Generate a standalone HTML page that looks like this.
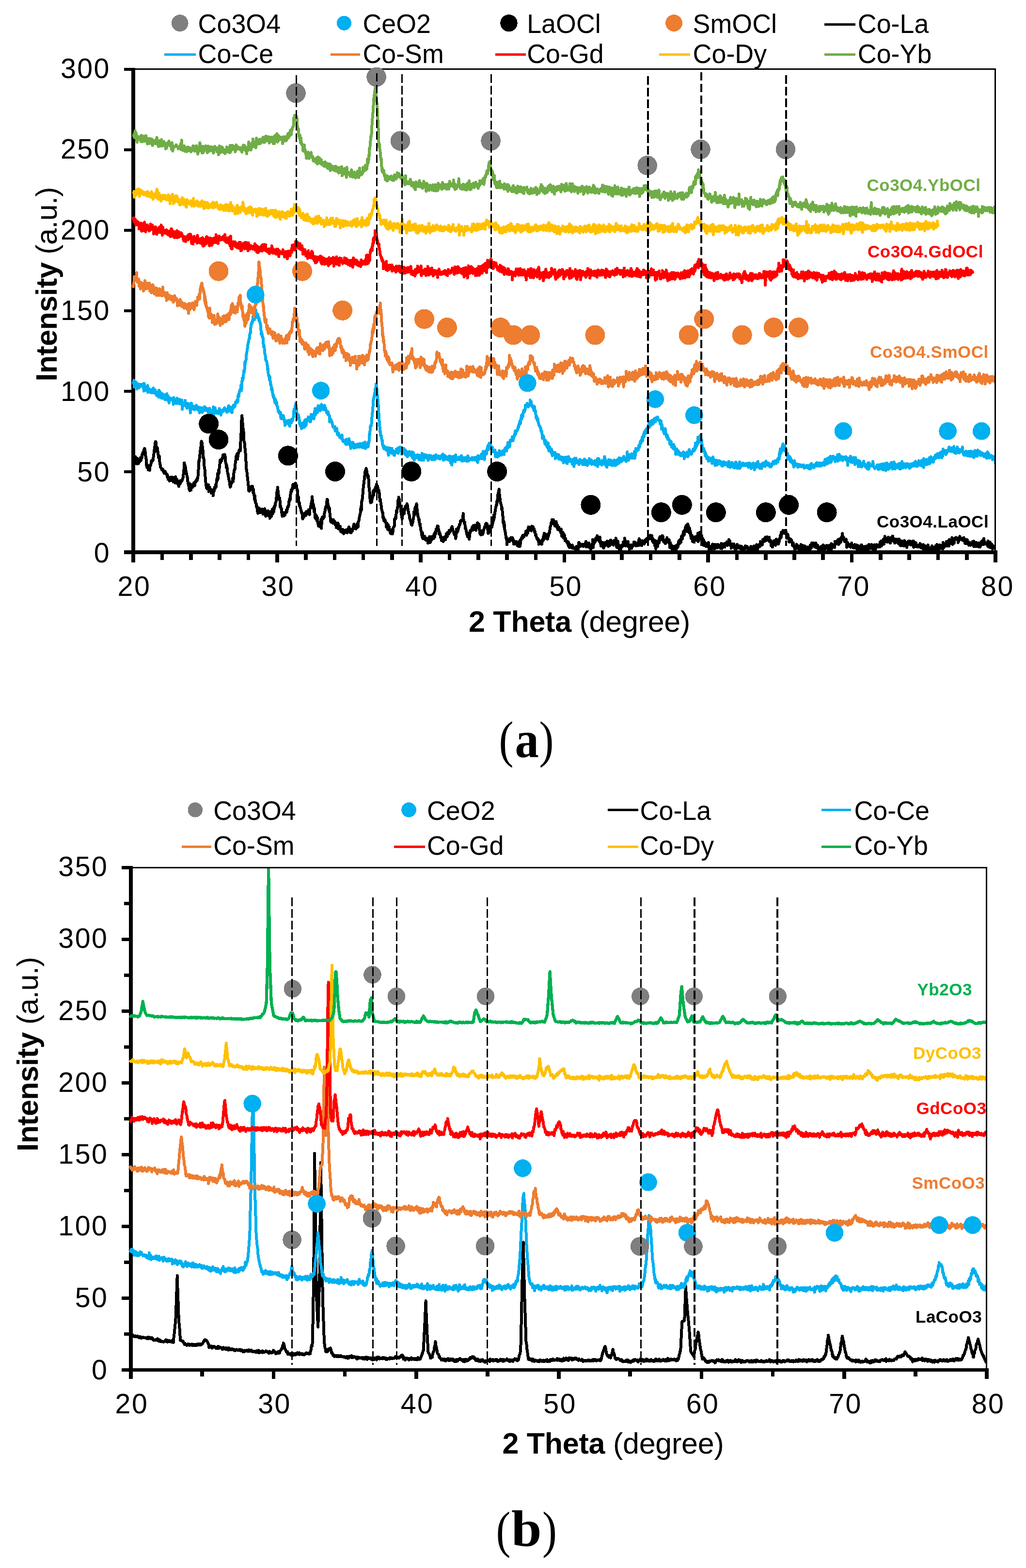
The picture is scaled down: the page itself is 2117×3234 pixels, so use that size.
<!DOCTYPE html>
<html><head><meta charset="utf-8"><title>XRD patterns</title>
<style>html,body{margin:0;padding:0;background:#fff}svg{display:block}</style></head>
<body>
<svg width="2117" height="3234" viewBox="0 0 2117 3234" shape-rendering="crispEdges">
<rect x="0" y="0" width="2117" height="3234" fill="#fff"/>
<g id="chart-a">
<line x1="275.2" y1="139.6" x2="275.2" y2="1159.8" stroke="#000" stroke-width="7.5"/>
<line x1="256" y1="1139" x2="2057.6" y2="1139" stroke="#000" stroke-width="7.8"/>
<line x1="256" y1="1139" x2="275.2" y2="1139" stroke="#000" stroke-width="6.8"/>
<line x1="256" y1="973" x2="275.2" y2="973" stroke="#000" stroke-width="6.8"/>
<line x1="256" y1="807" x2="275.2" y2="807" stroke="#000" stroke-width="6.8"/>
<line x1="256" y1="641" x2="275.2" y2="641" stroke="#000" stroke-width="6.8"/>
<line x1="256" y1="475" x2="275.2" y2="475" stroke="#000" stroke-width="6.8"/>
<line x1="256" y1="309" x2="275.2" y2="309" stroke="#000" stroke-width="6.8"/>
<line x1="256" y1="143" x2="275.2" y2="143" stroke="#000" stroke-width="6.8"/>
<line x1="275.2" y1="1139" x2="275.2" y2="1159.8" stroke="#000" stroke-width="7.6"/>
<line x1="334.5" y1="1139" x2="334.5" y2="1154.8" stroke="#000" stroke-width="7.6"/>
<line x1="393.8" y1="1139" x2="393.8" y2="1154.8" stroke="#000" stroke-width="7.6"/>
<line x1="453.1" y1="1139" x2="453.1" y2="1154.8" stroke="#000" stroke-width="7.6"/>
<line x1="512.4" y1="1139" x2="512.4" y2="1154.8" stroke="#000" stroke-width="7.6"/>
<line x1="571.7" y1="1139" x2="571.7" y2="1159.8" stroke="#000" stroke-width="7.6"/>
<line x1="631" y1="1139" x2="631" y2="1154.8" stroke="#000" stroke-width="7.6"/>
<line x1="690.3" y1="1139" x2="690.3" y2="1154.8" stroke="#000" stroke-width="7.6"/>
<line x1="749.5" y1="1139" x2="749.5" y2="1154.8" stroke="#000" stroke-width="7.6"/>
<line x1="808.8" y1="1139" x2="808.8" y2="1154.8" stroke="#000" stroke-width="7.6"/>
<line x1="868.1" y1="1139" x2="868.1" y2="1159.8" stroke="#000" stroke-width="7.6"/>
<line x1="927.4" y1="1139" x2="927.4" y2="1154.8" stroke="#000" stroke-width="7.6"/>
<line x1="986.7" y1="1139" x2="986.7" y2="1154.8" stroke="#000" stroke-width="7.6"/>
<line x1="1046" y1="1139" x2="1046" y2="1154.8" stroke="#000" stroke-width="7.6"/>
<line x1="1105.3" y1="1139" x2="1105.3" y2="1154.8" stroke="#000" stroke-width="7.6"/>
<line x1="1164.6" y1="1139" x2="1164.6" y2="1159.8" stroke="#000" stroke-width="7.6"/>
<line x1="1223.9" y1="1139" x2="1223.9" y2="1154.8" stroke="#000" stroke-width="7.6"/>
<line x1="1283.2" y1="1139" x2="1283.2" y2="1154.8" stroke="#000" stroke-width="7.6"/>
<line x1="1342.5" y1="1139" x2="1342.5" y2="1154.8" stroke="#000" stroke-width="7.6"/>
<line x1="1401.8" y1="1139" x2="1401.8" y2="1154.8" stroke="#000" stroke-width="7.6"/>
<line x1="1461.1" y1="1139" x2="1461.1" y2="1159.8" stroke="#000" stroke-width="7.6"/>
<line x1="1520.4" y1="1139" x2="1520.4" y2="1154.8" stroke="#000" stroke-width="7.6"/>
<line x1="1579.7" y1="1139" x2="1579.7" y2="1154.8" stroke="#000" stroke-width="7.6"/>
<line x1="1638.9" y1="1139" x2="1638.9" y2="1154.8" stroke="#000" stroke-width="7.6"/>
<line x1="1698.2" y1="1139" x2="1698.2" y2="1154.8" stroke="#000" stroke-width="7.6"/>
<line x1="1757.5" y1="1139" x2="1757.5" y2="1159.8" stroke="#000" stroke-width="7.6"/>
<line x1="1816.8" y1="1139" x2="1816.8" y2="1154.8" stroke="#000" stroke-width="7.6"/>
<line x1="1876.1" y1="1139" x2="1876.1" y2="1154.8" stroke="#000" stroke-width="7.6"/>
<line x1="1935.4" y1="1139" x2="1935.4" y2="1154.8" stroke="#000" stroke-width="7.6"/>
<line x1="1994.7" y1="1139" x2="1994.7" y2="1154.8" stroke="#000" stroke-width="7.6"/>
<line x1="2054" y1="1139" x2="2054" y2="1159.8" stroke="#000" stroke-width="7.6"/>
<clipPath id="clipa"><rect x="265" y="120" width="1789.6" height="1021"/></clipPath>
<g id="curves-a" clip-path="url(#clipa)">
<path d="M276,953.4l.7-6.9 .7,.7 .7-2 .7,7 .7-10.3 .7,14 .7-7.9 .7,4.2 .7-1.5 .7,6.1 .7-11.5 .7,6 .7-.1 .7,5.2 .7-6.9 .8,3.7 .6-3.8 .7,1.8 .7,.3 .7-7.6 .7,6 .7-2.3 .7-3.2 .7-.8 .7-7.2 .7,.4 .7-4.2 .7,.6 .7,.6 .7-5.6 .7-.4 .8-2.9 .6,2.9 .7,5.4 .7,7.7 .7,1.4 .7,9.4 .7,9.8 .7,2.6 .7-3.2 .7-1.8 .7,1.4 .7,8.8 .7-5.1 .7-2.6 .6,4.1 .8,4.5 .7-8.9 .7-.2 .7-2.2 .7-3.5 .7-5.2 .7,1.2 .7-1.5 .7,1 .7-1.1 1-2.1 .4-5.5 .7-3.3 .7-10.4 .7,1.2 .7-8.1 .7-8 .9-3 .5,.6 .7,8.6 .7,5.3 .7,5.8 .7-8.4 .7,2.7 .8,7 .6,5.2 .7,5.9 .7,1.6 .7-4.7 .7,9.5 .7,7.6 .7,1.6 .7,4.8 .9,.9 .5,.6 .7,2.3 .7,1.8 .7-.7 .7,.9 .7-1.7 .7,4.2 .7-.3 .7,3.4 .7,1 .7-3 .5-1.2 .9,.5 .7,4.4 .7,.2 .7-.2 .7,2.2 .7-1.1 .7,6.2 .7-2.4 .7,6.9 .7-1.8 .7,2.8 .7-5.1 .7,5.4 .4,2.2 .3-5.9 .7,2 .7,.6 .7-4.6 .7,4.9 .7,2 .7-5.5 .7,4.7 .7-6.1 .7,5.1 .7-4.8 .7,9.3 .7-2.6 .7-1.7 .7-2.8 .7,6.7 .7,2.6 .7-12.7 .6,10.8 .8,2 .7-3.2 .7-4.7 .7,8.5 .7-2.1 .7-.4 .7-.5 .7,7.8 .7,1.6 .7-6.5 .7,2.1 .7-6.7 .7,5.4 .7-4.4 .7-1.5 .7-.5 .7,1.7 .7-1.6 .7-1.2 .7-1.9 .3-.5 .4-1.6 .7-6.1 .7-3.5 .7-9.1 .7-12.7 .7,6.3 .3,2.4 .4-3 .7,2.6 .7,4.5 .7,4.9 .7,4.8 .7,.1 .7,5.8 .9,2.7 .5,7 .7,1.1 .7,6.9 .7,1.1 .6,6.9 .8-2.3 .7,5.8 .7-14.2 .7,3.2 .7,4.8 .7,5 .7-10.2 .7,.8 .7-1.3 .7,5.2 .7-5.5 .7,2.5 .7-3.2 .7-3.5 .7,5.2 .6,0 .8,.8 .7-6.1 .7-3.3 .7,2.1 .7-2.6 .7-.8 .7-3.1 .7,3.3 .7-4.2 .7-1.8 .7-10.1 .7-9.2 .7-14.8 .7,.1 .7-8.8 .6-4.9 .8-5 .7-10 .7-1 .7-9.6 .3,6.5 .4-8.3 .7,3.4 .7,5.2 .7,7.3 .7,3.3 .7,15.2 .7-.3 .7,4 .7,15.9 .7,2.2 .7,5.4 .7,15.3 .7,7.6 .9,5.3 .5,6.2 .7-3.9 .7,6.2 .7-4.1 .7,3.4 .7-4.9 .7-3.1 .7,14 .7-9.9 .7,2.1 .7-1 .5,2.1 .2,1.7 .7,.5 .7,2.7 .7,4.9 .7-5.1 .7-1.6 .7,1.6 .7,3 .7-2 .6,9.8 .8-7.5 .7-1.5 .7-1.1 .7-7.1 .7-.8 .7,2.9 .7-2.7 .7-6 .7,5.1 .7-13.2 .9,1.1 .5-2.2 .7-12.6 .7,11.8 .7-9.9 .7-9 .7,6.4 .7-9.5 .7-4.9 .7-8 .4,1 .3-6.2 .7,5.8 .7-5.7 .7,.1 .7,1.9 .7-4.8 .7-1.8 .7-1.5 .7-4.2 .7,3.8 .7,1.6 .7-4.6 .6-.4 .8-1.3 .7,3.8 .7,1.8 .7,13 .7-1 .7,9.3 .7-4 .8,4.8 .6,5.8 .7,6.1 .7,.8 .7,5 .7,4.1 .7,4.5 .7-.1 .7,8.4 .9,4.9 .5-1.4 .7-.3 .7-6 .7-.1 .7-2.4 .7,.1 .7-1.1 .7-8.1 .7,3.5 .3,4.1 .4-14.8 .7-2.5 .7-5.1 .7-2.9 .7,.9 .7-10.8 .7-7.5 .7-.9 .7-9.1 .5,3.2 .2-2.6 .7,2.9 .7-8.2 .7,11.5 .7-8.7 .7-2.1 .7-3.4 .7-3.2 .7-1.6 .7,1.6 .7-3 .8,2.9 .6-19 .7-11 .7-14.9 .7-21.5 .5-3.5 .2-2.5 .7,11.8 .7,4.8 .7,9.7 .7,.9 .8,11.7 .6,13.1 .7,2.3 .7,4.6 .7,9.7 .7,6.3 .8,11.6 .6,11.6 .7,12.7 .7,.7 .7,9 .7,5.5 .7,5.9 .7,6.6 .7,6.5 .9,10.4 .5-5.8 .7,5.9 .7-.7 .7-5.1 .7,2.7 .7-5.7 .7-.4 .7,2.4 .7-1.9 1-1.3 .4,.8 .7,3.9 .7,8.7 .7-6.1 .7,11 .7,1.4 .7,7.3 .7,2.4 .5-9.1 .2,12 .7,1.6 .7,1.5 .7,1.1 .7,6.3 .7-1.9 .7,9.8 .7-1.8 .7,7.2 .6-8.6 .8-2.7 .7,8.3 .7,1.3 .7-2.9 .7-4.8 .7,3.7 .7,4.1 .7-2.3 .7,.2 .7,.1 .7-3.2 .7,1.3 .7-3.3 .7,10.6 .7-8 .7,2.9 .7-4.4 .7,6.6 .7-8.4 .7,10.1 .7-2.4 .7,7.7 .5-11.3 .9,5 .7,1.2 .7,3.5 .7-4.8 .7,2.2 .7-7 .7,5.1 .7,4.5 .7,1.6 .7-4.6 .7,8.6 .7-.5 .7-5.3 .4-7.7 .3,2.1 .7,2.2 .7,5.4 .7-4.4 .7-10 .7,4.9 .7,4.4 .7-9.2 .7-3.1 .7,7.9 .7-8.5 .7-3.1 .7,1.4 .9-3.3 .5-5.7 .7,0 .7-5.9 .7-6.4 .7-8.8 .7-.7 .8-9.5 .6,6.2 .7,7 .7,3.8 .7,7.9 .7,.5 .7-3.3 .7,7.3 .7,11.6 .7-2.3 .7,5.7 .7-1.2 .7,9.4 .7-2.5 .6,9.7 .8-6.8 .7,5.7 .7-1.7 .7-4.2 .7,6.5 .7-6.8 .7-.5 .7,4.9 .7-4.5 .7-.6 1,.1 .4-4.6 .7,4.2 .7-4.1 .7-4.9 .7-2.9 .7-1.1 .7,1.7 .7-5.4 .7-7.9 .4,2.9 .3-4.9 .7-2.7 .7,4 .7-11.1 .7-2 .7-7.7 .7-.1 .7,2.8 .7-6 .7,1.9 .7-9 .7-1.1 .7,3.7 .7,3.4 .7-3.2 .7,1.2 .7,1.6 .7-2.7 .7-6.4 .7,2.2 .8,1.3 .6,1.9 .7,8.9 .7-1.6 .7,8.1 .7,9.8 .7-3 .7,9.9 .7,5.7 .7-3.5 .7,7.9 .7-.1 .7,3.6 .7,2.1 .7,4.1 .7,.4 .7,4.8 .7-.6 .7,6.1 .7,5.8 .7-3.7 .6,.8 .8-7 .7,5.4 .7-6.2 .7-.9 .7,4 .7-1.8 .7,2.2 .7-.2 .7-8.1 .7,.3 .9,3.7 .5-3.1 .7,.3 .7,1.6 .7-5.6 .7,5.1 .7,3.2 .8,1.4 .6-11.8 .7-.7 .7-.8 .7-5.6 .7-3.9 .7,.1 .7-7.2 .6-7.4 .8,11.4 .7,1.8 .7,2.8 .7,1.3 .7,12.9 .7-7.5 .7,5.9 .8,9.3 .6,6.6 .7,.9 .7-7.3 .7,4.4 .7-3.1 .7,10.2 .7-6.8 .7,7.5 .7,5.8 .7-2.1 .7,7.1 .7-7 .7,5.2 .7,2.1 .7-4.5 .7,3.7 .7-4.8 .7-8.7 .7,18.3 .7-12.7 .7-3.6 .7-7 .7,4.2 .7-3.6 1,1.4 .4-2.9 .7,1.7 .7-8.5 .7-2.2 .7-3.5 .7-4.6 .7-3.4 .7,1.3 .7-4.3 .7-7.2 .7-5.1 .6,1 .8,9.5 .7-.3 .7,10.1 .7-4.6 .7,7.8 .7-4.9 .7,10.9 .7,5.7 .7,7 .7,4.9 .7-5.3 .7,5.9 .7-2.6 .7,2.3 .7-4.7 .7,6.7 .7-7.4 .7,6.3 .7-3 .7,1.9 .7-1.9 .7,3.7 .7,4 .7-.6 .7-3.8 .7,10 .7-3.4 .7,3.6 .7,.1 .7-5.2 .7-4.3 .7,3.8 .7,8.2 .7-7.3 .7,6.8 .7-3.3 .7,4.6 .7-6.2 .7,10.5 .7-3.4 .7,4 .7-2.3 .7,2.2 .7-1.9 .7,4.6 .7-7.2 .7,1.5 .7,7.1 .7-2.9 .7-1.5 .7-.3 .7,1.5 .7-4.2 .7,4.3 .7-5.1 .7,1.9 .7,3.6 .7,.9 .7-7.4 .7,5.3 .7-6.8 .7,5.5 .7-8.9 .7,1.7 .7,2.5 .7,1.7 .7,5.7 .7-2.1 .7,2.6 .7-.7 .6-5.6 .8-1.1 .7,4.6 .7-3.5 .7-1.6 .7-4.7 .7,4.1 .7-9.2 .7,6.6 .7-3.1 .7,5.6 .7-4.6 .7,.5 .7,5 .7-7.8 .7,4.8 .7-7.4 .7,7.1 .9-.1 .5-1.1 .7-10.8 .7-.1 .7-3.6 .7-5.1 .7-3.2 .7-2.9 .7-3.4 .7-8.4 .7-4.3 .7,7.6 .5-5.1 .2-13.7 .7-.8 .7-5.9 .7-6.8 .7-8.6 .7-9.6 .7-3.7 .7-7 .7-4.5 .7-8 .7-5.6 .8-2.8 .6,2.2 .7-6.5 .7,4.6 .7,.9 .7,9.3 .7-3 .7,7.6 .7-4.4 .3,2.1 .4,1.6 .7,18.5 .7,4.1 .7,6.9 .7,13 .7,3.3 .7,6.3 .7-.6 .7-1.6 .7,1.2 .7-8.4 .7,1.4 .7-4.2 .7-4.6 .7-7.3 .7,9.1 .3-5.5 .4,.6 .7-6.8 .7,3.3 .7-4.1 .7-2.6 .7-2.4 .7,.9 .7-3.4 .5-3.3 .9,14.2 .7-10.7 .7,3.8 .7,1.3 .7,8.2 .7-.2 .7-3.7 .7,8.6 .7,7.6 .6,6.2 .8-3.9 .7,7.2 .7,5.3 .7,1.9 .7,8.4 .7,1.2 .7,3.8 .7-.2 .7,11.1 .7-2.2 .9,7.6 .5-4.8 .7,5.5 .7-2.4 .7,.5 .7,2.4 .7,3.8 .7,1.1 .7,7.4 .7-8.8 .7,1.7 .7,11.2 .7-1.9 .7-6.8 .7,9.9 .7,.7 .7-7 .7,6.2 .7,1.9 .7,3.7 .7,1.8 .7-2.7 .7,3.5 .7-3.7 .7-2 .7,.5 .3,5.5 .4-10 .7,5.7 .7-9 .7-.9 .7-.7 .7-1.1 .7-14.6 .7,.7 .7-.2 .7-5.3 .7,2.1 .7-13.3 .7,3.3 .7-4.6 .7-6.3 .7-1.3 .7-13 .7,3.1 .7-10.3 .5,1.8 .9,3 .7,9.2 .7,5.2 .7-2.2 .7,9.6 .7,4.9 .7,5.1 .7,2.7 .7,5.7 .7-8.9 .7,.9 .7-9.2 .4-2.9 .3,3.6 .7-3.5 .7,9.1 .7-7.8 .7,.5 .7-6.1 .7-2.4 .7-.1 .7,.6 .7-.7 .8-4.4 .6,.9 .7,3 .7,5.6 .7,5 .7,3.7 .7,2.4 .7,1.7 .6,5.1 .8,4.7 .7,.2 .7,3.4 .7,.9 .7,5.8 .7-2.2 .6,3.9 .8-3.5 .7-3.4 .7-.5 .7-6.5 .7-3.4 .7-10.6 .7,3.4 .7,2.5 .7-13.2 .7-2.2 .7,0 .7,2 .7-4.3 .4-4.6 .3,3.3 .7,7.4 .7,4 .7,10.7 .7,.3 .7,1.9 .7,5.8 .3-1.7 .4-.1 .7,7.7 .7,4.2 .7-2 .7,6.4 .7,4.4 .7,5.3 .7,1.1 .7,6.4 .4,.2 .3,3.3 .7-9 .7,12.2 .7,.1 .7-3.9 .7,2.4 .7,.3 .7-4 .7,3.8 .7,2.6 .7-1.1 .7,2.8 .7-1.9 .7,.4 .7-2.1 .7,1.6 .7,.1 .7,8.4 .7-5.3 .7-3.7 .7,4.8 .7-.3 .7-9 .4,12.5 .3-6.9 .7,6.2 .7-5.6 .7-4.1 .7,5.4 .7-7.6 .7,2.6 .7,.9 .7,0 .7,.8 .7-3.7 .7-3.7 .7,6.8 .7-9.6 .7,6.9 .7-9.6 .7,4 .7-2.2 .7-8.5 .7,2.1 .7-.7 .7-2.7 .7-5.3 .3,.5 .4-.6 .7,.5 .7,9.7 .7-3.3 .7,9.7 .7,.5 .7-2.8 .7,4.6 .7,1.7 .4,0 .3,4.6 .7-3 .7,7.8 .7-1.8 .7-4.5 .7,4.2 .7,.1 .3-3.9 .4,8.2 .7-.8 .7-1.7 .7-6.2 .7,5.5 .7-5.2 .7,2.5 .7,2 .7-6.1 .7-5.9 .7,2.1 .7,2.4 .7,1.5 .9-9.3 .5,2.7 .7,.1 .7-.4 .7,.8 .7-7.4 .7,.4 .7,3.7 .7-2.9 .7-1.4 .7,.8 .7-4.7 .5,1 .2-2.4 .7-2.1 .7,1.6 .7,6.2 .7,.3 .7,.6 .7,4.5 .7-2.3 .7,5.8 .7,.6 .7-.4 .8-2.9 .6,10.8 .7-6.4 .7-12.7 .7,5.9 .7,1 .7-4.6 .7,1.6 .7-7.2 .7,2.6 .7-3 .7-3.1 .7-2.8 .7-.9 .6,.7 .8-7.1 .7-1.1 .7,.8 .7-1.7 .7-.3 .7,.3 .7,.7 .7-5.9 .8-8.4 .6,10.8 .7,5.2 .7,1.1 .7,4.4 .7-3.5 .7,13.3 .7,.6 .7-.6 .9,6.6 .5,.1 .7,4.9 .7,.9 .7,4.2 .7-1.4 .7-6 .7,.9 .7,9.7 .7,1.9 .3-5.8 .4,.9 .7-9.3 .7-4 .7,.3 .7,1 .7-2.8 .7-1.3 .7-3.3 .7,1.3 .4,1.3 .3-4.8 .7,7.4 .7-9 .7,0 .7,3.8 .7-2.9 .7,4.7 .7-6.4 .7,6.4 .7-3.2 .7,7.1 .7-9.9 .7,1.2 .7,.9 .7-7.7 .7,8.9 .7,0 .7-.7 .7-6 .7,2.7 .7,9.9 .7,4 .7,4.7 .7-5.8 .7,2.5 .6,4.9 .8-8.4 .7,3.3 .7,3.2 .7,.9 .7-6.1 .7,3.2 .7-5.1 .7-2.3 .7-2.9 .7-.3 .7-3 .7-1.2 .7-3.8 .4,3 .3-.8 .7-3.7 .7,5.3 .7-1.2 .7-2.3 .7,10.2 .7,4.9 .7,4.2 .7-1.6 .5-6.8 .9,5.2 .7-1.8 .7-10.9 .7,7.9 .7-2.1 .7-3.2 .7-.5 .7-2.3 .7,3.2 .7-8.3 .8-.5 .6-2.5 .7-3 .7-10.7 .7,7.8 .7-7.4 .7-2.5 .7-4.9 .7-4.9 .7-4 .7-2.6 .7-3.3 .5,1 .2-4.1 .7-5.5 .7,3.8 .7-14.7 .7-4 .7,2.4 .7-4.6 .4-6 .3,7.3 .7,3.4 .7,11.1 .7-2.2 .7,8.9 .7,1.8 1,3 .4,3.5 .7,5.7 .7-3.5 .7,14.6 .7,2.5 .7,12.6 .7-2.9 .7,10.4 .7-7.5 .4,12.9 .3,.2 .7,2.2 .7,4.4 .7,4.2 .7,6.3 .7,2.9 .7-1.5 .3,6.4 .4,7.6 .7-7.5 .7,.3 .7-2.8 .7,1.7 .7,.2 .7-1.3 .7,3.4 .7-6.5 .7,2.3 .7,1.5 .7-2.5 .7-3.3 .7,5.4 .7-5.2 .7,.9 .4-1.2 .3,2.9 .7-.6 .7,1.2 .7,5.1 .7,4.9 .7-6.1 .7,3.2 .7-2.1 .7,1.5 .7,3.6 .7-3 .7-2.3 .7,.7 .7,1.2 .7,2.8 .7,3.9 .7-6.9 .7,2.2 .6,1.1 .8-4.5 .7,10 .7-6 .7,5.6 .7-13.1 .7,7.9 .7-8.3 .7-.4 .7-3.2 .7-1.1 .7-2.5 .7,4 .7-6.3 .7,2.8 .7-.3 .6,.7 .8-2.9 .7,0 .7-.8 .7-3.3 .7,0 .7-4.8 .7,0 .7,8.5 .7-6.9 .7-3.7 .7,6.5 .7-6.8 .7-2.6 .5-3.9 .2,7.8 .7-6.7 .7,1 .7,3.4 .7-2.3 .7-.9 .7-1.3 .7,4.1 .7,3.2 .7-9.6 .7,2.6 .8,3.9 .6-1.8 .7-3.9 .7,2.9 .7,1 .7,.8 .7,3.1 .7,4.7 .7-1.7 .7,6.7 .7-1 .7,.5 .4,5 .3-.7 .7,.8 .7,4.4 .7-.2 .7-1.7 .7,4.1 .7-1.6 .7,9.4 .7-6.2 .7,1 .7,1.7 .7-2.8 .7,5 .7-3.2 .7-1.9 .7,1.8 .4,4.6 .3-8.4 .7,3.4 .7-5.4 .7,3 .7-7.7 .7,6.4 .7-6.1 .3-7.9 .4,10.2 .7-6.6 .7-1.1 .7-1.1 .7,6 .7,3 .7-6.4 .7-1.2 .7-.4 .7,8.8 .7,.8 .7-5.3 .7,0 .7-4.5 .7-3.2 .7,.9 .7-5.1 .7-3.8 .7-5.7 .7-.6 .8-6.6 .6-1 .7,.1 .7-5.6 .7,1.5 .5-.3 .2,1.5 .7-2.4 .7,.1 .7,9.1 .7-.8 .7,.3 .7,4.3 .7-4.2 .7-1.4 .7,3.5 .7-6.9 .7,3.7 .7,7.4 .7-1.1 .3-3.5 .4,7.1 .7,2.6 .7-.7 .7-2.2 .7-1.8 .7,4.2 .7,2.1 .7-2 .7,3.8 .7,1.4 .7,1.8 .7-7.3 .7,11.8 .7,3.2 .7-5.4 .7-3.5 .4,7.1 .3-3.1 .7-.5 .7,8.8 .7-8.5 .7,8.7 .7-5.6 .7,10.5 .7-2.2 .7-1.5 .7,3.4 .7,2.4 .7,1.2 .7,1.4 .7,.6 .7-2.1 .7,5.2 .7-5.9 .7,9.8 .6,.1 .8,1.8 .7-6.7 .7,3.1 .7,3.4 .7-1.3 .7-2 .7,2.5 .7-.7 .7,3 .7-5.9 .7,4 .7,.9 .7,2 .7-2.2 .7,2.2 .7-.6 .7,.2 .8,.5 .6-1.2 .7,10.2 .7-13.2 .7-.1 .7,.8 .7-.3 .7,1.8 .7,4.7 .7,.4 .7-6.2 .7-9.7 .7,9.3 .7-5.5 .7,2 .7-2.9 .7,5.3 .7-4.2 .7,3.8 .7-1.5 .7-2.1 .7,1 .7,2.4 .7-3.7 .7,4.5 .7-3.8 .7-.3 .7,1.6 .7,1.4 .7-3.8 .7-1.9 .7,2.7 .7-6.2 .7,11.2 .7-8.5 .7,8.1 .7-4.3 .7,4.4 .7-1.5 .7,1.8 .7-4 .7-3.8 .7,9.4 .7-3.2 .7,.3 .7,.7 .7,10.2 .7-10.5 .7,1.5 .7-6.1 .7,7.2 .7-8.3 .7-8.5 .7,16.8 .7-14.2 .7,7.2 .7-2.9 .7-1.7 .7-4 .7,.1 .7,2.6 .7-6.8 .7,.4 .7,.8 1-5 .4-1 .7,7.5 .7-3.3 .7-.4 .7-1 .7,.2 .7,8.1 .7,1.1 .7-9.4 .7,6.5 .7,6 .7,5.8 .7-.3 .7-3.7 .7,2.5 .7-5.7 .7,5.6 .7-6 .5,2.5 .2,3.2 .7,6.3 .7-5.2 .7-1.3 .7-1.4 .7-3.5 .7,6 .7-2.9 .7,1.8 .7-4.7 .7,2.9 .7-6.2 .7,6.3 .7,2 .7-1.4 .7,4.2 .7-6.3 .7,0 .7-.2 .7-4.9 .7,9.2 .7-4.8 .5-4.3 .2-2 .7,5.6 .7,.4 .7-1.7 .7,.7 .7-1.3 .7,.6 .7,5 .7,1.2 .7-9.4 .7,5.2 .7-4.5 .7-.1 .7,6.9 .7-4.4 .7-8.2 .7,13.7 .7,2.9 .7,2.8 .7-7.6 .7,6.5 .7-12.2 .7,6.1 .7,6.4 .7,1.4 .7,3.5 .7,0 .9-2.7 .5,4.6 .7-4.4 .7,2.8 .7-9.1 .7,3.3 .7-3.7 .7,3.6 .7-4.2 .7-1.6 .7-4.2 .7,4.8 .7,2.1 .7-1 .7-13.8 .7,3.9 .9,12.2 .5-6.5 .7,.9 .7,4.4 .7-3.7 .7-2.2 .7,1 .7,6.9 .7-9.9 .7,10.6 .7-3.9 .7,.6 .7,8.3 .7-7.7 .7,5 .7-3.8 .9-2.4 .5,3.9 .7,3.9 .7-5.5 .7,2.4 .7-1.6 .7-.9 .7-1.2 .7,1.1 .7-7.4 .7,5.5 .7-5.8 .7,6.4 .7-.5 .7-3.7 .7,5.5 .7-2.6 .7-.1 .7-2.9 .7,3.4 .7,2 .7-6.4 .7-.4 .9,6.5 .5-12 .7-2.1 .7,2.2 .7,7.5 .7-.7 .7,1.5 .7-1.7 .7,5.3 .7,.1 .7-2.2 .7-7.7 .7,5.2 .7-3.9 .7,.9 .7-1.4 .7,3.7 .7,2 .7-1.8 .4-5.2 .3-1.1 .7,.8 .7-1.5 .7,4.2 .7-5.8 .7-.1 .7-1.1 .7,3.8 .7,1.1 .7-5.5 .7-3.1 .7,4.7 .7-3.4 .7-2.6 .7,4.9 .7-1.9 .7-4.8 .7,7.4 .7,.6 .7-6.7 .7-.2 .7,8.6 .7,2.9 .3,.6 .4-6.6 .7,4.8 .7,4.7 .7-6.1 .7,6.7 .7,1.2 .7,4.2 .7-11 .7,10 .7,7.4 .7-8.1 .7,2 .7,2.4 .7-6.5 .7,5.7 .7-3.9 .7-8.2 .7,4.4 .7-7.1 .7,6.6 .7-10.3 .7-2.3 .7,.9 .7-.3 .7,6.3 .7-5.6 .7-.3 .7,2.3 .7-5.2 .7,2.2 .7,0 .7,6.9 .7,3.8 .7-3.4 .7-.4 .7,1.3 .8,.2 .6,6 .7-6.3 .7,2.9 .7-4 .7-2.3 .7-2.9 .7,6.2 .7,3.3 .7-2.7 .7,.2 .7-2.3 .4,.1 .3-.2 .7,7 .7,8.5 .7-5.3 .7-4 .7,10.4 .7-7 .7,6.1 .7-2.1 .6,1.9 .8,11.8 .7-14 .7,.8 .7,3.4 .7-1.8 .7-1.5 .7-.9 .7,4.6 .7,2 .7-7.4 .7-.4 .7,10.4 .7-11.4 .7,6.4 .7-2.3 .6-5 .8,4.4 .7-8 .7-1.7 .7-3.1 .7,7 .7-5.6 .7,4 .7-8 .7,3.6 .7,1.9 .9-7.4 .5-5.2 .7,1.3 .7,4.5 .7-3.5 .7-5.2 .7-6.2 .7,6.2 .7,1.1 .7-2.1 .7-6.2 .7-4.3 .5-2.9 .9,.4 .7-4.7 .7,12 .7-7.3 .7,7.9 .7-9.2 .7-6.3 .7,10.8 .7-7.1 .7,3.6 .7,9.2 .7,2 .7-9.7 .7,9.7 .7-1.6 .6,6.9 .8,5.6 .7-6.7 .7,8 .7-7 .7,12 .7-9.4 .7,2.1 .7,3.6 .7-4.1 .7,9.5 .7-10.3 .7,5.7 .7-6.8 .7,4.5 .7-1.8 .7-2.7 .7,4 .7-5.7 .7,9.4 .7-4.7 .7-10.5 .7,17.4 .7-7.1 .7,3.1 .7-7 .7-7.9 .9,5.6 .5-3.1 .7,6 .7,.1 .7,3.3 .7-5.2 .7,8.3 .7,.1 .7,4.8 .7-6.9 .7,5.4 .7,8.3 .6-9.3 .8,6.7 .7,2.5 .7-4.9 .7,3.9 .7,.6 .7,2.8 .7-5.8 .7,1.9 .7,3.6 .7-4.4 .7,3.3 .7-1.9 .7-5 .7,10 .7,5.7 .7-6.9 .7,2 .8-2.1 .6-.7 .7,2.1 .7,3 .7,4.2 .7-4.9 .7-6.3 .7-2.7 .7,9.2 .7-3.2 .7-3.1 .7-1.6 .7,1.2 .7,7.6 .7-4.5 .7-4.8 .7,7 .7-2 .7-2.5 .7,3.6 .7-4.8 .7,6.3 .7-7.8 .7,1.8 .7-1 .7,2.3 .7-1.2 .7,.9 .4,1.5 .3,1.5 .7-1.6 .7,.5 .7,4.1 .7-6.5 .7-4.4 .7,8.2 .7,2.7 .7-5.7 .7,1.8 .7-4.8 .7,2 .7,.8 .7-1.1 .7-3.3 .7,7.1 .7-6.5 .7,2.6 .7-2.1 .7,1.1 .7-1.2 .7-4.7 .7,3.6 .7,3.9 .7-1.7 .7-4.8 .5,2.6 .9-8.4 .7,10.4 .7-3.1 .7-4.5 .7,7 .7,3.2 .7-4.7 .7,9.7 .7-1.4 .9-7.3 .5,6.6 .7-2.4 .7-2.6 .7,1.6 .7-.3 .7-3.2 .7,3.8 .7,4 .7,3.2 .7,.7 .7-6.9 .7,1.6 .7-2.5 .7,6.4 .7-9.1 .7,.2 .7,2.8 .7,4.1 .7-1.4 .7,1 .7-.1 .7,.9 .7-4.4 .7,2.4 .7,2.9 .7-1 .7,2.5 .7-6.3 .7,6.1 .7,1 .7-5.6 1,1.8 .4,.2 .7,1.5 .7-.6 .7,4 .7-3.7 .7,1.1 .7-1.6 .7-4.9 .7,4.7 .7-2.1 .7-.9 .7-.6 .7,3.1 .7-1.9 .7,9.3 .7-1.3 .7-5.7 .7,3.4 .7,.7 .7-4 .7,7.3 .7-2.7 .7-3.4 .7-5 .7,3.4 .7,4.6 .7-3.2 .7,.9 .7-2.7 .7,3 .7-2.5 .7-3.7 .4,4.4 .3-.4 .7-4.3 .7,9.6 .7-5.4 .7-1.6 .7,3.4 .7-4.2 .7,3.3 .7-8.1 .7,1.6 .7,5.5 .7,3.1 .7-5.3 .7-.3 .7-3.6 .7,2.2 .7-3.3 .7,1 .6,3.1 .8-10.2 .7,6.4 .7-4.1 .7,0 .7,4.9 .7-2.9 .7,1.7 .7-10.1 .7,3.5 .7-.9 .7-1.1 .7,2.3 .7,0 .7-7 .7-.6 .7-1.4 .7,7.7 .8-7.4 .6,2.2 .7-.8 .7-2 .7,4 .7,.1 .7,2.8 .7-4.6 .7-.6 .9-.8 .5,8.6 .7-.5 .7-2.6 .7,4.2 .7-2.5 .7,10.4 .7-7.9 .7,1.7 .7,1.5 .4,7.2 .3-5.9 .7,2.2 .7-4.7 .7-4.1 .7,6.2 .7-4.8 .7-2.7 .7,2.9 .7,3.7 .7,3.6 .7-10.1 .7-2.9 .7,9.9 .7-2.9 .7-3 .7,3.3 .7-.1 .7,3.5 .6-6.6 .8,3.4 .7-7.3 .7-2.3 .7,1.7 .7-6.5 .7-2.3 .7,6.4 .7-11.5 .7,5.3 .7-2.4 .9-2.1 .5-2.6 .7-1.7 .7,3.8 .7-1.2 .7,2 .7,1.5 .7-4 .7-2.4 .7,4.3 .3-3.9 .4,.3 .7,3.5 .7,4.4 .7,8.1 .7-.2 .7-8.5 .7,1.2 .7,5.9 .7,2 .7-2 .7,9.2 .7-3.1 .7,2.9 .7-5.8 .7-.4 .7,.9 .7,4 .7-2 .7,3.1 .7,2.1 .7,5.5 .7-4 .7-1.4 .7,4.7 .7,3.1 .5,1.7 .2-4.2 .7,5.8 .7,2.7 .7-3 .7-.5 .7-2.3 .7-.7 .7-4.6 .7,8.4 .7-3.1 .7,1.7 .7,1.3 .7-4.7 .7,6.4 .7-2.9 .7,5.2 .7-4.6 .7,.6 .7-1.9 .7,5.6 .7-11.5 .7,5.2 .7,1.3 .7-3.9 .7,2.9 .7-3.5 .7,8 .7-5.3 .7,5.7 .7-2.2 .7-1.8 .7-3.5 .6,3.1 .8,3.1 .7-1.2 .7,2.7 .7-4.6 .7,8.6 .7-6.7 .7-2.5 .7,7 .7,.2 .7-5.4 .7-1.7 .7,5.2 .7-6.3 .7,5.8 .7-8.5 .7,3.8 .7-.3 .7,2.9 .7-11.1 .7,6.7 .7-1.9 .7,.7 .7-3.5 .7-2 .7,2.4 .7,.2 .9,5.2 .5-5 .7,.4 .7,3.5 .7-7.2 .7,8.7 .7,1.3 .7,.9 .7-3.8 .7-2.6 .7,1.6 .7,4.3 .7,1.5 .7,2.4 .7,1.1 .7-2.4 .7-3.1 .7,.7 .7-2 .7,5.2 .7-.8 .7-.6 .7-5 .7,7.5 .7-8.2 .7,8.8 .7-1.8 .7-9.1 .7,5.3 .7-2.9 .7,4 .7,2.5 .7-2.5 .7-4.4 .7,4.9 .7-.7 .7-2.1 .7-3.3 .7,2.9 .7,1.9 .7-.9 .7,7.9 .4-5.7 .3-2.1 .7,2 .7-5.9 .7,5.1 .7,3.9 .7-9.1 .7,3.8 .7,1 .7-8.4 .7,10.9 .7-9.8 .7,2 .7,2.2 .7-2.3 .7,3.7 .7-3.1 .7,1.6 .7-1.8 .7,4.4 .7-12.6 .7,6.9 .7-2.2 .7-3.2 .3-.2 .4,.1 .7,3.3 .7-5.8 .7,2 .7,1 .7-5.4 .7,6.8 .7,3.4 .7-11.1 .7,4.7 .7-5.3 .7,2.3 .7-3.3 .7,8.1 .7-9.1 .7,2.9 .7-2 .7-6.2 .6-4 .8,9.8 .7,2 .7-3.6 .7,.6 .7,6.2 .7,.5 .7,1.5 .7-1.5 .7-2.4 .7-.1 .7-.8 .7,7.7 .7,8.6 .4-4.4 .3-1.7 .7-4 .7,2.4 .7,3 .7-1.3 .7,4 .7-3.5 .7,3.1 .7-2.8 .7-.2 .7,5.6 .7-7 .7,1.3 .7-3.4 .7,5.2 .7,3.7 .7-1.3 .7,.9 .7,1.6 .7-1.2 .7,1.2 .7-1.9 .7-5 .7,5.6 .7,1.4 .7-6 .7,3.9 .7,3.7 .7-4.1 .7-3.3 .7,4.8 .7,5.2 .7-8.4 .5,3 .9-2 .7,1.2 .7,2.4 .7,4.3 .7-7.9 .7-.2 .7-.7 .7-.8 .7-1.5 .7,2.6 .7,2.6 .7,1.2 .7,3.9 .7-6.5 .7,.5 .7-.2 .7,3.2 .7-2.1 .7,3.4 .7-5.4 .7,4.6 .7,.5 .7-3.9 .7-1.4 .7,2.7 .7-3.7 .7,10.5 .7-7.2 .7,2.3 .7-6.8 .7-1.5 .7,8.8 .7-.9 .7-4.7 .7,.4 .7-.2 .7,3 .7,1.8 .7-8.3 .7,7.5 .7-3.8 .7,1.4 .7,1.1 .7-4.3 .7,14.1 .4-1.4 .3-6.4 .7-1.6 .7-5.9 .7,12.4 .7-8.5 .7-.8 .7,4 .7-3.2 .7-4.1 .7,1.5 .7-.9 .7,1.2 .7,1.8 .7-.8 .7,2.3 .7-5 .7,3 .7,2 .7-10.7 .7,6.8 .7-6.2 .7-2.3 .7,10.1 .7-2.1 .7-2.6 .7-4 .7,5.5 .8-10.2 .6,5.1 .7,1.7 .7,2.4 .7-10.1 .7-5.5 .7,10.8 .7-.1 .7-.4 .7-3.8 .7,2.9 .7-5.2 .7,6.4 .7,1.3 .7-6.2 .7-4.4 .7,6.7 .7-.6 .7-.3 .7,4.7 .7-3.8 .7,6.2 .7-6.3 .7-5.3 .7,7.8 .7-4.7 .7-2.2 .7,2.2 .4-1.1 .3-5.4 .7,2.9 .7,7.4 .7-2.5 .7,2.2 .7,1.5 .7,3.1 .7-8.3 .7,.5 .7-.3 .7,1.1 .7-.7 .7,3.9 .7,.3 .7,2.5 .7-6.6 .7,3 .7,4.9 .7,1.3 .7-10 .7,6.8 .7,2.3 .7-6.1 .4,8.7 .3,2.2 .7-10.1 .7,.4 .7,8.9 .7,.6 .7-9.2 .7,2 .7,5.5 .7-2.9 .7-1.7 .7,7.2 .7-3.5 .7-7.9 .7,6.8 .7-4.8 .7,7.5 .7,1.1 .7-2 .7,1.8 .7,4 .7-5.4 .7-4.3 .7-2.2 .7,4 .7-3.9 .7-1.7 .7,3.6 .7-3.5 .7,1.5 .7,6.5 .7-3 .7,.7 .7,1.5 .7-6.1 .7,7.3 .7-.9 .7-.5 .7,1.8 .7-9.1 .7,13.3 .7-7.1 .7-3.3 .7,5.4 .7-4.9 .7,5 1,1.9 .4-5.9 .7,7.6 .7-3 .7,.6 .7,.4 .7,.9 .7,1.9 .7-.5 .7-.1 .7-4.1 .7,4 .7-3.2 .7-3.6 .7,4.6 .7-3 .7,7.4 .7-3.4 .7,1.1 .7,3 .7-4.2 .7,.7 .7,5.4 .7-9.2 .7,1.5 .7,3 .7,4 .7-1.9 .7-4.4 .7,1.3 .7,8.8 .7-4.5 .7-2.9 .7,.1 .7,14.3 .7-8.5 .7-10 .7,4 .7,3.9 .7-2.9 .7,4.5 .7,2.9 .7-5.3 .7,1 .7-2.4 .7,3.7 .9,2.1 .5-2.8 .7-7.3 .7,6.7 .7-3.9 .7,7.8 .7-4.1 .7,2.4 .7-3.6 .7-.8 .7,.9 .7-1.9 .7,5.6 .7-9.2 .7,5.6 .7-4.3 .7,5.4 .7-9.2 .7,10.7 .7-6 .7-3 .7,7.2 .7-3.5 .7,1.3 .7,2.3 .7-7.9 .7,1.5 .7,2.3 .7,1.6 .7-3.9 .7-.1 .7,5.9 .7,.2 .7,1 .7-5.9 .7-8 .7,10.5 .7,.2 .7-8.1 .7,4.8 .7,0 .7-.3 .7-3.2 .7,1.7 .7,1.4 .7-8.8 .7,9.3 .7-3.8 .7,3.2 .7-6 .7-3.9 .7,10.2 .7,.5 .7-13.1 .7,1.6 .7,4.9 .7-4.2 .7,5.4 .7-6.2 .7,.1 .6,2.2 .8-8 .7,6.2 .7,7.8 .7-5 .7-5.5 .7,6 .7,2 .7-3.5 .7-6.9 .7-.3 .7,.5 .7-1.8 .7,3.5 .7-3.1 .7,.2 .7,4 .7-2.9 .7,.7 .7,8.3 .7-6.7 .7,3 .7-2.9 .7,.5 .7-6.8 .7,2.9 .7,1.3 .7,0 .7,.4 .7,1.6 .7-1.2 .7,2.6 .7-3.7 .7,4.5 .7-2.7 .7-1.6 .7-1.6 .7,2.4 .7,2.5 .7,6.3 .7-7.5 .7,8.6 .7-3.2 .7-2.3 .7-1 .7,6.4 .7-7.8 .7,5.1 .7,.7 .7,2.5 .9,3 .5-3.9 .7,1.9 .7-4.1 .7,4.7 .7,1.7 .7-3.2 .7,1.9 .7-.2 .7-1 .7,.8 .7-.6 .7-5.8 .7,2.4 .7,6.4 .7-9.2 .7,11.2 .7-8.4 .7,5.6 .7,.6 .7-3.5 .7,5.6 .7-8.8 .7,7.6 .7-2.7 .7,.1 .7,3.5 .7-1.5 .6-6 .8,8.1 .7-2.1 .7-3.6 .7,.5 .7,4.1 .7,1.7 .7-3.9 .7-6.4 .7,3.6 .7,1.9 .7-5.5 .7-2.6 .7,4 .7,0 .7,.9 .7,2.8 .7-12.2 .8,7.8 .6-.6 .7,1.2 .7,.5 .7,2.6 .7-1.3 .7-1.4 .7,.8 .7,.1 .7,.3 .7,5 .7-10.3 .7,2 .7,10.9 .7-2.9 .7,.1 .7,2.7 .7-10.3 .7,11.5 .7-8.7 .7,1.2 .7,7.3 .7-7.3 .7,6.4 .7,3.7 .7-7 .7,.1 .7,4.3 .4,1.5" fill="none" stroke="#000" stroke-width="6" stroke-linejoin="round" stroke-linecap="round"/>
<path d="M275.1,789.6l.7,1.8 .7-7.1 .7,14 .7-12.3 .7,3.9 .7,4.9 .7-7 .7,1.3 .7,.4 .7,6.4 .7,6.6 .7-7.4 .7-3.3 .7,5.8 .7-3.7 .7,1.3 .7,4.5 .7-7.2 .7,3.2 .7-2.9 .7,2.5 .7,1.9 .7-4.7 .9,2.1 .5,.2 .7-.9 .7-1.8 .7-.3 .7,5.3 .7,.7 .7,8.8 .7-15.8 .7,10.2 .7,1.1 .7,3.3 .7-3.2 .7-4.5 .7,2.4 .7,2.2 .7-3.2 .7,4.4 .7-8.5 .7,14.1 .7-.4 .7-6.7 .7,4.8 .7-1.4 .7-2.9 .7,3.6 .7,3.4 .7-4.8 .7-.6 .7,1.7 .7,2.2 .7,2.6 .7-6.7 .7,4.9 .7-.8 .7-7.7 .7,5.5 .7,1.9 .7,1.4 .7,2.2 .7-7.7 .7,8 .7-1.8 .7-2.4 .7,7.2 .7,.8 .8-4.5 .6,5.5 .7-4.3 .7,1.6 .7-4 .7,9.7 .7-14.7 .7,9 .7,3.2 .7-9.1 .7,6.7 .7,.9 .7,3 .7,2.7 .7-6.1 .7-3.5 .7,10.1 .7-.5 .7-5.7 .7,3 .7,.2 .7,1 .7,.2 .7,4.6 .7-10.6 .7,9.9 .7-1.6 .7-2.4 .7,4.9 .7-12.5 .7,12.3 .7-2.6 .7-5.7 .7,6.5 .7-2.7 .7,11.1 .7-1.9 .7-4.7 .7-3.8 .7,.9 .7,1.7 .7-.5 .7-.8 .7,1.3 .7,.8 .7-.5 .7-.9 .7-1.3 .7,12.4 .7-13.7 .7,2.5 .7,4.7 .7-2.5 .7,3.5 .7,1.9 .7,.9 .7-1.2 .7-5.8 .7,8.3 .7-11.1 .7,5.8 .7-.5 .7-2.2 .7,5.9 .7-3.1 .7,5 .7-8.6 .7,9.8 .7-.8 .7-.9 .7-4 .7,4.8 .7-4.7 .7-2.4 .7,19.2 .7-8 .7,1.6 .7-7.6 .7,4.2 .7-.3 .7,0 .7-1.6 .7-.2 .7-6.7 .7,10.4 .7,.3 .7,2.1 .7-4.8 .7,8 .7-7.2 .7-2.7 .7,7.4 .6-3.9 .8-2.8 .7,4.9 .7,2.1 .7-2 .7,.7 .7,13.2 .7-11.4 .7,3 .7-11.8 .7,9.2 .7,2.4 .7-3.8 .7-2 .7,4.8 .7-3 .7-.7 .7,6.2 .7,.8 .7-3.3 .7-3.1 .7,3.6 .7,.7 .7,.2 .7-7.5 .7,3.7 .7,2.6 .7,1.7 .7,1.4 .7-.1 .7-5.7 .7,2.2 .7-1.4 .7,11.3 .7-5.7 .7,1.3 .7,1.4 .7-4.9 .7-2.8 .7,2.5 .7,1.4 .7,5.9 .7-2.4 .7-6.3 .7,6.2 .7-.2 .5-6.1 .9,3.5 .7-6.6 .7,7.6 .7-1.7 .7-4.1 .7,2.8 .7,3.3 .7-2.5 .7,2.8 .7,.5 .7-4.3 .7,1.7 .7,8.8 .7-6.9 .7-3.9 .7,4 .7-4.8 .7,8.7 .7-2.4 .7,2.5 .7,0 .7-1.4 .7,2.7 .7-2.8 .7-2.8 .7-1.3 .7,2 .7-7.9 .7,15.7 .7-13.5 .7,5.6 .7-4 .7-2 .7,7.2 .7-1.3 .7,1.6 .7,3.2 .7-3.8 .7,3.6 .7,.5 .7-2.4 .7,.5 .7,2.7 .7-1.9 .7-.1 .4-8.5 .3,8.5 .7-.1 .7-1.8 .7,2 .7,5.1 .7-6.6 .7,1.9 .7-4.8 .7-.7 .7,.8 .7-1.3 .7,3 .7-3.9 .7,2 .7-4.9 .7-.4 .7,3.6 .7-1.8 .7,1.7 .7,0 .7,1.1 .7,4.3 .7,.2 .7-3.1 .7-4.5 .7,6.5 .7-10.5 .7-2 .7,8.5 .7-.2 .7,0 .7,.9 .7-6.5 .7,1.6 .7,7.9 .7-.8 .8-6.4 .6,9 .7-11.6 .7,.8 .7,2.9 .7-7 .7,1.7 .7,.1 .7-2.2 .7,3.3 .7-2.2 .7-7.5 .7-.1 .7,2.6 .7-2.1 .7-3.7 .7,3.2 .7,.8 .7-6.6 .4,3.7 .3-10.6 .7-2.7 .7,4.5 .7-7.6 .7-3.1 .7-.7 .7-3.4 .7,.5 .7-8.6 .7,.8 .7,9.6 .7-14.1 .7-11.4 .9,4.5 .5-3.5 .7-1.4 .7-9.2 .7-6.8 .7,3.8 .7-6.2 .7-14.4 .7,4.3 .7-7.7 .7-.9 .7-11 .7-.8 .7-6.7 .7-3.4 .7-6.8 .7-4.9 .7-2.3 .7-2.6 .7-5 .7-.1 .7-8.3 .7-4.2 .7,1.2 .7-11 .7-2.8 .7-7.6 .7-1.4 .5,2.5 .9-6.8 .7,2.3 .7-10.5 .7-3.3 .7,4.3 .7-7.8 .7,13.7 .7-6.9 .7-11 .7,1.8 .9-3.3 .5,6 .7-.3 .7,5.5 .7,3.9 .7-4.5 .7-2.3 .7,6.5 .7-1.3 .7,6.9 .7-3.3 .7,6.4 .5-.7 .9,3.7 .7,3.5 .7,7.7 .7,11.4 .7-2.5 .7,.3 .7,7.6 .7,2.1 .7-1 .7,10.1 .7,9 .7-2.1 .7,1.3 .3,7.5 .4,7.5 .7,.9 .7,3.2 .7,8.7 .7,2.1 .7,.6 .7,.6 .7,5.2 .7,3.7 .7,8.7 .7-2 .7,13.3 .7-.6 .9,3 .5,7.3 .7-7.5 .7,7.4 .7,3.4 .7,7.6 .7-1.2 .7,10 .7-3.6 .7,6.7 .7-1.2 .7,10.1 .7-2 .7,6.5 .7-.8 .7,.3 .7,4.6 .7,6.4 .7-6.1 .7-.4 .7,5.9 .7,4.6 .7-4.6 .7,4.2 .7,4.8 .7,.1 .7,4 .7,5.4 .7-2.2 .7,2 .7,4.3 .7-1.3 .9-.4 .5-.2 .7,1.2 .7,11.7 .7-6.2 .7,3.3 .7,1.3 .7-3.9 .7,6.7 .7-3.8 .7-3.8 .7,7.5 .7-1.8 .7,3.1 .7,3.7 .7,8.3 .7-8.9 .7,1.8 .7,2.9 .5,.3 .9-2.5 .7-3.5 .7,.2 .7,3.3 .7-3.7 .7,2.2 .7-2.2 .7,8.9 .7-9.2 .7,12 .7-9.2 .7-2.7 .7-.5 .7,5.6 .7-.1 .7-7.4 .7,4 .7-1.1 .7-4.1 .7-1.7 .7-.9 .7-12.9 .7-4.8 .7,5.1 .6-3 .8-.2 .7-12.1 .7-1 .7,15.3 .7-5.6 .7,11.4 .5-.5 .9,3.6 .7-1.5 .7,9.6 .7-8.5 .7,4.2 .7,2.9 .7,10.3 .7-.1 .7,3.9 .7-.8 .8,4.1 .6,.4 .7,3.4 .7-5.4 .7-6.3 .7,9.3 .7-5 .7-5.4 .7,2.8 .7-3.1 .7,10.2 .7-9.4 .7-5.8 .7,8.5 .7-4 .7,6.9 .9-5.3 .5-7.4 .7,3.8 .7-3 .7,.2 .7-1.1 .7-4.9 .7,6.9 .7-4.9 .7-.3 .7,5 .7,3.8 .7-9.7 .7,8.7 .7-14.7 .7,8.6 .7-4.5 .7,1 .7-4.2 .4,.9 .3,.8 .7-1 .7,1.1 .7,6.5 .7-11.3 .7,.3 .7-6.8 .7-3.7 .7,13.3 .7-11.4 .7,.6 .7,2.3 .7,2.4 .7-3.4 .7,4.5 .7-7.3 .7-6.7 .7,6.3 .6-.8 .8-3.1 .7,1.8 .7-1.1 .7,7.5 .7-8.4 .7-3.2 .7,6 .7-7.7 .7,8 .7,.6 .7-5 .7,.9 .7-.8 .5,7.5 .9-3.7 .7-5.3 .7,.6 .7,5.1 .7,1.3 .7-1.7 .7,5 .7-.6 .7,6 .7-.9 .7-1.1 .7,2.1 .7-2.9 .3,6.8 .4-.9 .7-1.3 .7,4.1 .7-.5 .7,13.2 .7-8.2 .7,4.9 .7,1.4 .7-2.7 .7,3.5 .7-.3 .7,3.3 .7,2.4 .7,3.6 .7,2.4 .7-1.2 .7,1.2 .7,1.4 .5-.2 .9-2.4 .7,9.4 .7-1.5 .7,1.7 .7-4.2 .7,1.5 .7-2.6 .7,9.2 .7,3.8 .7-.4 .7-.9 .7-2 .7,4.8 .7,.5 .7,2.7 .7,.8 .7-3.2 .7,1.4 .7,2.8 .7,.8 .7-1.1 .7-5.8 .7,5.8 .7,6.4 .7-1.6 .7,3.1 .9-3.3 .5,1.1 .7,2.8 .7-.4 .7,0 .7,3.3 .7,.6 .7,1.6 .7-10.8 .7,4.5 .7-.1 .7,.2 .7-3.9 .7,9.9 .7-7.9 .7,4.3 .7-7.9 .7,7.4 .7,1.2 .7-1.1 .7,6.3 .7,6.1 .7-11.9 .7-.3 .7,9.6 .7-4.6 .7-2.2 .7-3.1 .5,7.7 .9-1.4 .7,5.5 .7-8.3 .7,2.5 .7,.1 .7,.4 .7,4.4 .7-1.3 .7-4.8 .7,1.4 .7-.6 .7,4 .7-3.6 .7-2.7 .7,1.7 .7,.5 .7,2.9 .7,1.5 .7-.3 .7-4 .7-3.2 .7,5.6 .7-2.7 .7-1.7 .7,4.4 .7,.6 .7,1.9 .7-6.3 .7-2.7 .7,8.3 .7-6.2 .6,7 .8-7.4 .7,.9 .7-4.5 .7,13.3 .7-8.3 .7,.8 .7-1.7 .7,1.2 .7,4.6 .7-3.1 .7-1.3 .7,4.3 .5-10.1 .9,2.3 .7-3.5 .7-15 .7,1.2 .7-10.8 .7-7 .7,.4 .7-.3 .6-3.5 .8-11.7 .7-8.2 .7-5.8 .7-8.7 .7-6.8 .7-13.4 .7,.7 .7-6 .7,.9 .7-7.9 .7-5.7 .7-2.3 .7-2.1 .4-6.3 1,2.5 .7,10.5 .7,8.1 .9,8.2 .5,4.8 .7,8.9 .7,12.4 .7,10.8 .7,11.1 .7,7.3 .8,13.6 .6-1.3 .7,9.7 .7,.8 .7-1 .7,7.1 .7,4.6 .7-1.6 .7,10.4 .9,.5 .5,3.9 .7-4.4 .7,5.1 .7,2.3 .7-4 .7,1.6 .7-1.7 .7,4.2 .7-.2 .7,2.4 .7-1.7 .7-3.9 .7,1 .7,3.5 .7,3.9 .9,7.5 .5-4.5 .7-5.7 .7-5.3 .7,8.7 .7-1.5 .7-4.3 .7,6.9 .7-2.2 .7-1.5 .7-5 .7,10.7 .7-3 .7-.3 .7-2 .7,2.4 .7,5.8 .7-3.6 .7,4.4 .7-3.8 .7-3 .7,2 .7-2.9 .9-5.2 .5,3.1 .7,2.8 .7-5.1 .7,1 .7-3.2 .7,10 .7-11.4 .7,0 .7-.2 .7,6 .7-.2 .5-7 .9,5.3 .7-4.3 .7,3.6 .7,9.8 .7-4.7 .7-2.4 .7-3.2 .7,4.3 .7-3.1 .7-2.5 .8,10.6 .6,.3 .7-2.2 .7,3.8 .7-9.2 .7,10.7 .7-8.6 .7,5 .7,.7 .7,2.4 .7,3.9 .7-5 .7-2.7 .7-2.5 .7,5 .7-3.7 .7-1.9 .7,4.4 .7,2.9 .7-3.7 .7-2 .7,4.2 .7-4.7 .7-.3 .7,11 .7-3.7 .7,5.4 .7-12 .7,9.4 .7-3.8 .7,11 .7-10.5 .9,.3 .5,3.1 .7-.5 .7-2.9 .7,5.2 .7-1.1 .7,.6 .7-1.3 .7-4.2 .7,.2 .7,4.6 .7-4.2 .7,9.6 .7-6 .7-3.3 .7,7 .7-3.6 .7,3.9 .7-2.9 .7,5.8 .7-7.4 .7-6.6 .7,2.3 .7-.5 .7,7.6 .7,4.6 .7-7.5 .7-4.4 .7,7.5 .7-.9 .7-3.2 .7,2.4 .7-.8 .7-4.2 .7,6.1 .7-3.9 .7-1 .7,2.5 .7,5.9 .7,1.8 .7-1.7 .7-6.4 .7-2.2 .7,5.3 .7-1.1 .7,.8 .8-4.1 .6,.4 .7-.7 .7,7.5 .7,1 .7-6.1 .7,4.1 .7,.5 .7-4.7 .7,2.3 .7,2.6 .7-7.1 .7,8.3 .7-4.9 .7,.6 .7-1.3 .7-4.7 .7,7.7 .7-2.4 .7-2.2 .7,.5 .7,2 .7-1.8 .7-1.4 .7,3.4 .7,2.6 .7-2.7 .7-2.9 .7,5.9 .7-4.1 .7,2.5 .7-2.4 .7-2.8 .7-.8 .7,1.5 .7,2.5 .7-6.6 .7,10.3 .7,2.6 .7-5.6 .7-3 .7-2.1 .7,6.6 .7-.5 .7-1.1 .7,3.2 .7-5.3 .7,2 .7,2.1 .7-.5 .7,2.8 .7,0 .7-2.5 .7-3.5 .7,1.1 .7,5.8 .7-8.4 .7,4.5 .7-3.1 .7,12.5 .7-10.7 .7,4.8 .7-5.5 .7,15.9 .7-17.1 .7,6.8 .7-5.8 .7,7.4 .7-7.9 .7,1.9 .7-3.3 .7,3.9 .7,1.6 .7,6.1 .7-14.2 .7,10.3 .7-2 .7-2.4 .7,1.7 .7,2 .7-1.7 .7,.2 .7-2.9 .7,1.4 .7,2.8 .7-4.9 .7,2.1 .7,1.7 .7,1.5 .7-.6 .7-1.9 .7-6.1 .6,9.7 .8,1.7 .7,.4 .7-2.6 .7,1.7 .7-4.1 .7-2.5 .7,2.4 .7-.4 .7,4.1 .7-.7 .7-5.1 .7,.3 .7,2 .7,.1 .7,5 .7-7.1 .7,6.2 .7-10.4 .7,2 .7,8.9 .7-4 .7-1.1 .7,2.2 .7-1.8 .7,.9 .7,.3 .7-.6 .7,.8 .7-3 .7,2.4 .7-3.3 .7,5 .7-2.5 .7,1.1 .7-.3 .7-3.5 .7,.4 .7,1 .7,2.1 .7,2 .7-3.5 .7-2.2 .7,3.7 .7-.9 .7,3.1 .4,2.1 1,2.2 .7-13.8 .7,4.5 .7,.8 .7,2.1 .7-1.1 .7-3.3 .7,2.8 .7-5.6 .7,.5 .7,1.8 .7-5.7 .7,9.6 .7-9.3 .7-2 .7,4.4 .7-8.1 .7,5.7 .7,.2 .7,5.1 .7,5.7 .7-10.5 .4-4.9 .3,4.2 .7,.5 .7-7.5 .7,3.1 .7,3.3 .7-5.6 .7-5.6 .7-.7 .7-5.3 .5,3.8 .9-1.9 .7,5.9 .7-11.9 .7-1.3 .7,5.8 .7,0 .4-4.9 .3,3.3 .7,3.9 .7,2 .7,.7 .7,3.3 .7-5.6 .7,9.7 .3-1.8 .4-2.7 .7,1.6 .7,.8 .7,.1 .7,2.9 .7-.2 .7-4.2 .7,13.3 .7-6.5 .7,6.6 .7-8.4 .7,7.8 .7-4.9 .9,6.5 .5-1.7 .7-.7 .7-3.9 .7,.8 .7,3.3 .7-11.3 .7,4.2 .7-2.1 .7,.7 .7,5.8 .7,.9 .7-5 .7,4.5 .7-7.1 .7,.5 .7,1.9 .7,.6 .7-1.4 .4-3.9 .3,5.5 .7,3.2 .7-8.1 .7,.3 .7-5.4 .7,3.4 .7-3.9 .7,2.8 .7,3.9 .7-5 .7-5.9 .7,4.6 .7-11.4 .7,9.4 .2-3.6 .5-5.2 .7,1.9 .7-3.4 .7,9.9 .7-6.6 .7-7.4 .7,.4 .7,2.3 .7-3.7 .7,1.5 .7-.1 .7-7.3 .7,6 .7,2.5 .7-6.4 .7,.8 .7-5.1 .7-1.4 .5,2.3 .9-6.9 .7-4.2 .7,7.2 .7-7.1 .7,1.9 .7-1.9 .7-.6 .7-.5 .7-2.5 .7-4.4 .7,2.2 .7-6.2 .7,.4 .7-5.3 .7,1.1 .7-5.1 .7,6.2 .7-5.9 .7-5.4 .7-5.9 .7,1.7 .7,4.9 .7-9 .7,4.5 .7-6 .7-2.3 .7-4.9 .7,2.9 .7,.5 .7-3.2 .7-1.9 .5-7.8 .9,3.4 .7-5 .7-.3 .7,3.9 .7-6.3 .7,5.5 .7-3.2 .7,5.3 .7-5.5 .7,.8 .7,1.3 .7-2.3 .7-.5 .4-7.9 .3,9.8 .7-6.4 .7,4.8 .7-5.3 .7,9.2 .7-.7 .7,2.5 .7-2.1 .7,3.8 .7-.8 .7,2.6 .7,4.6 .7-9.2 .9,9.2 .5,1.3 .7-2.4 .7,6 .7,9.2 .7-2.1 .7-.7 .7,7 .7,1.4 .7-3.6 .7,5.6 .7,3.6 .7,1.9 .7,3.2 .7,.5 .7,1.6 .7-.2 .7,2.8 .7,1.3 .7,5.8 .7-.1 .7,.5 .7,6.4 .7,8 .7-7.2 .7,6.7 .7-4.5 .7,4.4 .7,4.4 .7,2 .7,5.2 .7-7.8 .7,3 .3,5.4 .4,1.1 .7-6.2 .7,4.1 .7,5 .7,2.8 .7-6.7 .7,5.1 .7-7.4 .7,12.5 .7,3.9 .7-9 .7,4.9 .7-3.4 .7,4.2 .7,4.9 .7,1.2 .7-.1 .7-6.1 .5,3.1 .9,10.2 .7-5.8 .7-1.5 .7,2.8 .7-1.5 .7,3.6 .7-2.7 .7,1.5 .7-3.3 .7,12.9 .7-3.9 .7-.9 .7,1.6 .7-2.9 .7-2.7 .7,6.4 .7,1 .7,.5 .7-3.3 .7-3.9 .7,9.1 .7-.9 .4-1 .3-.3 .7,1.7 .7-.6 .7-3.7 .7,4.9 .7-.8 .7,2.9 .7-3.4 .7,2.1 .7-5.1 .7,5.9 .7,5.8 .7-7.9 .7,3.1 .7,.8 .7-1.7 .7-.2 .7-6 .7,3.2 .7,8.2 .7-4.8 .7,.3 .7,6.8 .7-13.8 .7,10.2 .7-1.1 .7-9.6 .7,4.8 .7,4.2 .7-3.7 .7-1.2 .7,5.7 .5-2.4 .9,1.5 .7-1.9 .7,1.1 .7,1.2 .7,5.9 .7-6.3 .7-3.3 .7,4.6 .7-.8 .7,11.1 .7-17.2 .7,7.1 .7-2.2 .7,3.8 .7-8.1 .7-.7 .7,6.4 .7,1.9 .7-.8 .7,1.2 .7-2.5 .7,4.2 .7-2.7 .7-1.3 .7,6.5 .7-8 .7-2.6 .7,4.3 .7,.4 .7-.3 .7,.1 .7,2.4 .7-2.3 .7-2.1 .7,8.4 .7-5.6 .7,3.6 .7-3 .7,.7 .7,4.4 .7-11.7 .7,11.2 .7-3.2 .7,2.9 .7-5 .4,1 .3-.6 .7-3.1 .7,3.2 .7,6.8 .7-2.3 .7,.9 .7-5.9 .7-.1 .7-.9 .7-6 .7,7.2 .7-2.9 .7,5.7 .7-.5 .7-1.4 .7-4.8 .7,1.1 .7,7.7 .7-3.4 .7,2.6 .7-4.8 .7,5.2 .7-4.2 .7-.3 .7,2.9 .7-3.4 .7-2.3 .7,9.1 .7-2.5 .7-4.4 .7,1.3 .7,4.3 .7-5.1 .7-7 .7,16.4 .7-12.8 .7,4 .7-6.4 .7-.5 .7,9.6 .7-5.2 .7,6.6 .7-3.1 .7-.3 .7,3.3 .7,.4 .7,1.4 .7-9.6 .7,2.6 .7,5.3 .7-.5 .7-5.1 .7-1.8 .7,3.6 .7-12 .7,4.9 .7,10.6 .7-8.7 .7,12 .7-6.4 .7,.9 .7,8.6 .7-6.3 .7-4.7 .7-.1 .7,.2 .7-4.6 .7,8.9 .7-1.1 .7-1.9 .7,4.7 .7-5.9 .7-4.1 .7,2.2 .7,3.6 .7,.5 .7,5.5 .7-8.5 .7,3.5 .7,1.9 .7-2.7 .7-1.4 .7-4.6 .7,2.9 .7,8.9 .7-7.1 .7,.2 .7-3.4 .7,4.4 .7,4.7 .7-9 .7-1.7 .7,2.4 .7-3 .7-1.1 .7,9.6 .7-4.3 .7-7.9 .7,4.4 .7,4.2 .7-4 .7,4.4 .7-8 .7,5.2 .7-1.2 .7,1.7 .7-2.6 .7-3.1 .7,3 .5,.5 .9-.1 .7-7.3 .7,3.4 .7,1.2 .7,.1 .7,0 .7,.8 .7,4.6 .7,.1 .7-2.7 .7-2.2 .7-14.4 .7,9.6 .7,4.1 .7-4.7 .7,7.7 .7-6.4 .7,2.9 .7-2.4 .7,1.9 .7-7.1 .7,3.6 .7-2.9 .7-.5 .7-2.3 .7,9.3 .8-7.2 .6,5.5 .7-3.7 .7,.3 .7-1.6 .7-1.2 .7-5.9 .7,14.1 .7-5.8 .7-.7 .7-13.6 .7,4.3 .7-.8 .7,1.8 .7-5.3 .7,3.2 .7-2.7 .7,1.6 .7,.2 .4-7.8 .3,.4 .7-2.6 .7,4.7 .7-4.7 .7-2.9 .7-4.7 .7,4.6 .7-2.9 .7-1.8 .7-3.2 .7-5.6 .7,8.2 .7-7.1 .7-.7 .7-5.5 .7,5.6 .7-9.3 .7-.6 .6-2.1 .8-1.8 .7,6.1 .7-5.6 .7-3.4 .7,2.2 .7-2 .7,.5 .7-3.6 .7,1.6 .7-7.5 .7,1.6 .7,4.5 .7-1.7 .7-10.4 .7,7.1 .7-2.6 .7,2.8 .8-8.7 .6,5.1 .7,1.2 .7-8 .7,2.3 .7,5.4 .7-5 .7,3.6 .7-2.9 .7-6.8 .7,4.6 .7,.9 .7-3.8 .7,5.2 .7-8.7 .7,4.9 .9-1.8 .5-1.3 .7-2.1 .7-1.6 .7,2.8 .7,3.2 .7-.4 .7,1.5 .7,.9 .7-.6 .7,3.6 .7,3.8 .5-7.8 .9,8.3 .7-5.9 .7,15.7 .7-9.5 .7,3.4 .7,5.6 .7-.6 .7,3.6 .7,3.3 .7-4.9 .7,9.1 .7-7.8 .7,3.2 .3,4.6 .4-10.8 .7,7.3 .7,3.5 .7,5.2 .7-4.4 .7,6.9 .7-5.7 .7,8.9 .7,.3 .7-3.2 .7,1.9 .7,2.6 .7,.8 .7,.5 .7,7.8 .7-1.9 .7,1.8 .7-6 .6,6.7 .8,4.8 .7-2.4 .7-1.7 .7,3.2 .7,4 .7-2.6 .7-5.6 .7,5.6 .7,4.3 .7-5.6 .7,6.5 .7,2.3 .7,7.3 .7-.9 .7-3.2 .7-7.3 .7,8 .8-5.4 .6,1.2 .7,7.4 .7-6.6 .7,5.4 .7-1.4 .7,3.1 .7-3.6 .7,.3 .7,6.1 .7-2.5 .7-.8 .7-.9 .7,2.9 .7-2.5 .7,3.2 .7-2.4 .7-5 .7,.1 .7,3.3 .7,10 .7-2.4 .7-6.4 .7-2.1 .7,.7 .7,.5 .7,5.3 .7-6.4 .7-2.6 .7,4 .7-3.1 .7,8.7 .7-6.3 .7,.6 .7-1.5 .7-7.6 .7,7.8 .7,1.5 .7-3.1 .7,2 .7-2.6 .7,.6 .3,3.4 .4-4.6 .7,1.2 .7-1.9 .7-1.6 .7-2.9 .7-1.3 .7,.9 .7,3.8 .7-4.3 .7,1.4 .7-5.5 .7-7.9 .7,9.1 .8-5.7 .6,3.2 .7-2.5 .7-.3 .7-2.2 .7-13.5 .7,11.7 .7-3.7 .7,.6 .7-.7 .7-3.6 .7,.3 .4-8.7 .3,6.8 .7,4.5 .7,2.2 .7-2.5 .7-1.4 .7,7.2 .7,4.7 .7,3.4 .7,6.6 .5,.3 .9-5.4 .7,6.4 .7-2.1 .7,5.9 .7-3.3 .7,8.7 .7-4.7 .7,2.4 .7,.2 .7,7.6 .9-.8 .5,1.9 .7,1.1 .7-5.4 .7,8.9 .7-2.9 .7-1.7 .7-1.4 .7-.2 .7-.3 .7,5.2 .7-2.6 .7-.2 .7-1.5 .7,3.1 .7,7 .7-4.4 .7-8 .7-.8 .7,11.3 .7-7.4 .7,6.3 .7,1.1 .7,1.2 .7,5 .7-7.9 .7,2.2 .7-2.9 .5-2.3 .9,1.5 .7,8 .7-.5 .7-7.9 .7,6 .7-3.6 .7,4.3 .7-6.6 .7,4.9 .7,0 .7-3.9 .7,1.1 .7,.1 .7,2.2 .7,5.9 .7-.1 .7,.8 .7-3.5 .7,1 .7-6.4 .7,3.6 .7,3.4 .7-2.6 .7-3.7 .7,4.4 .7-.8 .7,.2 .7-2.5 .7,4.1 .7-1.9 .7-2.2 .7,2.5 .7,2.3 .7,3.2 .7,0 .7-10.7 .3,10.8 .4-2.3 .7-.4 .7,3.4 .7,.4 .7-4.2 .7-3.3 .7-1.7 .7,2.7 .7,.2 .7-3.7 .7,8.6 .7,0 .7-1.7 .7,3.9 .7-3.6 .7-4 .7,4.7 .7,3.5 .7-7.8 .7-3.7 .7,9.2 .7-9.6 .7,2.8 .7,5.2 .7-2.8 .7,7.8 .7-6.4 .7,1.4 .7,1.6 .7-3 .7,1.8 .7-8.9 .7,13.4 .7-6 .7-1.4 .7-1.9 .7,3.7 .7-2.4 .7,2.8 .7-3.5 .7-2.6 .7,2.2 .7-1.2 .7,4.6 .7-1 .7-2.3 .7,3.2 .7-3.6 .7,1.8 .7-1.2 .7,2.8 .7-4.4 .7,2.1 .7,1.2 .7-3 .7,4.3 .7-.4 .7,4 .7-6.5 .7-2.1 .7-.6 .7,6.5 .7-2.8 .7-2 .4,4 .3,2.3 .7,3.8 .7-2.6 .7-6.8 .7,7.3 .7-7.8 .7,4.8 .7,1.5 .7-7.9 .7,5.3 .7,.6 .7,7.9 .7-10.7 .7,4.2 .7-3.1 .7,1.2 .7-4.7 .7,6.5 .7,1.3 .7-.4 .7-10.8 .7-.4 .7,6.9 .7,4.2 .7-.5 .7-3.7 .7-.6 .7,7.9 .7-1 .7-7.3 .7,1.8 .7,.1 .7,6.6 .7-5.2 .7,1.5 .7-7.3 .7,3.9 .7-2.1 .7,1.2 .7,1.4 .7-2.3 .7-3.3 .7,7.9 .7-7.4 .7,.2 .7-3.7 .7,8.5 .7-1.1 .7-3 .7-.9 .7,4.5 .7-1.6 .7-2.9 .7,5 .7,1.8 .7-2 .7,1.7 .7-2.8 .7,5.1 .7-2 .7-4.7 .7,5.3 .7-2.7 .7-2 .7-1.2 .7,1.1 .7-5.3 .7,4.6 .7,.7 .3-4.3 .4,2.3 .7-1.3 .7-3.4 .7,4 .7,.5 .7-.5 .7,1.3 .7-5.8 .7-1.6 .7,.4 .7,3.8 .7,.5 .7-8 .7,2.5 .7-2.6 .7,2.2 .3-11.3 .4,5.8 .7-8.7 .7-7.3 .7,9.8 .7-7.2 .7,5.1 .7-4.9 .7,.1 .7-3.9 .4-6.2 .3,2.8 .7-5.8 .7,2 .7,6.2 .7,5.2 .7-5.2 .7-4 .7,3.7 .7,2.6 .5,1.5 .9-.2 .7,8.2 .7-.1 .7-.3 .7-.6 .7,12.3 .7-7.7 .7,2.9 .7,0 .7,5.1 .7-6.1 .7,9 .7-7 .7,9.2 .7-6.6 .7,1.6 .7,2.6 .7,4.1 .7-.7 .7-2.4 .7,4.2 .7,3.3 .7-7.5 .7,12.4 .7-4 .7-8.8 .7,10.4 .7-1.1 .7-1.2 .7-.5 .7-1.2 .7,3.8 .7-1.9 .7,1.7 .7-3 .7,6.4 .7-4.8 .7,2.6 .7-3.8 .7,.1 .7,3.7 .7,.4 .7-2.2 .7,.2 .7-1 .7,3.6 .7-1.4 .7,1.2 .7-2.7 .7-.3 .7,3.2 .7-3.9 .7,4.2 .7,1 .7,1.7 .7-4.8 .7,.5 .7,2.9 .7-3.1 .7,2 .7-.7 .7-.5 .7-2.1 .7,3.1 .7,1.9 .7-1.5 .7-2 .7,1.9 .7,3.8 .7-5.2 .6-2.7 .8,8.2 .7-8.1 .7,7.2 .7-3.2 .7-7.2 .7,4.3 .7-.5 .7,.1 .7-.3 .7,3.5 .7-1.3 .7,3.1 .7-5.5 .7,.1 .7,2.4 .7-3.7 .7-.8 .7,2.7 .7-4.8 .7-.9 .7,2.8 .7,4 .7,.1 .7-5.8 .7,1 .7,3 .7-.8 .7-3.8 .7,6.2 .7-4.2 .7,.5 .7-2 .7,5.9 .7-.9 .7-4.9 .7,4.3 .4-.6 .3-1.1 .7-2.9 .7,3.4 .7-5.1 .7,.4 .7,.2 .7,3 .7,2.4 .7-11.7 .7,5 .7-2.5 .7,4.4 .7-8 .7,10.4 .7-8.4 .7,7 .7-10.4 .7,5.6 .7,4.7 .7-2.5 .7-9.1 .7-.8 .7-1.1 .7,6.6 .7-7.7 .7,12.6 .7-3.8 .7,2 .7-7.2 .7,1.4 .7,.5 .7-5 .7-.8 .7,5.6 .7-1.2 .7,1.1 .7-3.7 .7,6 .7,3.6 .7-3.5 .7-3.8 .7,4.5 .7-.5 .7-2.7 .7-4.5 .7-3.9 .7,13.3 .7-4.9 .7-2.9 .7-.5 .7-5.7 .7,12.2 .7-4.2 .7,2 .7-1 .7-.7 .7,2.2 .7-6 .7,2.5 .7,3.9 .7,2.1 .7-2.3 .7,.5 .7-5.1 .5,.4 .9,4 .7-.5 .7-.9 .7,1.3 .7-5.6 .7,.4 .7,7.4 .7-1.7 .7-2.8 .7,3.1 .7,11.5 .7-14.7 .7,3.5 .7-1.9 .7-1.6 .7-.4 .7,6.4 .7-6.2 .7-4.1 .7,12.6 .7-7.7 .7,4.9 .7-1.5 .7-1.8 .7,6.6 .9-9.1 .5,3.3 .7,1.4 .7-6 .7,2.8 .7,6.7 .7,5.2 .7-4 .7-10.1 .7,12.5 .7-8.7 .7,2.9 .7,3.4 .7,.7 .7-1.7 .7,.1 .7,9.4 .7-12.7 .7,6.6 .7,4.1 .7-.9 .7-8.2 .7,10.5 .7,.3 .7-7.3 .9,.7 .5,7.6 .7-4.3 .7-3.4 .7,4.8 .7-5 .7-.5 .7-3.5 .7,8.9 .7-4 .7,.3 .7,1.6 .7,4.6 .7-3.5 .7,3.9 .7-4.1 .7,4.5 .7,3 .7-6.4 .7-.2 .7-5.6 .7,5.3 .7,8 .7-3.9 .7-8.4 .7,2.5 .7,1.1 .7,1.6 .7-.6 .7-.3 .7,1.7 .7-1.1 .7-2 .7,3.2 .7-9.8 .7,5.7 .7,3.4 .7,2.6 .7,.3 .7,2.5 .7,.4 .7-2.9 .7-.4 .7,1.8 .7-3.2 .7,0 .8,2.2 .6-5.3 .7,4.9 .7,.9 .7,3.6 .7-9.2 .7,2 .7,6.7 .7-7.1 .7,2.6 .7-3.1 .7,6.9 .7-9.5 .7,2.8 .7-.6 .7,7.4 .7-4.4 .7-6.2 .7,12.4 .7-11.6 .7,6.1 .7,2.2 .7-5.4 .7-.8 .7-2.7 .7-.8 .7,14.7 .7-5.3 .7,.3 .7-10.7 .7,4.3 .7-3 .7,7.9 .7,3.7 .7-8.4 .7-.3 .7,8.1 .7-9 .7,5.8 .7-4.4 .7,3.8 .7-4.8 .7-4.5 .7,5.9 .7-5.5 .7,7.3 .7,5.8 .7-2.2 .7-8.9 .7-.2 .7-3.7 .7,5.1 .7-2.2 .7,1.6 .7,10.3 .7-6.2 .7-.8 .7-2.1 .7,3.7 .7,.9 .7-1.7 .7,2.6 .7,.9 .7-6.4 .7-1.7 .7,9.5 .7-10 .7,6.7 .7-.7 .6,5.5 .8-9 .7-2.8 .7,10.1 .7-8.8 .7-5.2 .7,3.9 .7,4.9 .7,4.8 .7-1.1 .7-2.3 .7-3.2 .7,1.3 .7,1.4 .7-5.2 .7,3.1 .7,5.3 .7-7.1 .7,.5 .7,0 .7,1.4 .7-3.4 .7,5.8 .7-1 .7,1 .7-3.9 .7,4.7 .7,3.4 .7-7.4 .7-.7 .7,.9 .7-2.4 .7,1.7 .7,4.7 .7-2 .7-2.8 .7-1.2 .7-1.1 .7,5.4 .7-5.9 .7,2.5 .7,.9 .7-5.5 .7,5.1 .7,2.9 .7-9.9 .7,2.9 .7,4.4 .7-1.7 .7,2.3 .7,2.5 .7-3.6 .7,.8 .7-.2 .7-8.6 .7,5.7 .7,.3 .7,3.1 .7-4.7 .7,3.4 .7,.1 .7-6.6 .7-1.5 .7,10.7 .7-6.9 .7,6.9 .7-4.3 .7,1.9 .7-9.2 .4,14.9 .3-18.2 .7,4.2 .7,6 .7,2.6 .7-1.9 .7-.6 .7-6.8 .7,5.6 .7,3.4 .7-10.9 .7,1.3 .7,5.2 .7,3.5 .7-2.8 .7-7.1 .7,.8 .7,.4 .7-4.8 .7,12.3 .7-9.5 .7-.6 .7-4.2 .7,6.2 .7-1.5 .7,5.2 .7-2 .7-4 .7,3.1 .7,4.4 .7-9.3 .7-.2 .7,4.1 .7-5.5 .7,2.8 .7-6.1 .7,6.1 .9-.3 .5-4.8 .7-2.7 .7,5.4 .7-1.2 .7-6.2 .7,8.1 .7-7 .7,7.9 .7-.7 .7-4.2 .7,1.4 .7-7.3 .7,5 .7,1.9 .7-7.3 .7-.8 .7,11.6 .7-5 .7,3.2 .7-2.1 .7-13.8 .7,5.7 .7,2.1 .7,.1 .7,.5 .7-3.1 .7,1.1 .6-3.4 .8,8.3 .7-7.9 .7,.7 .7,4.3 .7-5.2 .7,2.3 .7-4.2 .7,1.5 .7,.7 .7-6.4 .7-1.3 .7,1.1 .7,7.2 .7-1.1 .7,.7 .7,1.3 .7-6 .8-1.6 .6,2.4 .7,2 .7,3.3 .7-3.8 .7,.5 .7-3.5 .7-4 .7,12.4 .7-5.8 .7-1.5 .7,2.2 .7,7.4 .7-9.5 .7,.5 .7-.2 .7,1.9 .7-6.2 .7,12 .7-4.5 .7-3.5 .7,6 .7-5.1 .7,7.1 .7-5.7 .7,.5 .7,1 .7,2.2 .7-4.5 .7,1 .7,3.3 .7-7.3 .7-2.5 .7,10.1 .7,1.4 .7,3.8 .7-4 .7,4.5 .7,1.6 .7-4.7 .7-2.1 .7-.9 .7,3 .7-4 .7,6.2 .7,2.2 .7-4.9 .7,6.3 .7-6.8 .7,4.2 .7,.4 .4-7.1 .3,6.1 .7,3.5 .7,.6 .7,0 .7-7.1 .7,2.8 .7-6.4 .7,8.2 .7-2 .7,3.3 .7-7.3 .7,9.5 .7-5.3 .7-4.9 .7,7 .7,4.5 .7-7.6 .7-.4 .7-6.3 .7,5.3 .7,4 .7-2.7 .7-1.7 .7-1.4 .7,8.6 .7-9.6 .7-3.4 .8,6.7 .6-1.9 .7-.3 .7-1.1 .7,.3 .7-1.3 .7,8.3 .7-6.6 .7,.5 .7,4.4 .7,1.7 .7-1 .7-2.1 .7-1.5 .7,2.7 .7-1.5 .7,1.5 .7,4.5 .7-3.6 .7,4 .7-5.3 .7,1 .7,.7 .7,1.3 .7-5 .7,0 .7,10.6 .7-6.2 .4-3.1 .3-4 .7,3.9 .7,6.9 .7,.7 .7-7.6 .7,5.4 .7,3.3 .7-.3 .7-2.7 .7-.4 .7,1.5 .7-3.3 .7,2.5 .7,2.5 .7-3 .7,6.8 .7-1.2 .7-5.5 .7,.3 .7,2.5 .7,1.5 .7,.7 .7-.6 .7-.5 .3,9.4" fill="none" stroke="#00B0F0" stroke-width="6" stroke-linejoin="round" stroke-linecap="round"/>
<path d="M275.1,591.4l.7-7.5 .7-3 .7-10.4 .7,6.2 .7-2.8 .7-.2 .7-4.5 .7,2 .7-3.4 .7-5.5 .4,9.9 .3,1.7 .7,8.3 .7-5.1 .7,.7 .8,2.8 .6-4.6 .7,14 .7-9.9 .7,.5 .7,6.3 .7,8.9 .7-6 .7-6.9 .9,2 .5,5.9 .7-4.3 .7-2.5 .7,4.2 .7,5.5 .7,6.4 .7-14.8 .7,3 .7-1.4 .7-8.4 .7,6.2 .7-.3 .7,11.4 .7-5.7 .7-6 .7,10.9 .7-4.5 .7-6.2 .7,5 .7,.6 .7-1.2 .7,5.1 .7-10.1 .7,9.9 .7,6.9 .7-1 .7,1.3 .7,.5 .7,2.4 .7-12.5 .7,8.6 .7-12.6 .7,7 .7-6.6 .7,14.2 .7,1.3 .7-6.5 .7,9.8 .7-12 .7,4.1 .7-.1 .7-4.4 .7,7.6 .7,7.1 .7-14.2 .8,10 .6-3.9 .7,8.9 .7-6 .7,1.8 .7-.3 .7-2.1 .7-7.5 .7,13.7 .7-12.8 .7,7.6 .7,2.3 .7-6.2 .7,4.6 .7,5.9 .7-5.7 .7-3.5 .7-9.1 .7,9.2 .7,2.9 .7,.6 .7-1.4 .7,6.2 .7-4 .7,3.2 .7,3.1 .7-8.2 .7,3.7 .7,12.2 .7-5.5 .7-10.6 .7,6.3 .7,4.5 .7,2.4 .7-4.5 .7-3.3 .7,.1 .7,7.5 .7-1.6 .7-3.7 .7,2.6 .7-.9 .7,5.5 .7-7.6 .7,5.9 .7,2.8 .7-2.1 .7-5.4 .7,11.3 .7-7.9 .7,5.6 .7-6.1 .7-5.1 .7,9.5 .7-.5 .7-1.7 .7,1.5 .7-3 .7,1 .7,2.7 .7,11.2 .7-4.8 .7-4.9 .7,5.2 .7-4.4 .7,1.4 .7,6.5 .7-6.4 .7-5.8 .7,4.4 .7,4.5 .7,.3 .7,5.4 .7-8.6 .7,8 .7-1.8 .7-1.7 .7,5.2 .7-.5 .7-6.4 .7,9.6 .7-10.3 .7,5.8 .5,.3 .9,2 .7-6 .7,3.5 .7,0 .7,6.5 .7-8.4 .7,4.2 .7-1.4 .7-4.3 .7,18.6 .7-13.8 .7-6.8 .7,13.3 .7-11.4 .7,5.7 .7,2.7 .7-6.5 .7,.2 .7,0 .7,1.9 .7-6.9 .7,1.5 .7,4.7 .7,5.5 .7-2.6 .7,5 .7-4.7 .7-5.7 .7,2 .7-8.6 .7,5.3 .5,.3 .9,2.8 .7-.4 .7-8.3 .7-2.8 .7-5.9 .7,4 .7-.5 .7-1.5 .6-8.1 .8,10.4 .7-8.4 .7-9.9 .7-5.3 .7-2.9 .7-.8 .7-4.6 .8-.9 .6,4.3 .7,6.6 .7,3.1 .7-2.8 .7,6.3 .7-1.1 .7,3 .7,15.3 .7-8 .7,15.1 .7-8.5 .7,7.5 .7,7.4 .7-1.3 .7,5.6 .7,1 .8,3.6 .6,2.1 .7-1.6 .7,11.9 .7-7.7 .7,10.2 .7-20.9 .7,13.3 .7,2.7 .7-4 .7,7.4 .7-1.9 .7-3.6 .7,3.4 .7,12.5 .7-10.4 .7,.7 .7-2.9 .7,3.3 .7-5.4 .7,5.4 .7,13.6 .7-6.3 .7-1.7 .7,3.2 .7,3.4 .2-6.1 .5,5.6 .7-5 .7-3.7 .7,6.6 .7-18.1 .7,9.2 .7,5 .7-5.5 .7,2.3 .7-2.4 .7-.5 .7,15.6 .7-10.5 .7-3.2 .7,7.8 .7-6.5 .7,5 .7-2.4 .7,6.4 .7-15.1 .7,9.6 .7-4.1 .7-6.7 .7,10.1 .7-9.4 .7,12.3 .7-4.3 .7,1.3 .7-2.5 .7,4.4 .7-13.4 .7,9.7 .3-4.3 .4,3.8 .7-3.6 .7,1.5 .7-9.3 .7,11.3 .7,.4 .7-14.3 .7-.1 .7,0 .7,2.9 .7,.6 .7-16.4 .7,1.2 .8-4.6 .6-.5 .7-2.2 .7,10.5 .7-6.1 .7,13.9 .7-2.7 .7-8.4 .7,.6 .7,2.7 .7,9.3 .7-10.9 .7-1.9 .7,7.4 .7,2.4 .7-8.1 .7,8.8 .7-9.4 .7-1 .7-8.8 .7,2.2 .7-2 .7-12.3 .7,11 .7-12.5 .7,6.6 .3-8.1 .4,19.6 .7-3.6 .7,7.1 .7,4.6 .7-6.4 .7,.2 .9,14.4 .5,7.2 .7-1.8 .7,6.2 .7,3.3 .7-9.9 .7,12.1 .7,10.8 .7-10.3 .7-5.6 .3,10 .4-1.7 .7,1 .7-9.1 .7,2.9 .7-13.8 .7,11.6 .7,1.1 .7-3.8 .7-15.8 .7,6.4 .7-17.9 .7,14.1 .7-4.3 .8-6.7 .6,8.1 .7,.1 .7,5.7 .7-2.5 .7,1.9 .7-9.6 .7,4.8 .7,5.5 .7,4.8 .3-1.6 .4,4.6 .7-14.6 .7-.9 .7-1.4 .7-6.1 .7-.3 .7-7.8 .7,6.2 .7-11.1 .4,4.2 .3-9.5 .7-2.6 .7-24.7 .7-1.1 .7-14.8 .7-7 .7-5.5 .3-15.7 .4,2.3 .7,7.3 .7,11.5 .7-3.8 .7,14.8 .7-1 .9,8.3 .5,9.9 .7,11.8 .7,2.9 .7,9.3 .7,11.2 .7,8 .8-1.4 .6,13.1 .7,4.9 .7,7.7 .7,7 .7-4 .7,.5 .7-2 .7,9.3 .7,6 .7,5.2 .7-7.5 .4,6 1,5.2 .7,5.3 .7-6.2 .7-3.2 .7-.5 .7,2.8 .7-1.9 .7,7.3 .7,.6 .7-.2 .7,3.4 .7-6.5 .7,5.8 .7-2.3 .7,4 .7,6.6 .7-4.7 .7-7.9 .7,7.2 .7-2.1 .7-3.3 .7,3.3 .7,8.9 .7,4 .7-9.6 .7,8.1 .7,1 .7-10.4 .7,4.5 .7-.3 .7,1.3 .7-7.8 .7,5.6 .7,6.4 .7,2.2 .7,3.9 .7-10.4 .7,9.4 .7-4.7 .7-8.9 .7,10.5 .7-5.4 .7,4.9 .7-2.1 .7,6.7 .7-4.3 .7-2.5 .7,5.8 .7-3.6 .7-2.3 .7,6.8 .7-8.7 .7-1.9 .7-.2 .7-4.8 .7,3.3 .7,11.8 .7-14.1 .7,3.1 .7-6.2 .7,.3 .7,9.7 .7-4.5 .7-8.6 .7,1.8 .7-4.1 .7,.6 .7-2 .3-.7 .4,3.5 .7-1.5 .7-4.6 .7-7.4 .7-9.3 .7,2.3 .7-7.8 .7,4 .7-4.9 .7-2.8 .7-8.8 .6-9.9 .8,16.3 .7,3.9 .7-10.9 .7,10.4 .7,7.7 .7-7.6 .5,16.5 .9-5 .7,.4 .7,16.2 .7-2.1 .7-1.1 .7,11.1 .7-9.3 .7,22.2 .6-9.2 .8,7.1 .7-2.5 .7,4.9 .7,3.1 .7-6.8 .7,9 .7-3.3 .7-1.5 .7,3.3 .7-2.4 .7,2.2 .7,8.8 .7-4.9 .7,8.4 .7-2.8 .7-6.9 .7-3.2 .9,7.6 .5,4.5 .7-.5 .7-3.6 .7,10 .7-13.6 .7,2.5 .7,7.3 .7,9.7 .7-7.7 .7-6.3 .7,8.2 .7,1.5 .7,1.6 .7-6.5 .7-1.7 .7,5.3 .7,2 .7,5 .7,2.8 .7-12.4 .7,1.8 .7,2.1 .8,.2 .6,4.5 .7,0 .7-1.5 .7,4.6 .7-7.6 .7-4.7 .7-3.5 .7,1.7 .7-.3 .7-3.8 .7,11.7 .7-2.4 .7-3.1 .7-2.8 .7-4.3 .7,1.7 .7,12.6 .7-21.1 .7,10.6 .7,3.3 .7-4 .7-1.8 .8,4.9 .6-8.7 .7,7.2 .7,2.5 .7-11.6 .7,.3 .7,4.3 .7,3.2 .7,.8 .7-3.1 .7-7.3 .7-3.3 .7,5.9 .7,.4 .7-7 .7,5.6 .7,1 .7,3.6 .7-10.3 .3,6.6 .4-7.3 .7,5.2 .7,3.4 .7,9.7 .7,10.6 .7-12.3 .7,3.4 .7,4.7 .7-9.3 .4,10.9 .3-10.9 .7,11.8 .7-2.7 .7-4.8 .7-7.4 .7,10.9 .7-6.4 .7,0 .7,2.1 .7-12.4 .7,9.8 .7,2 .7-4.3 .7-2.9 .2-5.8 .5,5.8 .7-4.9 .7-3.2 .7-5.8 .7,4.5 .7-.5 .7-7.5 .7-.3 .4-.1 .3,3.2 .7-3.1 .7,1.1 .7,2.5 .7,5.6 .7,5.8 .7,4.8 .7-2.8 .3,4.4 .4-4.7 .7,11.9 .7-7.1 .7,5.6 .7-3.6 .7,2.6 .7-.2 .7,12.5 .7-4.5 .7-1.1 .7-2.9 .6,3.2 .8,5.6 .7,6.8 .7-14.9 .7,2.6 .7,4 .7-1.3 .7-3.9 .7,7.6 .7,3.9 .7-10.3 .7,8.5 .7,4.3 .7,1.1 .7-5.4 .7,13.7 .7-8.7 .7-5.4 .8,9 .6-10.9 .7,9.5 .7-10.4 .7,10.5 .7-6.6 .7,7.9 .7-1.4 .7-1.6 .7-2 .7,5.1 .7-14 .7,10.6 .7-.4 .7,.8 .7,2.2 .7,13.3 .7-17.3 .7,4.1 .7-2.8 .7,6.8 .7-17.4 .7,18.4 .7-10.4 .7-7.8 .7,6.4 .7,4.9 .7,1.1 .7-1.8 .7,3.2 .7-4.2 .7-.6 .9-11 .5,13.8 .7,2.5 .7-6.1 .7-7.8 .7,2.4 .7,15.1 .7-12.1 .7-.6 .7-1.7 .7,6.9 .7-6.7 .7-3 .7-3 .7,6.3 .7,4.5 .7-5.5 .7,3.7 .5-3.4 .9-5.3 .7-3.8 .7-4.7 .7,.8 .7-6.1 .7-8.9 .7-1.3 .7-5.1 .6-.7 .8-6.7 .7-2.8 .7-12.7 .7,5.5 .7,.4 .7-16.6 .7,11 .7-10.4 .7-6.7 .7-11.2 .7,9.8 .2-11.4 .5,.2 .7,4.8 .7-9.6 .7-2.3 .7-2.3 .7,2.2 .9,1.5 .5-2.6 .7-1.1 .7-4.6 .7,.8 .7-4.1 .7,12.8 .7-10.7 .7-11.1 .3,3 .4,16.9 .7-5.9 .7,12.3 .7,13.4 .7,1.6 .7,18.5 .7,9.7 .7-6.4 .7,16 .7-3 .7,5.9 .7,13.2 .6,6 .8-.9 .7,8.7 .7-10 .7,4.4 .7,1.3 .7,10.3 .7,1.7 .7,.8 .7-7.3 .7,8.9 .9,3.2 .5-9.5 .7,4.6 .7,8 .7,1.2 .7-2 .7,3 .7-.4 .7,.3 .7-.8 .7-3.2 .7,4.5 .7-.3 .7,14.5 .7-8.5 .7-1 .7-.2 .7-.1 .7-.9 .7,4 .7-3.3 .7,4.2 .7-8.2 .7,5.8 .7,2.2 .7-9.5 .7,6.6 .7,.6 .7-2.4 .7-1.2 .7-6.2 .7,14.5 .7-10.3 .7-2 .7,8.8 .7-11.2 .7,12.5 .7-2.8 .7,.5 .7-3.3 .7-5.7 .7-3.8 .7,15.9 .7-9.5 .7,.2 .7,9.4 .7-9.7 .7,1.4 .7,.3 .7,.9 .7-5 .7,2.3 .7,6.8 .7-3.2 .7-18.4 .7,3.3 .2,10.1 .5-3.4 .7-2.7 .7,4.8 .7-15.3 .7,13.5 .7-6.9 .7,0 .7-2.5 .7,1.1 .7-7.7 .7-3.9 .7,4.3 .7-5.1 .8-8.4 .6,14.5 .7,3.3 .7,4.3 .7-3.6 .7,4.9 .7-1.4 .7,.4 .7,6.8 .9,3.2 .5-3.4 .7,10.8 .7-17.4 .7,3.7 .7,.4 .7,10.3 .7-8.6 .7-.4 .7-2.8 .7,.2 .7-3.5 .7,10 .7-2.3 .7,1.7 .7-7.4 .7,15.6 .7-15.9 .7-5.8 .7,8.4 .7,1.7 .7,2.1 .7-9.3 .8,6.8 .6,7.1 .7-11.4 .7,2.5 .7-3.1 .7,10.5 .7,4.5 .7,.2 .7,1.6 .7,3.9 .7-5.3 .7,6.9 .7-8.7 .7,1.6 .7,6.7 .7-5.5 .7,6.8 .7,1.9 .7-4 .7-5 .7-.1 .7,10.3 .7-9.9 .7,5.2 .7-1.3 .7,1.8 .7,4.5 .7-7.9 .5-4.7 .9,11.6 .7-7.9 .7,.8 .7-4.8 .7,2.9 .7,1.7 .7-1.3 .7-9.4 .7-2.4 .7,2 .8-3 .6-.6 .7-8.9 .7-9.8 .7,11.9 .7-1 .7-2.6 .7,2.7 .7-5.8 .7-2.6 .7,9.1 .7-2 .7,8.4 .7-1.6 .7,3.9 .7,1.3 .8,2.7 .6-6.6 .7,8.9 .7-10.9 .7,14.6 .7,3.5 .7,6.1 .7-6.8 .7-3.5 .7-3 .7,18.1 .7-15 .7,11.8 .7-15.1 .7,10.5 .7,5.4 .7-1 .7-1 .7-1.9 .4,1.4 .3,10.3 .7-2.5 .7-2.1 .7,3.6 .7-6 .7,8.7 .7,.8 .7-10.1 .7,3.5 .7,3.5 .7-8.4 .7,13.5 .7-1.9 .7-8.1 .7,6.8 .7,3.1 .7-12.9 .7,7.8 .7-3.8 .7-.8 .7,5 .7-5.6 .7-5.1 .7,1.7 .7,6.5 .7,3.2 .7-4.1 .7-2 .7,1.5 .7,5.1 .7-3.1 .7-6.5 .7,2.7 .7,9.1 .7-8.7 .7,.9 .7,1.1 .7-4.8 .7,8.5 .7-15.5 .7,17.3 .7-9.7 .7-4.3 .7,8 .7-9.2 .7,11.4 .7,1 .7-5.7 .7,1.3 .7,6.3 .7-7.3 .7,2.4 .7,.5 .7,4.8 .7-10.1 .4,1.4 .3,4.6 .7-18.5 .7,11 .7-8 .7-.5 .7,17.8 .7-9.4 .7,4.5 .7-9.4 .7,2.6 .7-5.3 .7-1.9 .7,.9 .9,1 .5,7.4 .7-7.3 .7,3.6 .7-2.5 .7,3.3 .7-7.2 .7,11.3 .7-7.6 .7,2.7 .7-.4 .7,5.8 .7-1.9 .7-1.9 .7,1.5 .7,.4 .7,2.3 .7-.8 .7,4.2 .4,2.5 1-4.8 .7-8.9 .7,14.2 .7,1.7 .7-11.8 .7-.2 .7-7.5 .7,14.7 .7-7.3 .7,14.5 .7-20.5 .7,12.5 .7,3.1 .7-4.1 .7-1.2 .7,5.2 .7-2.9 .7,2 .7-.3 .7-4.8 .7-.8 .7,3.2 .7-7.4 .7-.2 .7-6.9 .7,5.4 .7-12.3 .7,8.6 .7-21.9 .7,8.7 .7-4.9 .5,11.5 .9-3.6 .7-7.5 .7,3.5 .7,9.1 .7-7.5 .7,2.8 .7-9.1 .7,.3 .7,11.1 .7,8.2 .7-12.6 .7,5.3 .7-8 .3,10.6 .4-7.8 .7,1 .7-6.9 .7,8.5 .7,3.8 .7,6.5 .7-10.8 .7,11.2 .7-3.9 .7,1.1 .7-.7 .7-1.7 .7,3.6 .9,15.5 .5-13.4 .7,4.8 .7,6.6 .7-15.6 .7,12.9 .7-3.6 .7,4.6 .7,4.2 .7-4.2 .7,.8 .7,4.6 .7-.4 .7-6.6 .7,2.3 .7-4.4 .7,13.3 .7-12.5 .7,7.8 .4,7.1 .3-4 .7-7.3 .7-3.8 .7,.3 .7,5.6 .7-3.7 .7-3.2 .7,11 .7-17.8 .7-.1 .7,.5 .7,2.1 .7-2 .7-4.7 .7,2.8 .7-3 .7-7.1 .7-13.4 .7,14.2 .6-9.1 .8,4.1 .7,4.1 .7-3.5 .7,4.9 .7,5.4 .7-.9 .7,5.3 .8-2.6 .6,4.9 .7-3.8 .7,5.1 .7,3.4 .7-1.6 .7-5.3 .7,6.2 .7,3.5 .7,5.3 .7-4.1 .7-1.1 .7-1.9 .7,16.2 .6-13.6 .8-1.3 .7,4.2 .7-7.7 .7,13.2 .7-4.1 .7,1.4 .7-6.8 .7,1.2 .7,6.7 .7-.2 .7,8.7 .7-8.8 .7-14.1 .7,10.1 .7-3.4 .7,7.5 .7-5.3 .7,1.9 .7-4.5 .7,4.1 .7,4.3 .7-10.6 .5-7.6 .9,3.5 .7,11.5 .7-8.8 .7-3.5 .7-4.6 .7,7.4 .7-6.1 .7-4 .7-3.6 .7,.3 .7-3 .7,3.2 .7,2 .4-17.6 .3,2.5 .7,5.6 .7,.5 .7-8.8 .7,4.3 .7,1.2 .7-1.2 .3-1.1 .4,3.2 .7,6.8 .7,.5 .7,1.7 .7,1.6 .7-2.7 .7,5 .7,7.8 .7,.4 .4,4.5 .3-2.7 .7,.6 .7,2.4 .7-8.1 .7,7.3 .7-1 .7,8.2 .7-6.1 .7,4.8 .7-1.4 .7,7.5 .7,2.9 .7-3.2 .7,1.7 .7,.3 .7,2.1 .7-6.2 .7,1.9 .7-2 .7-3.3 .7,5.4 .7,1.8 .7-6.1 .7,11.2 .7-12.6 .7,7.9 .7-2 .7-10.2 .7,8.2 .7-6.9 .7,7.1 .7,3.1 .7,5.8 .7-4.7 .7-11.3 .7,5.7 .7,8.7 .7-5.7 .7,7.6 .4-11.3 .3,.7 .7-5.1 .7,4 .7,7.7 .7-11.5 .7,7.5 .7-2.2 .7,1.3 .7-5.4 .7,.4 .7,10.3 .7-17.5 .7,8.9 .7,2.1 .7-5.3 .7,5 .7-22.7 .7,12.3 .6-5.4 .8,4 .7,.5 .7,3.1 .7-7.7 .7,7.5 .7-11.3 .7,12.2 .7-6.1 .7-7.6 .7-.1 .7,.4 .7,2.8 .7,5.3 .7,6 .7-2.9 .7-10.6 .7-5.3 .7,9.4 .7-6.1 .7,5.9 .7-3.5 .7,16.2 .6-20.4 .8,9.5 .7,6.7 .7-11.7 .7-1.4 .7,10.4 .7-18.6 .7,.4 .7,1.5 .7,6.5 .7,.5 .7-4.6 .7,10.3 .7-12.5 .7,.6 .7-1.8 .7,6.9 .7-6.8 .8-2.9 .6,10.7 .7-2.2 .7-1.7 .7-11.3 .7,1.6 .7,3.1 .7-1.1 .7-1.2 .9,1 .5,4.7 .7-7.3 .7,7.1 .7-.6 .7,.6 .7,2.6 .7,7.2 .7,.2 .7-2.4 .7,7.2 .7,1 .7,3.4 .7-3 .7,6.5 .7-2.9 .7-8.2 .7-1.3 .7-1.8 .7,9.8 .7-4.4 .7,1.1 .7,1.3 .7,6.5 .7,5.1 .7-11.7 .7,9.9 .7-7.9 .7,3.7 .7-7.1 .7-5 .7,8.1 .7,2.6 .7-12.8 .7,6.4 .7,1.2 .7,1.7 .7-7.6 .7,3.3 .7,7.3 .7,4.6 .7-8.5 .4,4 .3-2.9 .7,1.9 .7-4.1 .7,.9 .7-.5 .7,4.3 .7,5.1 .7-3.5 .7,2.7 .7-4.2 .7,6.3 .7-17.8 .7,8 .7,6.7 .7-6.1 .7,12 .7,.1 .7-4.5 .6,5.9 .8-7.4 .7,3.9 .7,2.8 .7-4.8 .7,13.6 .7-6 .7,8.1 .7-5 .7,2.6 .7-5.6 .7,3.7 .7-.3 .7,4.9 .7,5.4 .7-9.1 .7,1.8 .7,2.4 .9,1.6 .5-5.3 .7-1.5 .7-.7 .7,3.3 .7,1.8 .7-3.8 .7,1.9 .7,6.1 .7-3.9 .7-2 .7,5.8 .7,.3 .7-.4 .7,.2 .7-4.9 .7,2.2 .7,.7 .7-.7 .7-9.4 .7,8.4 .7,2.5 .7,.9 .7-3.3 .7,1.7 .7-8.6 .7,1.3 .7-6.9 .7,13.9 .7,8.7 .7,.5 .7-14.3 .7,8.9 .7,1.7 .7-8 .7-8.1 .7,16.3 .7-7.6 .7-.3 .7,10.1 .7-6.3 .7,2.1 .7,4.3 .7-9.3 .7-4 .7,9.3 .7-3.6 .7,2.9 .7-2.1 .7-4.6 .7,3.5 .7-2.8 .7-.5 .7,1.2 .7,1.7 .7-1.7 .7-7.4 .7,9.2 .7-8.7 .7,16.6 .7-14.7 .7,3 .7,6.8 .7-7.3 .7-5.7 .7-.6 .7,7.4 .7,.4 .7,1.1 .7-2.7 .7-4.3 .7,3.7 .7,4.8 .7-10.9 .7,20.5 .7-20 .7,7.8 .7,3.3 .7-5.3 .7-3.4 .7,2 .7,3.6 .6-19.8 .8,15.2 .7-3.9 .7-1.1 .7,3.4 .7-.2 .7,1.6 .7-4.8 .7,7.7 .7-16.1 .7,6.5 .7-2 .7,6.6 .7-3.6 .7,4.5 .7-6.5 .7,9.2 .7-2.2 .7-6.4 .7-6.4 .7,3.3 .7-1 .7,13.3 .7-2.1 .7-10 .7,15.3 .7-11.6 .7-9.8 .7,16.4 .7-.1 .7-6.8 .7-4.5 .7,10.3 .7-8.6 .7,1.2 .7,2.4 .7-.7 .4-3.5 .3-3 .7,7.8 .7-14.3 .7,11.8 .7,0 .7,.2 .7-4.8 .7,2 .7,2.1 .7-10.3 .7,3.9 .7,1.7 .7-8.6 .7,1.1 .7,11.3 .7-3 .4-8.5 .3,6.4 .7-1.6 .7,6 .7-.4 .7-16.4 .7,10 .7,9 .7,2.7 .7-11.3 .7-3 .7,7.6 .7-3.1 .7,4 .7-4.8 .7,10.6 .7,.1 .7,.8 .7-6.6 .7-1.8 .7,2.8 .8,10.3 .6-11.2 .7,11.6 .7,5.4 .7-11.2 .7,2.9 .7,4.7 .7,.3 .7-8.2 .7,1.7 .7,.8 .7-2.4 .7,4.2 .7-1.7 .7,4.3 .7-14.4 .7,13.3 .7-1.3 .7-4.6 .7,2.1 .7,3.1 .7-3.7 .7-2.5 .7,1.3 .7-4.9 .7-3.2 .7,2.5 .7-.2 .7,4.6 .7,2.6 .7-2.7 .7,5.8 .9-8 .5-2.8 .7,.1 .7-.4 .7,3.4 .7,9.2 .7-13.5 .7,9.8 .7-2 .7,4 .7-6.3 .7,4.8 .7-5.3 .7,5.7 .7-12.9 .7,12.1 .7,2 .7-10.6 .7,11.8 .7-8.6 .7,10.4 .7-4.6 .7,3.7 .7-1.6 .7-7.2 .7,13.3 .7-1.4 .7-10.5 .7,7.7 .7,.9 .7-5.2 .7-.6 .7,12 .3-7.5 .4,6.2 .7,3.3 .7-7.1 .7-7.7 .7,9 .7-12.4 .7,2.1 .7,19 .7-18 .7,5.5 .7-7.3 .7,5 .7,.9 .7-14.9 .7,8.8 .7,5.8 .7,1.6 .7-2.8 .7-5.8 .7,6.4 .7-5.5 .7-1.5 .9,2.4 .5,12.3 .7-16 .7,10.4 .7-2.3 .7-7.6 .7,3.5 .7,2.9 .7-.1 .7,4 .7-5.4 .7,.7 .7,9.7 .7-3.9 .7-4 .7,4.1 .7,10.2 .7-10.7 .7-3.1 .5,12 .9,4.1 .7-2.9 .7-13.5 .7-4.8 .7,14.6 .7-8.4 .7,2.9 .7-4.7 .7,7.8 .7-8.8 .7-2.3 .7,2 .7-7.8 .3,5.3 .4-2.1 .7-11.1 .7,3.3 .7-2.5 .7-2 .7,7.7 .7,2 .7-5.7 .7-10.5 .7-2.9 .7,9.6 .6-6.6 .8,.3 .7-5.8 .7-4.2 .7,20 .7-13.2 .7,2.1 .7-4.8 .7,12.1 .7-8.9 .7,1.3 .7,.4 .7-.9 .7,8.5 .7-15.3 .7,11.5 .6-7.4 .8,1.7 .7,.6 .7,5 .7-7.6 .7,4.9 .7,6.8 .7-4.3 .7,2.5 .7,4.5 .7,.6 .7-1.2 .7,2.3 .7-2.9 .5,9 .9-9.1 .7-3 .7,10.7 .7-7.8 .7,2.6 .7,2.5 .7,5.2 .7-5.5 .7-.3 .7,.4 .7,4.2 .7-4.2 .7,4.3 .7,5.6 .7-7.8 .7-.1 .7-2.8 .7,1.7 .7-2.9 .7,1.7 .7,3 .7,4 .4,1.3 .3-3.9 .7,4.1 .7-8.6 .7,16.8 .7,2.5 .7-13 .7,2.9 .7-2.2 .7,4.9 .7-6.7 .7-3.3 .7,11.4 .7-8 .7,6.6 .7-6.8 .7-.2 .7,8.4 .7,3.9 .7-8.5 .7-.3 .7,4.1 .7-2.7 .7-5.3 .7,8.7 .7-10.7 .7,14 .7-3.8 .8,4.2 .6-8.3 .7,2.9 .7,6.6 .7,3.2 .7-3 .7-2.7 .7-6.5 .7,8.3 .7-1.5 .7-1.7 .7,9 .7-9.4 .7,12.1 .7-11.6 .7,.1 .7,3.6 .7-6.5 .7,4.6 .7,3.5 .7-8.2 .7,4.3 .7-3 .7,4.8 .7,7 .7-8.2 .7,1.7 .7,2.2 .7-6.4 .7,6.5 .7-2.1 .7-.3 .7-4.7 .7,5.2 .7,7.9 .7,1.2 .7-7.8 .5,1.2 .9-1.8 .7-3.5 .7-3.2 .7,17 .7-12.7 .7,6.8 .7,5.7 .7-8.4 .7,1.6 .7,2.1 .7-3 .7,2.5 .7-2.9 .7,6.7 .7-3.5 .7-8.3 .7-.9 .7,3.5 .7,.2 .7-1 .7,8.9 .7-7.6 .7,1.6 .7,3.2 .7-10.5 .7,12 .7,.3 .7,4.5 .7-12.4 .7,1.8 .7,4.1 .7-3.2 .7-5.7 .7,11.1 .7-5 .7,4 .3-8.1 .4,10.5 .7-5.7 .7-2.3 .7,6.9 .7,1.3 .7-9.5 .7,9.6 .7,2.9 .7-7 .7-7.9 .7,9 .7,3.1 .7-11.3 .7,12.6 .7-8.7 .7,.1 .7,5.4 .7-4.5 .7,5 .7-6.1 .7,2 .7-1.7 .7,1.8 .7,1.6 .7-.3 .7-4.5 .7,6.1 .7-5 .7,5.4 .7-3.7 .7-3.9 .7-2.2 .4,3.5 .3,6.2 .7-5.9 .7,3.7 .7-4.9 .7-2.1 .7-2.6 .7-5.6 .7,10.4 .7-.9 .7-1.2 .7,3.8 .7-8.1 .7,12.1 .7-15.2 .7,7.6 .7-7.5 .7,4.5 .7,6.4 .7-13.6 .7,8 .7-.2 .7,1.7 .7,0 .7,2.7 .7-1.7 .7-.1 .7,1.8 .7-1.9 .7-4 .7-6.2 .7,9.6 .7-6.4 .4,8.8 1-10.8 .7-3.6 .7,11.5 .7-8.7 .7-4.3 .7,12.9 .7-13 .7,13.6 .7-10.8 .7,5.7 .7-1.1 .7-9.8 .7,8.7 .7-2.6 .7,1.1 .7,2 .7,4 .7-8.5 .7-.2 .7,10.8 .7-7.5 .7,0 .4-10.7 .3-.5 .7,3.2 .7-.2 .7,3.6 .7,9.6 .7-19.7 .7,2.7 .7,3.3 .7-2 .7,1.2 .7-7.7 .7-4.3 .7,14.6 .7-8.1 .7-8.9 .7,4.6 .7,.2 .7-7.3 .7,10.4 .7-4 .8-3.1 .6-.7 .7,12.4 .7-7.5 .7-2.1 .7-5.1 .7,6 .7,9.6 .7,5.1 .7-12.3 .7-3.6 .7,11.2 .5-.4 .9,5.8 .7-7.4 .7,4.9 .7-9.2 .7,4 .7,4.7 .7,1.2 .7,6 .7,4 .7-11.8 .7,14.7 .7-11.4 .7,1.7 .7,8 .7-15.6 .7,4.9 .7,4.4 .7,5.4 .7,5.2 .7,.3 .7-9.7 .7,9 .7-5.8 .7,9.5 .7-8.6 .7,6.3 .7-8.7 .7,8.4 .7-9.1 .7,7.2 .7-8.2 .7,7.9 .7-4.5 .7-.7 .7,5.5 .7,2.3 .7-2.1 .7,.5 .7,2.9 .7,2.4 .7-.8 .7-2.2 .7,7.7 .7-11.8 .7,5.9 .7-8.4 .7,17.1 .7-13 .7,1.7 .8,6.3 .6-6.7 .7-3.1 .7-4.3 .7,8.7 .7,10.9 .7-8.7 .7,7.1 .7-4.9 .7-6.4 .7-5.6 .7,6.2 .7,3.2 .7-3.7 .7,2.4 .7,1.3 .7-3.8 .7-5.1 .7,6.3 .7,4.7 .7-7 .7-.3 .7,0 .7,4.4 .7,.7 .7,.8 .7-5.6 .7,6.8 .7-2.7 .7-1.6 .7-4.8 .7,2.7 .7,3.2 .7,2.9 .7,1.6 .7-1.1 .7,.8 .7-6.2 .7,8.9 .7,0 .7-.6 .7-7 .7,1.8 .7-1.6 .7-4.6 .7,5.9 .6-5.6 .8-.3 .7,11.5 .7-.5 .7,1.8 .7-7.2 .7,2 .7,2.4 .7-3.5 .7-7.8 .7,20 .7-3.5 .7-.6 .7-5.7 .7-4.9 .7,3.5 .7,1.3 .7-8.3 .7,5 .7,4.9 .7,3.9 .7-3.3 .7-5.1 .7-4.6 .7,16 .7-9.9 .7,4.2 .7-3.5 .7-7.1 .7,16.7 .7-7.9 .7,2.8 .7-10 .7,3.8 .7,8 .7-8 .7-1.2 .7-1.9 .7-1.4 .7,10 .7-4.5 .7-8.9 .7,15.4 .7-1.5 .7-.4 .7-14.2 .5,9.2 .9,5.4 .7-11.4 .7,1.4 .7,2.7 .7-9.2 .7,10.7 .7,4.8 .7-1.2 .7,3 .7-7.4 .7,.2 .7-1.1 .7-3.3 .7-2.5 .7,2.5 .7,3.8 .7-3.4 .7,3 .7,.7 .7,3.7 .7-5.6 .7-8.2 .7,6.2 .7,13.3 .7-5.4 .7-5.9 .7,.4 .7,1 .7-2.3 .7,2.9 .7,2.5 .7,2.2 .7-7 .7,.6 .7-.1 .7,2.2 .7,4.5 .7-8.9 .7,14.7 .7-8.6 .7,2.4 .7-8.7 .7,2.3 .7-.7 .7,2.9 .7-9.6 .7,11.9 .7-11.4 .9,10 .5,3.5 .7-6.2 .7-.5 .7,.3 .7,.1 .7,2 .7,3.2 .7-.8 .7,4.6 .7-6.6 .7-2.5 .7,0 .7-4.4 .7,4.5 .7-1.7 .7,11.6 .7-6.6 .7,7.2 .7-17 .7,10.8 .7,3.5 .7-3.2 .7-3.6 .7,2.5 .7-.1 .7,0 .7,.8 .7,4.2 .7-2.6 .7,0 .7-1.7 .7,2.3 .7-5.2 .7,5.7 .7-4.8 .7,5.7 .7-6.7 .7,2.3 .7-.5 .7-4.2 .7,9 .7-3 .7-.7 .7,5.7 .7-6.6 .7,1.5 .7,6 .8,6.5 .6-11.7 .7,7.4 .7-7.3 .7-4.6 .7,7 .7,3.5 .7-5.9 .7,1.5 .7-7.4 .7-5.8 .7,10.8 .7-8 .7,7.3 .7-3.5 .7,3 .7,2.8 .7-11.3 .7,7.6 .7-.8 .7,7.6 .7-5.9 .7-3 .7,.7 .7,10.1 .7-13.1 .7,4.4 .7,.6 .7-8.6 .7,2.1 .7-5.2 .7,4.9 .7,7.2 .7-2.5 .7-8.9 .7,16.2 .7-12.9 .7,2 .7,11.4 .7-5.3 .7-2 .7,6.4 .7-7.5 .7,1.9 .7-4.6 .7,2.6 .7-1.1 .7,5.6 .7-8.8 .7,2 .7-9.3 .7,1.1 .7,11.5 .7-5 .7,0 .7,4.5 .7-4.7 .7,3.2 .7-1.7 .7-9.7 .7,13.1 .7,4.9 .7-.7 .7-5.3 .7,1.2 .7,1.8 .7,5 .7-2.3 .7-7.7 .7,.9 .7,0 .7-2.3 .7-.5 .7,3 .7-10.9 .7,12.1 .7-4.4 .7-3.6 .7,4.7 .7-3.7 .7,8.5 .7-10.3 .7,5.4 .7,1.5 .7-5.2 .7-1.7 .7,8.1 .7-4.3 .7-3.4 .7-2.8 .7,9.5 .7,4 .6-9.8 .8,5.1 .7,3.5 .7-.2 .7-7 .7,6.3 .7,1.4 .7,9 .7-11.4 .7,4.3 .7-1.5 .7-1.4 .7-8 .7,6.4 .7,6.3 .7-8 .7,3.3 .7-4.4 .7,5.2 .7,.7 .7,1.7 .7-5.5 .7-.3 .7-1 .7,3.6 .7-.2 .7,9.7 .7-14.3 .7,6.2 .7-4.9 .7,1 .7,7.1 .7-2.5 .7,1.6 .7-7.6 .7,18.5 .7-2.9 .7-12.4 .7-2.5 .7,2.3 .7,3.5 .7-5.9 .7,6.9 .7-4.5 .7,14.7 .7-13.3 .5-.2 .9,11.3 .7-8.3 .7-2.8 .7,.6 .7,2.7 .7-4.8 .7,2.3 .7-3.2 .7-3.6 .7,4.7 .7,1.9 .7,6.4 .7-5.6 .7-3.5 .7,2.2 .7,1.8 .7-13.7 .7,8 .7-8.6 .7,1.8 .7,5 .7,2.9 .7-.1 .7-.3 .7,5 .7-3.5 .7-.7 .7-3.8 .7,11.2 .7-2.4 .7-9.1 .7-.1 .7,6.7 .7,1.1 .7-6.9 .7,6.5 .7-10.4 .7,4.1 .7,5.4 .7-8.1 .7,3.5 .7-.5 .7-1.9 .7-8 .7,6.3 .4,2.1 .3,.6 .7,1.8 .7,.8 .7-5.2 .7,.2 .7,9.4 .7-3.4 .7-4 .7-1.6 .7,5.7 .7,.8 .7-5.9 .7,2 .7-2 .7,.1 .7,8.6 .7-15.3 .7,10 .7-8.2 .7,1.6 .7,7.6 .7-9.9 .7,2.4 .7-1.5 .7,2.8 .7,4.2 .7,3.2 .7-8.9 .7,5.7 .7-9.5 .7,15.1 .7-12.5 .7-.3 .7,3.9 .7-.2 .7-1.8 .7-7.3 .7,12 .7-1.1 .7-6.1 .7-4.3 .7,6.4 .7,3.6 .7-13.6 .7,3.1 .7,4.9 .3-3.6 .4,2.7 .7,.9 .7,3.8 .7,.4 .7,1.2 .7-.1 .7-8.1 .7-8.7 .7,12.6 .7,.5 .7,.8 .7-6.3 .7,12.7 .7-16.2 .7,11.1 .7-1.6 .7,.4 .7,3.3 .7-5 .7-2.1 .7-2.8 .7,5.2 .9-2.1 .5,1.9 .7-8.5 .7-.5 .7,7.8 .7,2.2 .7-9.3 .7,2 .7,3 .7,3 .7,.5 .7,3.8 .7-5.6 .7,3.1 .7,4.5 .7-7.5 .7,13 .7-12.9 .7,3.5 .7-9 .7,8.5 .7-2.3 .7-1.6 .7,4 .7-6.9 .7,6 .7-9.9 .7,7 .7,8.8 .7-4.8 .7,2.9 .7-6.8 .7-2.2 .7,14.2 .7-1.2 .7-1.1 .7-4 .7,6 .7-7.6 .7,5.2 .7-.1 .7-6.7 .7,10.7 .7-7 .7,3.9 .7-11.4 .8,1.5 .6,3.1 .7,4.2 .7,3.3 .7-4.1 .7-2.4 .7,3.9 .7-3.5 .7,1.5 .7,2.1 .7-4.6 .7,5.2 .7-9.5 .7,2.9 .7,7.9 .7-7 .7,4.8 .7-1.3 .7-1.1 .7,8.6 .7-5.2 .7-4.4 .7,.2 .7,3.5 .7-8.6 .7,12.1 .7-6.7 .7-8.8 .7,3.7 .7,11 .7-4.6 .7,8.5 .7-8.5 .7,2.2 .7,7.3 .7,1.1 .7-14.6 .7,8.5 .7-9.5 .7,3.6 .7-6.5 .7,11.2 .7-6.1 .7,1.2 .7,13.2 .7-4.3 .7-4.4 .7-7.4 .7,9.2 .7-11.6 .7,6.4 .7,6.5 .7,.2 .7-3.9 .7,2.6 .7-2.2 .7-5.9 .7,4.5 .7,8.1 .7-7.6 .7,2.3 .7,.2 .7-7.9 .7,2 .7-2.2 .7,8.2 .7-3.9 .7-3.6 .7-.3 .7,8.5 .7,1.2 .7-1.6 .7-2.2 .7,1.4 .7-2.4 .3,2.3" fill="none" stroke="#ED7D31" stroke-width="6" stroke-linejoin="round" stroke-linecap="round"/>
<path d="M275.1,449.7l.7,4 .7-4.3 .7,9 .7-3.6 .7-3.3 .7,6.7 .7,6.2 .7-2.8 .7-6.2 .7,7.9 .7-3.7 .7,2.8 .7,.4 .7-5.3 .7,7 .7-3.5 .7,11.3 .7-3.5 .7-2.7 .7-5.3 .7,5.3 .7,1.2 .7-7 .9,16.4 .5-8.5 .7,6.5 .7-12.6 .7,13.6 .7-12.7 .7,3.9 .7,5.2 .7-2.1 .7-11.7 .7,5.3 .7,8.8 .7,5.5 .7-4.7 .7-5.4 .7,5.7 .7-8.7 .7,7.4 .7-8.4 .7,6.8 .7-1.1 .7,4.8 .7-5.6 .7,7.9 .7-7.1 .7,4.7 .7,.1 .7-12.2 .7,9.3 .7-.1 .7-3.1 .7,3.9 .7-7.7 .7,9.2 .7-.1 .7-1 .7,10.1 .7-10 .7-.5 .7-3.5 .7,4.7 .7-5.6 .7,11 .7-8.4 .7,4 .7,9.1 .7-3.1 .7-4.3 .7,4.2 .7-6.3 .7,3.2 .7-4 .7-4.6 .7,6.9 .7,3.7 .7-6.3 .7-2.8 .7,3.3 .7-9.1 .7,8.9 .7-2.5 .7,14.5 .7-12.4 .7-3.8 .7,11.7 .7-5.5 .7,1 .7,1.6 .7,.5 .7-3.6 .7,6.6 .7-1.7 .7-3.8 .7,1.7 .7-3.2 .7,5.7 .7,2.7 .7-1 .7-.7 .7-3.6 .7,8.1 .7-8 .7,1 .6-1.6 .8,2.3 .7-1.3 .7,10.6 .7-7.3 .7-9.5 .7,6.5 .7-4.2 .7,10.6 .7,2.4 .7-8.9 .7,6.1 .7-3.3 .7,3.2 .7,6 .7-9.5 .7-2.7 .7,8.6 .7-1.2 .7,1.1 .7,3.7 .7-7.7 .7-6.4 .7,14.1 .7-6.4 .7-4.4 .7-1.3 .7,11.3 .7-4.7 .7,.6 .7,2.6 .7-6.6 .7-1.4 .7,.9 .7-.3 .7,4.2 .7-2.3 .7,5.6 .7-2.3 .7,3.1 .7,3.1 .7,4.2 .7,.7 .7-6.8 .7,2.1 .7-3.6 .5,7.6 .9,2.5 .7-8.9 .7,5.2 .7-6.3 .7,.8 .7,1.7 .7-1.9 .7,5.8 .7-10.4 .7,4.6 .7,2.6 .7-5.3 .7,6.1 .7-9.5 .7,7.9 .7-7.5 .7,6.3 .7,4.3 .7,8.3 .7-4.6 .7,2.8 .7-6.9 .7,9.9 .7-10.8 .7-.4 .7-4.8 .7,7.4 .7,3.6 .7-7.3 .7,1.4 .7,.4 .7,.8 .7-1 .7-2.8 .7,11.7 .7-16.1 .7,4.9 .7,5.7 .7,2.6 .7-5.3 .7,.9 .7,2.1 .7-.5 .7,5.5 .7-6 .3-3.1 .4,2.1 .7,2.7 .7,4.7 .7,1.5 .7-8.7 .7-4.4 .7,1 .7,16.4 .7-12 .7,4.7 .7,6.2 .7-12.1 .7,2.8 .7-2.3 .7-2.4 .7,9 .7,1.5 .7-14.7 .7,12.5 .7-5.4 .7,1.6 .7,.1 .7-6.7 .7,5.2 .7-3.1 .7,13.3 .7,1.4 .7-10.4 .7-6.1 .7,10.7 .7-6.6 .7,9.7 .7,1.2 .7-.3 .7-10.2 .7-2.9 .8,2 .6,1.6 .7-4.5 .7,8.7 .7-3.1 .7-3.8 .7-2 .7,5.1 .7,3.7 .7-15.8 .7,10.6 .7-2.3 .7-2 .7,2.2 .7,.8 .7,8.9 .7-8.7 .7-2.1 .7-4.6 .7,8.5 .7-5.8 .7,2.6 .7,2.8 .7-3.4 .7-2.1 .7,1.2 .7,3.6 .7-5 .7,1.9 .7,.2 .7-3.9 .7,2.7 .7-2 .7,7.3 .7-2.6 .7-9.5 .7,7.6 .7,7.3 .7-4.9 .7-.5 .7,6.8 .7-8.7 .7,5.2 .7,3 .7,.9 .7-9 .7-.8 .7,11.5 .7-9.4 .7,2.7 .7,11.8 .7-13.1 .7-6.9 .7,25.2 .7-7.8 .8-2.3 .6,11.5 .7-12.4 .7,6.3 .7-7.1 .7-1.9 .7,5.5 .7,1.4 .7,1.4 .7,0 .7-8 .7,1.7 .7,8.9 .7-5.9 .7-1.6 .7,6.4 .7,1.8 .7,1 .7-8.3 .7,1.3 .7,5.3 .7,2.8 .7-12.3 .7,3.4 .7,.8 .7,6.2 .7-10.1 .7,17.3 .7-11.9 .7,1.9 .7,8.3 .7-8.2 .7,.4 .7-4.4 .7,3.2 .7-5.5 .7,5.2 .6,1.5 .8-4.8 .7,10.2 .7-2.4 .7-11.5 .7,12.4 .7-7.9 .7,8.1 .7-6.7 .7,2 .7,3.2 .7,6.9 .7-16.9 .7,5.1 .7-.1 .7,6.4 .7-6.5 .7,3 .7,5.2 .7-2.1 .7-4.7 .7,1.1 .7,1.5 .7,2.9 .7-4.7 .7,3.7 .7,2.5 .7-5.7 .7,.1 .7,3 .7,2 .7-10.4 .7,1.9 .7,11.7 .7-5.8 .7-4.5 .7,6.5 .7,7.4 .7-9.8 .7-2 .7,3.8 .8,8.6 .6-10.6 .7,4.4 .7,2.6 .7-2.1 .7-4.9 .7,5.2 .7-1.9 .7,4.2 .7-2.4 .7-.1 .7-8.9 .7,11.5 .7-3.5 .7-9.5 .7,10 .7,1.4 .7-1.1 .7-10.7 .7,8.2 .7-.3 .7,2.4 .7-9.6 .7,11.6 .7,.9 .7,.7 .7-3.4 .7-.6 .7,5.5 .7-2.3 .7-3.9 .7,3 .7,3.2 .7,3.5 .7-3.9 .7-6 .7,1.4 .7,2.4 .7-.5 .7,3.3 .7-12.9 .7,5.8 .7-1.5 .7,10.6 .7-1.3 .7-1.1 .7,2.2 .7-6.8 .7,4.3 .7-.6 .7-.2 .7-1.1 .7,5.8 .7,1.2 .7-10.7 .7,4.1 .7,4.3 .7,2 .7-10.1 .7,3 .7,3 .7,9.4 .7-12.7 .7,2.2 .7,1.3 .7-.1 .7,.7 .7-.2 .7-.9 .7,2.8 .7,.5 .7,.1 .7-.1 .7-7.7 .7,6.6 .7,.2 .7,3 .7,.9 .7,4.2 .7-10.4 .7,1.7 .7,1.3 .7-4 .7,1.2 .7,.2 .7-1.1 .7,14.6 .9-10.8 .5,6.3 .7-11.5 .7,4.4 .7-4.2 .7,4 .7,4.7 .7,.9 .7-6.2 .7-1.8 .7-3.2 .7,.4 .7,4.3 .7-14.6 .7,5.6 .7-4.6 .7,8.5 .7-10.8 .7,9.5 .7-9.8 .7-.4 .7,11.3 .7-3 .7-10.2 .7-5 .7,1.4 .3,6.6 .4-3.2 .7-3.7 .7,7.5 .7,4.2 .7-9.9 .7,5.3 .7-2.6 .7,9.4 .7-2.9 .7-2.7 .7-4.6 .6,11.6 .8-3.3 .7,3.5 .7-1.9 .7,3.5 .7-8.8 .7,5.2 .7,5.4 .7,6.6 .7-6.5 .7-1.3 .7-1.5 .7,.4 .7,2.6 .5-2.8 .9,4.7 .7,.3 .7,8.6 .7-8.8 .7,5.8 .7-6 .7,6.5 .7,7 .7-13 .7-2.9 .7,12 .7-4.9 .7-.3 .7,3 .7-.3 .7,5 .7-4.8 .7-3.8 .7-2.5 .7-2.2 .7,4.2 .7,9.8 .4-11.5 .3,7 .7,5.4 .7-1.7 .7,3.9 .7-2.2 .7,5 .7-9.1 .7,.3 .7,12.8 .7-7.7 .7-.9 .7-3.2 .7,9.9 .7-5.1 .7-.1 .7-4.8 .7,3.9 .7-2 .7,1.2 .7,1.5 .7-3.9 .7-2.1 .7,7.5 .7-8.1 .7,12.3 .7,2 .7-12.9 .7,14.9 .7-11.1 .7,10.2 .7-8.9 .7,5.8 .7-8.5 .7,7.8 .7-2.7 .7,7.6 .9-2.8 .5-8.3 .7,5.2 .7-4.3 .7,3.6 .7,6.2 .7-.8 .7-6 .7-3.5 .7,4.1 .7,9.7 .7-11.2 .7-5.6 .7,1.5 .7,1 .7,10.7 .7-6.8 .7-1.6 .7,4.2 .7,2.1 .7-6.3 .7-3 .7,5 .7,3.1 .7-10.3 .7,1.3 .7,17 .7-7.4 .7,.1 .7-8.2 .7,1.2 .7,3.1 .7,6 .7-5.4 .7-8.7 .7,14.8 .7,.8 .7-3 .7-8.8 .7,2.5 .7,2.3 .7,2 .7,6.8 .7-15 .7,3.4 .7,3.3 .7-2.2 .7,.6 .7-4.6 .7,7.2 .7-1.7 .7,2.1 .7,3.6 .7-6 .7,1.1 .9,1.3 .5-2.5 .7,3.3 .7-9.2 .7,4.4 .7,6.4 .7-.9 .7,1.3 .7-9.7 .7,3.5 .7,1.3 .7,.2 .7-1.1 .7,8.5 .7-9 .7,.9 .7,4.2 .7-.6 .7-1 .7,7.4 .7-4.7 .7-3.4 .7-2.8 .7,10.9 .7-8.6 .7,4.6 .7-4.7 .7,12.2 .7-7.3 .7-12 .7,9.4 .7-6.9 .7,4.3 .7,6 .7-8.6 .7,7.3 .7-.9 .7,2.3 .7-8.2 .7,7.3 .7-4.9 .7,7.7 .7-5.9 .7,3.6 .7,3.8 .7-.8 .7-5.4 .7,2.5 .7-2.2 .7,3.2 .7,4.5 .7-12.7 .7-1.3 .7,8.4 .7-6.2 .7,7.5 .7-.6 .7-.2 .7-2.4 .7-2.3 .6-.9 .8,1.6 .7,1.2 .7-4.4 .7,7.7 .7-2.1 .7-9 .7-6.9 .7,17.2 .7-11.1 .7-7.5 .7,4.9 .7,7.9 .5,4.3 .9-4.6 .7,.2 .7-1 .7-1.7 .7-16.1 .7,.3 .7-4.2 .7,.7 .7-4 .7-.6 .8,4.7 .6-12.9 .7,3.5 .7-11.1 .7-5 .7,8.3 .7-8.5 .7-2.4 .7,2.7 .7-15.6 .9,1.9 .5,8.5 .7-8.7 .7,9.1 .7,6.7 .7,2.2 .7,2.2 .7,5.3 .7,.4 .4,3 .3-.3 .7-2.2 .7,8.6 .7,2 .7,10 .7,.1 .7,2.6 .7,1.7 .7,4.2 .7-2.3 .7,6.6 .7-.7 .7,2.9 .7-2.9 .7,17.8 .7-6.9 .7-6 .7,3.2 .7,4.8 .7-2.7 .7,5.8 .7-.4 .7,4.1 .7-17.2 .7,16.6 .5-1.5 .9,3.8 .7-7.1 .7-.4 .7-2 .7,7.5 .7-1.5 .7-7.9 .7,5.8 .7,2.1 .7-5.6 .7,3.9 .7,1.9 .7-3.1 .7-5.3 .7,12.8 .7-3.7 .7,.6 .7-5 .7,4.6 .7-4 .7,3.6 .7,.7 .7,2.5 .7-4.8 .7-1.8 .7,9.6 .7-12.5 .7,7.7 .7-2.1 .7,3.9 .7-5.7 .7-2.9 .7,5.6 .7-6.7 .7,1.4 .7,4.5 .3,1.4 .4-6.8 .7,12.1 .7-6.5 .7,7 .7-.7 .7-5 .7-1.5 .7-4.7 .7,12.2 .7,1.7 .7-6.4 .7-.6 .7-5 .7-.5 .7,4.3 .7,7.7 .7-6.5 .7,6 .7-2.1 .7-2.2 .7-3.3 .7,1.7 .7-4.6 .7,9.3 .7-1.8 .7-6.4 .7,1.6 .7-3.3 .7,7.8 .7,1.8 .7-7 .7,2.1 .7,2.8 .7-9.8 .7,8.9 .7,6.8 .7,.6 .7-7.2 .7,.7 .7,4.1 .7,0 .7,4 .7-5.2 .7-.2 .7,.6 .9,6.6 .5-13.2 .7,10.2 .7-5 .7,.7 .7-5.2 .7,3.5 .7-3.7 .7-7.7 .7,13 .7-8.1 .7,6.8 .7-6.1 .7,3.8 .7-.4 .7-6.1 .7,8.4 .7-3.6 .7-7.9 .7,20.1 .7-5.6 .7-1.1 .7-1.4 .7,3.4 .7-6.4 .7,5.9 .7,1.1 .7-6.7 .7,3 .7,.9 .7-7.2 .7,9.3 .7-2.2 .7,6.5 .7-5.2 .7-4.9 .7,4.3 .7-3.9 .7-9 .7,10.6 .7-4.6 .7,11.9 .7-4.5 .7,2.6 .7-2.1 .7-2.9 .7,3.5 .7-10.3 .7,11.5 .7-4.2 .7-7.9 .7,8.8 .7,3.7 .7-4.7 .7,8.1 .7-.9 .7-8.9 .7-1.4 .7,2 .7-1.7 .7,5.1 .7,1.9 .7-2.1 .7,1.1 .7-2.9 .7,.4 .7-2.6 .7,13.6 .7-6 .7-2.3 .7-5.1 .7-4 .7,3.4 .7,2.9 .7,.1 .7,4.6 .7-5.4 .7,4.9 .7-.1 .7,0 .7-3.7 .7,3.7 .7-3.1 .7-.9 .7-1.9 .7,.2 .7,1.7 .7,2.1 .7-5.8 .7,2.7 .7,1.8 .7,4 .7-4.6 .7,3.3 .7,.8 .7-3.9 .7,6.6 .7-10.5 .7-2.2 .7,.4 .7,2.1 .7,1.9 .7,1.1 .7,2.3 .7-4.8 .7,.1 .7,3.9 .7-4.8 .7,1.9 .7-3 .7-3.9 .7,5.6 .7-.2 .7,2.2 .7-1.3 .7-4.5 .7,10.9 .7-12.6 .7-2.6 .7,5.8 .7,1.4 .7,5.7 .7-5.1 .7,2.2 .7,1 .7,1.5 .7-12.7 .7,7.3 .7-7.3 .7,11.6 .7-9 .7,.4 .7,7 .7-2.1 .7-.1 .7,3.7 .7-5.2 .7-.6 .6,7.8 .8-7.5 .7,3.3 .7-5.7 .7,5.5 .7-.9 .7,3 .7,9.9 .7-18.6 .7,2.7 .7,2 .7,2.1 .7-7.7 .7,5.8 .7-4.2 .7,5.6 .7-3 .7,17.1 .7-12.3 .7,1.6 .7-14.2 .7,6 .7,2 .7,8.1 .7-11.1 .7,6.7 .7-6.3 .7,3.7 .7-7.7 .7,1.4 .7,5 .7,7 .7,.8 .7-5.2 .7-5.5 .7,10.2 .7-6.2 .7-1.7 .7,1.9 .7,.7 .7,9.7 .7-7 .7-2.6 .7-.3 .7-3.8 .7,13.9 .4-10.3 1,3.9 .7-5.6 .7,.8 .7-7.4 .7,9.2 .7,9.2 .7-2 .7-7 .7,3.6 .7-10.9 .7-2 .7,10.5 .7-9 .7,12.5 .7-3.7 .7-12.5 .7,3.5 .7-.9 .7,4.1 .7-5.4 .7,2.6 .7-7 .4,14.4 .3-3 .7-3.9 .7-9.1 .7,6.9 .7,12.7 .7-12.2 .7,3.1 .7-16.6 .7,9 .7,0 .7,6 .7-10.7 .7,8.1 .7,.5 .7-6 .7-2.2 .4,2.3 .3-6.6 .7-2.7 .7,1 .7,9.7 .7-1.6 .7,.8 .7-1.7 .7,3.3 .7,8.4 .7-9.7 .7-2.6 .7-.7 .7,1.7 .7,7.1 .3-2.6 .4-.8 .7,1.1 .7-5.2 .7,3.5 .7,3.6 .7,.2 .7,3.5 .7,3.6 .7-6.5 .7,4 .7,.5 .7-3.8 .7,5.7 .7,3 .7-12.4 .7,10.8 .7-.5 .7-.4 .7-8.1 .7,11.9 .7-4.4 .7-3.2 .7-2.5 .7,9.2 .7-2.6 .7-5.4 .7,13.8 .7-13.2 .7,9.3 .7-7.5 .7,4.1 .7,3.7 .7-4.5 .7,4.1 .7-2.9 .7,6.5 .7-4.3 .7-.2 .7-6.6 .7,1.4 .7,3.1 .7,7.7 .7-.4 .7-6.2 .7,5.6 .7-4.5 .7,.7 .7,0 .7-1.5 .7,4 .7,12.6 .7-15.3 .7,6.9 .7-1.4 .7-3.3 .7,3.1 .7-5.5 .7,1.6 .7,5.6 .7,.4 .7-7.9 .7-.5 .7-5.9 .7,10.3 .7-5.8 .7-1.7 .7,5 .7-1.2 .7-6 .7,12.4 .7-13 .7,.3 .7,12.1 .7-6.4 .7-6.5 .7,12.7 .7-.6 .7-4.8 .7,.4 .7,1.9 .7,3.4 .7-5 .7-5.4 .7,5.6 .8-1.2 .6-4.8 .7,4.5 .7-2.1 .7,6.4 .7,4.7 .7-4 .7,11.5 .7-11.1 .7-.8 .7-5.3 .7,8.1 .7-2.6 .7-9.5 .7,4.6 .7,6 .7-4.7 .7,3.4 .7-.9 .7,7.7 .7-17.9 .7,5.4 .7-5.7 .7,3.4 .7,14.5 .7-4.2 .7-1 .7-3.4 .7,.4 .7,8.8 .7-16.2 .7,10.8 .7,.4 .7-8.7 .7,5.4 .7-4.5 .7,4.9 .7,4.6 .7-2.7 .7,4.6 .7-1.5 .7-14.3 .7,14.1 .7-10.6 .7-7.9 .7,12 .7-1.8 .7,13.6 .7-4.5 .7-.1 .7-4.4 .7,4.1 .7-7.1 .7,7.9 .7-7.6 .7,.8 .7,2.5 .7-4.4 .7,17.1 .7-12.6 .7-3.3 .7-2.7 .7,.7 .7,2.2 .7,2.4 .7-10.4 .7,5 .7,11.3 .7-6.3 .7-1.5 .7-1.2 .7,1.9 .7,1.6 .7,6.3 .7,.1 .7-9.1 .7-1 .7,4.9 .7-4.5 .7,6.8 .7-.5 .7-8.7 .7-7 .7,3.5 .7,5.1 .7-5.5 .7,7.3 .7-.4 .7-1 .7,.5 .7-1.5 .7,6.3 .6-11.5 .8,11.5 .7,8.2 .7-5.5 .7-6.9 .7-.8 .7,3.2 .7-2.3 .7,8.6 .7-10.5 .7,2.2 .7-5.5 .7,8.8 .7-10.1 .7,11.7 .7-1.3 .7-9.2 .7,7.9 .7-3.8 .7-1.6 .7-3.3 .7-1.9 .7,1.9 .7-.4 .7,8.1 .7-5.1 .7,15.2 .7-8.9 .7,3.2 .7-9.2 .7,10.3 .7-9.3 .7,5.6 .7-2.4 .7,1.6 .7-8.6 .7,.9 .7,8.3 .7-1.6 .7-4.8 .7,6 .7-2.4 .7-2.5 .7,12.4 .7-20.2 .7,9.9 .7,4.4 .7-2.3 .7,7.2 .7-6.8 .7-.8 .7-6.3 .7,11.7 .7-9.9 .7,1.4 .7,.4 .7,4.5 .7-4.8 .7,1.7 .7-2.6 .7-5.6 .7,5.1 .7,13 .7-12.5 .7,3.7 .7,11 .7-16.2 .7,7 .7,2.3 .7-10.7 .7,11.1 .7-2.5 .7-9.3 .7,5.4 .7-5.7 .7,19.6 .7-2.9 .7-9.9 .7-3.7 .7,6.5 .7-7.7 .7,4.3 .7-4.4 .7,4.3 .7,3.3 .7-1.2 .7,1.5 .7-4.9 .7,5.8 .7-4.2 .7,2.1 .7,5.8 .4-6.2 .3-5.6 .7,8.5 .7-8.4 .7,4.8 .7-1.2 .7-10.1 .7,2.9 .7,2.5 .7,6 .7,2.5 .7-4.2 .7,10.2 .7-6.6 .7-10.4 .7,11.3 .7-8.4 .7,1.3 .7,2.5 .7,.2 .7,1.3 .7,1.3 .7,1.8 .7-8.1 .7,4 .7,4.5 .7-9.6 .7,9.6 .7-.6 .7-5 .7,6.9 .7-3.7 .7,1.2 .7,4.7 .7-8.9 .7-5.7 .7,3.4 .7-3.3 .7,9.6 .7-7.2 .7,.4 .7,.2 .7,7.5 .7-3.4 .7,1.5 .7-2.9 .7-5.1 .7-.7 .7,10.2 .7-6.7 .7,5.4 .7-7.9 .7,4.4 .7-1.9 .7-1.4 .7,6.8 .7,1.2 .7-6.2 .7,11.3 .7-9.8 .7-7.7 .7,10.1 .7-8.8 .7,4.8 .7,2.6 .7,4.5 .7-2.1 .7-5.9 .7,10.1 .7-4.6 .7,4.9 .7,.2 .7-6.3 .7-4 .7,6.7 .7-3.4 .7-1 .7,.8 .7-4.5 .7-.5 .7,2.4 .7,3.8 .7-1.7 .7,4.3 .7,.4 .7-1.4 .7-7 .7-3.3 .7,1.8 .7-.4 .7,8.9 .7-1 .7-12.1 .7,5.6 .7,1.8 .7-4.3 .7,2.8 .7-1.4 .7,2.5 .7,3.2 .7,.9 .7-5.4 .7,7.1 .7-8.5 .7,2.3 .7,.7 .7-2.8 .7,6.9 .7-4.7 .7-.5 .7,11.7 .7-7.9 .7-1.5 .7-9.1 .7,8.7 .7,8 .7-8.3 .7-1.4 .7,5.1 .7,.3 .7,2.4 .7-3 .7-4.6 .7-1.8 .7,6 .7,.3 .7,0 .7-5.1 .7,1.3 .7,8.7 .7-8.6 .7,4.4 .7-2.8 .7-8.3 .7,10.6 .7-6.9 .7,12.7 .7-8.9 .7-.7 .7,2.5 .7,.3 .7-1.6 .7,.4 .7,6.1 .7-5.6 .7,3 .7-3.5 .7,1.9 .7-5.9 .7,10.7 .7-11.5 .7-3.7 .7,2.2 .7,2.5 .7,3 .7,8.8 .7-13 .7,9.2 .7-7.7 .7,10.2 .7-2.8 .7,5.4 .7-9.8 .7,4.7 .7,1.7 .7-6 .7,.5 .7-2.3 .7-.2 .7,.9 .7-4.3 .7,9.8 .7-4.5 .7-3.8 .7,3.8 .7,.8 .7-3 .7,6.7 .7-6 .3,2.1 .4,10.3 .7-12.7 .7,3.6 .7,.8 .7-5.9 .7,3.7 .7,5.1 .7,4.4 .7-11.4 .7,5.2 .7-3.9 .7-.3 .7-2.8 .7,7 .7-11.4 .7,13.1 .7-1.4 .7-.3 .7-3.2 .7-4.8 .7-.6 .7,8.3 .7,1.5 .7-.9 .7-4.3 .7,8.9 .7,7 .7-12.9 .7-2.9 .7,3.1 .7,10.1 .7-12.8 .7,.6 .7,2.1 .7-.4 .7,3.7 .7-5.8 .7-3.5 .7,7.1 .7-.9 .7,9.5 .7-2.9 .7,3.5 .7-8 .7,1.5 .7,0 .7-2.9 .7-7.7 .7,9.6 .7-1.3 .7,6.2 .7-2.4 .7-7 .7,3.8 .7-5.8 .7,10.4 .7-6.1 .7-4.6 .7-3.8 .7,13.3 .7-.9 .7-6.6 .7,16 .7-14.5 .7,9.7 .7-9.5 .7,3.6 .7-3.8 .7,12.3 .7-4.3 .7-3 .7,.8 .7-.7 .7,0 .7-7.3 .7,8.2 .7,4.8 .7-10.4 .7-2.3 .7-.8 .7,2.2 .7,9.4 .7-2.3 .7-8.1 .7,12.9 .7-8.1 .7,4.3 .4-4.7 .3-3.2 .7,5.6 .7-3 .7,3 .7-1.2 .7-5.8 .7,7.3 .7-4.5 .7,4.6 .7,1.2 .7-1.9 .7,2.1 .7,3.2 .7-9 .7-2.1 .7-1.1 .7,10.3 .7-9.2 .7,7 .7,3 .7-11.1 .7,10.6 .7-12.1 .7,7.6 .7-2.8 .7-7.5 .7,6.8 .7,7.6 .7-8.2 .7-4.5 .7,10.7 .7,.6 .7-10.3 .7,4.8 .7-7.2 .7-.2 .9,8.6 .5-.4 .7,4.1 .7-4.4 .7-4.8 .7,5.1 .7-10.3 .7,1.8 .7,2.4 .7-2.9 .7,1.1 .7-4.7 .7,8 .7,1.8 .7-2 .7,3.6 .7-4.5 .7-.1 .7-10.9 .4,6.4 .3-9.1 .7,10.9 .7-5.8 .7-3.3 .7-1.8 .7-2.4 .7,2.3 .7-1.5 .7,2.7 .7-8.6 .7,3.2 .7,9.1 .7-17.1 .7,6.3 .7-4.3 .7,7.8 .4,1.1 .3-5.1 .7-.3 .7,2.3 .7,6.1 .7-7 .7,4.3 .7,8 .7-8.7 .7,.4 .7,10.8 .7,4.6 .7-1.8 .7,7.3 .7-15.5 .3,2.1 .4,5.7 .7-12.5 .7,9.2 .7,13.2 .7-3.5 .7-9.7 .7,15.1 .7-2 .7-5.5 .7-3.2 .7,7.7 .7,4.4 .7-5.4 .7-3.6 .7,7.3 .7,.8 .3-9 .4,1 .7,1.5 .7,8.1 .7-8.8 .7,4 .7,2.3 .7-6.1 .7,.5 .7,.3 .7,2.9 .7-3.1 .7,13.7 .7-6.2 .7,2.2 .7-9.3 .7-.7 .7-1.2 .7,1.5 .7,7.5 .7,2.2 .7,.6 .7-.3 .7-13.3 .7,6.5 .7,3.2 .7,2.3 .7-5.1 .7,1.6 .7-2.4 .7,.7 .7,4.3 .7-7 .7,1.1 .7,4.8 .7,.3 .7-1.6 .7,3.5 .7-6.1 .7,4 .7,5 .7-8.8 .7,1.8 .7,7.9 .7-7.1 .7,3.8 .7-7.7 .7,.6 .7-1.9 .7-.7 .7,11.3 .7-5.2 .7-2.5 .7,7.7 .7-4.5 .7,1.5 .7-1.5 .7,3 .7-10.8 .7-.7 .7,5.2 .7,2.3 .7-.4 .7-2.9 .7,5.7 .7-.4 .7-1.8 .7-.2 .7,6.9 .7-7.2 .7-5.6 .7,.4 .7,10.7 .7-6 .5,1.9 .9-.2 .7-1 .7-4.3 .7,1.9 .7,3.6 .7-6.9 .7,5.5 .7-.3 .7-5.1 .7,4.5 .7,2.7 .7-1.8 .7-5.1 .7,10.2 .7-8.1 .7,7.5 .7-.6 .7-2.7 .7,6.8 .7,4.8 .7-7.6 .7-2.9 .7-2.1 .7-.3 .7-6.4 .7,10.5 .7-6.9 .7-7.5 .7,12.9 .7-1.8 .7-5.3 .7,10.3 .7-3.7 .7,3.7 .7-7.3 .7,0 .7,2.3 .7,3.2 .7-2.9 .7,7.6 .7-9.5 .7,.2 .7-1.5 .7-.3 .7-2.5 .7-1.2 .7,5.6 .7,4.3 .7,5.4 .7-7.8 .7-7.2 .7,11.8 .7-9.2 .7,6.6 .7-2.8 .7-3.2 .7,.6 .7-1.1 .7,6.6 .7-7 .7,2.4 .7-2.3 .7,0 .7,6.3 .7,1.6 .7-6.4 .7,1.8 .7,4.5 .4-1.3 .3-5.8 .7,6.2 .7-3.3 .7-6.6 .7,3.4 .7-2.1 .7,7.1 .7,.5 .7,.7 .7-4.8 .7-.8 .7,.3 .7,1.5 .7-3.1 .7,4.3 .7,2.4 .7-13.4 .7,12.8 .7,.1 .7-10.6 .7,26 .7-16.2 .7-2.5 .7-8.6 .7,7.6 .7-.3 .7,2.1 .7-5 .7-2.2 .7-1.5 .7,6.4 .7-3.9 .7,4.6 .7,6.2 .7-15.1 .7,6.8 .7,11.5 .7-9.2 .7,6.6 .7-8.2 .7,6.9 .7-3.8 .7,.4 .7-10.1 .7,11.9 .7-5.5 .7-3 .7,7.2 .7-6.9 .7-3.5 .7,6.1 .7,3.2 .7-8 .7,3.1 .7,2.1 .7-7.4 .7-1.8 .7-3.9 .7-.6 .7,1.1 .7-12 .7,11.1 .7,6.3 .7-8.3 .5-.8 .9-3.3 .7,6.4 .7-4.6 .7,9.9 .7-7.5 .7,0 .7-1.4 .7-3.9 .7-10.8 .7,8.8 .7,5.2 .7-13.3 .7,10.1 .7-.9 .7,.5 .7-2 .7-.8 .7-3.2 .7,9.4 .7-11.6 .7,2.3 .7,3 .7,1.9 .7,9.2 .7-4.4 .7,5.7 .7-9.4 .7,3.6 .7-1 .7,4.6 .7,2.1 .6,2.6 .8-3.2 .7,9.8 .7-7.1 .7,6.8 .7,4.8 .7-1.5 .7-11.2 .7,14.8 .7-7.7 .7,4.4 .7-2.6 .7-.3 .7,1.4 .7,3.6 .7,2.2 .7-7.9 .7-2.3 .8,7.3 .6-4.2 .7,1.2 .7,9.1 .7-2.2 .7-6.4 .7,.4 .7-.4 .7,.3 .7,1.7 .7,1.3 .7,3.4 .7-5.7 .7-6.9 .7,8.7 .7-1.1 .7-1.5 .7,6.4 .7-12.4 .7,3.6 .7,2.6 .7,12.3 .7-11.6 .7,2.9 .7,3.4 .7-1.6 .7-10.9 .7,9.2 .7-3.2 .7,4.1 .7,2.9 .7-3.3 .7-4.3 .7-8.2 .7,12.4 .7,1.7 .7-1.2 .7-9.8 .7,3.9 .7-4.3 .7,9 .7-4.6 .7,4.6 .7-2.8 .7-3.6 .7-.6 .7,9.3 .7-.1 .7-5.7 .7-5.3 .7,2.9 .7,6.5 .7-3.7 .7-1.3 .7,9.2 .7-3.6 .7-5.8 .7-3.4 .7,15 .7-5.4 .7-7.5 .7,5.7 .7-2.1 .7-4.9 .7,5.9 .7-1.3 .7,3.4 .7-5 .7,5.1 .7-.2 .7,2.3 .7-6.2 .7,9.7 .7-6.7 .7,11.3 .7-9.7 .7-.8 .7-3.5 .7,8.1 .7,3.6 .7-5.5 .7-2.7 .7,1.5 .7,6.7 .7-8.9 .7,1.8 .7-2.5 .7,4.1 .7-1.7 .7,0 .7-.6 .7-2.5 .6,3 .8-2.8 .7-5.9 .7,11.3 .7-8.1 .7,8.6 .7-2.7 .7,2.5 .7-4.6 .7-9.1 .7,8.4 .7-5.3 .7,12.4 .7-3.2 .7-11 .7,11.6 .7-3 .7-12.2 .7,7.9 .7,1.6 .7,5 .7-1 .7-10.3 .7,14.1 .7-7.9 .7,5 .7-6.4 .7,7.4 .7-2.8 .7-5.2 .7-.8 .7,8.1 .7-.7 .7-5.2 .7,4.5 .7,3.8 .7-6.4 .7-4.4 .7,11.5 .7-7.5 .7,1.6 .7-6 .7,9.9 .7-2.4 .7-3.9 .7,4.1 .7-3.8 .7-1.5 .7-5.5 .7,12.7 .7-3.4 .7,7 .7-2.3 .7-7.1 .7,5.5 .7-7.6 .7,5.1 .7,7.4 .7-6.2 .7,.5 .7-6.9 .7,4.6 .7-.8 .7,3.1 .7-7.1 .7,.8 .7,11.7 .7-2.3 .7-2.8 .7-6.1 .7,.2 .7,2.7 .9,7.8 .5-1.9 .7,0 .7-1.3 .7,2.3 .7-6.9 .7,3.9 .7-10.4 .7,1.2 .7,3.9 .7,4 .7-4.6 .7,6.6 .7-.2 .7,.7 .7-5.4 .7,6.6 .7-5 .7,2 .7-13.2 .7,14 .7-3.7 .7,4 .7-3.7 .7,4.3 .9,.7 .5-6.8 .7,2.3 .7-9.6 .7,10.3 .7-3 .7,5.9 .7-3.8 .7-2.9 .7-5.2 .7,8.9 .7-4.7 .7,2.4 .7-1.8 .7-.6 .7,4.4 .7,4.3 .7-8.9 .7,3 .7,1.8 .7-5.8 .7,6.5 .7-1.9 .7-1.3 .7-.7 .7-3.2 .7-1.3 .7,8.9 .7-4.7 .7,4.9 .7-8.7 .7,4 .7,11.6 .7-3.6 .7-4.6 .7,3.2 .7-2.1 .7,2.4 .7-6.9 .7-8.3 .7,9.1 .7,2.4 .7-.5 .7,5.9 .7-8.2 .7,3.6 .7-6.8 .7,9.6 .7-11.2 .7,12.8 .7-4.1 .7-8.7 .7,8.8 .7,4.9 .7-8.7 .7,4.2 .7-2.8 .7,1 .7,2.6 .7,3.4 .7,3.6 .7-19.1 .7,.6 .7,3 .7,2.5 .7-4.1 .7,10.3 .7-11.4 .7-2 .7,9.9 .7-9.5 .7,11 .7-3 .7-6.9 .7,5.4 .7,4.5 .7,2.7 .7-1.4 .7-6.9 .7,1.5 .7-4.7 .7,13.4 .7-11.3 .7,6.2 .7,2.2 .7-9.9 .7,6.6 .7,2.1 .7,1.9 .7-2.8 .7,4.9 .7-2.4 .7-8.9 .7,5.4 .7-8.5 .7-4.4 .7,17.9 .7-7 .7-1 .7,1.4 .7,3.9 .7-10.4 .7,11.8 .7-4.7 .7,.2 .7,2.9 .7-3.8 .7-4.6 .7-.7 .7,12.2 .7-6.3 .7-3.4 .7-1.2 .7,5 .7,3.5 .7-5 .7-2.7 .7-1.1 .7,12.2 .7-22.4 .7,10.5 .7,2.6 .7-3.3 .7,4.5 .7,5.4 .7-5.4 .7-9.2 .7,1.3 .7,5.4 .7,5.2 .7,1.5 .7-7.2 .7,6.4 .7-6.4 .7-6.2 .7,11.4 .7-4.2 .7,5.8 .5-10.9 .9,7.1 .7-.6 .7-3.7 .7-3.4 .7,9.1 .7-3.5 .7,7.5 .7-11.8 .7,8.8 .7-14 .7,14.8 .7-8.3 .7,4.1 .7,1.2 .7,.1 .7-6.5 .7,7.2 .7-.7 .7-2 .7,.6 .7-6.5 .7,4.1 .7,.6 .7-7.1 .7,4.3 .7,5.7 .7-3.4 .7,.2 .7-6.5 .7,10.1 .7-7.3 .7,1.9 .7-4.2 .7,7.4 .7-2.3 .7-3.8 .7,9.6 .7-4.7 .7-1.6 .7,6.8 .7-6.7 .7-2.3 .7,13.5 .7-8.1 .7,5.4 .7-1.8 .7-12.2 .7,6.4 .7,1.5 .7-3.5 .7,3.2 .7,5 .7-7 .7,2.1 .7-.5 .7,.6 .7-2.6 .7,4.9 .7-10.3 .7,3 .7-1.6 .7,6.9 .7,2.8 .7,.9 .7,1.1 .7-11.8 .7,5.3 .7,3.9 .7-4.5 .7,3 .7-.6 .7-3.2 .7-3.1 .7,.4 .7,8.6 .7-5 .7-2.9 .7-.8 .7,8 .7-9.2 .7,7.4 .7,7.2 .7-9.1 .7-4.9 .7-3.4 .7,11.7 .7-8.4 .7,6.6 .7,6.3 .7-6.7 .7-2.3 .3-.2 .4,3.8 .7-7.4 .7,2 .7,4.9 .7,2 .7-7.9 .7,7.9 .7-3.7 .7-8.9 .7,8.4 .7-.8 .7-1.5 .7,2 .7,7.1 .7-8.1 .7,2.5 .7,4.4 .7-8.9 .7-6.3 .7,1 .7-.6 .7,11.2 .7,2.9 .7-7.7 .7,9.5 .7-9 .7,5.1 .7-.2 .7-6.4 .7,1.6 .7,3.9 .7-9.1 .7,6.7 .7-4 .7-.1 .7,7.5 .7-7.8 .7,9.9 .7-5 .7-4.7 .7-3 .7,9.5 .7-1.6 .7-7.3 .7,7 .7-4.3 .7,9.9 .7-5.4 .7-7 .7,3.6 .7,7.2 .7-.4 .7-8 .7-3.9 .7,12.7 .7-8.8 .7,13.2 .7-15.9 .7,3.5 .7,9.5 .7-5.7 .7,3.6 .7,1.7 .7-15.2 .7,5.9 .7,6 .7-1.5 .7-4.5 .7-2.4 .7,5.5 .7,3 .7-.1 .7-8.6 .7,2.7 .7,7.4 .7-.8 .7-2.8 .7-4.6 .7,6.2 .7-5.9 .7-8 .7,2.3 .7-2.8 .7,10.9 .7,3.5 .7-1.8 .7,.3 .7-7 .7,8.3 .7-9.3 .7,2.2 .7,6.7 .7-1 .7-8.4 .7,5.2 .7-1 .7,1.1 .7-2.5 .7,1.5" fill="none" stroke="#FF0000" stroke-width="6" stroke-linejoin="round" stroke-linecap="round"/>
<path d="M276,397.9l.7-2.9 .7,11.8 .7-10.4 .7,1.8 .7,5.6 .7-9.6 .7,.3 .7,2.4 .7-2.4 .7-3.8 .7,4.5 .7-.8 .7,5 .7-9.5 .7,4.5 .7,7.8 .7,2.8 .7-14.1 .7,9 .7-6.3 .7-.2 .7-.2 .7,1.5 .7,5.6 .7-1.3 .7-3 .7-.8 .7,2 .7,.2 .7,4.5 .7-5.2 .7,3.1 .7-1.3 .7,0 .7,1.7 .7-.9 .7,4.1 .7-6.6 .7,7.2 .7-7.9 .7-1.1 .7,3.1 .7,.9 .7,1 .7,4.8 .6-.3 .8-2 .7-3.3 .7,1.8 .7,5.8 .7-5 .7-6.3 .7,2.4 .7,.6 .7,7.4 .7-4.9 .7,10 .7-6.2 .7-1.8 .7-2.4 .7,5.7 .7-4.7 .7-2.4 .7,5.9 .7-2.5 .7,4.9 .7-5.3 .7-11.9 .7,15.3 .7-11.4 .7,14.4 .7,2.3 .7-8.7 .7-2.6 .7-.6 .7,9.3 .7-3.9 .7-1.3 .7,1.5 .7,10.1 .7-7.7 .7,2.6 .7,.1 .7,.8 .7,.1 .7-7.6 .7,2.2 .7-2.5 .7,.1 .7,7.7 .7-6.5 .5,1.3 .9-1.8 .7,1.4 .7,6.2 .7-4.7 .7,.3 .7,5.1 .7,.2 .7,.4 .7-2.7 .7-8.1 .7,10.3 .7-.8 .7,2.7 .7-8 .7,14.4 .7-15.8 .7,8.1 .7-2.8 .7-2.8 .7,6.1 .7-4.3 .7-8.3 .7,4.7 .7,6.9 .7,8 .7-14.6 .7,6.1 .7,5.6 .7-3.2 .7-3.6 .7-4.3 .7-1.8 .7,4.8 .7,2.3 .7-7.3 .7,2.8 .7,9 .7-2.8 .7-1.4 .7,1.7 .7-2 .7,6.9 .7,2.9 .7,1.5 .7-5.3 .4,.2 .3,3 .7,1.4 .7-1.6 .7-.8 .7-8.3 .7-3.7 .7,10.5 .7-3.7 .7,1 .7-2.7 .7-1.6 .7,11.4 .7-3.8 .7-6.3 .7,6.4 .7-.9 .7,2 .7,7.6 .7-10 .7-5.8 .7,5.1 .7-2.7 .7,4.9 .7-1.2 .7,1.8 .7-2.8 .7,4 .7-3.6 .7,4.3 .7-3.7 .7-3.6 .7,6.3 .7-4.2 .7,8.9 .7-4.4 .7,.2 .7-1.7 .7-.4 .7-9.4 .7,15.5 .7-7.7 .7,7.8 .7-7 .7,2.9 .7-.7 .7-3.6 .3,2.3 .4,2.7 .7-3.7 .7-3.6 .7,2.7 .7,3.7 .7,4.8 .7-1.6 .7-1.6 .7-5.1 .7,8 .7-3.8 .7-.4 .7,4.7 .7-1.3 .7-1.2 .7-6.9 .7,2.7 .7-4.7 .7,8.4 .7-.5 .7,3.7 .7-3.2 .7-2.9 .7,10.3 .7-12.7 .7-.8 .7,2.9 .7,5.4 .7-3.1 .7-.7 .7-2.9 .7,10.1 .7-8.3 .7-2.1 .7,4.1 .7-2.2 .7,1.8 .7,7.4 .7-6.9 .7,2 .7-1.6 .7,.2 .7,4.6 .7-1.4 .7-3.3 .9-2.5 .5,3.5 .7,3.9 .7-3.1 .7-.5 .7-6.9 .7,11.8 .7-9.9 .7,2.1 .7,4 .7,2 .7-.3 .7-3.1 .7,1.4 .7-2.1 .7-5.7 .7,6.4 .7-1.7 .7,4.4 .7-2 .7,5.4 .7-.8 .7,1.3 .7,1.2 .7-1.9 .7-3.7 .7,6.4 .7-9.8 .7,4.1 .7,3.2 .7-4.5 .7,4.6 .7-5.9 .7,1.9 .7,4.8 .7,1.7 .7,1.6 .7-4.7 .7,1.5 .7,.5 .7-1.1 .7-7.3 .7,3.3 .7,7.8 .7-12 .7,8.7 .8-3.6 .6,6.4 .7-6.3 .7,3.5 .7-7.9 .7,8 .7,4.2 .7-11.1 .7,10.5 .7-7.9 .7,2.2 .7-10.8 .7,16.4 .7-8.9 .7,1.9 .7-3 .7,1.5 .7,9.4 .7-7 .7,7.2 .7-5 .7,2.2 .7-3.4 .7,2.8 .7,9.5 .7-8.8 .7-.5 .7-3.9 .7,6.5 .7,2.2 .7-13.5 .7,1.6 .7,15 .7-7 .7-1.2 .7,1.2 .7,2.6 .7-1.6 .7-5 .7,9.3 .7-8.3 .7-3.4 .7,1.1 .7,2.3 .7-1.1 .7,1.3 .7,2.1 .7-15.2 .7,11.1 .7,7.1 .7-1.2 .7-4.6 .7-.2 .7,7.7 .7-5.8 .7-.6 .7,10.4 .7-10.1 .7,5.3 .7-2.4 .7,.6 .7-5 .7,.7 .7,9 .7-10.9 .7,5.8 .7-6.6 .7,5.3 .7,1 .7-7 .7,12.3 .7-5.7 .7,5.7 .7-9.9 .7,8.4 .7,6.2 .7-8.8 .7-3.1 .7,5.2 .7-1.4 .7-1.7 .7,.4 .7-2 .7,4 .7-3.4 .7-1.4 .7,6.9 .7-4.4 .7,12.4 .7-12.6 .7-1.5 .7,0 .6,4.3 .8-3.7 .7-3 .7,13 .7-12 .7,11.6 .7-6.6 .7-4.9 .7,11.4 .7-8 .7-3.3 .7,4.6 .7,5.8 .7-2.5 .7,.6 .7,4.2 .7-6.7 .7,1.2 .7-2.6 .7-5.3 .7,5.9 .7,7.7 .7-14.3 .7,13.5 .7-4.3 .7-4.4 .7,4.8 .7,6.9 .7-9.2 .7,5.5 .7,1.7 .7-8.7 .7,6.1 .7-.5 .7-4.6 .7,4.9 .7-4 .7-1.4 .7-2.4 .7,7.7 .7-3.5 .7-.9 .7-2.4 .7-.5 .7,1.6 .7,6.6 .5-5.8 .2,9.3 .7-4.9 .7-1 .7-4.9 .7,13 .7-14.4 .7,9 .7,5.1 .7-8 .7-1.7 .7,2.5 .7,4.4 .7,2 .7-3.5 .7-6.6 .7,1.9 .7,4.9 .7-6.2 .7,4.3 .7,10.7 .7-14 .7,9.4 .7-9.1 .7,2.1 .7,1 .7-5.2 .7,5.6 .7,5.4 .7-2.4 .7,.4 .7-5.7 .7,2.8 .7,1.2 .7,2.5 .7,2.7 .7-9.7 1,11.1 .4-8.6 .7,.5 .7-4.9 .7,3.8 .7-.8 .7-3.9 .7,3.9 .7,1.7 .7-1.8 .7,5.8 .7-8.2 .7,7.6 .7-5.3 .7,1.3 .7-9.9 .7,7.8 .7-.6 .7,3.8 .5-8.8 .2,10.5 .7-12.2 .7,8.1 .7-5.3 .7-7.4 .7,10.2 .7-15.7 .4,4 .3,2.3 .7,2.3 .7-.2 .7,3.5 .7-.7 .7-1.3 .7-3.1 .3,2.6 .4,6 .7-7.6 .7,6.4 .7-8 .7,5.8 .7-2.2 .7,12.2 .7-12.1 .7,7.5 .7,5.1 .7,.8 .7,.8 .7,2.7 .8-1.3 .6,1.8 .7-3.2 .7,.4 .7-6.6 .7,8 .7,5.2 .7-7.7 .7-1.4 .7,5.5 .7,4.2 .7,.9 .7-11 .7,7.8 .7-4.4 .7,4.9 .7-10.4 .7,13.9 .7-5.2 .7,2.9 .7-1.6 .7-4.1 .7,7.4 .8-4.4 .6-.8 .7,6.1 .7-2.4 .7-2 .7,6.8 .7-6 .7,2.6 .7,2.6 .7,1.2 .7,.9 .7,2.2 .7-7.3 .7-3.6 .7,10.4 .7-1.5 .7-7.3 .7,4 .7-4.2 .7-5.3 .7,11.8 .7-2.7 .7-.9 .7,5.8 .7-.7 .7-9.1 .7-2.2 .7-3.4 .7,8.8 .7-.2 .7,3.6 .7-.9 .9-3.2 .5,1.7 .7-4.8 .7,11.5 .7-7.5 .7,5.3 .7-4.9 .7,2.6 .7,2.8 .7-3.9 .7-1.9 .7,13.2 .7-10.6 .7,3.7 .7-2.7 .7-2.4 .7,8.5 .7-4 .7,.2 .7-10.9 .7,10.1 .7,1.8 .7-2.2 .7-1.7 .7,5.9 .7-4 .7,1.5 .7,2.1 .7,.4 .7-10.4 .7,7 .7-5.1 .7-4.7 .7,9.9 .7-8.4 .7,6.2 .7-8.2 .7,6.9 .7,2.6 .7,2.4 .7-2.1 .7-1.6 .7-1 .7,10.4 .7-9.3 .7,.6 .7,7.6 .7-15.6 .7-.1 .7,4.5 .7,3.7 .7-2.3 .7,4.4 .7-.3 .7-6.5 .7,7 .7-6.9 .7,8.5 .7-1.3 .7,8.8 .7-5.8 .7-4.7 .7,2.3 .7-.2 .7-3.4 .7-3.8 .7,10.7 .7,2.2 .7-8 .7,.3 .7-1.8 .7,6.7 .7,.6 .7-9.2 .7,1.5 .7-.4 .7,4 .7,2.6 .7,1.2 .7-4.7 .7-2.7 .7,6.2 .7,0 .7-3.7 .7,2.8 .7-.2 .7,2.4 .7-3.3 .7,1.3 .7-.7 .7-4.9 .7,7.7 .6-2.3 .8,4 .7-9.1 .7,2 .7,4.3 .7-8.7 .7,6.7 .7-1.3 .7,.1 .7-.5 .7-7.9 .7,9.3 .7,.1 .7,4.3 .7,1.5 .7-4.5 .7,1.9 .7-14 .7,12.4 .7,1.6 .7-1.5 .7-2.5 .7-2.7 .7-.1 .7,.8 .7,1.9 .7,1.8 .7-2.8 .7-5.1 .7,13 .7-10.8 .7-7.9 .7,16.5 .7-1.6 .7-3.7 .7,2.4 .7-2.4 .7-4.7 .7,4.7 .7-5.6 .7,3.6 .7-.4 .7,4.4 .7,3 .7-8 .7,4.7 .7-11.7 .7,4.5 .7,6.9 .7,2 .3,0 .4-.9 .7-13.6 .7,3.5 .7-10.2 .7,8.8 .7-.8 .7-4.9 .7-4.4 .7,2.9 .7-1.7 .7-3.8 .6-4.9 .8-.8 .7-2 .7-1.8 .7-2.4 .7-6.3 .7-8.9 .7,2.6 .7-.5 .7-5.7 .7,6 .7-.3 .7,10.7 .7-1 .7,2.1 .7,4.3 .7,2.8 .7,.4 .7,7.5 .7,1.7 .7,.6 .7,3 .7-2.7 .7,8.9 .7,2.8 .8-1.4 .6,9.6 .7-5.8 .7-2.5 .7,3.5 .7,2.2 .7,0 .7-2.6 .7,3.6 .7-7.3 .7,4.2 .7,3.7 .7-3.7 .7,6.7 .7,1.8 .7-5.4 .7-7.4 .7,14.6 .7,3.1 .3-12.2 .4,7.6 .7,1.4 .7-7.2 .7,4.4 .7,7.2 .7-4.8 .7-1.5 .7,4.1 .7-7.7 .7-5.6 .7,13 .7-9.2 .7,3.5 .7,5.7 .7-4 .7-.6 .7-2.8 .7,5.4 .7,7 .7-12.6 .7-1.6 .7,6 .7-5.1 .7,3.9 .7-.9 .7,2.1 .7-1.5 .7,.4 .7,4.6 .7-9.2 .7,4.8 .7,1.8 .7-6.7 .7,2.1 .7,2.4 .7-1.8 .8,7.3 .6-4.2 .7,12.4 .7-15 .7,.1 .7,11.7 .7-12.6 .7,11 .7-23 .7,11.3 .7,9 .7,.5 .7-5.2 .7-4.2 .7,2.7 .7,3.7 .7-1.8 .7,2.9 .7-6.2 .7,6.5 .7,1.6 .7,8.2 .7-9.6 .7,.1 .7-6.7 .7-2 .7-3.8 .7,11 .7,5.8 .7-9.3 .7-9.8 .7,11.7 .7-1.5 .7-.8 .7,9.8 .7-2.4 .7,1.5 .7-9.5 .7,4.8 .7-5.9 .7,9.2 .7-8.8 .7,10.1 .7-4.4 .7-.1 .7-7.2 .7,9.2 .7-10.2 .7,2.8 .7,1.7 .7,13.1 .7-7.5 .7-3 .7,4.9 .7,7.2 .7-10.7 .7-3.6 .7-.9 .7,4.1 .7,7.3 .7-7.2 .7-.4 .7-3.5 .7-.3 .7,9.7 .7-2.9 .7,.3 .7-8 .7,8.5 .7-.6 .7,4.3 .7-2.3 .7-5.8 .7,2.7 .7-.2 .7-1.3 .7-2.4 .7,7.4 .7,5.8 .7-10 .7,7 .7-9.2 .7-.5 .7,1.5 .7-1 .7,5.6 .7,1.7 .7-15.5 .7,14.9 .7-.7 .7,5.3 .7-10.8 .7,3.6 .7,4.9 .7-2.3 .7,1.6 .7-9.3 .7-.3 .7,5.6 .7-7.8 .7,8.3 .7,2.7 .7-2.7 .7-6.3 .7,3.4 .7,.6 .7,3.3 .7-1.2 .7-2.4 .7-6.2 .7-1.2 .7,3.4 .7-.2 .7,2.2 .7-2.2 .5,5.4 .9-1.4 .7,3.4 .7-1.2 .7,1.8 .7-6.2 .7-.8 .7-1.4 .7,4.9 .7,3 .7,2 .7-4 .7-1.2 .7,4.4 .7-2.8 .7-3.7 .7,7.1 .7-5.2 .7-3.7 .7,4.9 .7-3.2 .7,2.8 .7-2.9 .7,1.3 .7-1.1 .7,2.1 .7,2.8 .7-1.8 .7-1 .7,4.3 .7-10.7 .7,7.3 .7,4.7 .7-1.9 .7,2.6 .7-8.4 .7,9.1 .7-8.7 .7,6.9 .7-3.3 .7,2 .7-7 .7,2.5 .7-7.4 .7,9.1 .7,.6 .7-1.2 .7,3.3 .7-1.7 .7-1.3 .7,2.8 .7-4.1 .7,6.2 .7-2.5 .7-.1 .7-2.4 .7-2 .7-1.3 .7,2.1 .7,3.6 .7-10.8 .7,7.2 .7,14.2 .7-13.9 .7-.9 .7,2.1 .7-2.2 .7,2.4 .7,0 .4-5.3 .3,9.4 .7-3.4 .7,3.6 .7-4.5 .7,4.1 .7-3.9 .7,12.9 .7-8.4 .7,1.4 .7-5 .7-5.9 .7,4.9 .7,3.4 .7-.7 .7-3.8 .7-1.5 .7-2.8 .7,3.4 .7,4.3 .7-.6 .7,.4 .7-3.2 .7,1.9 .7-1.3 .7,2.1 .7-.2 .7,1.2 .7-3.5 .7,.6 .7,6.2 .7-.5 .7-14.9 .7,10 .7,0 .7,1.4 .7-12.5 .7,.7 .7,5.8 .7,2.9 .7-5 .7,8.9 .7,.3 .7-.7 .7,.8 .7-9 .9,4.1 .5-8.7 .7,12.6 .7,.1 .7-4.3 .7-6.1 .7,3.6 .7,3.3 .7-8.6 .7,6 .7,1.8 .7-6.1 .7,1.3 .7,6.9 .7-2.7 .7,1.8 .7-4.7 .7-5.5 .7,2.4 .7-2.1 .7,2.1 .7,3.7 .7,4.5 .9-6 .5,7.1 .7-13.4 .7,3.7 .7,.5 .7-9.8 .7,1.1 .7,5.4 .7,1.3 .7,1.3 .7-1.4 .7-1.2 .7-3.6 .7,6.1 .7,6.4 .7-5.3 .9-5.2 .5,3.4 .7,1.4 .7,3.5 .7-6.7 .7,5.2 .7,1.3 .7-3.3 .7,1.3 .7-.7 .7,2.9 .7,1.4 .5-6.6 .9,5 .7,7.1 .7-6.2 .7-8.1 .7,14 .7-6.8 .7,2.1 .7,1.9 .7-3.7 .7-2.2 .7,1.5 .7,5.4 .7-1.8 .7-.8 .7,10.4 .7-7.4 .7,3.3 .7,4.3 .7-7.1 .7-1.9 .7,1.5 .7,1.3 .5,7.3 .2-3.9 .7-6.2 .7-1.4 .7,5.3 .7,4.1 .7-10.7 .7,10 .7-5 .7-1.1 .7-1.8 .7-.9 .7,1.6 .7,7 .7-11 .7,3.5 .7,1.7 .7-5.4 .7,1.5 .7-3.4 .7,8.5 .7,0 .7-8.5 .7,11.8 .7-9.4 .7-5.2 .7,1.1 .7,9.4 .7-11.3 .7,8.9 .7,1.3 .7,3.8 .7-5.4 .7,5.9 .7-6.5 .7,5.8 .7-8 .7,5.4 .7-3.6 .7,2.3 .7,8.6 .7-8.8 .7,.5 .7,.3 .7,1.6 .7-10.7 .7,12 .7-8.5 .7-2.8 .7,9 .7-6.2 .7,5.3 .7,3.5 .7-4.8 .7-4.4 .7,4.5 .7,8.3 .7-8.5 .7,7.3 .7-1.1 .7-10.9 .7,9.1 .7-8.4 .7,9.1 .7,.2 .6-3.1 .8-6.3 .7,4.5 .7-.8 .7,2.9 .7-2.7 .7,2.2 .7-3.2 .7-5.8 .7,6.6 .7,6.2 .7-9.2 .7,.1 .7-4.4 .7,15.9 .7-11.7 .7,8.8 .7-3.9 .7-1.6 .7,1.1 .7,7.5 .7-.9 .7-4.8 .7-3.9 .7,7.8 .7-3 .7-2 .7,1.8 .7-4.9 .7,6.6 .7-4.3 .7,.3 .7-4.8 .7,5.7 .7,.4 .7-8.8 .7,7.4 .7,1.1 .7,4.3 .7-1.4 .7-7 .7,8.1 .7-3.1 .7-3.4 .7-2.8 .7,7.5 .7-.4 .7-5.7 .7,3.3 .7-3 .7-1 .7-1.5 .7,7 .7-1.1 .7,.2 .7-1 .7-.5 .7,4.4 .7-10.8 .7,10.3 .7-8.4 .7,4 .7,.9 .7-1.4 .7,1.6 .7-5.9 .7,10.6 .7-2.9 .7-2 .7,1.2 .7-4.3 .7-6 .7,1.5 .7,8.6 .7-12.8 .7,17.4 .7-5 .7-4.8 .7,1.6 .7-4.5 .7,6.2 .7,2 .7,2.8 .7-10.8 .7,9.7 .7-2.7 .7-.8 .7,.4 .7,1.6 .7,5.7 .7-1.9 .7-3.8 .4-6.5 .3,2.4 .7,5.5 .7-1.3 .7-4.6 .7,11.8 .7,2.3 .7-7.2 .7-3.4 .7,1.1 .7-4.4 .7-.9 .7,6.1 .7-3.1 .7,4.4 .7,8.4 .7-10.1 .7-1.9 .7,.3 .7,1.4 .7,4.1 .7-5.7 .7,3.5 .7-8.4 .7,.7 .7,3.2 .7,5.2 .7-7.1 .7,8.7 .7-8.3 .7,4.4 .7-1 .7,6.5 .7-10.7 .7,.2 .7,2.4 .7,5.1 .7,.3 .7-8.5 .7,1.4 .7-2 .7,12.1 .7-6.5 .7,.9 .7-11.5 .7,10.4 .7-1.8 .7,5.4 .7-10.7 .7,13.1 .7-2.9 .7-.3 .7-7.5 .7,12.8 .7-7 .7-.5 .7-.7 .7-1.7 .7,2.1 .7,.3 .7,4.2 .7-2.9 .7-5.8 .7,4.3 .7,3.4 .7-6.8 .7,2.6 .7,5.5 .7-2 .7-4 .7,4.3 .7,1.5 .7-1.4 .7-2 .7,7.1 .7-13.9 .7,6.9 .7,1.7 .7-6.2 .7,1.4 .7-.2 .7,3.3 .7-.7 .7,2.7 .7,3.3 .7-8 .7,3.3 .7,1.8 .7-9.5 .7,6.6 .7-6.7 .7,3.3 .9-.6 .5,8.8 .7-7.6 .7-1 .7,5.5 .7-4.1 .7-5.7 .7,10.1 .7-.6 .7-5.2 .7-5.1 .7,4.5 .7-.1 .7,10.3 .7-9.7 .7,7.3 .7,1.5 .7-4.2 .7-.5 .7,3.5 .7-.8 .7-10.8 .7,10.5 .7-13.2 .7,6.7 .7,6.7 .7-12 .7,13.2 .7,5.1 .7-10 .7-6.6 .7,14.4 .7-11.1 .7-1.8 .7,.4 .7,2.2 .7-1 .7,10.5 .7-11.8 .7-3.5 .7,1.3 .7,4.9 .7,8.2 .7-12.8 .7,5.3 .7,4.1 .7-4.6 .7-.3 .7-.1 .7,3.6 .7-5.4 .7,8.7 .7-12.8 .7,11.5 .7,1.1 .7-4.6 .7-.6 .7,6.9 .7-10.3 .7,3.4 .7-3.3 .7,4.9 .7-5.5 .7,1.4 .7,5.1 .7-3.3 .7,.8 .7,5.6 .7-14.4 .7,5.8 .7,3 .7,6.3 .7-10.3 .5,3.8 .2,2.1 .7-7.5 .7,2.5 .7,1.9 .7-2.6 .7,5.1 .7,1.7 .7-4.6 .7,4.6 .7-1.6 .7-1.4 .7-3.6 .7,10 .7-11.6 .7,5.8 .7,2.8 .7-14.3 .7,8.6 .7-5.8 .7,6.7 .7,3.2 .7-5.8 .7,3.7 .7,2.5 .7-5.5 .7,1.8 .7-3.8 .7,6.9 .7-3.5 .7,7 .7-.9 .7-10.1 .7,7.3 .7,.2 .7-.6 .7,1 .7-2.9 .7,4.6 .7-1.3 .7-1.2 .7-3.2 .7,7.1 .7-10.5 .7,9.9 .7-2.2 .7-6 .7,4.5 .7,8 .7-9.5 .7-2.7 .7,3.9 .7,1.4 .7,5.1 .7-8.4 .7,4.7 .7-2.7 .7,4.3 .7-3.4 .7-5.3 .7,7.4 .7,1.9 .7-5.9 .7-7.7 .7,5.3 .7,3.8 .7,2.7 .7-5.3 .7,6.5 .7-7.3 .7-4.3 .7,7 .7-4.7 .7,8.7 .7-.9 .7-6 .7,.2 .7,3.9 .7,4 .7-3.8 .7-1.3 .7,5.4 .7-2.7 .7-6.3 .7-.1 .7-7.1 .7,8.1 .7-1 .7,3.9 .7-4.7 .7,1 .7-.1 .7-.8 .7,.9 .7-1.4 .7,7.4 .7-5.4 .7,2.9 .7,0 .7-5.8 .7-3.2 .7,3.5 .7,3.2 .7,1.6 .7-5.9 .7,9 .8-3.8 .6,4.9 .7-7.3 .7-8.6 .7,13.8 .7,0 .7,7.1 .7-9.3 .7,0 .7,5.5 .7-18.1 .7,4.8 .7-2.4 .7,10 .7-1.5 .7,3.6 .7-9.5 .7,2.5 .7,2.9 .7-1 .7-.8 .7,5.9 .7-7.1 .7,1.7 .7-1.3 .7,4.8 .7-6.4 .7-.2 .7,.6 .7-2.9 .7,7.2 .7-1.3 .7-6.7 .7,6.3 .7,2.5 .7,6.5 .7-6.6 .7,5.5 .7-4.8 .7,5.3 .7-11 .7-.7 .7,4 .7-.3 .7,2.2 .7,1.1 .7-6.2 .7,5.6 .7-2.3 .7,10.8 .7-9.1 .7-1.3 .7,9 .7-13.2 .7,13.1 .7-5.4 .7-3.1 .7,.2 .7,2.3 .7,.4 .7-4.4 .7,4.8 .7,.9 .7-3.1 .7,6.7 .7-9.7 .7,4 .7,4.1 .7-2 .7,4.5 .7-3.1 .7-8.8 .7,11.4 .7-9.1 .7,7.4 .7-4.9 .7,5 .7-15 .7,12.6 .7-3.4 .7,7.1 .7,.8 .7-.5 .7-6 .7,1.5 .7-3.9 .7,3.5 .7,.3 .7,1.7 .7,3.3 .7-10.1 .7,3.3 .7,.7 .7-2.5 .7-6.9 .7,5.5 .7,0 .7-1.4 .7,6.2 .7-2.9 .7,1 .7,1.1 .7-1.1 .7,2.3 .7,.9 .7-1 .7,.2 .7,1.7 .7-4.5 .7,6.2 .7,0 .7-6.3 .7,6.8 .7-2.8 .7-.3 .7,6 .7-12.6 .7,9.1 .7-6.3 .7,3.8 .7-10.4 .7,11.7 .7,1.8 .7-9.2 .7,10.5 .7-10.5 .7,1.5 .7-4.2 .7,5.3 .7-4.2 .7,1.1 .7,1.2 .7-5.6 .7,6.5 .7-3.6 .7,6.4 .7-7 .7,1.4 .7-.3 .7,2.3 .7,1.3 .7-6.9 .7-5.4 .7,4.1 .7-2.9 .7,3.2 .7-4.8 .7,1.9 .7-1 .7-1 .7-5.6 .7,8.2 .3-6.9 .4-4.5 .7,4.1 .7,2.6 .7,.5 .7,4.1 .7-2.9 .7,3.9 .7,3.6 .7-7.4 .7,1.7 .7,9 .7-3.6 .7,2.5 .8-3.4 .6,1.8 .7,.1 .7-1.7 .7,8.2 .7-9.1 .7,3 .7-1.4 .7,12.9 .7-11.5 .7,9.1 .7-9.2 .7,14.6 .7,1.6 .7-10.7 .7,6.7 .7-11.3 .7,3.4 .7,6.1 .7-4.7 .7-1.6 .7,3 .7-2.6 .7-.1 .7,7 .7-11.9 .7,4.8 .7,2.3 .7,3.1 .7-3.6 .7-1.9 .7-7 .7,21.8 .7-15.2 .7,6.5 .7-7.5 .7,8.7 .7-9.4 .7,3.9 .7,2.6 .7-5.4 .7,8 .7-3.3 .7,4.1 .7-1.5 .7-5.4 .7-2.8 .7,3.4 .7,6.3 .7-11.4 .7,11.2 .7-11.2 .7,8.6 .7-.5 .7-6.4 .7-1.9 .7,5.8 .7,2.6 .7-7.1 .7,7 .7,.3 .7-6 .7-2.9 .7,7.9 .7-1.3 .7-4.5 .7,1.4 .7,12 .7-5.5 .7-.8 .7-5.3 .7,3.5 .7,5.6 .7-8.5 .7,1 .7,.5 .7-1.1 .7,5 .7-6.5 .7,4.6 .7,.5 .7,.1 .7,0 .7-7.5 .7,1.1 .7-2.5 .7,8 .7,2 .7-.5 .7,4.8 .7-7.7 .7,6 .7-3.8 .7,3 .7-5.7 .7,2.5 .7-3.1 .3-1.6 .4-4.4 .7,13.1 .7-3.7 .7,10.2 .7-11.6 .7,1.7 .7-5.6 .7,9.9 .7-6.9 .7,11.6 .7,1.3 .7-18.4 .7,4.8 .7-3.6 .7,1.5 .7-2 .7,6.2 .7,4.1 .7-4.6 .7,5.4 .7-3 .7,2.5 .7,2.6 .7-9.2 .7,9.7 .7-11.1 .7-.7 .7,8 .7-7.7 .7-1 .7,8.4 .7-4.1 .7-1.2 .7-1 .7-1.6 .7,4.1 .7-1.9 .7-1.9 .7,11.2 .7-5.5 .7-7.1 .7,6.9 .7-4 .7,.8 .7,10.2 .7-2.4 .7-4.4 .7,2.8 .7-10.9 .7,8.9 .7,.4 .7-7 .7-4 .7,10.2 .7-1 .7-1.9 .7,1.1 .7,0 .7,3.8 .7,2.4 .7-9 .7,6.8 .7-7.8 .7-1.9 .7,1.6 .7,3.4 .7,.3 .7-1.5 .7-4.6 .7,8.8 .7-5.9 .7,1.1 .7-4 .7,10.8 .7-8.9 .7-3.5 .7,9.6 .7-3.1 .7,4.5 .7-.6 .7-11.3 .7,5.9 .7,11.3 .7-7.9 .7-.5 .7,2.8 .7,1 .7-4.4 .7,2.6 .7-.5 .7-2.1 .8-1.8 .6,3.6 .7-2.6 .7-5.2 .7-1.3 .7,4.8 .7,.6 .7,6.2 .7-5.6 .7-.1 .7-2.2 .7,3 .7,.4 .7,2.6 .7-6.8 .7,4.2 .7,1.7 .7-11 .7,7.7 .7-4.9 .7,.8 .7,.6 .7,.1 .7-3.4 .7,4.5 .7,1.5 .7-3 .7-3.2 .5,1.8 .2,8.9 .7-4.6 .7-5.7 .7-4.2 .7,4.4 .7-.5 .7,7.2 .7-17.6 .7,7.6 .7,2.1 .7-.6 .8-11.9 .6,7.8 .7-1.5 .7,1.1 .7,.1 .7-5.4 .7,4.7 .7-5.7 .7-3.1 .9,2.8 .5,3.8 .7,7.1 .7-7.9 .7,8.2 .7-9.8 .7,2 .7-2.6 .7,5.8 .7,.7 .7,4.2 .7-4.6 .5,2.7 .9-5.3 .7,5.6 .7,9 .7-11.5 .7,5.1 .7,4 .7-.6 .7-2.6 .7-.7 .7-1.8 .7,12.1 .7-11.4 .7,6.8 .4-3.7 .3,2.6 .7-3.2 .7,4.9 .7,3.4 .7-6.7 .7,2.2 .7,.8 .7-2.1 .7,8.7 .7-11 .7,1.7 .7,6 .7-3.2 .7-1.2 .7,6.6 .7-13.2 .7,11.2 .7,4.5 .7-10.1 .7,17.2 .7-10.9 .7-.1 .7,.6 .7-2 .7,8.3 .7-14.7 .7,1.7 .7,5.9 .7-.4 .7-6.3 .7,9.6 .7-9.4 .7,1.8 .7,.5 .7,3 .7-1.8 .7,1.2 .7,1.4 .7,.6 .7-7.5 .7,1.5 .7,8.7 .7-3 .7,.4 .7-7.9 .7-9.7 .7,16 .7,7.7 .7-17.9 .7,10.8 .7-.3 .7-8.3 .7,14.7 .7-4.1 .7-3.8 .7,4.5 .7-3.9 .7,5.1 .7,3.3 .7-8.7 .7,3 .7,4.8 .7-12.5 .7,4.9 .5-4.7 .9,7.5 .7-7.7 .7,6.6 .7-4 .7,3.1 .7-2.8 .7-6.4 .7,2.4 .7,12.6 .7,1 .7-6.9 .7,1.8 .7-6 .7,.9 .7-2.9 .7,4.8 .7,8.7 .7-11.7 .7,8.3 .7-1.9 .7,.1 .7-9.9 .7,2.6 .7,8.7 .7-11.8 .7,6.6 .7-.6 .7,1.4 .7,4 .7-5.4 .7,6.1 .7-1.1 .7-11.3 .7,6.8 .7-1.9 .7,2 .7-2.8 .7,2.9 .7,6.5 .7-4.9 .7-5.5 .7,5.6 .7,1.4 .7-9.1 .7,3.9 .7-.2 .7,4.4 .7-4.9 .7,1 .7,2.8 .7,1.2 .7-3.8 .7,10.9 .7-6.3 .7,1.8 .7-4.3 .7-.2 .7-3.3 .7-4.2 .7,14.1 .7-5.6 .7-4.8 .7,3.2 .7,4.8 .7-3.3 .7,4.6 .7-10.7 .7,6.7 .7-1.3 .7,6.7 .7-3.5 .7,.8 .7,1.8 .7-2.7 .7-8.7 .7,12.4 .7-3.8 .7-3.9 .7,2.5 .7,4.7 .7-3.3 .7-4.3 .7,3.5 .7-6.4 .7,4.8 .7-1.6 .7,1.2 .7-9.1 .7,1.1 .7,18.5 .7-12 .7-.3 .7,2.5 .7-3.6 .7,2.7 .7-9.3 .7,7.2 .7,.3 .7-7.5 .7,1.1 .7,10 .7-7.9 .7,.2 .7,5 .7-3.5 .7-7 .7,7.8 .7,.8 .7,.2 .7,6.9 .7-3.5 .7-5.2 .7,14.1 .7-11 .7-6.5 .7,3.8 .7-2.5 .7,1.2 .7,2.6 .7-4.4 .7,9.9 .7-3.7 .7-3.3 .7,.4 .7,1.5 .7,.4 .7-3.6 .7,6.4 .7-10.2 .7,8.5 .7,1.4 .7-.2 .7,2.1 .7-7.3 .7,5.9 .7-11.2 .7,3.7 .7-1.8 .7,8.7 .7-12.6 .7,14.2 .7-4 .7-2.7 .7-2.7 .7,4.6 .7,10.8 .7-19.6 .7,7.2 .7,4.4 .7-.5 .7-.3 .7-3.8 .7,1.5 .7-4.7 .7,9.1 .7-7.5 .7,.7 .7,6.1 .7-5.1 .7,4.8 .7-6 .7-.7 .7,1.3 .7-.1 .7,1 .7,3.5 .7-1 .7-1.4 .7,3 .7-.6 .7,1.7 .7-5.5 .7-.2 .7,1 .7,7.8 .7-1.3 .7-6 .7-3.8 .7,6.2 .7,3.4 .7,2.3 .7-4.2 .7-6.8 .7,1.2 .7,1.8 .7,6.5 .7-7.3 .7,3.8 .7-8.9 .7,9.1 .7-1.1 .7-4.7 .7,2.1 .7-1.6 .7,2.9 .7-2.5 .7-2.1 .7,2.6 .7-2.1 .7,4.7 .7-2.8 .7-1.7 .7,.3 .7,.8 .7,2.2 .7-.1 .7-4.6 .7,2.4 .7,1.2 .7,3.4 .7,1.8 .7-5.5 .7,5.7 .7,2.3 .7-4.1 .7,5.7 .7-14.4 .7,8.1 .7-2.5 .7-1.4 .7-2.6 .7-.1 .7,5.1 .7-4 .7,2.6 .7-3.7 .7,13.5 .7-8.2 .7-5.2 .7-3.3 .7-3.1 .7,7.1 .7,7.7 .7-6.5 .4-.1 .3,6.4 .7-5 .7,1.4 .7-2.5 .7,4 .7-1.3 .7-2.8 .7,.3 .7,7.5 .7-1.2 .7-.8 .7,3.9 .7-9.7 .7,6.3 .7-11.9 .7,9.1 .7-3.5 .7,1.8 .7-3.1 .7,9 .7-8 .7,4.4 .7-5.8 .7,3.8 .7-1.2 .7-1.5 .7,2.9 .7,3.1 .7,4 .7-7.2 .7-5.8 .7,10.1 .7-6.9 .7,5 .7-7.8 .7,5.5 .7,1.3 .7-1 .7,3.5 .7-8.9 .7,8.9 .7-11.3 .7,13.4 .7-2.1 .7-2.1 .7-7.6 .7,9.2 .7-4.6 .7-1.2 .7,2.8 .7,6.7 .7-9.8 .7-6 .7,1.9 .7,6.4 .7-5.6 .7,1.8 .7,10.2 .7-8.2 .7-.5 .7-4.2 .7,.1 .7,.5 .7,5 .7,6.8 .7-9.5 .7,2.9 .7,1.7 .7-7.1 .7,4.5 .7-3.5 .7,4.3 .7-3.1 .7,.5 .7-6.1 .7,7.5 .7,.9 .7,2.4 .7-3.5 .7,7.2 .7-12.3 .7,4.2 .7-3.1 .7,8.5 .7,2.9 .7-4.5 .7,3.8 .7-.9 .7-9.1 .7,3.2 .7,1.9 .9-1.7 .5-4.5 .7,1.4 .7,13.4 .7-2 .7-8.4 .7,1.3 .7-10.5 .7,4.1 .7,1.2 .7,3.3 .7,3.4 .7,4 .7-10 .7,2.7 .7-5 .7,4.2 .7-4.8 .7,11.1 .7-2.9 .7-2.4 .7-1.8 .7,3.7 .7-1.4 .7-3.9 .7,1.3 .7,5.9 .7-5.5 .7-4.4 .7,8.7 .7,4.7 .7-6 .7-5.2 .7,2.5 .7,4.8 .7,.3 .7-1.2 .7-.5 .7,1.4 .7-1.5 .7-5.9 .7-5.3 .4,9.6" fill="none" stroke="#FFC000" stroke-width="6" stroke-linejoin="round" stroke-linecap="round"/>
<path d="M276,278.2l.7,4.9 .7-2.3 .7-5.1 .7-6 .7,15.2 .7,.8 .7-11.4 .7,14 .7-8 .7,13.3 .7-8.4 .7-3.8 .7,7.5 .7-4.6 .7,.4 .7-.4 .7-.8 .7,2.7 .7,1.1 .7-1.2 .7,5.8 .7-12.8 .7,4 .7,6.1 .7-8.9 .7,11.9 .7-2.6 .7-4.1 .7,3.3 .7-4.8 .7-3.4 .8,10.2 .6,.3 .7-3.4 .7,.5 .7-8.2 .7,5.9 .7,1.6 .7,3.4 .7,5.9 .7-8.6 .7-.6 .7,7.2 .7-4.4 .7-4.5 .7,10.3 .7-9.2 .7,.9 .7-1.9 .7,5.6 .7,1.9 .7-6.2 .7,3.7 .7-4 .7,13.2 .7-2.4 .7-8.5 .7,5.8 .7,1.4 .7-1.6 .7-5 .7,2.4 .7,3.7 .7-1 .7-5.6 .7,5.7 .7-6.3 .7-5.3 .6,9.9 .8,4.1 .7-1.6 .7,4.8 .7,1.4 .7-4.9 .7-3.9 .7,2.6 .7-6 .7,5.7 .7,0 .7,1.4 .7,4.4 .7-13.6 .7,12.7 .7-5.4 .7,5.8 .7-3.5 .7-5.3 .7,6.8 .7-6.8 .7,6.7 .7-4.6 .7,1.3 .7,2.4 .7,8.8 .7-4.7 .7-3.6 .7,6.9 .7-7.7 .7-.6 .7-2.7 .7,4.6 .7,0 .7-3 .7-4.9 .7,7.6 .7,1.9 .7-1.4 .7-2.3 .7-.5 .7,3.5 .7,7.5 .7-5.6 .7-7.3 .7,10 .5-4.3 .2,11.5 .7-10.8 .7,1.6 .7,.5 .7,.4 .7-.8 .7,.3 .7-1 .7-1.3 .7,1.3 .7-3.1 .7,3.4 .7-.4 .7,.9 .7,.2 .7,1.3 .7,2.7 .7-3.9 .7,1.4 .7,.7 .7-2.2 .7,.7 .7,2.4 .7-9 .7,11.2 .7-4.4 .7-14.7 .7,19 .7-7.2 .7,9.5 .7-8.4 .7,3.6 .7,3.8 .7-6.8 .7-1.6 .7,3.8 .7,7 .7-1 .7,1.6 .7-3.6 .7,1.5 .7,2.7 .7-3.4 .7-6 .7,7.2 .7-5.8 .4-1.4 .3,4.1 .7-.4 .7,4.1 .7-2.5 .7-3.4 .7,1.6 .7-1.4 .7,1.4 .7,6.2 .7-3.8 .7-3.4 .7,.3 .7-2.3 .7,1.5 .7-4.9 .7,9.4 .7-4.1 .7,3.6 .7,2.3 .7-2.6 .7-5.9 .7-1.7 .7,9 .7,.8 .7-10.6 .7,3.2 .7,9.2 .7-3.9 .7,8.4 .7-7.2 .7,2.8 .7-5.9 .7-2.3 .7-5.3 .7-5.5 .7,17 .7-1.6 .7-5.5 .7,7.1 .7-9.7 .7,13.7 .7-4.9 .7,5.2 .7-13.9 .7,12.8 1-2.7 .4-2.9 .7-5.4 .7,4.3 .7-1.2 .7-3.2 .7-2.7 .7,1.6 .7,2.3 .7,7 .7,.9 .7,2.6 .7-5.2 .7-8.7 .7,2.9 .7-1.6 .7,3.2 .7,6.2 .7-7.3 .7-1 .7,4.1 .7,1.4 .7,1.1 .7-7.3 .7,.8 .7,2.6 .7,5.1 .7-2 .7-4.9 .7,11.2 .7-11.1 .7,.9 .7,.1 .7-3.8 .7,3.6 .7,.9 .7,1.2 .7,1.3 .7-2.9 .7-1.2 .7,8.4 .7-5.1 .7,5.4 .7-3.1 .7,9.2 .7-12 .9-6.4 .5,4.9 .7,6.8 .7,2 .7-.7 .7-3.9 .7,3.4 .7-10.9 .7,2.1 .7-.9 .7,7.4 .7,2.3 .7-4.5 .7,2.6 .7-3.2 .7,.2 .7,1.6 .7,6.6 .7-5.8 .7-.4 .7,1.6 .7-2.4 .7-6.9 .7,10.6 .7-7.4 .7,.1 .7,0 .7,3.4 .7-2.6 .7,2 .7,5.8 .7-11 .7-4.1 .7,14.3 .7-5.4 .7,1.6 .7-.1 .7-3.4 .7,1.2 .7-8.4 .7,7 .7,1.1 .7-5.9 .7,1.7 .7,2.6 .7,1.8 .7-1.6 .7,6.9 .7-2.6 .7-.3 .7-11.4 .7,5.1 .7,2.8 .7-3.1 .7,3.5 .7-3.3 .7-.9 .7,2.8 .7,0 .7-1 .7-.1 .7,4.1 .7-1.4 .7,2.2 .7-.7 .7-2.9 .7-1.3 .7,9.2 .7-7.9 .7,2.5 .7-6.5 .7-2.8 .7,1.2 .7,3.6 .7-4 .7,7.9 .7-4.5 .7-.6 .7,8.1 .7-7.5 .7,.6 .7,13.4 .7-9.8 .5-.9 .9-2.4 .7,5.8 .7-1.6 .7-15.5 .7,9.3 .7,.7 .7,1.2 .7-7.6 .7,5.4 .7,7.6 .7-2.2 .7-9.8 .7,5.1 .7-5.4 .7,5.9 .7-16.6 .7,16.2 .7-3.6 .7,2.8 .7-9.3 .7,4 .7-3.8 .7,6.5 .7-1.1 .7,6.4 .7-5.9 .7-13.9 .7,10.1 .7-1.4 .7,3.1 .7-1.3 .6-6.3 .8,2 .7,5.8 .7-9 .7,3.3 .7-3.9 .7,9.2 .7-.5 .7-4.2 .7-4.5 .7,1.9 .7-.1 .7-.4 .7,3.1 .7-8.5 .7,1.5 .7,1.2 .7,8 .7-9.7 .7,5.3 .7,3.5 .7-10.4 .7-2.1 .7,.2 .7,9.6 .7-.4 .7-2.7 .7-3.5 .7,5.3 .7-7.2 .7,9.4 .7-2.1 .7-.7 .7,6.3 .7-11.4 .7-.6 .7,6.3 .7,3 .7-8.7 .7-.6 .7,3.3 .7,2.9 .7-6 .7,7.1 .7,5.8 .7-10.2 .7-1.1 .7,11.7 .7-15.5 .7,10 .7-1.2 .7-10.7 .7,9.3 .7,3 .7-7.6 .7-8 .7,6.4 .7,10.8 .7-12.5 .7,9.4 .7-9.8 .7,3.7 .7-1.2 .7,3.2 .7,2.2 .7-1.8 .7-3.3 .7,2.9 .7,.2 .4-.7 .3-.2 .7-1.5 .7,3.9 .7,9 .7-9.4 .7,.3 .7-5.1 .7,1.2 .7,7.9 .7-8.2 .7,3.3 .7,2 .7-6 .7,7.9 .7-1.3 .7-1.3 .7-6.9 .7,4.4 .7-9 .7,8.4 .9-.7 .5-3.4 .7,1.7 .7-9 .7,1.8 .7-5.4 .7,6 .7-3.2 .7,5.4 1-10.1 .4,2.7 .7-4.9 .7-2.7 .7-1.3 .7,.3 1-4.8 .4-13.9 .7,5.2 .7-9.2 .4,3.8 .3-4.9 .7,8.5 .7,.5 .7-2.6 .7-2.4 .7-1 .7,3.4 .3,6.1 .4,7.3 .7,7.5 .7,4.3 .7-4.1 .7,6.9 .7,8 .9,4.1 .5-3.4 .7-2.4 .7,15.1 .7-4.9 .7-4.1 .7,10.5 .7,3 .7,0 .7,2.6 .7-2.8 .7,13.2 .6-3.4 .8-7.3 .7,8.2 .7-9.6 .7,13.4 .7-3.9 .7,5.4 .7,3.8 .7-2.5 .7,11.3 .7-9.5 .7,2.8 .7-2.5 .7-1.4 .7-2.3 .7,9.6 .7-.5 .7,4.3 .7-8.5 .7,.2 .7,3 .7,1.4 .7-1 .7-7.8 .7,7.4 .7,1.3 .7,2.2 .9-2.6 .5,2.2 .7,6.3 .7,1 .7-4.3 .7-1.2 .7,.7 .7,3.7 .7-3.1 .7,1 .7,6.2 .7-7.6 .7-1.7 .7,3.6 .7,8.7 .7-5 .7-9.5 .7,11.1 .7-3.1 .7,1.1 .7-7.3 .7,4 .7,2 .7,6 .7-6.1 .7-.1 .7-1.9 .7,9.8 .6-4.8 .8,5.5 .7-3 .7,4.1 .7-5.5 .7,6.6 .7-4.7 .7-1.2 .7,6.8 .7-9.3 .7,5.6 .7,1 .7-.4 .7,.4 .7,4.2 .7-7.4 .7,9.9 .7,.3 .7-4.1 .7-1.8 .7-3.7 .7,1.9 .7,1.4 .7,4.8 .7,5.9 .7-12.6 .7,11.2 .9-3.1 .5,.2 .7-1.4 .7-3.3 .7,.6 .7,1.5 .7,4.4 .7-5.4 .7,7.1 .7-1.1 .7-5.1 .7,3 .7,4.8 .7-9.8 .7,2 .7,7.2 .7,.2 .7-6.2 .7-.8 .7,6.5 .7,3.6 .7-6.8 .7-1.5 .7,9.8 .7-1.4 .7-9.9 .7,1.4 .7,3 .7,4.9 .7-1.3 .7-3 .7-6.8 .7,18.8 .7-13.1 .7,11.1 .7-1.3 .7-4.2 .7-.1 .7-5.8 .7-1.4 .7,1.3 .7-.9 .7,5.5 .7-5.1 .7,13.1 .7,4.3 .7-20.7 .7,4.8 .7,9 .7-.6 .7-1.6 .7,.2 .7,2.7 .7-4 .7,4.6 .7,2.2 .7-1.5 .7,3.5 .7-6.7 .7,1.4 .7-8.9 .7,5.8 .7-2.3 .7,8.9 .7,2.8 .7-9.5 .7-.2 .7-.3 .7,2.7 .8-2.8 .6,8.3 .7-5.5 .7,8.9 .7-2.8 .7-5.5 .7-.3 .7,5.6 .7-5.7 .7-5.6 .7,5.3 .7-2.4 .7,10.9 .7-9.4 .7-2.5 .7-8 .7,15.2 .7-3 .7-2 .7-.8 .7,1.6 .7,2.6 .7-2.5 .7-3.9 .7,2.6 .7-11.3 .7,5.8 .7-.1 .7-2.6 .7,1.5 .7,2.3 .7-4.3 .7-6.6 .7,7.3 .7,1.5 .3-.1 .4-1.4 .7-.1 .7-6 .7-14.2 .7,7.7 .7-5.5 .3,4.8 .4-2.3 .7-12.7 .7,1.4 .7-16.2 .7,2.2 .7-12.8 .7-5.3 .7-8.3 .7-1 .4,1.3 .3-13.6 .7-9.1 .7-5.6 .7-15.3 .7-5.4 .7-10.3 .7-12.1 .3-6.5 .4,6.1 .7-11.4 .7-9.8 .7,2.5 .7-10.3 .7,2.4 .7,7 .7,11.4 .7,4.7 .5,8.3 .2-1.9 .7,11.7 .7,17.9 .7,16.8 .7,7.6 .7,24.7 .7,11.3 .4-4.3 .3-1.6 .7,10.7 .7,2.4 .7,8.1 .7,7.8 .7,4.3 .7-1.2 .7,21.6 .7-5 .5,5.7 .2,3.5 .7-.7 .7,1.2 .7,2.2 .7-5.6 .7,8.1 .7,3.9 .7-3.7 .7,7.8 .7,3.3 .7-6.7 .7,5.4 .7-1.3 .7,4.7 .3-6 .4-4.7 .7,10.4 .7-.9 .7-1.6 .7-5.4 .7,1.2 .7,3.2 .7-1.5 .7-3.1 .7,2.2 .7,2.8 .7-6.1 .7,2.7 .7-3 .7,7.5 .7-4 .7,.4 .7,4.9 .5-2.2 .9-3.4 .7,5.2 .7-10.4 .7-.7 .7,6.2 .7-2.7 .7,5.4 .7-4.5 .7-1.7 .7,4 .7-6.9 .7-4.2 .7,8.1 .7-5.9 .7,4.9 .6-5.5 .8,3.9 .7-.9 .7-.8 .7,1.3 .7,5.4 .7-1.8 .7,3.1 .7-5.1 .7,.8 .7-1.3 .7,1.8 .7,3.3 .7,.7 .4,3.5 .3,4.1 .7-.9 .7-3.3 .7-.8 .7,10.3 .7-4.4 .7-14.2 .7,12.2 .7,4.3 .7-5.4 .7,4 .7-1.3 .7,1.8 .7-1.4 .7,2 .7-2.2 .7,2.2 .7-4 .7,4.5 .7-4.4 .7-5.1 .7,8.8 .7,.6 .7-4.6 .7,8.5 .7-6.5 .7,4.9 .7-4.4 .7,3.4 .7,1.2 .7,4.3 .7-6.9 .7-2.2 .7,11.9 .7-6.4 .7,9 .7-10.1 .7-6 .7,7.6 .7,1.9 .7-1.7 .7-2.7 .7,3.2 .7-6.3 .7-.1 .7,5 .7,3.2 .7-12.8 .7,10.1 .7-2.6 .7-2.5 .7,5 .7-1.3 .7,2 .7,3.5 .7-1.2 .7,2.7 .7-.2 .7-6.7 .7,1.7 .7-9.2 .7,6.7 .7-2.9 .7,3.2 .7,2.4 .7,2.9 .7-3 .7,11.5 .7-10.2 .7-6.4 .7,14.3 .7-8.8 .7-.3 .7,4.7 .7-5.6 .7,8.7 .7,1.4 .7-2.5 .7-5.6 .7-2.4 .6,4.3 .8,2.2 .7-1.4 .7,0 .7,5.4 .7-5.7 .7-4.3 .7-1 .7,7.5 .7,4.3 .7-5.8 .7-1.2 .7-1.5 .7,7.2 .7-11.3 .7,3.8 .7,9.2 .7-6.8 .7,1.1 .7,5.7 .7-.8 .7-4.2 .7,3.6 .5-14.4 .9,3.6 .7,4.4 .7-4.4 .7,1.2 .7-.7 .7,3.9 .7-3.9 .7,6.8 .7-3.2 .7,5.1 .7-11.9 .7-2.4 .7,7.5 .7,.9 .7,2.4 .7-.1 .7-6.6 .7,7.7 .7-5.9 .7-1.6 .7,5.7 .7-1.1 .7-2.7 .7-1.2 .7,9 .7-8.4 .7,.5 .7,0 .7-2.9 .7,8.4 .7,1.8 .6-5.3 .8-10.1 .7,1.4 .7,7.8 .7-3.8 .7-.6 .7,1.1 .7-1 .7,1 .7,1.4 .7,2.9 .7-1.3 .7-.1 .7-11.8 .7,8.3 .7,8.3 .7-1.3 .7,4.2 .7-10.1 .7,.6 .7,2 .7,6 .7-5 .7,.5 .7-1.5 .7-.4 .7-3 .7,4.5 .7-15.9 .7,13.4 .7-2.7 .7,4.8 .7,3.8 .7-5.5 .7,6.5 .7-5.1 .7,2.2 .4-2 .3,1.5 .7,4.9 .7-8.9 .7,.7 .7-.5 .7-1.8 .7,.7 .7,9.3 .7-5.6 .7,2.7 .7-2.3 .7,6.6 .7-5.4 .7-1.5 .7,7.6 .7-12.8 .7,1.5 .7,.5 .7-3.7 .7,6.5 .7,1.1 .7,4.1 .7-16.1 .7,14.3 .7,3.8 .7-10.8 .7,5.1 .7,5.2 .7-10.9 .7,4.3 .7-.5 .7-2.3 .7,2.3 .7-3 .7-2.7 .7,8.5 .7-3.8 .7,4.4 .7-6.2 .7-2 .7-2.3 .7-.7 .7,2.1 .7,3.3 .7,2.3 .9,0 .5-3.5 .7,3.7 .7,5.1 .7-7.1 .7-.2 .7,1.1 .7,.5 .7-10.5 .7,5 .7,2.6 .7-7.5 .7,6 .7-1.5 .7,.5 .7-1.3 .7-.2 .7-4.6 .7-3.1 .5,7.9 .2,.7 .7,3.4 .7-11.2 .7,2.4 .7-4 .7-5 .7,2.9 .7-4.7 .7,.1 .7-5.6 .7-3.3 .8,1.1 .6,5.1 .7-6.5 .7-1.8 .7-7.2 .7-6.4 .7,6.6 .7-7.2 .7-2.8 .7,2.8 .7,10.4 .7,4.9 .7,2.2 .7,6.6 .7-8.2 .7,2.6 .8,2.9 .6,13.1 .7-10.2 .7,7.1 .7,5 .7-9.8 .7,14.2 .7,3.1 .7-1.9 1-1.8 .4,9 .7-1.6 .7,4.1 .7-6.5 .7-5.1 .7,8.4 .7,2.5 .7-9.2 .7,2 .7-2.6 .7,8.1 .7-11.5 .7,13.9 .7-8.4 .7,8.2 .7-4 .7-.9 .7,.6 .7,3.7 .7-4.6 .7,3.1 .7-2.8 .9,2.6 .5-.4 .7,5.6 .7-11 .7,7.6 .7,.3 .7-4.5 .7-.4 .7,5.1 .7,3.3 .7-1.9 .7,2.2 .7-10.3 .7,14.3 .7-3.4 .7-6.2 .7-2.2 .7,6.6 .7,1.5 .7-2.3 .7-.4 .7,3.6 .7-2.3 .7,3.2 .7,2.2 .7-7.2 .7,4.2 .7-7 .7,10.2 .7-12.3 .7,3.1 .7,1.7 .7,6.3 .7-7.4 .7,8.4 .7-3.1 .7,2.4 .7,3.2 .7-9.5 .7,1.5 .7,8.4 .7-4.6 .7-9.4 .7,11.1 .7-4.2 .7,1.6 .7,2.3 .7-7 .7,7.3 .7-2.4 .7-7.4 .7,.2 .7,8.1 .7,2 .7-8 .7,9 .7-2.7 .7,3.4 .7-1.3 .7-9.2 .7,12.3 .7-12.4 .7,2.6 .7-1.5 .7,1.8 .7,1.3 .7-.7 .7-.1 .7-1.2 .7-3.2 .7,9 .7-1.8 .7,5.1 .7-6.8 .7,.6 .7,.9 .7,7 .7-5.9 .7,1.9 .7,1.1 .7,2.2 .7-10.7 .7,8.3 .6-4.8 .8,5.5 .7-2.1 .7-3 .7-.9 .7,6.9 .7-8.6 .7,6.4 .7,1.3 .7-4.4 .7-.1 .7-2.1 .7-4.2 .7,6.2 .7-2.2 .7,11 .7-12.6 .7,3.7 .7,2.7 .7,4 .7-2.8 .7-1.8 .7,3.2 .7-.6 .7-4.7 .7-1.5 .7-5.1 .7,.9 .7-6.3 .7,6.4 .7,1 .7,5.5 .7-8.9 .7,10.6 .7,1.3 .7-.6 .7-2.8 .7,4 .7-4.8 .7,6.8 .7-10.7 .7,4.2 .7-3.4 .7,8 .7-1.8 .7,1.8 .5-5.8 .2,2.9 .7-3.3 .7-6 .7,8.3 .7-3.4 .7-2.8 .7-4.6 .7,9.3 .7-4.4 .7-6.4 .7,3.3 .7,4.8 .7-1.3 .7,1.3 .7,6.7 .7-8.6 .7-1.8 .7,1.3 .7-2.7 .7,9.9 .7,0 .7,6.3 .7-7.5 .7-.5 .7-5.6 .7-.4 .7,7.2 .7,.1 .7-4.6 .7-3.8 .7,4.3 .7,.1 .7-3.8 .7,5.6 .7-5.9 .7-1.2 .7,1.8 .7,.7 .7,3.2 .7,.5 .7,5.3 .7-4.1 .7-11.3 .7,6.2 .7-2.4 .7,7 .7-.5 .7-2.7 .7-5.8 .7,3.2 .7,1.5 .7,3.1 .7,4.5 .7-12.2 .7,3.4 .7-6.4 .7-.7 .7,14.3 .7-5.9 .9,.8 .5,4.8 .7-5.6 .7,2.7 .7-3.4 .7,1.9 .7,2.9 .7-5.6 .7-6.7 .7,14.5 .7-8.2 .7,9.2 .7,1.5 .7-1.6 .7-7.6 .7-7.4 .7,9.8 .7,4.4 .7-6.1 .7-3.7 .7,4.4 .7,7.1 .7-4.5 .7,.4 .7,.1 .7-4.6 .7,3.6 .7,1.3 .7-3.5 .7-1.3 .7,9.6 .7,2.4 .7-2.9 .7-4.3 .7,3.8 .7-1.1 .7-1.4 .7-5.6 .7,.7 .7,7.4 .7-7 .7,5 .7-5.3 .7-3.5 .7-.3 .7,2.8 .7-.2 .7,2.2 .7,11.8 .7-2.9 .7-.9 .7-9.7 .7,8.8 .7-6.3 .7,1.2 .9,1.8 .5-1.1 .7-6.7 .7,9.7 .7-5.9 .7,9.9 .7-9.6 .7,3.4 .7-2.3 .7,4.9 .7-9 .7,2 .7,.6 .7,3.6 .7,4.4 .7-6.5 .7,6.8 .7-4.3 .7,.4 .7,2.3 .7-6.2 .7-4.4 .7-2.5 .7,4.4 .7,10.3 .7-11.4 .7,8.5 .7,.3 .7,4.2 .7-9 .7,5.7 .7-5.3 .7,4.6 .7-3.7 .7-.7 .7,7.1 .7-5.9 .7,6.9 .7,1 .7-4 .7,0 .7-2 .7-3.1 .7-.7 .7,2.5 .7-3.4 .7,4.1 .7,2.3 .7-1.3 .7-11.8 .7,7.1 .7,6.3 .7-5.3 .7,3.5 .7-9.8 .7,9.9 .7,2.8 .7-4.9 .7,2.5 .7-4.7 .7-1.7 .7,7 .7-9.5 .7,3.2 .7,4.3 .7,5.9 .7-7.9 .7,10.3 .7-12.1 .7-3 .7,9.5 .7-4.4 .7,1.4 .5,3.3 .2-7.5 .7,8.5 .7-6.2 .7,13.4 .7-15.7 .7,10 .7,6.8 .7-9.9 .7-.3 .7,3.7 .7-6.9 .7,8.7 .7-16.7 .7,12.6 .7-4.2 .7,3.5 .7,4.5 .7-7.2 .7,7.3 .7-3.6 .7,2.7 .7-13 .7,3.8 .7,4.7 .7,1.4 .7,4.5 .7-8.6 .7,4 .7,2.4 .7,1.4 .7-.2 .7-11.6 .7,15.4 .7-8.3 .7,6.7 .7-8.1 .7-3.5 .7,11.9 .7-5.7 .7-1.8 .7-4 .7,4.7 .7,3.8 .7-7.3 .7,6.5 .7-7.1 .4,5.3 .3,8.7 .7-9.1 .7,3.6 .7-7 .7-2 .7,5.8 .7,.9 .7-6.1 .7-5.4 .7,5.1 .7,11.4 .7-7.8 .7,1.9 .7,3.6 .7-5.7 .7,2.8 .7-4.4 .7-.5 .7,3.9 .7-2.8 .7-2.9 .7,7.7 .7-2.6 .7-6.7 .7,7.6 .7-2.4 .7-1.9 .7,7.5 .7-.9 .7-4.3 .7-7 .7,8.7 .7,2.3 .7-2.9 .7-7.6 .7,8.3 .9-1.8 .5,.9 .7-4 .7,14.4 .7-8.7 .7-8 .7,8.4 .7-8.2 .7,4.2 .7-3.5 .7,9 .7-10.1 .7,1.6 .7,6.4 .7-6.9 .7,3 .7-9.4 .7-.4 .7,4.5 .7-.6 .7-4.5 .7,5.8 .7-2.9 .8,6.4 .6-7.9 .7-.1 .7,4 .7,1.8 .7,6.5 .7,.3 .7-4.3 .7,10.8 .9-6.1 .5,4.4 .7-5.4 .7,5.8 .7-2.7 .7-3.6 .7,4.4 .7,7.7 .7-4.3 .7-6.5 .7,3.9 .7,4 .7-.2 .7-8.7 .7,11.3 .7-8.2 .7,6.2 .7-.4 .7-10.7 .7,6.3 .7-2.4 .7,5.6 .7-8.8 .7,12.2 .7-5.7 .7,6.5 .7-2.7 .7-2.3 .7-10.2 .7,11.2 .7,4.6 .7-4.4 .7,8.5 .7-6.8 .7,1.5 .7,.9 .7-.4 .7-1.7 .7-5.3 .7,5.5 .7-2.1 .7-2.5 .7,3.2 .7-8.8 .7,7.1 .7,3.6 .8,2.8 .6-10.4 .7,7.1 .7-3.8 .7,1.8 .7,1.6 .7-1.9 .7-4.4 .7,2.9 .7,4.2 .7,7.4 .7-3.9 .7-7.7 .7,6.5 .7-7.2 .7-2.4 .7,3.5 .7-6.9 .7,7.6 .7,7.1 .7-7.1 .7,6 .7,4.3 .7-5.8 .7-8 .7,3.9 .7,1.1 .7,5.6 .7-14.2 .7,9.1 .7,.5 .7-2.9 .7,3.6 .7-3.9 .7,6 .7-2.3 .7,3.2 .7-6.7 .7,1.2 .7-4.1 .7,6.1 .7-3.2 .7,3.2 .7-7.2 .7,4.8 .7-3.1 .7,3.9 .7-5.9 .7,6.8 .7,6 .7-12.4 .7,.4 .7-1.4 .7,9.2 .7-4.8 .7,8.8 .7-8 .7-.5 .7,5.4 .7-2.3 .5-1 .9-2.8 .7,3.6 .7-7 .7,4 .7,4 .7-.9 .7-.8 .7-4.1 .7,1.8 .7-5.3 .7,1.5 .7-11.5 .7,6.5 .7,.1 .7,2.3 .7-9.8 .7,3.7 .8,7.6 .6-11.4 .7,1.8 .7-3.7 .7,4 .7-6.2 .7,.8 .7-7.8 .7,1.2 .7,.6 .7-1.2 .7,4.7 .4-1 .3-14.2 .7,6.8 .7-9.5 .7,3.7 .7-3.2 .7,3.9 .7-8.9 .7,.2 .7,1.8 .5-9.5 .9,7.1 .7,8.1 .7-7 .7,5.2 .7,2.6 .7,3 .7,10.3 .7-8.7 .6,10.3 .8-6.3 .7,11 .7-7 .7,.3 .7,7.2 .7,4.4 .7,7.3 .7-.4 .7,1.6 .7-.5 1,6.2 .4-3.2 .7,1 .7,1.9 .7-3.8 .7,4.4 .7-2.6 .7,7.9 .7,.4 .7-.7 .7-1.9 .7-.2 .7-1.6 .7-6.6 .7,7.6 .7-3.3 .7,4.8 .7-1.5 .7,8.7 .5,1 .2-8.9 .7,1.5 .7,1.3 .7-5.6 .7,0 .7,8.4 .7-3 .7-3.3 .7-2.2 .7,2.8 .7-11.2 .7,12.5 .7,1.2 .7,1.3 .7,5.7 .7-11.8 .7,5.6 .7,6.5 .7-6.8 .7,0 .7-4.1 .7,10.5 .7-5 .7,2.8 .7-11.8 .7,2.7 .7-2 .7,12.6 .7-8.3 .7,4.7 .7,2.8 .7-6.5 .7,4 .7-1.7 .7,8.3 .7-.5 .7-8.6 .7-8.5 .7,10.5 .7,3.4 .7,3.9 .7-9.7 .7,9.5 .7-2.2 .7-4.1 .7,4.4 .4-4.3 .3,4 .7-3.9 .7,12.7 .7-6.6 .7-.3 .7-2.6 .7-4.4 .7,2.6 .7,4.6 .7-13 .7,12.4 .7-.2 .7-4.2 .7-.5 .7-.8 .7,3.1 .7,1.1 .7-10 .7-.8 .7,10.8 .7-2.7 .7,2.6 .7,10.6 .7-14.9 .7,4.3 .7,3.8 .7-12.4 .7,5.1 .7,4.8 .7-4.7 .7,2.5 .7-4.1 .7,8.3 .7,.7 .7-21.7 .7,19.1 .7-7.2 .7,2.8 .7-1.4 .7,4.1 .7-.5 .7,2.8 .7-7.8 .7,3.5 .7,10 1-9.2 .4,.1 .7,.7 .7,8.3 .7-7.7 .7,.5 .7,2.4 .7-5.9 .7-6.1 .7,9.5 .7-7.6 .7,.6 .7-.4 .7,4.5 .7,6.7 .7-1.5 .7,8.6 .7-7.1 .7-4 .7-2.8 .7,16.6 .7-11.1 .7-5.9 .7,4.1 .7-11.8 .7,12.9 .7-4.8 .7-1.6 .7,5.8 .7,1.8 .7,.6 .7-6.9 .7-2.3 .7,9.4 .7-3.6 .7-5.1 .7,8.7 .7-4.8 .7,5.3 .7-3.9 .7,8 .7-6.4 .7-2.3 .7-2.7 .7,5.6 .7-2.5 .9,7.5 .5-7.8 .7-2.4 .7,8.3 .7,.5 .7-1 .7-12.2 .7,5.1 .7,.8 .7,.1 .7,7 .7,.5 .7-10.3 .7,2.6 .7,2.4 .7-7.5 .7,5.1 .7-4.3 .7,6.1 .7-3.6 .7,4.3 .7-2.5 .7-1.5 .7,0 .7,5.8 .7,.9 .7-5.1 .7-2.8 .7,3 .7,1.6 .7-2.4 .7-1.2 .7-2.4 .7,1.3 .7,6.3 .7-9 .7,7.8 .7-.6 .7-1.8 .7-1.6 .7-.9 .7-6.3 .4,10.3 .3-2.3 .7-2.8 .7-7.2 .7,6.1 .7-2.1 .7,5.4 .7,1.1 .7-11.9 .7,8.8 .7-9.6 .7-3.8 .7,4.5 .7-8.1 .9-1.9 .5-1.8 .7,10.9 .7-6.7 .7-7.6 .7,3.5 .7-1.5 .7-5.2 .7-8.5 .7,4 .3-1.9 .4-7.9 .7,1.4 .7-1 .7-5.2 .7-1.1 .7,7.4 .9-6.5 .5-2.2 .7,6.3 .7,1.2 .7,2.8 .7,2.9 .7-7.1 .7,6.6 .7,1.7 .7,6.7 .3,2.2 .4-1.6 .7,6.6 .7-3.6 .7-4.9 .7,15.5 .7,.6 .7,.7 .7-.9 .7,4.6 .7-.3 .7,2.7 .7,3.5 .7,8.7 .7-3.7 .7-6.1 .7,4.6 .7,1 .7,1.6 .7,4.9 .7-5 .7,9.2 .7-2.5 .7-3.8 .7-.9 .7-.1 .7,.9 .7-2.6 .7,2.3 .7-2.7 .7,6.2 .7-4.8 .7,4.4 .7,1.5 .7,.5 .6,1.4 .8-2.6 .7-.8 .7,3.7 .7,0 .7-5.3 .7,6.5 .7-4.1 .7,1.9 .7-7.8 .7,3.7 .7,.1 .7,.5 .7,10.1 .7-9.5 .7,2.5 .7,.3 .7-4.9 .7,5.9 .7-7.6 .7,2.2 .7,3.6 .7-4.1 .7,.2 .7,5.9 .7,.6 .7-15 .7,8.5 .7,3.2 .7-4.2 .7,4 .7,5.9 .7-2.7 .7,1.8 .7,3.5 .7-6.5 .7,3.8 .7-3.5 .7,7.1 .7,3.2 .7-13.1 .7-1.9 .7,10.9 .7-8.5 .7,5.3 .7-1.4 .5-10.5 .9,11 .7-.6 .7,5.8 .7-10.5 .7,1.4 .7,7.8 .7-2 .7,1 .7,6.2 .7-13.2 .7,5.6 .7,3.9 .7-4.7 .7,.9 .7,2 .7,3.2 .7-.1 .7,1.6 .7-10.6 .7,1.9 .7,7.4 .7-6.5 .7-2.4 .7,4.6 .7,.9 .7-5 .7,5.8 .7-4 .7-1 .7-1.8 .7,2 .7,9.8 .7-5 .7,3 .7-8.5 .7,5.3 .7-5.9 .7-.4 .7,1 .7,5.3 .7-10.7 .7,4.5 .7,10.9 .7,.3 .7-4.5 .4,5.5 .3,3.7 .7-17.6 .7,14.4 .7-5.4 .7-1.2 .7-6.4 .7-.5 .7,1.7 .7,7.4 .7-3.9 .7-11 .7,5.8 .7,7 .7,.2 .7-6.9 .7,8.3 .7,.2 .7-1.2 .7,.3 .7-1.4 .7-7.5 .7-3.6 .7,10.4 .7-.5 .7-3.2 .7,3.2 .7,5 .7-6.9 .7,4.7 .7-3.7 .7,3.7 .7-.2 .7-3.2 .7,3.2 .7,4.7 .7-.9 .7-8.5 .7,10.7 .7-7.8 .7,5.6 .7,1.4 .7-3.2 .7,1.8 .7-1.7 .7,3.9 .7-8.8 .7,.7 .7-4.8 .7,6 .7-5.5 .7,12.1 .7-9.3 .7,1.1 .7,2.3 .7,4 .7-2.9 .7-6.3 .7,10.6 .7-.1 .7-6 .7-1.6 .7-1.3 .7,1.9 .7-1.1 .7,15.5 .7-17.6 .7,10.7 .7-3 .7,4.7 .7-11.5 .7,13.3 .7-15.4 .7,3.7 .7,3.1 .7-3.2 .7-2.6 .7,14.7 .7-7.6 .7,1.2 .7-5.1 .7-1.4 .7,16.4 .7-19.1 .7,3.2 .7,7.6 .7-2.7 .7-2.3 .7,3.4 .7,.8 .7-.1 .7-4.3 .7-2.4 .7,6.2 .7-6.9 .7,.3 .7,3.1 .7,1.5 .7,.5 .7-1 .7,5.3 .7-4 .7-5.5 .7-1 .7,6 .7,1.2 .7-1.6 .7,2.5 .7,2.8 .7-1.1 .7,1.7 .7-10.2 .7,7.2 .7-7.4 .7-.4 .7,8.9 .7-3.5 .7,4.1 .7,1.9 .7-7 .7,5.4 .6-5.1 .8,5.3 .7-1 .7-4.1 .7,8 .7-9.7 .7-14.3 .7,14.7 .7-1.7 .7,6.2 .7-.6 .7,1.3 .7,1.6 .7,1.6 .7-5.3 .7-2.1 .7-4.4 .7,3.4 .7,4.3 .7,2.2 .7,1.6 .7-9.6 .7,5.9 .7,3.8 .7-7.6 .7-.9 .7,.9 .7,2.7 .7-4.5 .7,6.6 .7-1 .7,4 .7,3.2 .7-8.9 .7,.9 .7,4.3 .7-1.1 .7-4.4 .7-2.7 .7-4.2 .7,11.1 .7-4 .7-4.6 .7-3.1 .7,9.1 .7-6.7 .7,7.2 .7,4.3 .7-4.3 .7-1.5 .7,.4 .7,3.2 .7-.6 .7-4.5 .7-3.9 .7,8.5 .7-3.9 .7,12.5 .7-11.7 .7,3.2 .7-.3 .7-4.7 .7,.8 .7-1.4 .7,8.8 .7-3.8 .7-7.5 .7-2.3 .7,4 .4-5.3 .3,5 .7,.7 .7,4.1 .7,4.3 .7-15.3 .7,7.9 .7-2.5 .7,6 .7-4.7 .7,6.6 .7-2.3 .7-11 .7,8.9 .7-.1 .7,2.7 .7-1.7 .7,.3 .7-1.9 .7-6.5 .7-1.9 .7,16.2 .7-6 .7-.7 .7,.3 .7-4.6 .7,4.8 .7,0 .7-1.7 .7-.9 .7,2.3 .7-6 .7,7.1 .7-1.4 .7-2.2 .7-3.7 .7,8.4 .7-2.3 .7-2.4 .7-4.1 .7,2.8 .7-5.4 .7,3.8 .7,2.4 .7,3.1 .7-7.8 .7,5.3 .7-9.1 .7,15.3 .7-9.3 .7-2.8 .7,8.3 .7-4.9 .7-4 .7,.4 .7,9.8 .7-4.6 .7-6.6 .7,3.1 .7,8.1 .9-7.8 .5,4 .7-.9 .7-2.2 .7-2.4 .7,4.7 .7-4.5 .7,4.4 .7,.5 .7,3.4 .7,.9 .7-6.7 .7,6.4 .7-10.6 .7-.6 .7,11.2 .7-2.5 .7-2.5 .7-4 .7,9.8 .7-.9 .7-6.3 .7,4.1 .7-3.6 .7,8.3 .7,.9 .7,1.3 .7-6.7 .7-7.8 .7,10.9 .7-2.5 .7-1.8 .7,2.9 .7-7.5 .7,4.6 .7,6 .7-2.9 .7,2.8 .7-11.3 .7,14.1 .7-1.2 .7-6.1 .7-2 .7,1.9 .7,5.1 .7-4.9 .7,3.4 .7-1 .7-5 .7,0 .7,9.3 .7-1.8 .7,1.5 .7-3.7 .7-4 .9,10.7 .5,.9 .7-8.4 .7-2.2 .7,8.6 .7-10.5 .7,1.1 .7,1.8 .7,.3 .7-.8 .7-8.5 .7,10.3 .7-1.4 .7,6.7 .7-7.2 .7-3.2 .7,5.9 .7-4.5 .7,5 .7,1.7 .7-12.8 .7,3.5 .7,4.2 .7-4.9 .7,4.1 .7,1.3 .7-.4 .7,.3 .7,.5 .7-4.5 .7-3.1 .7,1 .7-2.3 .7,9.1 .7-4.5 .7-3.3 .7,.2 .7,8 .7,1.7 .7-5.6 .7,2.6 .7,4.1 .7,2.1 .7-5.2 .7-5.4 .7,4.4 .8,3.7 .6-13.4 .7,8.4 .7,.4 .7-6.3 .7,2.3 .7,2 .7,2.2 .7-4.4 .7-10.2 .7,11.4 .7-4.8 .7-2.3 .7,3.9 .7-1.3 .7,1.6 .7-1 .7-4.5 .7,11 .7-7.7 .7-2 .7,2.3 .7-7.4 .7,5.3 .7,.5 .7-3 .7-3.9 .7,6.5 .4,9.5 .3-17.6 .7,5.9 .7,1.4 .7-1.2 .7,5.7 .7-8.4 .7,4.8 .7,3.1 .7-10.1 .7,12.1 .7,3.4 .7-4.3 .7-1.1 .7-9.4 .7,10.1 .7-1.7 .7,1.9 .7-1.8 .7,2.3 .7-1.9 .7-3.3 .7,6.8 .7-7.4 .7,7.7 .7,1.8 .7,1 .7-8.2 .7,8.5 .7-8.9 .7,4.4 .7-4.5 .7,10 .5-4.5 .2-3.2 .7,1.3 .7-1.1 .7,3 .7-1.7 .7,2.8 .7-.7 .7,6.7 .7-5.6 .7-1.8 .7,5.4 .7-5 .7-3.8 .7,12.6 .7-9.3 .7,4.9 .7-4.5 .7,7.6 .7-12.7 .7,7.6 .7,6.6 .7-12 .7,4.9 .7-1.9 .7-3.6 .7,9.1 .7-.5 .7-5.8 .7,.9 .7-3.8 .7,3.3 .7,6.3 .6-3.4 .8,13.5 .7-13.9 .7,.8 .7,1.1 .7,.5 .7-1.9 .7,3.6 .7-3.4 .7-.3 .7-1 .7,7.6 .7-13.3 .7,3.4 .7,7.7 .7-7.1 .7,4.4 .7-7.4 .7,.8 .7,2.1 .7,2 .7-2.8 .7,5.4 .7-2.3 .7-3.7 .7,4.1 .7,.4 .7,1.6 .7-.7 .7-.7 .7-1.8 .7-3.8 .7,.4 .7,4 .7-1.8 .7,7.2 .7-8.6 .7,6 .7-7 .7,3.2 .7,6.4 .7-7 .7,4.8 .7-2 .7,6.1 .7-10.1 .7,1.1 .7,.9 .7-4.7 .7,4.2 .7-2.9 .8,3.2" fill="none" stroke="#70AD47" stroke-width="6" stroke-linejoin="round" stroke-linecap="round"/>
</g>
<line x1="275.2" y1="142.6" x2="2055.2" y2="142.6" stroke="#000" stroke-width="2.6"/>
<line x1="2053.6" y1="142.6" x2="2053.6" y2="1139" stroke="#000" stroke-width="2.6"/>
<g id="markers-a">
<circle cx="610.5" cy="192" r="20.3" fill="#7F7F7F"/>
<circle cx="776.6" cy="158.8" r="20.3" fill="#7F7F7F"/>
<circle cx="826" cy="290.6" r="20.3" fill="#7F7F7F"/>
<circle cx="1012.6" cy="290.5" r="20.3" fill="#7F7F7F"/>
<circle cx="1335.7" cy="341.2" r="20.3" fill="#7F7F7F"/>
<circle cx="1445.5" cy="308.1" r="20.3" fill="#7F7F7F"/>
<circle cx="1621" cy="308.1" r="20.3" fill="#7F7F7F"/>
<circle cx="451" cy="559.2" r="20.5" fill="#ED7D31"/>
<circle cx="623.6" cy="559.2" r="20.5" fill="#ED7D31"/>
<circle cx="706.7" cy="640.3" r="20.5" fill="#ED7D31"/>
<circle cx="875.5" cy="658" r="20.5" fill="#ED7D31"/>
<circle cx="922.4" cy="675.6" r="20.5" fill="#ED7D31"/>
<circle cx="1032.8" cy="675.6" r="20.5" fill="#ED7D31"/>
<circle cx="1059.4" cy="691" r="20.5" fill="#ED7D31"/>
<circle cx="1093.8" cy="691" r="20.5" fill="#ED7D31"/>
<circle cx="1227.9" cy="691" r="20.5" fill="#ED7D31"/>
<circle cx="1452.6" cy="658" r="20.5" fill="#ED7D31"/>
<circle cx="1421.1" cy="691" r="20.5" fill="#ED7D31"/>
<circle cx="1531.2" cy="691" r="20.5" fill="#ED7D31"/>
<circle cx="1596.3" cy="675.6" r="20.5" fill="#ED7D31"/>
<circle cx="1647.7" cy="675.6" r="20.5" fill="#ED7D31"/>
<circle cx="527.3" cy="607.6" r="18.3" fill="#00B0F0"/>
<circle cx="662.1" cy="805.6" r="18.3" fill="#00B0F0"/>
<circle cx="1088.3" cy="790.2" r="18.3" fill="#00B0F0"/>
<circle cx="1351.8" cy="823.3" r="18.3" fill="#00B0F0"/>
<circle cx="1432.3" cy="856.3" r="18.3" fill="#00B0F0"/>
<circle cx="1740.1" cy="889.1" r="18.3" fill="#00B0F0"/>
<circle cx="1955.6" cy="889.1" r="18.3" fill="#00B0F0"/>
<circle cx="2025.2" cy="889.1" r="18.3" fill="#00B0F0"/>
<circle cx="430.7" cy="874" r="20.5" fill="#000"/>
<circle cx="451" cy="906.7" r="20.5" fill="#000"/>
<circle cx="594.4" cy="939.8" r="20.5" fill="#000"/>
<circle cx="691.6" cy="972.5" r="20.5" fill="#000"/>
<circle cx="848.9" cy="972.5" r="20.5" fill="#000"/>
<circle cx="1025.7" cy="972.5" r="20.5" fill="#000"/>
<circle cx="1218.9" cy="1041.3" r="20.5" fill="#000"/>
<circle cx="1364.3" cy="1056.7" r="20.5" fill="#000"/>
<circle cx="1407.3" cy="1041.3" r="20.5" fill="#000"/>
<circle cx="1477.3" cy="1056.7" r="20.5" fill="#000"/>
<circle cx="1580.3" cy="1056.7" r="20.5" fill="#000"/>
<circle cx="1627.5" cy="1041.3" r="20.5" fill="#000"/>
<circle cx="1706.1" cy="1056.7" r="20.5" fill="#000"/>
</g>
<g id="dashes-a">
<line x1="611.4" y1="155" x2="611.4" y2="1126" stroke="#000" stroke-width="3.1" stroke-dasharray="17.6 6.4"/>
<line x1="777.4" y1="150.6" x2="777.4" y2="1126" stroke="#000" stroke-width="3.1" stroke-dasharray="17.6 6.4"/>
<line x1="829.4" y1="153" x2="829.4" y2="1126" stroke="#000" stroke-width="3.1" stroke-dasharray="17.6 6.4"/>
<line x1="1013.5" y1="153" x2="1013.5" y2="1126" stroke="#000" stroke-width="3.1" stroke-dasharray="17.6 6.4"/>
<line x1="1337" y1="157.3" x2="1337" y2="1126" stroke="#000" stroke-width="3.8" stroke-dasharray="17.6 6.4"/>
<line x1="1447.1" y1="148.6" x2="1447.1" y2="1126" stroke="#000" stroke-width="4.0" stroke-dasharray="17.6 6.4"/>
<line x1="1622" y1="155" x2="1622" y2="1126" stroke="#000" stroke-width="4.0" stroke-dasharray="17.6 6.4"/>
</g>
<text x="228" y="161" font-family="'Liberation Sans',Arial,sans-serif" font-size="57.3" font-weight="normal" text-anchor="end" fill="#000" letter-spacing="2.5">300</text>
<text x="228" y="327.4" font-family="'Liberation Sans',Arial,sans-serif" font-size="57.3" font-weight="normal" text-anchor="end" fill="#000" letter-spacing="2.5">250</text>
<text x="228" y="493.8" font-family="'Liberation Sans',Arial,sans-serif" font-size="57.3" font-weight="normal" text-anchor="end" fill="#000" letter-spacing="2.5">200</text>
<text x="228" y="660.3" font-family="'Liberation Sans',Arial,sans-serif" font-size="57.3" font-weight="normal" text-anchor="end" fill="#000" letter-spacing="2.5">150</text>
<text x="228" y="826.7" font-family="'Liberation Sans',Arial,sans-serif" font-size="57.3" font-weight="normal" text-anchor="end" fill="#000" letter-spacing="2.5">100</text>
<text x="228" y="993.1" font-family="'Liberation Sans',Arial,sans-serif" font-size="57.3" font-weight="normal" text-anchor="end" fill="#000" letter-spacing="2.5">50</text>
<text x="228" y="1159.5" font-family="'Liberation Sans',Arial,sans-serif" font-size="57.3" font-weight="normal" text-anchor="end" fill="#000" letter-spacing="2.5">0</text>
<text x="276.9" y="1229" font-family="'Liberation Sans',Arial,sans-serif" font-size="57.3" font-weight="normal" text-anchor="middle" fill="#000" letter-spacing="2.5">20</text>
<text x="573.8" y="1229" font-family="'Liberation Sans',Arial,sans-serif" font-size="57.3" font-weight="normal" text-anchor="middle" fill="#000" letter-spacing="2.5">30</text>
<text x="870.7" y="1229" font-family="'Liberation Sans',Arial,sans-serif" font-size="57.3" font-weight="normal" text-anchor="middle" fill="#000" letter-spacing="2.5">40</text>
<text x="1167.6" y="1229" font-family="'Liberation Sans',Arial,sans-serif" font-size="57.3" font-weight="normal" text-anchor="middle" fill="#000" letter-spacing="2.5">50</text>
<text x="1464.6" y="1229" font-family="'Liberation Sans',Arial,sans-serif" font-size="57.3" font-weight="normal" text-anchor="middle" fill="#000" letter-spacing="2.5">60</text>
<text x="1761.5" y="1229" font-family="'Liberation Sans',Arial,sans-serif" font-size="57.3" font-weight="normal" text-anchor="middle" fill="#000" letter-spacing="2.5">70</text>
<text x="2058.4" y="1229" font-family="'Liberation Sans',Arial,sans-serif" font-size="57.3" font-weight="normal" text-anchor="middle" fill="#000" letter-spacing="2.5">80</text>
<text transform="translate(117.2,786.5) rotate(-90)" font-family="'Liberation Sans',Arial,sans-serif" font-size="61" letter-spacing="-0.6" fill="#000"><tspan font-weight="bold">Intensity</tspan> (a.u.)</text>
<text x="967" y="1303.3" font-family="'Liberation Sans',Arial,sans-serif" font-size="61" letter-spacing="-0.25" fill="#000"><tspan font-weight="bold">2 Theta</tspan> (degree)</text>
<circle cx="371.2" cy="47.6" r="17.4" fill="#7F7F7F"/>
<text transform="translate(408.6,67.8) scale(0.968,1)" font-family="'Liberation Sans',Arial,sans-serif" font-size="55.6" font-weight="normal" text-anchor="start" fill="#000">Co3O4</text>
<circle cx="710" cy="47.6" r="15.1" fill="#00B0F0"/>
<text transform="translate(748.4,67.8) scale(0.968,1)" font-family="'Liberation Sans',Arial,sans-serif" font-size="55.6" font-weight="normal" text-anchor="start" fill="#000">CeO2</text>
<circle cx="1050" cy="47.6" r="17.7" fill="#000"/>
<text transform="translate(1087.2,67.8) scale(0.968,1)" font-family="'Liberation Sans',Arial,sans-serif" font-size="55.6" font-weight="normal" text-anchor="start" fill="#000">LaOCl</text>
<circle cx="1390.6" cy="47.6" r="17.4" fill="#ED7D31"/>
<text transform="translate(1429.6,67.8) scale(0.968,1)" font-family="'Liberation Sans',Arial,sans-serif" font-size="55.6" font-weight="normal" text-anchor="start" fill="#000">SmOCl</text>
<line x1="1701.4" y1="50.6" x2="1765" y2="50.6" stroke="#000" stroke-width="5"/>
<text transform="translate(1769.8,67.8) scale(0.968,1)" font-family="'Liberation Sans',Arial,sans-serif" font-size="55.6" font-weight="normal" text-anchor="start" fill="#000">Co-La</text>
<line x1="339.3" y1="112.4" x2="403.9" y2="112.4" stroke="#00B0F0" stroke-width="5"/>
<text transform="translate(408.6,129.8) scale(0.968,1)" font-family="'Liberation Sans',Arial,sans-serif" font-size="55.6" font-weight="normal" text-anchor="start" fill="#000">Co-Ce</text>
<line x1="682.1" y1="112.4" x2="742.8" y2="112.4" stroke="#ED7D31" stroke-width="5"/>
<text transform="translate(748.4,129.8) scale(0.968,1)" font-family="'Liberation Sans',Arial,sans-serif" font-size="55.6" font-weight="normal" text-anchor="start" fill="#000">Co-Sm</text>
<line x1="1022" y1="112.4" x2="1084.5" y2="112.4" stroke="#FF0000" stroke-width="5"/>
<text transform="translate(1087.2,129.8) scale(0.968,1)" font-family="'Liberation Sans',Arial,sans-serif" font-size="55.6" font-weight="normal" text-anchor="start" fill="#000">Co-Gd</text>
<line x1="1360" y1="112.4" x2="1424" y2="112.4" stroke="#FFC000" stroke-width="5"/>
<text transform="translate(1429.6,129.8) scale(0.968,1)" font-family="'Liberation Sans',Arial,sans-serif" font-size="55.6" font-weight="normal" text-anchor="start" fill="#000">Co-Dy</text>
<line x1="1701.4" y1="112.4" x2="1765" y2="112.4" stroke="#70AD47" stroke-width="5"/>
<text transform="translate(1769.8,129.8) scale(0.968,1)" font-family="'Liberation Sans',Arial,sans-serif" font-size="55.6" font-weight="normal" text-anchor="start" fill="#000">Co-Yb</text>
<text x="1788.5" y="393.8" font-family="'Liberation Sans',Arial,sans-serif" font-size="35" font-weight="bold" text-anchor="start" fill="#70AD47" letter-spacing="0.5">Co3O4.YbOCl</text>
<text x="1790" y="531.2" font-family="'Liberation Sans',Arial,sans-serif" font-size="35" font-weight="bold" text-anchor="start" fill="#FF0000" letter-spacing="0.5">Co3O4.GdOCl</text>
<text x="1795" y="738.2" font-family="'Liberation Sans',Arial,sans-serif" font-size="35" font-weight="bold" text-anchor="start" fill="#ED7D31" letter-spacing="0.5">Co3O4.SmOCl</text>
<text x="1809" y="1087.5" font-family="'Liberation Sans',Arial,sans-serif" font-size="35" font-weight="bold" text-anchor="start" fill="#000" letter-spacing="0.5">Co3O4.LaOCl</text>
<text font-family="'Liberation Serif','DejaVu Serif',serif" font-size="106" fill="#000"><tspan x="1029.4" y="1561" font-weight="normal" textLength="30" lengthAdjust="spacingAndGlyphs">(</tspan><tspan x="1062.55" y="1561" font-weight="bold" textLength="49.3" lengthAdjust="spacingAndGlyphs">a</tspan><tspan x="1112.5" y="1561" font-weight="normal" textLength="30" lengthAdjust="spacingAndGlyphs">)</tspan></text>
</g>
<g id="chart-b">
<clipPath id="clipb"><rect x="260" y="1788.4" width="1776.4" height="1039"/></clipPath>
<line x1="270" y1="1786.2" x2="270" y2="2843.6" stroke="#000" stroke-width="7.4"/>
<line x1="251" y1="2825.4" x2="2040" y2="2825.4" stroke="#000" stroke-width="7.7"/>
<line x1="251" y1="2825.4" x2="270" y2="2825.4" stroke="#000" stroke-width="7"/>
<line x1="256" y1="2751.4" x2="270" y2="2751.4" stroke="#000" stroke-width="7"/>
<line x1="251" y1="2677.4" x2="270" y2="2677.4" stroke="#000" stroke-width="7"/>
<line x1="256" y1="2603.5" x2="270" y2="2603.5" stroke="#000" stroke-width="7"/>
<line x1="251" y1="2529.5" x2="270" y2="2529.5" stroke="#000" stroke-width="7"/>
<line x1="256" y1="2455.5" x2="270" y2="2455.5" stroke="#000" stroke-width="7"/>
<line x1="251" y1="2381.5" x2="270" y2="2381.5" stroke="#000" stroke-width="7"/>
<line x1="256" y1="2307.6" x2="270" y2="2307.6" stroke="#000" stroke-width="7"/>
<line x1="251" y1="2233.6" x2="270" y2="2233.6" stroke="#000" stroke-width="7"/>
<line x1="256" y1="2159.6" x2="270" y2="2159.6" stroke="#000" stroke-width="7"/>
<line x1="251" y1="2085.6" x2="270" y2="2085.6" stroke="#000" stroke-width="7"/>
<line x1="256" y1="2011.6" x2="270" y2="2011.6" stroke="#000" stroke-width="7"/>
<line x1="251" y1="1937.7" x2="270" y2="1937.7" stroke="#000" stroke-width="7"/>
<line x1="256" y1="1863.7" x2="270" y2="1863.7" stroke="#000" stroke-width="7"/>
<line x1="251" y1="1789.7" x2="270" y2="1789.7" stroke="#000" stroke-width="7"/>
<line x1="270" y1="2825.4" x2="270" y2="2843.6" stroke="#000" stroke-width="7.6"/>
<line x1="417.2" y1="2825.4" x2="417.2" y2="2838.9" stroke="#000" stroke-width="7.6"/>
<line x1="564.3" y1="2825.4" x2="564.3" y2="2843.6" stroke="#000" stroke-width="7.6"/>
<line x1="711.5" y1="2825.4" x2="711.5" y2="2838.9" stroke="#000" stroke-width="7.6"/>
<line x1="858.7" y1="2825.4" x2="858.7" y2="2843.6" stroke="#000" stroke-width="7.6"/>
<line x1="1005.8" y1="2825.4" x2="1005.8" y2="2838.9" stroke="#000" stroke-width="7.6"/>
<line x1="1153" y1="2825.4" x2="1153" y2="2843.6" stroke="#000" stroke-width="7.6"/>
<line x1="1300.2" y1="2825.4" x2="1300.2" y2="2838.9" stroke="#000" stroke-width="7.6"/>
<line x1="1447.3" y1="2825.4" x2="1447.3" y2="2843.6" stroke="#000" stroke-width="7.6"/>
<line x1="1594.5" y1="2825.4" x2="1594.5" y2="2838.9" stroke="#000" stroke-width="7.6"/>
<line x1="1741.7" y1="2825.4" x2="1741.7" y2="2843.6" stroke="#000" stroke-width="7.6"/>
<line x1="1888.8" y1="2825.4" x2="1888.8" y2="2838.9" stroke="#000" stroke-width="7.6"/>
<line x1="2036" y1="2825.4" x2="2036" y2="2843.6" stroke="#000" stroke-width="7.6"/>
<g id="curves-b" clip-path="url(#clipb)">
<path d="M271,2758.3l.9-2.1 .9-.4 .9-2.8 .9,3.3 .9-.3 .9,0 .9,.7 .9,.2 .9-1.5 .9,.3 .9,.2 .9,1.4 .9-.2 .9-1.7 .9,.6 .9,2.1 .9,1 .9-1.6 .9-.1 .9,1.9 .9-2 .9,1.2 .9,1.4 .9-1.3 .9-.8 .9,1.6 .9-1.4 .9,1 .9-.4 .9,.4 .9,0 .9-.1 .9-.1 .9,1.2 .9-.1 .6,.1 1.2,1.3 .9-3.4 .9,3.4 .9-2.2 .9-.6 .9,1.3 .9,.4 .9,1 .9-2 .9,1.4 .9,0 .9-1.1 .9,1.1 .9,2.9 .9-.4 .9,1.4 .9-.8 .9-.2 .9-.6 .9,1.3 .9-1.4 .9,.2 .9,.6 .9-2.5 .9,4.1 .9-2.9 .9,.9 .9,3.2 .9-2.9 .9,1.2 .9,2.6 .9-2.1 .9,.9 .9,1.4 1.2,0 .6-.5 .9-.2 .9,.9 .9-.8 .9-.6 .9-1.3 .9-.2 .9-1.4 .9,3.6 .9-3.2 .9,3 .9,1.2 .9-3.3 .9,.3 .9,.2 .9,2 .9-1.7 .9,.7 .9-.6 .9,.5 .9,1.7 .9-2.6 .9,1.6 .9,.9 1.2,1.1 .6-8.5 .9-5.7 .9-9.9 .9-8.2 .9-10.1 .6-7.3 .3-8.3 .9-23.5 .9-26.1 1.1-30.3 .7,22.6 .9,25.6 .9,22.6 .7,21.5 1.1,10.2 .9,12.1 1.2,19 .6-1.1 .9,1.4 .9,.7 .9,.2 .9,1.4 .9,.6 .9-1.2 .9,3.2 .9,.9 .9,2.4 .9-2.3 .9,1.7 .8,.1 1,0 .9,2.4 .9-1 .9-1.5 .9,.6 .9,.9 .9-1.7 .9,.6 .9,1.9 .9-.8 .9-.2 .9-.4 .9,.7 .9-1.7 .9,3.2 .9-.1 .9-.9 .9-1.8 .9,.7 .9,1.7 .9-.8 .9-1.4 .9,1.5 .9,.6 .9-2.3 .9,.1 .9-.7 .9-.2 .9,2.4 .9-.2 .9-.1 .9-1.9 .9,.8 .9,1.1 .9-.9 .5,.1 .4-1.6 .9,.1 .9-.4 .9-1.1 .9-1.2 .9-2.8 .9-.2 .6-2.4 .3,2.2 .9-2.4 .9,.7 .9-.4 .9,1.5 .9-.1 .9,2 .9,.9 .9,3.5 .9,.9 1.2,7 .6-2.1 .9,.9 .9,.1 .9-2 .9-.2 .9,1.9 .9,2.5 .9-3.6 .9,.8 .9,1.1 .9-1.4 .9-.3 .9,1.2 .9,1 .9-.4 .9,2.1 .9-2.4 .9,.2 .9,1.9 .9,.1 .9-4.2 .9,1.8 .9,2.4 .9-2.4 .9,.3 .9,.3 .9,.2 .9,.7 .9,1.4 .9,1.3 .9,.6 .9-2.1 .9-2.2 .9,2.4 .9-.1 .9,1 .9-.3 .9-1.6 .9,3 .9-3 .9,1.5 .9,1.3 .9,0 .9,1.3 .9-4.8 .9,3.2 .9,.9 .9-1.8 .9,1.7 .9-2 .9,1.9 .9,.2 .9-1.8 .9,.9 .9,.4 .9-.5 .9,2.1 .9-.9 .9,1.6 .9,.2 .9-1.5 .9,0 .9-.9 .9,.3 .9,.4 .9,1.1 .9-1.2 .9,.5 .9,.5 .9-1.4 .9-.2 .9,2.3 .9,.5 .9-2.2 .9,.7 .9,.1 .9,.5 .9,2.8 .9-.8 .9,.3 .9,.6 .9-2.7 .9,.5 .9-.3 .9,.5 .9-.9 .9,1 .9,.8 .9-.1 .4-.6 .5-1.3 .9-.9 .9,3 .9-.6 .9-1.2 .9,.5 .9,.2 .9-1.5 .9,3 .9-1.1 .9,.2 .9,1.4 .9-.9 .9,.8 .9-.3 .9-.7 .9,.1 .9,1.8 .9-2.3 .9,2.4 .9-2.7 .9,2.5 .9-.5 .9-.7 .9-2.3 .9,5.2 .9-3.5 .9,.2 .9,1.7 .9,0 .9,.1 .9-.5 .9-1.9 .9,3.3 .9-2.9 1,1.2 .8,.8 .9,.4 .9-1.4 .9-.3 .9,.3 .9-1.7 .9,1.2 .9-.1 .9,.4 .9,1.6 .9-.1 .9,2 .9,0 .9-3.9 .9,2.4 .9-1.5 .9,1.7 .9-.5 .9,1 .9-.9 .9-.1 .9-1.6 .9-3 .9,2.3 .9,.3 .9,1.2 .9-.3 .9,3.7 .9-1.8 .9,1.2 .9-1.8 .9,1.8 .9-3.4 .9,2.5 .9-1.9 .7,2.2 1.1-.6 .9-4.2 .9-.4 .9-.5 .9-2.1 1.1-3.1 .7,.6 .9-5.2 .9-2 .7-3.2 1.1,2.7 .9,4.2 .9,5.6 1,.1 .8,2.5 .9,2.2 .9,1.3 .9,1 .9-1.8 .9,5.2 1.1-1.4 .7,.7 .9,.3 .9-.3 .9-.1 .9,.6 .9,1.8 .9-3.5 .9-.9 .9,3.1 .9-.9 .9,.9 .9,1.6 .9-3.2 .9,.7 .9,.9 .9,1.1 .9-1 .9-2.5 .9-.3 .9,1 .9-1.6 .9,3.2 .9-1.8 .9,0 .9-1.3 .9,3.5 .9-1.7 .9-.3 .9,1.2 .9-.9 .9,1.5 .9,.8 .9-1.9 .9,.6 .9,.5 .9,1 .9-.6 .9-1.5 .9-1.2 .9,.8 .9-1.7 .9,1.8 .9-1.3 .9,1 .9-.9 .9,.1 .9-.4 .9,2.2 .9-1.5 1,.6 .8-6.1 .9-2.4 .9-8.1 .9,1.6 .9-5.9 .4-2.1 .5-31.6 .9-51.1 .9-44.9 .9-133.7 1-128.5 .8,66.2 .9,67.8 .9,65.8 1.2,92.4 .6,12.4 .9,19.1 .9,16.8 .9,17.3 .9-29.2 .9-27.8 .9-26.7 .5-13.8 .4-42.6 .9-88.1 1.2-111 .6,45.2 .9,63.4 .9,62.9 .9,65.6 .6,37.6 .3,11.5 .9,25.7 .9,27.2 1.1,31.3 .7,4.4 .9,7 .9,3.5 .7,4.7 1.1-3.9 .9,3.6 .9,.8 .9-2.5 .9,.7 .9-4 .9,1.4 .9-2.3 .9,1.7 .9,.1 .4-3 .5,2 .9,2.4 .9,5.8 .9-.8 .9,1.9 .9,3.1 .9,1.7 .5-.1 .4-1.4 .9,.4 .9,3.1 .9-1.7 .9-.2 .9-.6 .9,1.7 .9,.2 .9-1.3 .9,1.7 .9-2.4 .9,.3 .9,1.4 .9-.4 .9,1.1 .9-2 .9-.1 .9,1.4 .9-.5 .9,.9 .9-.3 .9,.1 .9,1.4 .9,.1 .9-1.5 .9,1.1 .9-.2 .9,1.9 .9-2.1 .9,1.8 .9-2.5 .9,2.4 .9,1.3 .9-1.7 .9,1.4 1.1-3.6 .7,2.1 .9-.5 .9-.6 .9-1.7 .9,2.6 .9-3.2 .9,3.9 .9-.7 .9,.8 .9-1.4 .9-1.2 .9,.1 .9,.7 .9,1 .9-.1 .9,1.7 .9,.5 .9,1.5 .9-4.4 .9,2.3 .9,1 .9-.6 .9-1.7 .9,.9 .9,.1 .9,.6 .9-.5 .9-.6 .9-.5 .9,.6 .9,2.3 1.2-2.9 .6,1.9 .9,1.5 .9-2 .9,2.2 .9-3.3 .9,2.3 .7-2 1.1-1.6 .9,2.5 .9,2.8 .9-2.7 .9,1 .9-1.9 .9,.6 .9,1.2 .9-.9 .9,.8 .9,1.3 .9-2.8 .9,.9 .9,1 .9,2.4 .9-3.3 .9-.5 .9,.7 .9,2.2 .9-3.3 .9,.2 .9,.6 .9,1.1 .9,2.1 .9-5.3 .9-.2 .9,2.3 .9,.4 .9-3 .9,1.9 .9,2.1 .9-2.3 .9,1.4 .9-.3 .9,.1 .9-.6 .9,0 .9,1.3 .9-2.6 .9,1.1 .9,1.3 .9-1.8 .9,.4 .9,.2 .9-.4 .9,3.5 .9-1.9 .9,1.7 .9-1.2 .9-1.1 .9-.1 .9,.7 .9-.5 .9,1.2 .9-2.8 .9,1 .9,.6 .9-1.2 .9,.1 .9,1.2 .9,.3 .9-.9 .9,.3 .9-.7 .9,.7 .9-1.4 .9-1.8 .9,1.4 .9,.4 .9-.4 1-.9 .8,1.7 .9-.7 .9-.1 .9,1.6 .9-2.4 .9,.8 .9-1.8 .9,.9 .9-.9 .9-2.2 .7-.7 1.1-.4 .9,3.6 .9-.9 .9,6.1 .9-.4 .9-1.6 .8-.6 1,4.2 .9-3.1 .9,1 .9-1.9 .9,1.2 .9-.5 .9,1.6 .9-.6 .9,2.1 .9-2.8 .9,2.3 .9-1.6 .9,.7 .9-2.9 .9-.2 .9,3.5 .9-2.3 .9,1 .9-.3 .9-.4 .9,1.8 .9-2.1 .9,.2 .9,2.4 .9-2.3 .9,1.4 .9-.3 .9,1.5 .9-1.5 .9-2.9 .9,1.7 .9,.3 .9,1.6 .9-1.2 .9-.9 .5,1.3 .4-1.9 .9-1.3 .9-2.9 .9-1.7 .9-3.5 .9-2 .9-3.9 .6-1 1.2-25 .9-17 1.2-22.4 .6-16.1 1-20.8 .8,21.8 .9,22.4 .5,7.6 .4,13.1 .9,13.7 .9,20.1 .4,6 .5,2.1 .9,1.2 .9,1.3 .9,1.7 .9,2.8 .9,4.1 .9-.3 .5-1.9 .4,.6 .9-1.3 .9,1.1 .9-7.8 .9-2.2 .9-1.9 .9-2 .9-7.6 .9-2.5 1.1-8.6 .7,5.5 .9,7.2 .9,1.6 1,6.4 .8,4.4 .9,.1 .9,1.2 .9,2.5 .9,3.7 .9-.9 .9,3.1 .8,.5 1,.6 .9,2.6 .9-1.3 .9-.7 .9,1.3 .9-1.6 .9-.3 .9,3 .9-.7 .9-1.7 .9,2.1 .9,1.4 .9-1.6 .9,0 .9-2.1 .9,1.1 .9-2 .9,3.5 .9-1.5 .9,1.9 .9-2.8 .9,2.4 .9-3 .9,.8 .9,1.1 .9-.2 .9,.4 .9-2 .9,3.8 .9,.1 .9,1 .9-.2 .9-2.5 .9,.8 .9,2.6 .9-4.4 .9,1 .9-.7 .9,2.9 .9-1.9 .9-1.4 .9,.5 .9-.8 .9-1.4 .9-.2 .9,2.6 .9-.8 .9,1.4 .9-.9 .9,1.7 .9,1.6 .9-3.5 .9-.1 .9,2.8 .9,1.8 .9-4.4 .9-.7 .9,2 .9,.4 .9,1.3 .9-2.7 .9,1.6 .9,.1 1-1.9 .8-1.7 .9,1.5 .9-1 .9-3.1 .9,2.2 .9-1.6 .9-.9 .9-.9 .9-.9 .9,1.8 .9,1.5 .9,0 .9-2 .9,3.5 .9,.7 1.1,1 .7,1.8 .9-3.2 .9,3.4 .9-2 .9-1.3 .9,.5 .9,4 .9-.2 .9-1.8 .9,1.7 .9,.8 .9-3.5 .9,.5 .9,.8 .9-.9 .9-.9 .9,3.1 .9-1.1 .9,.6 .9,2.1 .9-1.7 .9,2.6 .9-3.2 .9-.1 .9,.2 .9,1.2 .9-.8 .9,.3 .9-2.4 .9,.6 .9,.6 .9,1.2 .9,.8 .9-5.1 .9,2.9 .9-1 .9,.7 .9,.3 .9-1.4 .9-.6 .9,3 .9-.3 .9-1 .9-.1 .9-.3 .9-.8 .9,1.9 .9-1.3 .9-1.2 .9,1.3 .9,3 .9-1.6 .9,.1 .9-.4 .9,.9 .9-.7 .9-2.9 .9,1.4 .9-.2 .9,1 .9-.1 .9-2 .9,4.1 .9-1.2 .9-2.7 .9,3.5 .9-1.1 .9-.3 .9-1.2 .9,.4 .9-1 .9-1.5 .9,1.4 .9,2 .9,.5 .9,.7 .9-.8 .9-1.9 .9,4 .9-2.3 .9-1 .9,1.2 .9-1.2 .9,1.7 .9-2.2 .9,3.3 .9-2.9 .9-.5 .9-.2 .9-2.2 .9,1.5 .9,.5 .9,.7 .9-2.2 .9,2.4 .9,1.4 .9-1.8 1.1,.4 .7-2.4 .9-5.5 .9-2.9 .9-1.8 .9-5.1 .5-3.9 .4-19.6 .9-35.5 .9-42.8 1-46.3 .8-26.4 .9-31 .6-19.5 .3,13.6 .9,42.7 .9,37.2 .4,15.9 .5,16.3 .9,25.9 .9,26.6 1,29.2 .8,2.2 .9,10.5 .9,5.4 .9,6.4 .9,6.9 .4,2.6 .5,.4 .9-.6 .9-1.4 .9,2.3 .9-1.4 .9-.1 .9,2.1 .9,.1 .9,1.7 .9-4.3 .9,3.7 .9,.2 .9-.4 .9,1.8 .9-3.1 .9,2.1 .9-1.1 .9,.8 .9-1 .9,1.3 .9,.9 .9-.7 .9,.7 .9-1.7 .9,2.5 .9-3.4 .9,.9 .9,.6 .9-1.4 .9,1.1 .9-.4 .9,2.3 .9-1 .9,0 .9-1.8 .9,2 .9,.7 .9-.5 .9-2.2 .9-.3 .9,.8 .9-.1 .9-1.5 .9,3.9 .9-2.1 .9,.3 .9-.8 .9,.5 .9,1.7 .9-3.8 .9-.2 .9-.4 .9,.3 .9,2.5 .9-2.4 .9,.2 .9-1.5 .9,1.9 .9,1.1 .9-1.1 .9,.2 .9,.8 .9-.2 .9-.9 .9-1.1 .9-1.2 .9,3.6 .9-3.1 .9,2.6 .9-1.5 .9-.6 .9,2.7 .9-1.7 .9,2.5 .9-2.9 .9,2.3 .9,.9 .9-3.2 .9,3.1 .9-1.9 .9-3.5 .9,4.2 .9,.1 .9-2.5 .9,0 .9,.8 .9-3.2 .9,2.7 .9,1.3 .9-1.7 .9,1.9 .9,1.1 .9-4.9 .9-.6 .9,1.2 .9,1.2 .9,0 .9-1.6 .9-.7 .9,1 .9,3.2 .9-3.3 .9,.6 .9,1.8 .9-1.3 .9-1.6 .9,2.1 .9-1.1 1-1.3 .8,.8 .9,2 .9-.6 .9,1.3 .9,1 .9,.5 .9-3.4 .9,2.2 .9-.2 .9,.9 .9,.4 .9,.3 .9-1.5 .9-.9 .9,1.9 .9-.5 .9,3.4 .9-2 .9-.5 .9,1.2 .9-1.4 .9,.1 .9,.3 .9,.9 .9,.3 .9-1 .9-.4 .9-1 .9,.7 .9-.5 .9,2.2 .9-1.6 .9,.4 .9,.3 .9,.7 .9-1.6 .9,.7 .9-.8 .9-.9 .9,2.7 .9-.8 .9-2.5 .9,.5 .9,1.6 .9-1.6 .9,0 .9,2.6 .9-2.1 .9,0 .9,.9 .9-1.1 .9,.3 .9,.3 .9,.6 .9-1.7 .9,2.3 1.1-.9 .7-.3 .9-5 .9-4.2 .9-3.6 .9-3.3 .5-1.1 .4-1.9 .9-1.3 .9-3.2 .9-3.5 1.1-.9 .7,1.9 .9,5.4 .9,5.6 .9,3.8 .4-.1 .5,1.1 .9,2.4 .9,.3 .9,.3 .9,1.4 .9-3.2 .9,3.1 .9-.1 .6,1.4 .3-.7 .9-2.7 .9-2.5 .9-4 .9-3.6 .9-4 .9,5.2 .9,2.3 .9,1.1 .9,5.1 1.2,5.2 .6-1.3 .9,2 .9,1.3 .9-1.6 .9,.5 .9,0 .9-1.1 .9,1 .9,.4 .9,.8 .9,.1 .9,2.3 .9-1.2 .9,1.3 .9-2.3 .9,1.9 .9,1.3 .9,1 .9-1.1 .9,.9 .9,.2 .9-1.1 .9-.2 .9,.9 .9-1.8 .9-.9 .9,1.4 .9,1.7 .9-3.5 .9,4.2 .9-1.6 .9,.8 .9-1.2 .9,.6 .9,2.4 .9-.4 .9-1.7 .9-1.4 .9-.1 .9,1.7 .9-2.8 .9-.2 .9,.5 .9,1.1 .9-3.2 .9,1.2 .9,0 .9,.1 .9,0 .9,1.5 .9,.6 .9-1.9 .9,4.1 .9-2 .9,0 .9-1.4 .9-.3 .9-2.7 .9,2.9 .9,1.3 .9,.2 .9-1.4 .9-2.1 .9,1.6 .9,.7 .9,2.1 .9-3.5 .9,2.3 .9,.6 .9-.5 .9-1 .9-3.3 .9,4.1 .9-.7 .9,.3 .9-1.5 .9,.4 .9,2.2 .9-1.9 .9,.4 .9-.8 .9,2.1 .9-3.2 .9,1.3 .9,1.4 .9-.6 .9,1.3 .9-.8 .9,1.3 .9-2 1.2-.7 .6,.1 .9-2.6 .9,4.2 .9-3.5 .9,2.4 .9,.7 .9,.2 .9-.9 .9-1.2 .9-1.3 .9,3.3 .9-.9 .9,1.8 .9-2.4 .9,1.5 .9-1.4 .9,1.1 .9-.7 .9,.1 .9-2.3 .9,.8 .9,.9 .9,1.9 .9-1.6 .9-1.7 .9,3.4 .9-1.3 .9,.9 .9-2.6 .9-2.7 .9,3.5 .9-.4 .9,2 .9-2.2 .9,.7 .9-1.6 .9,1.1 .9-1.1 .9,1.9 .9-.7 .9-.2 .9-.7 .9,.6 .9,.5 .9-1.6 .9,1.9 .9-1.5 .9,1.4 .9,1.5 .9-1 .9-2.8 .9,3.4 .9-2.1 .7-.3 1.1-4.6 .9-4.4 .9-2.3 .9-5 1-1.2 .8-15.4 .9-19.9 .9-14.5 .6-11 1.2-.7 .9-.2 .9,.3 .9-.4 1-1.3 .8-22.8 .9-24.3 .8-23.1 1,16 .9,11.3 .9,11.5 .4,5.6 .5,5.8 .9,9.8 .9,9 .9,10.2 .7,6.8 1.1,14.9 .9,13.7 1.2,18.5 .6,2.2 .9,2 .9,1.1 .9,1.7 .9-.6 .9,3.5 .9,.1 .4,1.9 .5-2.5 .9-7.1 .9-4.6 .9-1.8 .9-9.2 .7-3.2 1.1-6.6 .9-5.2 .9-1.9 .9-7 .4-1.5 .5,3.3 .9,3.7 .9,10.8 .9,5 .6,5.1 1.2,7.6 .9,3.3 .9,5.4 .9,5.2 1,6.4 .8-2.9 .9,1.2 .9-1.3 .9,2.9 .9,1.1 .9-.5 .9,3.5 .9-.4 .9,2 .9-1.1 .9,2.7 .9-2.8 .5,1.7 .4-.4 .9-1.2 .9,2.2 .9-.7 .9-2.4 .9,1 .9-1 .9,.4 .9-.2 .9-1.1 .9,1.2 .9,.5 .9-.9 .9-.3 .9,2.2 .9-1 .9,3 .9-.5 .9-3.9 .9,1.4 .9-3.1 .9,1.6 .9-.6 .9,.2 .9-1.3 .9,2.6 .9,.1 .9-1.1 .9,.5 .9,1 .9,.5 .9-3.2 .9,3.7 .9-4.8 .9,1.5 .9,.4 .9,3.3 .9-1.1 .9-.1 .9,1.3 .9-1.5 .9-.6 .9,1.7 .9-1.6 .9-1.3 .9-.3 .9,2.5 .9,1.9 .9-1.1 .9-1.3 .9,1.1 .9-2.8 .9,2.1 .9-.8 .9,2.4 .9-2.5 .9,2.4 .9-1.2 .9-.4 .9,.6 .9-1.7 .9,1.9 .9-2.4 .9-2.3 .9,4.3 .9,0 .9-.3 .9,.9 .9-.4 .9-2.3 .9-1.6 .9,1.1 .9,1.1 .9,1.2 .9-2.4 .9,1.2 .9,3.7 .9-3 .9-.8 .9-.4 .9,2.9 .9-.9 .9-.4 .9,1.3 .9-.8 .9,.7 .9-1.5 .9,.4 .9-.3 .9,.1 .9-1.5 .9,.6 .9-.1 .9-.1 .9,.6 .9,2 .9-1.5 .9-.3 .9,.2 .9,1.4 .9-3 .9,2 .9,1.4 .9,0 .9-.9 .9,0 .9-2.6 .9,1.5 .9,1 .9,.3 .9,.3 .9-4.2 .9,1.7 .9,1.1 .9-1.4 .9,.6 .9,1.3 .9-.2 .9-.1 .9,.2 .9,.6 .9-1.2 .9-1 .9,1 .9,.5 .9,.9 .9-1.5 .9,.6 .8,.2 1,1.2 .9-1 .9-1.1 .9,.9 .9-1.3 .9-.4 .9,1.7 .9-1 .9-.1 .9,1 .9-1.6 .9,1 .9-3.3 .9,2.1 .9,2.8 .9-2.7 .9,.9 .9-.7 .9-.2 .9,1.7 .9-.3 .9,1.5 .9-2.3 .9,1 .9-.9 .9-.2 .9,1.4 .9-2 .9,.1 .9,4 .9-3 .9,0 .9,1 .9-1.8 .9,1.3 .9-1.7 .9,.8 .9,.2 .9,2 .9-1.1 .9,1.6 .9-.5 .9-2.5 .9,.7 .9-1 .9-.2 .9,2.3 .9,.4 .9-1.6 .9,.4 .9-.4 .9-.6 .9-.3 .9-1.6 .9,2.1 .9-1.8 .9-.3 .9,1.5 .9,1 .9,1 .9-1.1 .9,.1 .9-.7 .9,1.4 .9-.6 .9-.4 .9-.9 .9,2.9 .9-1.7 .9,.3 .9-.7 .9-.2 .9,1.2 .9-2.4 .9,1.3 .9,0 .9,1.1 .9-1.6 .9,1.8 .9-3.9 .9,3.3 .9-1.6 .9,.8 .9-1.3 .9,2.1 .9-1.5 .9,1.1 .9-1.6 .9,2.4 .9-.8 .9-2.6 .9,2.1 .9-.3 .9,1.1 .9-1.9 .9,.8 .9,1.9 .9-2.6 .9,3.3 .9-2 .9-.9 .9-.9 .9-.9 .9,3.1 .9-1.7 .9-.4 .9,2.4 .9-.8 .9-.6 .9-1.9 .9-.4 .9,3.5 .9-1.3 .9-.2 .9,2.6 .9-2.4 .9,.4 .9,2.1 .9-2 .9-1.2 .9-.4 .9,2 .9-2.8 .9,2.6 .9,1.5 .9-2 .9,1.4 .9-.8 .9,1 .9-1.8 .9-1.4 .9,1 .9-.9 .9-1.5 .9,1 .4-.5 .5-1.1 .9,.1 .9-4.9 .9,1.3 .9-2.1 .9-3.4 .9,.5 .5-2.4 .4-4.7 .9-6.5 .9-6.2 .9-9.8 .9-4.1 .8-6.6 1,5.9 .9,7 .9,1.6 .9,5.2 1.1,3.6 .7,5.3 .9,3.9 .9,0 .9,7.4 .9,3.9 .5-2.8 .4,1.3 .9,3.1 .9,.5 .9,1.9 .9-1.5 .9,2.4 .9-2.6 .9,3.4 .9-.9 .5,1 .4-3.1 .9-.2 .9-.1 .9-4.8 .9-1 .9-2.3 .9-3.8 .6-.2 .3-2 .9-7.5 .9-8.2 .9-1.4 .9-7.6 .9-5.6 .9,4.6 .9,4.2 .9,3.3 .9,6.7 1.2,7 .6,3.2 .9,4.2 .9,1.2 .9,6.4 .9,1.8 .6,2.7 .3-1.8 .9,2.1 .9-1.2 .9,2.4 .9-1.9 .9,2.2 .9,.6 .9,1.6 .8,.3 1,.4 .9-.4 .9,1.7 .9-.7 .9-1 .9,2.1 .9-1.6 .9,1 .9,.4 .9,.2 .5,1.1 .4-2.9 .9,3.6 .9-3.8 .9,3.1 .9-.2 .9-2.7 .9,2.1 .9-1 .9-1.1 .9,3.8 .9-.5 .9-.7 .9,1.7 .9-1.7 .9-.2 .9,1.4 .9-1.8 .9,1.6 .9,.3 .9-.7 .9-.4 .9,0 .9-.6 .9-1.2 .9-3.4 .9,3.5 .9-.9 .9,3.4 .9-1.8 .9,1.5 .9,.7 .9,.1 .9-1.8 .9,3.6 .9-1.2 .9-1.2 .9-2.4 .9,4 .9-2.4 .9,.2 .9-2.1 .9,3.1 .9-.4 .9-2.6 .9,2 .9-3.8 .9,2.6 .9-.6 .9-.1 .9-1 .9,1.2 .9,1.7 .9,.1 .9-1.5 .9,.1 .9-.5 .9,2 .9-1.4 .9-.7 .9-1.8 .9-.1 .9,.3 .9-.8 .9,1.6 .9,0 .9-.6 .9,.7 .9,.6 .9-2.6 .9,2.8 .9-4.1 .9,5.6 .9-3.9 .9,1.6 .9-.5 .9,.8 .9-1.1 .9,1.7 .9-3.1 .9,3 .9-.8 .9,.6 .9,.5 .9-2.1 .9,1.4 1-.1 .8,.2 .9-.2 .9,.2 .9-1.8 .9-1.6 .9,.1 .9-.3 .9-.5 .9,1.1 .9-3.7 .8,.3 1-2.5 .9,.6 .9,1.6 .9-.2 .9-2.4 .9,1.4 .9-.3 .9,.7 .9-.6 .9-.7 .5-2.4 .4,.6 .9,1.2 .9-1.8 .9,1.2 .9-3.5 .9,.5 .9-3.7 .9-1.6 .4,1.6 .5,2.7 .9-.4 .9,.3 .9,2.1 .9,1.8 .9,1 .7,.6 1.1-.3 .9,0 .9,1.3 .9,.8 .9-.3 .9,4.1 .9-.3 .9-.6 .9,2.9 .9,3.4 .5-2.5 .4,.1 .9,.7 .9-2.7 .9,.7 .9-.3 .9,2 .9-3.1 .9,2.4 .9-1.4 .9-.5 .9-.5 .9,2 .9-2.7 .9-.5 .9,2.1 .9-.7 .9,.7 .9-.7 .9,.1 .9,0 .9-2 .9-1 .9,5.5 .9-3.7 .9,2 .4-1.9 .5,1.4 .9,.7 .9,1.9 .9-1.9 .9-1.5 .9,0 .9,2.3 .9,.4 .9,1.6 .9,.1 .9-4.1 .9,1.8 .9-1 .9,2 .9,.7 .9-2.4 .9,3.3 1.2,0 .6-1.5 .9-.1 .9,3.2 .9-2.3 .9-1.2 .9,2.4 .9,1 .9-1 .9-3.1 .9,.7 .9,1.4 .9,.6 .9,.2 .9-1.3 .9,2.2 .9-1.1 .9-2.6 .9-.1 .9,.6 .9-2.1 .9,1.7 .9,.4 .9-1 .9,1 .9,1.4 .9-2.8 .9,1.3 .9-1.5 .9,2.2 .9,.4 .9-1.3 .9-.7 .9,1.8 .9-1.2 .9-.9 .9-.3 .9,.9 .9,2.5 .9-1.7 .9,.6 .9-1.1 .9,.6 .9,.3 .9-2.7 .9,2 .9,.3 .9,.4 .9-.2 .9-3.6 .9,3.1 .9-1.8 .9,2.8 .9-2.6 .9,.5 .9,.2 .9-2.9 .9,2.2 .9-1.8 .9,2.9 .9-2 .9-.9 .9,3.2 .9-1.7 .9-.8 .9,1.2 .9,0 .9,.8 1-1.6 .8,1 .9-2.5 .9-.3 .9-2.9 .9-3.7 .9,.7 .9-2.8 .9-1.1 .9-4.1 .9-2.9 .9-.9 .9-3.9 .9-7.5 .9-1.6 .9-3.8 .9-3 .7-5.7 1.1,3 .9,5.5 .9,2.6 .9,3.6 .9,3.3 1.1,6.7 .7,.3 .9,5.6 .9,2.5 .9,1.1 .9,5 .5,1.7 .4-2.7 .9-4 .9-2.2 .9-5.1 .9-1.8 .8-1.5 1-7.7 .9-3.6 .9-.4 .9-5 1.2-3.5 .6,3.4 .9,3.1 .9,4 .9,2.3 .9,4.2 .6,2.7 .3,2.6 .9,1.2 .9,3 .9,3 .9,1.6 .9,1.2 .9,2.7 .7-1 1.1,4.7 .9,1.9 .9,2.3 .9,.1 1,4.5" fill="none" stroke="#000" stroke-width="6" stroke-linejoin="round" stroke-linecap="round"/>
<path d="M269.4,2580.8l.8-2.3 .8,2 .8-4.1 .8,6 .8-5.4 .8,4.2 .8-.2 .8-1.5 .8,9.3 .8-7.6 .8,3.2 .8,2.2 .8-5.2 .8,7.4 .8-3 .8,2.9 .8-4.5 .8-.1 .8,6.1 .8-1.8 .8-1.2 .9,1.1 .7,.3 .8-3.6 .8-3.3 .8,1.5 .8,.6 .8-1 .8,3.8 .8,.4 .8,2.1 .8,.9 .8-2 .8,1.1 .8,1.2 .8-2.5 .8,1.1 .8,1.9 .8-1.5 .8-.2 .8,1.2 .8,4.1 .8-2.3 .8-1.5 .8-.7 .8,1.3 .8,5.3 .8-12.9 .8,9.2 .8-1.4 .8,2 .8-4.4 .8,8.9 .8-2.7 .8-2.8 .8,2 .8-1.8 .8,1.9 .8-1.3 .8,2.8 .8-2.1 1-1.5 .6,1.9 .8-.1 .8-.3 .8-3.8 .8,7.1 .8-5.1 .8,.9 .8,2.3 .8,1.3 .8,1.9 .8-7.8 .8,8.2 .8,.5 .8-4.7 .8,1.5 .8-.1 .8,.3 .8-2.1 .8-.6 .8,3.4 .8,1 .8,3.1 .8-6.4 .8-2.1 .8,5.6 .8-1.4 .8,2.1 .8-.8 .8-1.9 .8,1.2 .8,3.6 .8-.5 .8-3.3 .8,4.2 .8-5.3 .8,2.5 .8,1.5 .8-3.9 .8,.6 1.1,3.1 .5-.1 .8-1.1 .8-.7 .8-1.1 .8,1.3 .8,8.6 .8-8.6 .8,6.2 .8-4.4 .8,5 .8,.4 .8-1.7 .8-3.5 .8-1.8 .8,6.5 .8-4.4 .8-.6 .8,6.9 .8,1.3 .8-3.7 .8-.9 .8-1.7 .8,2.8 .8-1.5 .8-2.7 .8,2.7 .8,2.3 .8-4.1 .8,1.9 .8,3 .8,4.9 .8-2.9 .8-.3 .8,5 .8-6.4 .8,.6 .8,3.2 .8,0 .8-1.2 .8-6.9 .4,7.7 .4-.2 .8-1.2 .8,1.3 .8,2.2 .8-3.1 .8-2.6 .8-1 .8,4.4 .8-1.6 .8,.3 .8-1.8 .8,4.1 .8,.5 .8-.1 .8-3.2 .8,4.9 .8-1.2 .8-7 .8,7.6 .8-7 .8,2.3 .8,5.9 .8-.9 .8-2.7 .8-.7 .8,3.5 .8-5 .8,5.2 .8-1.8 .8,2.4 .8-1.6 .8-2.2 .8,3 .8-1.8 .8-2.4 .8-.3 .8,.8 .8,2.6 .8,2.2 .8-1.7 .5-2.3 .3,3 .8,2.3 .8,1.2 .8-4.6 .8,3.7 .8-1 .8-3.7 .8,1.8 .8,2.1 .8,.5 .8,.2 .8-1.4 .8,2.2 .8-2.8 .8-1.1 .8,5 .8-2.8 .8,3.7 .8-3.8 .8,5.6 .8-5.8 .8-.1 .8,5.3 .8,2.5 .8-6.1 .8,5.2 .8,.2 .8-2 .8-1.8 .8-4.7 .8,2.1 .8,2.1 .8,2.8 .8-1 .8-1.8 .8,2.8 .8-4 .8,5.5 .8-3.2 .8,5.5 .6-2.3 .2-2.5 .8,.5 .8-2.8 .8,4.8 .8-2.5 .8,2.5 .8,2.9 .8-2.5 .8,.8 .8,4.5 .8-5.6 .8,0 .8-2.7 .8-1.9 .8,2.5 .8-2.6 .8-4.4 .8,9.4 .8-1 .8-3.5 .8,6.4 .8-3.3 .8-.8 .8-1.9 .8,4.8 .8-4 .8-.6 .8-.3 .8-.5 .8-1.3 .8,2.2 .8,0 .8,3.2 .8-5 .8,4.8 .8-3.2 .8-.4 .8,1.4 .8,1.1 .8,.8 .6,1.2 1-.5 .8-4.4 .8,1.7 .8,5.7 .8-3.7 .8-5.3 .8,5.3 .8,4.4 .8-1.3 .8-2.9 .8,.2 .8,.7 .8-1.6 .8-1.4 .8,5.1 .8-4.8 .8,3 .8-6.3 .8,.9 .8-.9 .8,3.9 .8-3.3 .8-.6 .8-1 .8,3.6 .8,1.7 .8-3.8 .7,3.7 .9-2.7 .8-3.9 .8,.1 .8,1.2 .8-11.2 .8,5.6 .8,.5 .8-5.5 .8,.1 .8-2 .9-3.1 .7-8.8 .8-7.2 .8-10.3 .8-11.4 1.1-10.8 .5-26.4 .8-29.7 .8-30.5 .8-28 .8-51 .8-40.4 .9-51.4 .7,.6 .8-5.1 .8,1.5 .8,48.2 .8,46.2 .9,54.9 .7,26.9 .8,23 .8,29.2 .9,30.4 .7,6.2 .8,11.1 .8,5.2 .8,5.6 .8,12 1,6.7 .6,3.9 .8,2.5 .8,4.4 .8,2.8 .8,3.9 .8,1.6 .8,2.9 .8,5.1 .8,1.7 .8,.4 .8-1.1 .8,4.7 .8-5.8 .8,.9 .8-.7 .8,3.2 .8-4.2 .8-1.2 .8,5.6 .8-1 .8-.2 .8-2.4 .8,5 .8-2.3 .8-1.8 .8,.7 .8-.7 .8,5.6 .8-3.6 .8-3 .8,1.7 .8,4.5 .9-.5 .7-3 .8-1.1 .8,2.5 .8,1.6 .8-1.5 .8-1 .8,1.5 .8-1.2 .8-1.1 .8-.2 .8,.5 .8,.8 .8,2.1 .8-.5 .8-2.2 .8,4.4 .8-5.2 .8,5.4 .8-5 .9,2.3 .7,3.3 .8,1.4 .8-3.2 .8,2.8 .8-2.6 .8,2.3 .8,1.2 .8-2.6 .8,4.8 .8-2.2 .8,1.4 .8-2.9 .8,1.7 .8,.7 .8,1.3 .8,0 .8-2.9 .8-.3 .8-.4 1,8.2 .6-2.6 .8-.5 .8-4.3 .8,4.1 .8-4.5 .8-.7 .8-2.1 1-2.4 .6,2.7 .8-3.8 .8-3.2 .8-6.3 .8-4.4 .8,4.8 .8,6.9 .8,5.1 .8-3.4 1,3.8 .6-2.5 .8,2.1 .8,4.7 .8-1.4 .8,3.2 1,4.5 .6-3.5 .8-2.3 .8,6.8 .8-3.1 .8-.8 .8,.3 .8-.4 .8,2.1 .8-5.4 .8,3.1 .8-2.9 .8,2.7 .8,.8 .8-1.2 .8,4.9 .8-3.7 .8-2.2 .8,2.6 .8,0 .8-.8 .8-.6 .8-.3 .8,3.2 .8-6.1 .8,6.1 .8-2.7 .8,1.2 .8-1.8 .8,5.6 .8-8.2 .8,1.9 .8,1.9 .8,2.9 .8-5.4 .8,4.5 1.1,.5 .5-5.4 .8-5 .8,6.9 .8-3.1 .8-1.3 .8,2.4 .8-1.3 .8-4.1 .8,.2 .8-3 .3,3.1 .5-6.4 .8-6.4 .8-10.5 .8-4.7 .8-6.9 .8-7 .3-2.9 .5-11.2 .8-3.7 .8-13.8 .8-5 .4-6.6 .4,4.7 .8,7.4 .8,13.6 .8,1.9 1,15.1 .6,7.8 .8,11.4 .8,3.8 .8,5.2 .8,6.4 .4,3.9 .4-.7 .8,8.1 .8-1.7 .8-2.4 .8,5.9 .8,.3 .8,3.5 .8-.1 .8-2 .8,4.8 .4,2.4 .4-2.3 .8,.1 .8-3.4 .8,1.4 .8,1.3 .8,2.1 .8-3.3 .8,.1 .8,6.8 .8-7.3 .8,2.4 .8-2.1 .8,3 .8,2.5 .8,.3 .8-.7 .8,1.8 .8-2.9 .8,1.3 .8-4.5 .8,4.4 .8-3.4 .8,5.5 .8-5.3 .8,3.1 .8,.3 .8-.1 .8-1.2 .8,3.5 .8-2.8 .8-3.9 .8,2 .8,4.8 .8-5.1 .8,6.8 .8-5.5 .8-2.5 .8,6.6 .8-4.6 .8-6.9 .5,9.1 .3-3 .8,3.4 .8,1 .8,.1 .8-2.3 .8-2.7 .8,7.6 .8-3.3 .8,.3 .8-3.9 .8,2.4 .8,1.1 .8-1.8 .8,1.1 .8-3.6 .8-1.2 .8,4.6 .8-.8 .8,3.6 .8,1.5 .8-3 .8,.1 .8,4.2 .8-.9 .8-4.3 .8,6.5 .8-3.7 .8-1.3 .8-2.5 .8,2.2 .8,2.5 .8-1.2 .8,2.7 .8-1.5 .8-4.4 .8,2 .8-.5 .8-.2 .8-.4 .8,.5 .8-.5 .8,2.1 .8,1.2 .8,1.9 .8-4.4 .8-.3 .8-6.1 .8,7.3 .8,.6 .8-1.4 .8,.7 .8-2 .8,.5 .8-1 .8,.7 .8-2.1 .6,8 1-.9 .8-1.5 .8-.6 .8,4.9 .8-2 .8-3 .8,3.5 .8-2 .8-2.6 .8-3.3 .8-7.2 .8-.3 .8-5.9 .8,2.7 .8-4 .8-8.3 .8,1.5 .8-8.9 .8-11.2 .7-1.8 .9-11 .8-2.6 .8-6.2 .8,6 .8,12 .8,11.4 .8,7.6 .8,.4 .8,8 .8,5.2 .8,3.5 .8,6.9 .9,.6 .7-3.8 .8,10.4 .8-5.5 .8,2.9 .8-2.5 .8,5.9 .8-3.7 .8,3.7 .8,.5 .8,3.1 .8,1 .8-1.8 .8,.7 .9-1.5 .7-.2 .8-1.7 .8,3.8 .8-6.5 .8,7 .8-2.2 .8-.6 .8,2.6 .8-7.2 .8,1.7 .8,3.6 .8-1.5 .8,2.2 .8-3 .8-2.3 .8,3.6 .8-.1 .8,.4 .8-.3 .8,4.6 .8-7.3 .8,1 .8,4 .8-5.2 .8,2.2 .8,2.2 .8-1.2 .8,.7 .8-.6 .8-4.6 .8,6.1 1,.5 .6-3 .8-3.6 .8-.3 .8-.1 .8-3.8 .8,1.1 .8,.7 .8,5 .8-2.5 1,3.7 .6,4.6 .8-8.3 .8,2.9 .8,4.6 .8-2.7 .8,4 .8-5.8 .8,.9 .8,5.5 .8-5.3 .8,3.2 .8-.4 .8,4.1 .8-5.5 .8,2.2 .8,2.6 .8,.6 .8-3.8 .8,1.9 .8-3 .8,6.5 .8-4.3 .8,.5 .8,2.8 .8-4.4 .8-1 .8,1.7 .8,1.8 .8-6.3 .8-.5 .8,5.6 .8-1.5 .8,.7 .8,4.8 .8-5.5 .8,.2 .8,3.9 .8-5 .8,2.2 .8-.9 .8,1.3 .8,.6 .8-3.7 .8,1.9 .8-.3 .8-1.6 .8,3.7 .8-2.8 .8-1.9 .8-1.2 .8,2.6 .8-1.2 .8,3.6 .8,1.5 .8-2 .8-.8 .8,1 .8,2.7 .8-2.2 .8,2.7 .8-4.1 .8-4.3 .8,9.6 .8-2.2 .8-2.8 .8,1.2 .8,.2 .8,3.8 .8-4.8 .8,1.4 .8-2 .8-.4 .8,3.2 .8-.2 .8-2.3 .8,7.1 .8-12.5 .8,10.3 .4-6.4 .4,.9 .8,3.1 .8,1.6 .8,1.3 .8-6.5 .8,7.8 .8-7.3 .8,4.1 .8,2 .8-3.4 .8-.8 .8,2.8 .8-2.5 .8-3.5 .8,5.4 .8,.6 .8-.5 .8,.7 .8,2.4 .8-.1 .8,.3 .8-1.8 .8-5.3 .8,5.4 .8,.1 .8,.6 .8,1.9 .8-6.9 .8-4.3 .8,9.5 .8-.4 .8-1.5 .8-3.4 .8,6.7 .8-5 .8,6 .8-4.7 .8,2.1 .8-8.2 .8,8.2 .8-2.9 .8-1.8 .8,2.1 .8,7.1 .8-8.9 .8-3.5 .8,6.7 .8-4.8 .8,2.3 .8,4.6 .8-1.5 .8-.3 .8,1.3 .8-2.4 .8-3.2 .8,2.8 .8-.5 .8,.9 .8-.7 .8,1.3 .8,1.8 .8-3.7 .8,.7 .8,1.8 .8,2.3 .8-4.3 .8-4.2 .8,7.7 .8-7 .8,1.5 .8-.3 .8,3.2 .8-5.9 .8,6.6 .8-2.7 .8,4.5 .8-3.1 .8,6.8 .8-6.5 .8-.5 .6-1.6 .2-4.6 .8,9.9 .8-6.9 .8,3.8 .8,.8 .8,.3 .8-1.4 .8-1.7 .8,3.1 .8-1.7 .8-3.2 .8,1.2 .8,3.6 .8,.5 .8-8.6 .8,7.2 .8-1.1 .8,3.1 .8-2.4 .8,0 .8,3.2 .8,.4 .8-.4 .8-3 .8,2.1 .8,2 .8-4.7 .8-1.8 .8,3.6 .8-3.4 .8,4.6 .8-3.8 .8,1.8 .8,3.6 .8-6.1 .8,1.9 .8,1.5 .8,.1 .8-4.2 .8,5.6 .8-2.3 .8,.2 .8,.8 .8-.2 .8-1.7 .8,1.5 .8-1.5 .8-3.9 .8,.2 .8,1.2 .8-.3 .8,2.1 .8-4.4 .8,5.4 .8,1.4 .8,.2 .7-1.8 .9-4.8 .8,5.8 .8-8.5 .8-1.2 .8-.8 .8-5.6 .9-2 .7,3 .8,1.5 .8-4.6 .8,1.5 .7-.9 .9,2.4 .8-1.4 .8,7.5 .8-1.5 .8-.2 .7,.9 .9,5.6 .8-1.5 .8-1.8 .8,5.3 .8-.6 .8-.6 .8-2.9 .8,2.6 .8,1.4 .8-2.3 .8,9.1 .8-6.5 .8-1.8 .8,.1 .8,6.5 .8-3.4 .8,.2 .8-1.8 .8,3.6 .8-1.4 .8-3.3 .8,1.1 .8-2 .8,4 .8-1.6 .8,2 .8-1.2 .8,.6 .8-6.4 .8,2.9 .8-.7 .8-.2 .8,1.8 .8,4.6 .8-.4 .8,1.8 .8-2.8 .8-.5 .8-2.6 .8,.3 .8-.4 .8-1.8 .8,0 .8,3.6 .8,2.6 .8-6.2 .8-.4 .8,5.5 .8-3.1 .8-3.8 .8,3.6 .8-5.1 .8,6.4 .8-.9 .8-2 .8,3.6 .8-1.3 .8,3.9 .8-5 .8,2.2 .8-4.1 .9,2.9 .7,.2 .8,0 .8-.4 .8-5.8 .8,7.1 .8-.6 .8-5.3 .8-.4 .8,.1 .8-7.6 .8,1.8 .8,.4 .8-1.1 .9-1.4 .7-10 .8-2.3 .8-6.1 .8-8.6 .8-10.1 .9-8.7 .7-12.8 .8-14.5 .8-20.5 .9-16.1 .7-11 .8-15 .8-17.7 .9-18.7 .7,.3 .8-7.9 .5-.7 .3,10.3 .8,9.4 .8,5.8 .9,13.4 .7,18 .8,20.9 .8,21.8 1,20.7 .6,1.3 .8,16.8 .8,8.1 .8,10 .8,10.3 1,10.8 .6,.9 .8,4.9 .8,1.4 .8,2.6 .8,.1 .8,1.3 .8,.2 .8-2.2 .8,7.6 1-1.7 .6,.7 .8-3 .8,3 .8,7.8 .8-9.1 .8,2.6 .8,.5 .8-2.2 .8-2.3 .8,.5 .8,2.2 .8-1.6 .8-2.4 .8,1.4 .8,6.9 .8-1.3 .8-.3 .8,.4 .8-.6 .8-2.8 .8,6.6 .8-6.4 .8,1.6 .8,.3 .8,1.5 .8-3.9 .8-3.1 .8,.1 .8,1.3 .8,3.7 .8,1.7 .8-3.4 .8,0 .8,3.1 .8-1.5 .8-.9 .8-.7 .8,2.7 .8,2.7 .8,.5 .8-1.1 .8-3.8 .8,4.3 .8-7.8 .8,4.9 .8,.9 .8-3.4 .8-.4 .8,7.2 1.1-4.1 .5,.2 .8,4.2 .8-2.1 .8-4.8 .8,2.8 .8-.8 .8,2.7 .8,.9 .8-7.5 .8,2.2 .8,5.3 .8-3.7 .8-.4 .8-2.1 .8,3.1 .8-2.3 .8,2.3 .8,0 .8-1 .8-1.7 .8-.9 .8,1.5 .8,.1 .8,2.6 .8-.8 .8,.6 .8-2.5 .8,1.8 .8-.9 .8-1.1 .8-1 .8,7.5 .8-4.3 .8,1.9 .8-1.5 .8-3.4 .8,5.9 .8-2.2 .8-1.6 .8-2.5 .8,2.7 .8,2.5 .8,.9 .8-2.3 .8-.8 .8-.1 .8,2.1 .8-3.2 .8,2.5 .8-5.7 .8,9.2 .8-.9 .8-2.9 .8-.5 .8,2.6 .8-1.5 .8-1.6 .8,0 .8,.3 .8-2.5 .8,4.6 .8-5.8 .8,4.3 .8-.5 .8-4.2 .8,6.2 .8-5.4 .8,2.2 .8,.2 .8,.9 .8,.3 .8,3.6 .8-3.3 .8-.7 .8-.1 .8,.3 .8-2 .8,2.4 .8-1 .8,1.7 .8-1 .8-.4 .8-.5 .8-1.6 .8,2.5 .8,1.3 .8-3 .8,1.6 .8,1.7 .8-2 .8-.3 .8,1.6 .8,.1 .8,3.9 .8-3.6 .8,1.7 .8-1.9 .8,2.2 .8,1.2 .8-.5 .8-5.9 .8,3.3 .8-3.2 .8,2.6 .8-.6 .8-2.4 .8-.3 .8,1.2 .8,1.4 .8,2 .8,2 .8,1.9 .8-7.1 .8,3.2 .8-1 .8-.2 .8-3 .8,4.1 .8,.2 .8-3 .8,1.7 .8-2.5 .8-4.4 .8,4.6 .8,.9 .8-1.4 .8,3.4 .8,4.1 .8-4.7 .8-1 .8-3 .8,2.6 .8-.2 .8,3 .8-3.5 .8,.1 .8,.8 .8,5.6 .8-.8 .8-3.7 .8,8.7 .8-10.1 .8,.4 .8,3.6 .8-2.9 .8-1.8 .8-1.2 .8,3.1 .8-.7 .8,.4 .8-2.4 .8,5.6 .8-4.9 .8,3.3 .8,2.8 .8-7.6 .8,2.3 .8,0 .8,.6 .8-1.2 .8-2.3 .8,3.6 .8-2.2 .8,4 .8-3.5 .8-1 .8-.2 .8,.6 .8,1.8 .8,1.2 .8-4.4 .8,3.3 .8-4 .8,10.5 .8-6.1 .8-.4 .8-2 .8,4.5 .8,1 .8-4.3 .8,.6 .8-.1 .8,1.7 .8-3.7 .8,2.9 .8-1.2 .8,5.2 .8-7.3 .8,2.3 .8,.8 .8,1.9 .8-.9 .8-3.1 .8,1.1 .8,1.3 .8-5.7 .8,6 .8-4.2 .8,4.6 .8,1.7 .8-5.3 .8,.2 .8,1 .8-.8 .8,3.2 .8-.4 .8-6 .8,.1 .8,2.8 .8-1 .8,3.9 .8,1.6 .8-3.8 .8-2.8 .8,.7 .8,2.1 .8-.7 .8-.1 .8-.3 1,3 .6-2.3 .8-.4 .8,1.1 .8-7.8 .8,2.9 .8-1.7 .8-1.1 .8,1.5 .8-3.1 .8-.5 .8,8.4 .8-2.9 .8-3.2 .8-5.2 .8-.3 1-2.5 .6-4.2 .8-6.5 .8-6.4 .8-12.4 .8-1.6 1-10.7 .6-9.1 .8-16.1 .8-11.9 1-22.1 .6-3.5 .8-14.3 .8-11 .4-3.5 .4,3.6 .8,1.2 .8,16.7 .9,2.9 .7,13.1 .8,12.2 .8,11.3 .8,13.5 1.1,17.2 .5,3.4 .8,5.1 .8,7.7 .8,11 .8,3.8 1.1,7.4 .5,5.2 .8-3.7 .8,7.9 .8-1.6 .8-.5 .8-.1 .8,1.7 .8,1.5 .8,5.7 .8,3.7 .8-.7 1.1-1.5 .5,1.1 .8-6.4 .8,2.1 .8,1.1 .8,5.9 .8-3.7 .8,2.3 .8-.2 .8-3.5 .8,2.2 .8-2.7 .8-1.6 .8,3.2 .8,.1 .8,.4 .8,.5 .8-3.9 .8-.8 .8,2.9 .8-.1 .8,3.6 .8-2.3 .8-1.1 .8,2.7 .8-.8 .8-2.3 .8,4.9 .8-6.9 .8,3.7 .8,3.1 .8-2.8 .8,.6 .8-5.1 .8,3.8 .8,1.2 .8-3.7 .8,3.2 .8-1.3 .8,.2 .8,2.1 .8-.9 .8,1.9 .8-2.1 .8,4.6 .8-2 .8-4.5 .8,1.2 .8,3.6 .8,1.4 .8-5.3 .8,.8 .8-2.7 .8,4.5 .8-3.6 .8-1.3 .8,3.9 .8-9.1 .8,7.3 .8-3.4 .8,4.5 .4-2 .4-1.9 .8,1.2 .8-2.3 .8,5.1 .8-8.3 .8,3.9 .8-4.2 .8-5 .8-4.6 .8,3.8 .5-1.2 .3-5.9 .8,8 .8-6.4 .8-3.8 .8,1.1 .8-2.6 .5-2.2 .3-1.3 .8,.7 .8-6 .8,2.7 .8-.1 .8,7.9 .8-6.1 .8-1.6 .5,1 .3-.4 .8,5.4 .8-.4 .8,5.3 .8,2.3 .8,1.7 .5,1.5 .3-.3 .8,1.4 .8,5.2 .8,2.1 .8,2.9 .8,2.5 .5,2.2 .3-1.1 .8-1.4 .8,3.1 .8,.4 .8-4.9 .8,2 .8,.3 .8-2.6 .8,4.3 .8-1.8 .8,4.8 .8-5.1 .8,4 .8-3.4 .8-.4 .8,4.3 .8-1.1 .8,1.7 .8-1.2 .8-5.8 .8,7 .8-5.5 .8,1.7 .8-.5 .8,3 .8-.3 .8,0 .8,5.2 .8-7.3 .8,.3 .8-1.1 .8,6.7 .8-7.1 .8,2 .8-.4 .8,.6 .8,.5 .8-3.7 .8,3.3 .8,2.9 .8-5.6 .8,5.3 .8-3.2 .8,3.6 .8-3.1 .8-1.7 .8-.5 .8,7.4 .8-2.5 .8-3 .8,8.3 .8-7.4 .6-.2 1,5.1 .8-3.7 .8,3.2 .8-4.1 .8,3.4 .8-1.1 .8-.4 .8,1.5 .8-4.2 .8,.7 .8,1.3 .8-1 .8,.8 .8,1.2 .8-2.2 .8-.4 .8,3.3 .8,4.9 .8-5 .8-.3 .8-3.4 .8-1.5 .8,3.8 .8,2.7 .8-3.9 .8,2.4 .8-2.6 .8-1.6 .8,1.3 .8-2.1 .8,3.4 .8-1.7 .8,4.8 .8-.5 .8-3.4 .8,.7 .8-2 .8,3.3 .8,3.1 .8-5 .8-3.1 .8-.2 .8,1.9 .8,1.5 .8-1.2 .8-.8 .8,.8 .8,.8 .8-.2 .8-2.9 .8,1.3 .8-1.9 .8,3.4 .8-.9 .8,1.6 .8-1.5 .8-1.8 .8-.1 .8,5.8 .8-5.7 .8,3.5 .8-.9 .8-.2 .8,2.1 .8-3.4 .8,2.1 .8-1.2 .8,2.3 .8-2.4 .8-1.9 .8,2.7 .8-.1 .8-1 .8-2.8 .8,5.5 .8-4.8 .8,3 .8-.6 .8,3.6 .8-.2 .8,.5 .8-7.8 .8,4.8 .8-3.5 .8,4.1 .8,4.6 .8-5.9 .8,3.4 .8-8.3 .8,4.9 .8,3.3 .8-4.2 .8,.2 .8,.8 .8,2.8 .8-2.9 .8-1 .8-.7 .8,2.4 .8,1.4 .8-3.9 .8,3.2 .8-.6 .8,2.1 .8,2.6 .8-4.8 .8,0 .8-1.3 .8-1.3 .8-1.8 .8,3.1 .8-.2 .8,3.2 .8-3.1 .8,3.5 .8-2.4 .8-2.7 .8-.1 .8-5.4 .8,10.4 .8-3.7 .8-2.6 .8,4.8 .8-3.6 .8,.7 .8,1.1 .8-2 .8,4.2 .8-3.4 .8-1.3 .8,3.2 .8-2.6 .8,1 .8,2.8 .8,2.7 1-9.3 .6-.5 .8-.1 .8,2.5 .8-3.6 .8,1.8 .8-4.9 .8,2 .8-4.4 .8-3.2 1,0 .6,2.5 .8-3 .8-.6 .8-2 .8-5.2 1,1.4 .6,1.3 .8,4 .8,.4 .8-.5 .8-.3 1,5.7 .6-5 .8,2.7 .8,1.8 .8,3.9 .8,3.8 1-1.6 .6,7.9 .8-6.9 .8,6.8 .8-5.3 .8,3.9 .8-4.5 .8,3.4 .8-.9 .8,4.6 .8-5.5 .8,4.1 .8,2.6 .8-4.5 .8-.5 .8,2.8 .8-6.9 .8,6.6 .8,1.2 .8-.4 .8-3.3 .8,3.5 .8,1.4 .8,.5 .8-3 .8-.1 .8-.1 .8-2.1 .8,1 .8-1 .8,2.7 .8,1 .8,5.5 .8-3.7 .8-.7 .8-1.7 1.1,5.3 .5-.6 .8-3.7 .8-1.1 .8,.6 .8-.2 .8-4.4 .8,2.9 .8-.8 .8,2.6 .8-1.6 .8-1.2 .8,4.3 .8-1 .8-1.4 .8-1.1 .8-1.2 .8,4.1 .8-.8 .8-1.2 .8,.9 .8-3.2 .8,6.1 .8-2.4 .8,2 .8-6 .8,3.1 .8-3.1 .8,5.1 .8,2.6 .8-5.9 .8,.9 .8,3.1 .8-5.1 .8,2.8 .8-1.2 .8,1.1 .8-2.5 .8-1.3 .8-.2 .8,3 .8,1.1 .8,1.3 .8-.6 .8,.2 .8-.9 .8-.3 .8-.2 .8-1.8 .8,.9 .8,0 .8,7.6 .8-11.1 .8,5.4 .8-.5 .8-1.1 .8-.9 .8-1.9 .8-2.3 .8,2.4 .8,.3 .8-1.8 .8,3.8 .8-3.8 .8,6.3 .8,3.4 .8-6.5 .8,.3 .8,5.1 .8-10.2 .8,2.8 .8-1.7 .8,1.5 .8,5.1 .8-1 .8-3.4 .8,3.9 .8-6.8 .8,3 .8,4.3 .8,2.6 .5-2.4 .3-1.2 .8-3.6 .8,2 .8-4.6 .8,3.2 .8-4 .8,1.1 .8-5.4 .8,2.2 .8,1.6 .8-6.5 .8,3.3 .8-.4 .8-3 .5-1.4 .3-.1 .8-4.3 .8,1.7 .8,5.2 .8-8.7 .8,1.9 .8-4.2 .8,7.2 .8-7.9 .8,.1 .8,0 .4-2.9 .4,8.8 .8-3.6 .8-.3 .8-3.5 .8,7.1 .8-2.2 .8,4.3 .8-1.4 .8-.5 .6,5 1,.6 .8,.5 .8,1.3 .8,1.7 .8,.6 .8,5.7 .8-2.8 .6,5.8 1-1.9 .8,4.7 .8-2.3 .8,2.3 .8-6 .8-2.3 .8,7 .8-2.2 .8-2.6 .8,4.4 .8,1.9 .8-3.8 .8,1.2 .8-3.8 .8,.9 .8,3 .8-.3 .8-.7 .8-.6 .8,4 .8-.8 .8,3.3 .8-6.2 .8-.2 .8,1.1 .8-2.9 .8-.2 .8,1.2 .8,.9 .8-.2 .8-.9 .8,4 .8-.3 .8-1 .8-1.9 .8-1.5 .8,.5 .8-3 .8,6.6 .8,.5 .8,.7 .8-5.7 .8,7.9 .8-3.6 .8,.3 .8,2.5 .8-2.7 .8-2.2 .9,1 .7-2.3 .8-.1 .8,3.5 .8-5.7 .8-.1 .8,5.7 .8-.9 .8-.1 .8,1.2 .8-3.6 .8,3.3 .8-3.7 .8-.4 .8,4.6 .8-2.8 .8,.3 .8-1.4 .8,4.5 .8,.3 .8-4.8 .8,3.8 .8-.9 .8-1 .8-3.6 .8,6.2 .8-1.1 .8-6.2 .8,2 .8,6.8 .8-3 .8-5 .8,2.8 .8,.3 .8-.4 .8-.1 .8-.4 .8,.5 .8,2.3 .8-4.6 .8,6.4 .8-2.6 .8-1.5 .8,3.8 .8-.6 .8-.9 .8,.7 .8-1.9 .8,1.7 .8,1.9 .8-1.2 .8-4 .8,.9 .8,2.3 .8-2.1 .8-.9 .8,6.5 .8-6.2 .8,1.8 .8-3.2 .8,2.7 .8,1.2 .8-2.8 .8-.2 .8,2.2 .8-.7 .8,.5 .8,2.2 .8,.1 .8-2.4 .8,2.7 .8-5.4 .8,.5 .8,5.1 .8,.7 .8-3.5 .8-3.3 .8,1.7 .8,2.3 .8-.3 .8-1 .8-.1 .8-5.4 .8,2.1 .8,.3 .8,.6 .8,4.5 .8-2.2 .8-3.4 .8,1.5 .8-5.3 .8,7.9 .8-2.4 .8,3.1 .8,.4 .8-4.9 .8,5.4 .8-2.7 .8-.2 .8-2.4 .8,2.3 .8,2.2 .8,.6 .8-1.7 .8-.4 .8,2.9 .8-3.1 .8,.7 .8,3.9 .8-8.2 .8,.4 .8,.7 .8,1.2 .8-.2 .8,1.1 .8,4.1 .8-1.2 .8-4.2 .8,2.9 .8-1.4 .8-1.3 .8,3.5 .8,.9 .8-5.9 .8,4.4 .8-4.5 .8,.8 .8,1.3 .8-2.2 .8,1.2 .8,.8 .8,1.1 .8-1.3 .8-.2 .8-1.3 .8,1.9 .8,.8 .8-3.3 .8,3.3 .8,3 .8-2.4 .8,1.9 .8-1.7 .8-1.4 .8-1.4 .8,.7 .8,.4 .8-3.5 .8,.7 .8,5.7 .8-6 .8-.2 .8-.4 .8,3.9 .8-.3 .8,1.4 .8-4.6 .8,5.5 .8-3.9 .8-1.1 .8,3.5 .4,.6 .4,1.3 .8-5.9 .8,3.6 .8,1 .8-1.1 .8-4.3 .8,4.6 .8-1.4 .8-1.3 .8-3.3 .8-.5 .8,3 .8-2.9 .8,1.6 .8-.3 .8-.6 .8,2.7 .8-1.8 .8,2.3 .8,.7 .8-4.2 .8-4.1 .8,1.1 .8,2.6 .5,.3 .3-5.1 .8,.5 .8-2.5 .8-3.5 .8,.4 .8-2.5 .8,1.6 .8-7.5 .8,2.3 .8-4.3 .5-.1 .3-4.4 .8-4 .8-.5 .8-4 .8-8.1 .8,.2 .5-5 .3,1.2 .8,5.3 .8-1.2 .8-.6 .8,.6 .8-1 .5,1.3 .3,2.4 .8,.1 .8,5.2 .8,8.1 .8-1.1 .8,3.4 .6,5.5 .2,2.1 .8-2.1 .8,4.5 .8-3 .8,2.7 .8,5 .8,6.7 .8-3 .6,4.1 1,1.2 .8-3.7 .8,2 .8,3.8 .8-.2 .8-1.7 .8-5.4 .8,4.3 .8,1.8 .8-5 .8,4.6 .8-1.6 .8-1 .8,7 .8,1.1 .8-5.3 .8,4.7 .8-2.5 .8-.2 .6-.5 1,.3 .8-.8 .8,2.3 .8-2.4 .8,2.9 .8-3.4 .8-1.6 .8,2.3 .8,3.9 .8-2.5 .8,2.4 .8-7.6 .8,2.8 .8-.3 .8,2 .8,.8 .8-5.1 .8,2.2 .8,1.6 .8,1.2 .8-7 .8,8.1 .8-3.6 .8,3 .8-4.7 .8,3.1 .8,1.6 .8,.7 .8-4.1 .8-3.8 .8,6.4 .7-3.1 .9-1.2 .8,.6 .8-9.1 .8,7.8 .8-12 .8,4.3 .8-.3 .7-5.4 .9,1.1 .8-9.8 .8,1.7 .8-4.7 .8-4.9 .7,.2 .9-2.6 .8-.2 .8,8.2 .8,.4 .8-3.5 .8-.9 .8,3.8 .8,.7 .8,6.7 .7-3.4 .9,4.8 .8-.4 .8-1.1 .8,10.9 .8-2.1 .8-1.4 .8,5.3 .8,4.5 .8-3.6 .8,.8 .8,.6 .8,5.8 .8,4 .8-7.3 .8,1.6 .8,1.8 .8,2.2 .8,5.1 .8-.8 .8-.7 .8,1.9 .8-3.3 .8-5.3 .8,1.3 .8,3.9 .8-5.5" fill="none" stroke="#00B0F0" stroke-width="6" stroke-linejoin="round" stroke-linecap="round"/>
<path d="M269.4,2406.7l.8,3.7 .8-1.6 .8,1.3 .8,3.3 .8-1.9 .8,1.8 .8-2.2 .8,1.7 .8-5.7 .8,.2 .8-1.1 .8,4.8 .8-1.2 .8,2.5 .8-2.3 .8,.4 .8,5.2 .8-4.2 .8-.7 .8-1.9 .8,5.9 .9-.3 .7-5.2 .8,3.3 .8,.3 .8-4.6 .8,3.2 .8,3.1 .8-7.2 .8,4.7 .8,3.8 .8-5.8 .8,.4 .8,2 .8,1 .8-.8 .8-4.4 .8,2 .8,2.2 .8-.6 .8,3.9 .8-3.7 .8-.6 .8,4.2 .8-5.1 .8-2.6 .8,1.5 .8-.5 .8,2.4 .8,.6 .8-1.7 .8-.2 .8,.5 .8,4.8 .8,1.6 .8-5.6 .8,2.1 .8-.1 .8-2.2 .8,.2 .8,.6 1-3 .6,2.4 .8,3.7 .8,1.2 .8-2.2 .8-.2 .8,2.7 .8,4.3 .8-8.1 .8,.7 .8,.4 .8,2.3 .8-2.8 .8,3.2 .8-1.8 .8,2.8 .8-1.8 .8,0 .8,2 .8-4.8 .8,.8 .8,3.8 .8,.7 .8-1.6 .8-5 .8,7.1 .8-.8 .8-1.9 .8-4.4 .8,6.6 .8,2.2 .8-3 .8,2.3 .8-4.2 .8,2.6 .8-.8 .8-1.2 .8,1.9 .8-1.4 .8,.8 1.1,.5 .5,.4 .8,.5 .8,.8 .8-2.9 .8,3.4 .8-5.1 .8,3.9 .8-.2 .8-5.7 .8,4.9 .8,3.9 .8-1.6 .8-2.6 .8,.4 .8,2 .8-1 .8,1.3 .8-2.4 .8,2.4 .8-1.8 .3-3.2 .5-6.8 .8-8.4 .8-7.2 .8-12.6 1-6.3 .6-11.5 .8-3.9 .8-8.7 1-5 .6,6.4 .8,7.2 .8,5.4 .8,8.9 .8,8.5 .4,6.6 .4-.3 .8,8.5 .8,7.4 .8,1.6 .8,7.2 .8,2.2 .4,7.5 .4,3.2 .8-4.4 .8,4 .8,1 .8-.6 .8-2.1 .8,1.2 .8-1.6 .8,0 .8,6.8 .8-6.1 .8,.3 .8,3.7 .8,.5 .8,1.5 .8-3.5 .8-1 .8,.1 .8,3.2 .8,1.8 .8-4.2 .8,1.1 .8,.9 .8-2.2 .8,1.7 .8,2.7 .8-4.6 .8,3.9 .8,2 .8-5.9 .8,5.3 .8-2.1 .8-1.6 .8,3.9 .8-1 .8,.4 .8-1 .8-.7 .8,1.6 .8,.6 .5,1.9 .3-2.9 .8,2.2 .8-1.7 .8,1.7 .8-1.7 .8,3.5 .8-2.5 .8-5 .8,3.8 .8-.8 .8,3.6 .8-2.1 .8,2.3 .8,.1 .8-2.7 .8,1.7 .8,1.1 .8-2.6 .8,10.5 .8-7 .8-4.7 .8-1.4 .8,4.3 .8-.8 .8-2.7 .8,0 .8,5 .8-.8 .8,1.6 .8-1.7 .8,3.6 .8-6.8 .8,5.5 .8-3.1 .8,.3 .8,5.3 .8-7.3 .8,4.7 .8,.3 .8,4.1 .6-6.5 .2,4.1 .8-.7 .8-2.7 .8-1.3 .8-1.8 .8-3.8 .8,.3 .8-4.5 .6,6.5 1-6 .8-11.1 .8,2.3 .8-7 .4-5 .4,4.5 .8,8.1 .8,3.6 .8,1.3 .8,9.2 .6,1.6 1,1.5 .8-.3 .8,6.2 .8,2.6 .8-3.4 .6,3.3 1,.1 .8,.9 .8-3.1 .8,7.3 .8-3.1 .8,1.1 .8-3.9 .8,6 .8-3.3 .8-5.3 .8,5.7 .8-2.6 .8-1.5 .8,2.3 .8-2.9 .8,4 .8-.1 .8-4.8 .8,4.5 .8,1.1 .8-7.7 .8,10 .8-1.4 .8,.5 .8,1.5 .8-4 .8-1.7 .8,2.5 .8-1.7 .8,1.6 .8-6.9 .8,5 .8,6.6 .8-6.3 .8,2 .7-.9 .9-1.9 .8,1.5 .8,0 .8-2.6 .8,.4 .8,.9 .8-4 .8,.3 .8,3.7 .8-.1 .8-3.7 .8,3.7 .8-1.2 .8-.6 .8-2.5 .7,3.3 .9-2.2 .8,2 .8-.8 .8,4.8 .8-1.5 .8,.1 .8,2.5 .8,6 .8-2.5 .8-5.2 .8,5.1 .8,1.4 .8-1.7 .8-1.7 .8,6.5 .8-2.5 .8,.4 .8-1.9 .8,1.3 .8-.4 .8-.5 .8-.5 .8-2 .8,1.5 .8,1.6 .8-2 .8,2.8 .8-2.7 .8,4.3 .8-5.3 .8,4.3 .8,2.8 .8-1.4 .8-4 .8,4.1 .8-2.7 .8,1.4 .8-1.3 .8-4.3 .8,6 .8,0 .8-.2 .8-5 .8,4.8 .8-2.8 .8-.7 .8,0 .8,3.4 .8-1.1 .8,4.6 .8-1.4 .8,.6 .8-2.8 .8-1.5 .8-1.4 .8,3.4 .8,3.4 .8,.6 .8-7 .8,4.4 .8,1.3 .8-3.8 .8,3.6 .8-2.1 .8,3.2 .8,.3 .8,.3 .8,.7 .8-1.7 .8,2.2 .8-8 .8,9.7 .8,.9 .8-5.7 .8,2.4 .8,1.5 .8-2.9 .8-.5 .8,.8 .8,2.2 .8-4.1 .8,4.4 .8,.6 .9-4.6 .7,4.8 .8,3.3 .8-3.7 .8-.1 .8,3.9 .8-4.2 .8,.2 .8,4.6 .8,1.6 .8-6.3 .8,2.3 .8,2 .8,3 .8-2.8 .8-3.3 .8,3.3 .8-7 .8,5.4 .8,1.3 .8,1.6 .8-.8 .8-4.1 .8,6.2 .8-3.3 .8,0 .8,3.7 .8-8 1,9.5 .6-3.4 1-.6 .6-2.9 .8,2.1 .8,.3 .8-.2 .8-4.7 .8,5.1 .8,.5 .8,2.1 .8-1 .8-.1 .8,.2 .8-3.8 .8-.9 .8,4.4 .8-1.7 .8,3 .8-4.3 .8,.9 .8,3.3 .8-2.6 .8-2.4 .8,3.2 .8-1.2 .8-3.4 .8-.4 .8,1.5 .8-2.4 .8-1.1 .8-1.2 .8-5.9 .8,6.7 .6-1.2 1,3.2 .8-.8 .7,5.3 .9,.6 .8,.5 .8,.7 .8-5.1 .8,6.5 .8,.5 .8,.6 .8,.6 .8-2.3 .8,2.9 .8-6.7 .8,3.7 .8-1.5 .5,4.7 .3-5.4 .8-.9 .8-.5 .8,2.7 .8-4.5 .8,3.4 .8-.3 .8-2.5 .8-.7 .8-1.5 .8,6.7 .8-2.7 .8-4.5 .8,5.3 .8-4.5 .8,3.8 .8,.7 .8-1.9 .8-.3 .8,2.7 .8,.7 .5-.4 .3-2 .8-8.3 .8-1.4 .6-5 1-11.5 .8-13.9 .7-8 .9-4.8 1.1-4.1 .5-.6 .8-1 .9,0 .7-19.9 1-15.2 .6-45.5 .7-44.6 .9-44.2 .6-32.2 1,57.2 .4,21.4 .4,14.3 .8,37.4 .5,10.8 .3-9.4 .8-19.2 .5-14.6 .3-12.1 1.1-40 .5,21.9 .8,26.2 .8,35 .8,32.3 .8,23.9 .8,20.7 .8,12 .8,10.8 1,18 .6,7 1,11 .6-1.2 .8,2.7 .8,1.7 .8,.5 .4,5.6 .4-1.9 .8,1.7 .8,.3 .8-2.4 .8-.4 .6-3.4 1,1.6 .8,1 .8,1.7 .8-3.8 .8,3.9 .8-1.1 .8-.5 .8-3.4 .8,.7 .8,3.3 1,1.2 .6-2.8 .8,7.5 .8-3.7 .8-.6 .8,1.7 .8-2.6 .8-2.1 .8,5 .8-.8 .8,3 .6,.6 1-3.4 .8,3.1 .8,4.8 .8,2.2 .8-3.5 .8,1.5 .8,1.4 1,.3 .6,6.2 .8-2.4 .8-4.6 .8,1 .3,4.2 .5-5.5 .8-5.5 .4-2.7 .4-4.5 .8-2 .8-1.6 .8,.7 .8,1.7 .6-3.6 1,7.6 .8-6.9 .8,4.1 .8,4.9 .8,3.2 .8-5.3 .8,4.6 .8,2 1-4.8 .6,6.5 .8-1.1 .8-1.6 .8,3.6 .8-2.4 .8-1.9 .8,4.6 .8-5.1 .8,4.6 .8-8.8 .8,8.6 .8-2.3 .7,2.3 .9,1.1 .8,3.8 .8-3.7 .8,1.9 .8,.2 .8,2.4 .8-.2 .8,.4 .8,.5 1.1-3.4 .5,2.9 .8,.5 .8,.4 .8,5.7 .8-2.9 .8,.9 .8-3.8 .8,3.3 .6,1.8 1-5.2 .8-1.2 .8-2.4 .8,.5 .8,6.7 .8-7.6 .8,2.8 .8,2.3 .8-1.6 .8,.2 .8-.2 .8,2.3 .8-6.7 .8,1.6 .8,.2 .8-4.2 .8,2.1 .8,.9 .8,3.9 .9-4.5 .7,4.6 .8-4.8 .8,6.1 .8-4.4 .8,4.2 .8,4.6 .8-3.8 .8,1.5 .8-6 .8,4.2 .8,.7 .8-2.3 .8,1.2 .8-3.1 .8,2 .9-1.1 .7-.1 .8,6.1 .8-3.4 .8,3.1 .8,3.9 .8-2.6 .8-4.4 .8,.7 .8-.5 .8,1.4 .8,4.4 .8,.8 .8-5.3 .8-2.3 .8,5.6 .8-8.3 .8,6.7 .8-7 .8,6.2 .8-.7 .8-2 .8-1.6 .8,4.4 .8,.2 .8-.2 .8,5.9 .8-6.3 .8-.7 .8,4.6 .8,3.6 .8-9.7 .8,1.2 .8-.6 .8,1.9 .8,.6 .8-2.5 .8,1.7 .8-1.5 .8,2.9 1,.3 .6,2.4 .8-2.2 .8,1.4 .8-4.7 .8,2.7 .8-1.5 .8,1.3 .8-2.8 .8,.8 .8,3.1 .8-1.5 .8-1.5 .8,1.2 .8-1.8 .8,1.4 .8-.6 .8-2 .8,2.4 .8-4.2 .8,5.3 .8,1 .8-.2 .8-5.5 .8,3 .8,2.4 .8-1.3 .8,.4 .8-1.4 .8,1.3 .8-2.3 .8-3.7 .8,4.4 .8,4.1 .8-3 .8,.2 .8,3.7 .8-6.6 .8-.8 .8,1.2 1.1,2 .5,3.3 .8-1.8 .8-2 .8,4.2 .8-2.8 .8,.2 .8-.8 .8-2.4 .8,1.5 .8-1.4 .8-2 .8,2.9 .8,5.1 .8-2.8 .8-2.7 .8,3.6 .8,5.5 .8-5 .8,7.2 .8-4.5 .3-5.7 .5,5.6 .8,4.4 .8-4.1 .8-4.3 .8,3.9 .8,2.3 .8-6.9 .8,4.1 .8,.6 .8,2.3 .8-4 .8-1.2 .8,3.5 .8-1 .8-1.3 .8-1.8 .8,2.9 .8-3.5 .8,6.7 .8-5.9 .8,3.9 .8-.7 .8-2.1 .8-1.3 .8,3.3 .8-2.7 .8-2.6 .8,3.1 .8,1.3 .8-5.5 .4,6.7 .4-8.3 .8,1.8 .8-4.8 .8-6.7 .4,2.7 .4-1.8 .8,3.1 .8-1.8 .8,2.6 .8,.4 .8,2.2 .8-4.7 .8,7 .4-8.6 .4,.8 .8-.4 .8-5.9 .8-2 .8,2.8 .8-6.7 1.1,.7 .5,6.4 .8,4.1 .8-1.3 .8,5.6 .8,2.9 .4,.7 .4-1.7 .8,.4 .8,1 .8,8.4 .8-1.6 .8-.1 .8,1 .8,3 .8,1.7 .8-1.3 .5-.7 .3,4.4 .8-2.5 .8-3 .8,6.7 .8,1.6 .8-4.2 .8-1.3 .8-.2 .8-.9 .8-1 .8-1.2 .8,0 .8,1.4 .8,1.1 .8,1.3 .8,.8 .8-3.4 .8,3.8 .8-4 .8,.2 .8,2.9 .8-5.4 .8,4 .8-4.6 .8,2.6 .8,2.9 .8,.9 .8-3.9 .8,0 .8,6.1 .8-1.8 .8,2 .8-7.2 .8,7.3 .8-2.4 .8-4 .6,3 .2,3.4 .8-3.4 .8-4.6 .8-2.5 .8,6.3 .8-4.4 .8-2.3 .8,0 .8-1.9 .8-2.4 .6,2.5 1,3.6 .8-2.4 .8,7.1 .8-3.3 .8,4.5 .6,2.4 1-.1 .8,1.2 .8-6.5 .8,.1 .8,1.3 .8,2.2 .8,2.4 .8-3.7 .8-.8 .8,1 .8-.6 .8,6.4 .8-7.7 .8,6.8 .8,2 .8-5.2 .8-.3 .8,.2 .8-1.9 .8,.2 .8-2.1 .8,3.3 .8,.8 .8-3 .8,4.7 .8-2.9 .8-.9 .8,2.1 .8-.5 .8,4.3 .8-.6 .8-.4 .8,0 .8-4.2 .8,1.8 .8,1.2 .8,4.2 .8-5.8 .8,4 .8-8.2 .8,4.2 .8-.1 .8,3.8 .8-.4 .8-1.6 .8,1.3 .8-4.8 .8-.9 .8,7.1 .8,3.5 .8-4.6 .8-3.3 .8,2.6 .8-5.9 .8,4.1 .8,.8 .8,4.2 .8-3.4 .8,1.7 .8-5.8 .8,3.2 .8-1.7 .8,3.7 .7-1.1 .9,.3 .8-5.1 .8,8.3 .8-4.9 .8,1.2 .8,6 .8-3.2 .8-3.5 .8,1.2 .8-4.4 .8,.7 .8,3.7 .8-2.7 .8,.4 .8-2.7 .8,1.5 .8,.8 .8,.8 .8,4.6 .8-4 .8,.2 .8,2.5 .8-4.3 .8,1.8 .8-5.9 .8,3.3 .8,2.1 .8-3.7 .8,3.5 .8-1.5 .8,2 .8,1.1 .8-2.8 .8-1.6 .8,.9 .8,2.9 .8,.2 .8-3.8 .8,6.5 .8,.5 .8-4.2 .8,.4 .8,.6 .8-2.8 .8,1.8 .8,.2 .8-.8 .8-2.5 .8-1.1 .8,1.8 .8,.4 .8,.6 .8-3.4 .8,3.6 .8-.6 .8,.9 .8-3 .8,3.9 .8-.6 .8,2.1 .8-3.7 .8,3.9 .8-1 .8-.9 .8,.6 .8-1.4 .8,1.6 .8,.9 .8-.6 .8,.7 .8,.8 .8-5 .8,4.1 .8-7.1 .8,3.3 .8,7.9 .8-2.4 .8-1.7 .8,6.1 .9-8.1 .7,1.9 .8-2.6 .8,3.1 .8-3 .8-2.5 .8,1.1 .8,1.8 .8,2.8 .8-.6 .8,1.6 .8-1.3 .8-1.9 .8,6.5 .8-5.7 .8,2.9 .8-3.3 .8,.8 .8,.4 .8-2.4 .8,4.4 .8-1.8 1,2 .6-2.6 .8-4.7 .8-3.9 .8-2.4 .8-6.7 1-.7 .6-10.4 .8-3.7 .8-1.8 1-12.4 .6,3 .8-1.5 .8-3.7 1-4.4 .6,8.6 .8,8 .8,4.4 1-.5 .6,11.4 .8-1.7 .8,9.8 .8,.9 .8,5.1 1,7.3 .6-6 .8,6.6 .8-2.4 .8,2.2 .8-1.1 .8,1.2 .8-2.1 .8,3.2 .8,2.9 .8-3.4 .8,6.4 .8-1.8 .8-4.4 1.1,4 .5,.7 .8-1.7 .8,.8 .8,1 .8-2.9 .8,2.1 .8-1.6 .8-1.7 .8,3.6 .8-2.4 .8-.1 .8,2.8 .8-6.7 .8,5.7 .8-.7 .8-.7 .8,1 .8-1.2 .8-.4 .8-5 .8,2.7 1.1,1.9 .5-1.9 .8-2 .8-4.1 .8,4.2 .3-5.4 .5,1.5 .8-.6 .8-3.6 .8-.2 .8-1.7 .8,3.8 .3,2.5 .5-.4 .8-2.4 .8,7.1 .8,2.1 .8-.3 .8-3.3 .4-.2 .4,2.7 .8-1.8 .8,4.6 .8,2 .8,1.2 .8-.2 .8,.4 .8,.6 .8-2.3 .8-1.5 .8,6.7 .8-1.1 .8-9.7 .8,8.6 .8-1.3 .8-2.5 .8,5.4 .8-4 .8,3 .8,.7 .8,3.2 .8-4.3 .4,1.9 .4-2.6 .8,1.4 .8,2.8 .8-1.2 .8-2 .8,0 .8-3.1 .8,6.7 .8-2.6 .8,3.6 .8-2.9 .8-.7 .8-.3 .8-3.8 .8,5.7 .8-.3 .8-3.3 .8,3.1 .8-1.3 .8-1.3 .8-.8 .8-1.7 .8,1.1 .8,4.6 .8-.1 .8-1.9 .8,3.1 .8-2.6 .8-2.2 .8,2.5 .8-2 .8-.4 .8,1.1 .8-3.5 .8,6.7 .8-2.4 .8-3.4 .8,3.1 .8-4.4 .8-.3 .8,2.4 .8,1.8 .8-1.6 .8-1 .8,7.7 .8-4.6 .8-3.4 .8,1.7 .8,3.8 .8-2.1 .8-2.5 .8,9 .8-1.6 .8-7.1 .8,4.6 .8-.7 .8-3.4 .8,1 .8-1.7 .8,2.1 .8,3.9 .8-4 .8-1.6 .8,4.9 .8-3 .8-1.4 .8,.1 .8,1.3 .8,2.8 .8,1.5 .8,.3 .8-.4 .8-6.5 .8,4.8 .8-4.8 .8,2.4 .8-.3 .8-1.8 .8,.7 .8,.2 .8,2.5 .8,.4 .8,4.1 .8-3.6 .8,1.4 .8-.5 .8-1.3 .8,2.2 .8-4.4 .8,2.3 .8-2.5 .8,1.3 .8-4.1 .8,.6 .8,5.1 .8-.9 .8,.9 .8-2.4 .8-.3 .8,3.7 .8,1 .8-4.9 .8-3.4 .8,3.8 .8-.2 .8-4.3 .8,1 .8,4.4 .8,1.1 .8,.9 .8-3.5 .8,2.9 .8-1.8 .8-2.1 .8,1.4 .8,2.8 .8-5.5 .8,.2 .8,2 .8-1.4 .8-1.6 .8,2.2 .8,4.1 .8-2.2 .8-3.6 .8,1.8 .8-1.5 .8,2 .8-1.1 .8-3.7 .8,1.7 .8,2.3 .8-.2 .8-2 .8,1.3 .9-3.1 .7,.3 .8,.3 .8-5.5 .8,5.9 .8-3.2 .8,.9 .8-3.4 .9,3.5 .7-1.2 .8,0 .8,4.5 .8-2.9 .8-1.3 .8,8.2 .8-3.8 .8-.6 .8,2.2 .8,4.4 .8-1.9 .9-2.2 .7,2.3 .8,6 .8-3.2 .8,.8 .8-3.7 .8-.1 .8,5.6 .8-6.3 .8,1.6 .8,.9 .8-.4 .8-1.9 .8,2.7 .8-2.6 .8-1.7 1,4.1 .6-2.8 .8-3.1 .8-1 .8-5.2 .8,2.3 .8-.8 .8-8.4 .8-.5 .8-1 .8-.3 .8,5 .8,4.9 .8-2.2 .8,5 .8-1.4 .8,2.7 .8-.6 1,3.6 .6-2.2 .8,5.9 .8-5.4 .8,.6 .8,2.8 .8-2.6 .8,3 .8-.6 .8-1.4 .8-4.1 .8,4.4 .8,.9 .8,0 .8-.1 .8-.5 .8,.1 .8,1.2 .8,0 .8-2.3 .8,2.6 .8,1.1 .8,.5 .8-2.4 .8,6.1 .8-9.5 .8,5.5 .8-1.1 .8-.1 .8,.7 .8-1 .8,2.2 .8-.6 .8,0 1.1-.1 .5-.8 .8,3.1 .8,1.8 .8-2.9 .8,1.2 .8,3 .8-5.5 .8,2.9 .8-2.5 .8,1.5 .8,.2 .8,1.6 .8-6.4 .8,4 .8-2.7 .8,3 .8-4.8 .8,5.8 .8,2.1 .8,.7 .8-2.1 .8-2.5 .8-1.8 .8,4.4 .8-.9 .8-4.9 .8,1 .8,4.2 .8-1.4 .8-4 .8,1.2 .8,1 .8,3.1 .8,.4 .8-.8 .8-1.3 .8-.1 .8-1.4 .8,4.8 .8-8 .8,4.9 .8,.2 .8-1.6 .8-5.3 .8,4.9 .8,.4 .8-1.6 .8,.8 .8,.8 .8,2.4 .8-2.5 .8,3 .8-3.8 .8,7.4 .8-8.2 .8,3 .8-2.2 .8-.4 .8,3.8 .8,1.9 .8-5 .8,2.5 .8-2.2 .8,3.6 .8-8.2 .8,7.3 .8-2.4 .8,.9 .8-.4 .8-3.6 .8,5.9 .8-.6 .8-2.5 .8,.7 .8,.4 .8-3.1 .8,4.6 .8,1.6 .8-2.3 .8-.6 .5-4.2 .3,1.8 .8-1.9 .8,3 .8,2.7 .8,6.4 .8-7.1 .8,.3 .8-.9 .8-.9 .8,3.4 .8-3.6 .8,1.3 .8,1.7 .8-4.5 .8,8.3 .8-7.4 .8,2 .8,2.7 .8-4.4 .8-6 .5,7.1 .3,1.3 .8-3 .8,1 .8-3.6 .8,2.7 .8-1.8 .8-4.4 .8,1 .8-5.3 .8,1.9 .8,0 .8-6 .5,2.1 .3-5.4 .8,1.5 .8-1.6 .8,4.3 .8-4.4 .8,5.2 .8-7.3 .8,1 .8-2.5 .8,2.6 .8-2.1 .8,.4 .6,1.2 1-3.3 .8-2.4 .8-1.7 .8,2.8 .8,2.9 .6-2 1-8.6 .8-5.9 .7-.2 .9,1.3 .8,1.6 .8,2.9 .8,2.3 .6,.4 1,5.5 .8,2.1 .8,4.8 .8,2.3 .8,1.2 .6,7 1,5.7 .8-6.7 .8,4.6 .8-2.6 .8,3.7 .8,6 .8-4 .8-3.4 .8-.3 .8,1.6 .8,2.5 .6-1.8 1-1 .8,3.2 .8-5.7 .8,3.8 .8,5.1 .8-4 .8,.4 .8-1.7 .8,.5 .8-1.2 .8,1.3 .8-.8 .8-3.2 .8,6.9 .8-2.1 .8,5.5 .8-1.4 .8-.5 .8,1.1 .8,.5 .8-3.8 .8,3.6 .8,2.5 .8-2.5 .8-4.4 .8,1.5 .8,1 .8-2.2 .8-1.1 .8,6 .8-3.8 .8,.6 .8,.5 .8-2.5 .8,6.3 .8-5.3 .8,0 .8-4.2 .8,2.9 .8,3.4 .8-1.1 .8,.7 .8-.4 .7,1.2 .9-5.2 .8,8 .8-1.4 .8-.4 .8-6.9 .8,4.8 .8,3 .8-4.8 .8-2 .8-2.6 .8,2.9 .8,3.9 .8-5.9 .8,1.4 .8,4.8 .8-4.2 .8,3 .8-.7 .8,2.6 .8-3.8 .8,2.2 .8-2.3 .8,5.1 .8-3.9 .8,4.9 .8-6.2 .8,2.2 .8,3.4 .8-2.4 .8,.5 .8-1.8 .8,.4 .8-1.3 .8,1.5 .8,1.7 .8,.5 .8-2 .8-6 .8,7.1 .8-.1 .8-1.1 .8,.5 .8-4.8 .8,3.6 .8,3.3 .8,1.9 .8-4.5 .8-2.5 .8,1.7 .8,.7 .8-2.3 .8,3 .8,2.2 .8,1.6 .8-3.9 .8-1 .8,1.6 .8-1.7 .8-.3 .8-1.1 .8,2 .8-2.1 .8,3.4 .8-1.6 .8-.9 .8,5.3 .8-3.6 .8-.5 .8-1.6 .8-4.2 .8,5.9 .8,.7 .8-2.1 .8,2.5 .8-2 .8,3.1 .8,.6 .8-2.2 .8,.6 .9,2.6 .7-3.1 .8-2.2 .8-.8 .8,4.2 .8,3.7 .8-3.8 .8,.8 .8,.3 .8-3 .8,2.1 .8-7 .8,4.1 .8,4.1 .8-3 .8,2.8 .8,1.3 .8-3 .8-3.8 .8,.8 .8,3.9 .8,4.7 .8-4.6 .8-5.5 .8,5.1 .8,.6 .8-.2 .8,1.1 .8-9.8 .8,14.1 .8-4.6 .8-1.2 .8-.2 .8-3.5 .8,2.3 .8,5.6 .8-2.6 .8,.2 .8-1.9 .8-.5 .8,1.7 .8,1.9 .8-.2 .8-.5 .8-5.4 .8,2 .8-.6 .8-2.1 .8,4.3 .8-3.9 .8,8 .8-5.1 .8-.4 .8-2.6 .8,1.2 .8,4.4 .8-7.5 .8,2.5 .8,3.5 .8-8.6 .8,6.4 .8-3 .8,5.2 .8-4.8 .8-1 .8,2.3 .8,5.2 .8-5.2 .8,1.2 .8,.3 .8-2.2 .8,1.7 .8,.6 .8,1.8 .8-1.1 .8-.6 .8-4 .8,9 .8-6 .8,.1 1.1,2 .5,2.3 .8-3.1 .8-.5 .8-2.2 .8,3.7 .8,.6 .8-2.8 .8,3.5 .8-3.3 .8,6.5 .8-7.8 .8,6.4 .8-4.7 .8,2.8 .8,1.6 .8-7.5 .8,3.2 .8,.3 .8-2.2 .8,2.3 .8,4.8 .8-5.8 .8,2.3 .8-2.8 .8,.5 .8,3.9 .8,1.9 .8-5.9 .8,5.1 .8,0 .8-6.2 .8,5.2 .8-4.3 .8-.1 .8-.5 .8,.1 .8,1.8 .8,2 .8,1.6 .8-6.6 .8,8 .8-6.3 .8-1.8 .8,6.1 .8-1 .8,1.7 .8-.7 .8,.4 .8-4.9 .8,.6 .8,0 .8,2.5 .8-1.8 .8,4.8 .8-2 .8,1.3 .8-2.9 .8,.1 .8,.6 .8,1.5 .8-5.6 .8,2.2 .8,4.4 .8-1.5 .8,1.3 .8-2.2 .8-1.4 .8,2.3 .8-2.3 .8,3.2 .8-2.1 .8,1.7 .8,.9 .8-2.8 .8,1 .8,.8 .8,.5 .8,3.5 .8-4.1 .8-.6 .5,3 .3,.6 .8-1.5 .8,.9 .8-2.2 .8,.4 .8-.6 .8,1.7 .8-2.1 .8,.3 .8-3 .8,.4 .8,2.3 .8-.2 .8,3 .8-4.1 .8,2.6 .8-2.7 .8-2.6 .8-.6 .8,1.9 .8,2 .8-3.3 .8,6.3 .8-1 .8,1 .8-1.5 .8,1.2 .8-.5 .8-5.4 .8,2.9 .8,5.6 .8-6 .8,3.5 .8,.6 .8-1.1 .8,.4 .8,4.7 .8-10.1 .8,1.4 .8,7 .8-2.2 .8-3.5 .8,4.9 .8-6.2 .8-.3 .8,2.1 .8-.6 .8,1.3 .8-1 .8-.6 .8,.8 .8,3.3 .8-4.7 .8,.5 .8,4 .8-2.9 .8,6 .8-.7 .8-5.7 .8-3.9 .8,2.3 .8,4.3 .8-2.4 .8,4.1 .8-6.8 .8,.9 .8,.3 .8,2.4 .8-7.3 .8,2 .8-1.9 .8-1.2 .8-2.5 .8-1.4 .8,.2 .8-.6 .8-2.7 .8,4.1 .8,1.5 .8,3.1 .8-3.4 .8,6.4 .8-6.8 .8,.5 .8,1.8 .8,2.2 .8,4.2 .8-1.8 .8-.2 .8-1.1 .8-2.9 .8,6.2 .8-2.5 .8-3.3 .8,.9 .8,1.3 .8,2.3 .8-.1 .8,.2 .9-2.6 .7,3.7 .8-.1 .8-1.5 .8,2.9 .8-.2 .8-.1 .8,1.5 .8-3.2 .8,7.8 .8-3.2 .8-.5 .8,3 .8-2.7 .8,3.7 .8-8.7 .9,6.7 .7-1.7 .8-3.2 .8,6.7 .8,.5 .8-3.8 .8,4.6 .8,.5 .8-5.8 .8,2.7 .8-1.1 .8-2.9 .8-.1 .8,4.6 .8-6.4 .8,3.5 .8,2 .8,.2 .8-2 .8,1.6 .8,2.5 .8-1.3 .8,1.7 .8-.8 .8-1.5 .8-4 .8,1.6 .8,.1 .8,2.6 .8-2.3 .8-.8 .8,1.7 .8-2.8 .8,3.7 .8,4.6 .8-8.7 .8,7.5 .8-6.5 .8,1.7 .8,.9 .8-.1 .8-.1 .8,2 .8,1.7 .8,1.2 .8-4.8 .8-2.4 .8-1.9 .8,3.4 .8-.7 .8,1.9 .8-4.8 .8,9.2 .8,.3 .8-1.8 .8-.1 1-5 .6,5 .8-.5 .8-2.9 .8,6.1 .8-5.5 .8,.9 .8,3 .8-3.7 .8,2.8 .8-3.2 .8-2.1 .8,2 .8-1.8 .8,1.8 .8,1.6 .8,1.4 .8,1 .8-5.8 .8,2.9 .8,.6 .8,2.4 .8-.4 .8-1.6 .8-2.6 .8,1.7 .8-3.3 .8-.9 .8,4.8 .8-2.9 .8-.6 .8,4.3 .8-1.2 .8,6.8 .8-2.7 .8-2 .8-2.3 .8-.6 .8,6.3 .8-5.9 .8-4.1 .8,5.8 .8,.2 .8,1.1 .8-5.7 .8,9.4 .8-4.8 .8,.1 .8,1.2 .8-1.3 .8,2.7 .8-2.1 .8,4 .8-4.5 .8-1.1 .8-.2 .8,3.2 .8,.8 .8-3.9 .8-.8 .8,1.3 .8,1 .8-.9 .8,4.1 .8-5.4 .8,2 .8-1.1 .8,2 .8,.4 .8-1.5 .8,.9 .8-2.8 .8,4.3 .8-2.8 .8,.5 .8,.7 .8,2.1 .8,.2 .8-.9 .8-2.9 .8,2.9 .4-3.9 .4,.9 .8-2.5 .8,.4 .8,4.1 .8-2.6 .8-1.3 .8,4.2 .8-2.5 .8,1.1 .8-4.9 .8-1.3 .8,.3 .8,5.2 .8-4.8 .8,6.5 .8,2.3 .8-2.4 .8-1.5 .8,1.9 .8-3.9 .8,5.3 .8-3 .8,1.4 .8-2.4 .8,3.7 .8-.3 .8-3.1 .8,2.9 .8-1.8 .8-.7 .8-1.7 .8,2.2 .8-4.2 .8,6.8 .8-5.1 .8,6.6 .8-8.7 .8-.7 .8,1.4 .8,7 .8-5.9 .8,4.6 .8-3 .8-.3 .8,1.1 .8,1.9 .8,1.3 .8,1.3 .8-4.4 .8,3.4 .8-1.9 .8,.1 .8,1.7 .8-3.4 .8,1.1 .8,1.6 .8-7 .8,1.8 .8-1.2 .8-1.7 .8,4.3 .8,3.2 .8-1.2 .8-1.4 .8,4.2 .8-.1 .8,1.6 .8,.8 .8-4.8 .8-1.5 .8,.5 .8,2.6 .8-8.1 .8,3.7 .8,2.9 .8-3.4 .8,.7 .8,1.6 .8-.8 .8-1.4 .6,2.9 1,1.7 .8,2.3 .8,.4 .8-3.8 .8-1.7 .8-3.4 .8,7.8 .8-3.1 .8,.4 .8,.8 .8-.8 .8-1.6 .8,.6 .8,.7 .8-4.7 .8,4.4 .8,0 .8,5.2 .8-5.9 .8,.3 .8,1.5 .8,1 .8-4.2 .8,4.7 .8-1.2 .8-5.7 .8-.2 .8,7.5 .8-3 .8,3.6 .8-5 .8-4.1 .8,3.5 .8-1.3 .8,3.5 .8-2.2 .8-4 .8,.4 .8,2.9 .8,5.4 .8-3.8 .8,2.6 .8-7.9 .8,5.8 .8,.7 .8,.9 .8-2.1 .8-6.1 .8,5.3 .8,.8 .8,2.5 .8-2 .8,1.2 .8-2.3 .8,2.2 .8-.3 .8-.2 .8-1.4 .8,1.4 .8,.6 .8,.3 .8-8.5 .8,7 .8,2.2 .8-.7 .8-2.9 .8,2.2 .8-2.8 .8,2.2 .8-2.2 .8,2.4 .8-3.5 .8,3.1 .8,.9 .8,.1 .8-.1 .8,3.8 .8-5.1 .8,1.8 .8-2.1 .8,3.1 .8-.8" fill="none" stroke="#ED7D31" stroke-width="6" stroke-linejoin="round" stroke-linecap="round"/>
<path d="M269.4,2312.8l.8-2.7 .8-.1 .8-.9 .8-4.3 .8,5.1 .8-3.6 .8,3.4 .8-1.4 .8,4.3 .8-3.1 .8-.1 .8-2.7 .8,3.5 .8-2.4 .8,1.1 .8-.1 .8,.9 .8-1.8 .8-3.5 .8,1 .8,4.3 .8,.4 .8-.6 .8-5 .8-1 .8,5.3 .8-.5 .8-2.1 .8-.1 .9-2.9 .7,2 .8,3.4 .8-4.2 .8,1.1 .8,.9 .8,.9 .8-3 .8,2.5 .8-.5 .8,1.4 .8,.2 .8,.8 .8-1.7 .8,6.4 .8-3.9 .8,3.9 .8,.9 .8-3.1 .8-2.4 .8-2.7 .8,1.7 .8,2.4 .8,.1 .8-2 .8,1 .8,7.7 .8-5.3 .8-3 .8,4.6 .8-2.7 .8-3.5 1,6.1 .6-1.8 .8,1.7 .8,3.8 .8-3.9 .8-2.3 .8,5.3 .8-8.9 .8,2.1 .8,6 .8,.2 .8-3.4 .8-.8 .8,2.7 .8,0 .8-.9 .8-1.2 .8-1.9 .8,1.6 .8,.4 .8,.4 .8-.7 .8,.3 .8-4.1 .8,5.6 .8,2.1 .8-4.1 .8-.9 .8,4.4 .8,1.1 .8-.8 .8,2.1 .8-3.3 .8-.8 .8,5.8 .8-4.5 .8-.1 .8-4.4 .8,3.9 .8-.7 1.1,1.3 .5,1.5 .8-1.1 .8-2.6 .8,4.9 .8-1.3 .8,.2 .8-1.3 .8,.4 .8-3.3 .8,.5 .8,1.3 .8,.7 .8,2 .8-7.1 .8,6 .8-.8 .8,4.1 .8-4.6 .8,.3 .8,.7 .8,.6 .8-5.8 .8,2.4 .8,4.5 .8-.2 .8-.7 .8,3.8 .8-7.2 .3,3.4 .5-5.3 .8-5.5 .8-9.2 .8-4.6 .4,2.8 .4-8.1 .8-8.1 1-5.4 .6,2 .8,7.7 .8-2.4 .8,2.6 .8,1.9 .4,4.2 .4-.5 .8,11 .8,1.2 .8,6 .8,3.4 .8,3.9 .4,1.7 .4-2 .8,7.2 .8-4.5 .8,5.1 .8-2 .8-4.6 .8,2.5 .8-.2 .8-.1 .8,1.3 .8,.7 .8-.2 .8-.1 .8,2.8 .4,.3 .4-2.4 .8,3.1 .8-2.6 .8,2 .8-.5 .8,2.8 .8-6 .8,7.4 .8-4.8 .8,3.6 .8-3.9 .8,1.3 .8,1 .8-2 .8,.3 .8,1 .8,3 .8-7.6 .8,4.5 .8,3.3 .8-3.8 .8,3.4 .8-8.2 .8,1.8 .8,1.8 .8,.1 .8,1.2 .8,3.5 .8-3.9 .8,2.7 .8,.1 .8-1.4 .8,5.3 .8-5.7 .8,5 .8-5 .8,2.8 .8-.9 .8-2.8 .8,3.7 .5,2.4 .3-1.9 .8-1.9 .8,3.4 .8-1.7 .8-.7 .8-7.6 .8,5.7 .8,2.8 .8-4.6 .8-4.5 .8,4.4 .8,1.4 .8-2.6 .8,2.9 .8,2.3 .8-2.9 .8,.7 .8,4.2 .8-3.6 .8-2.3 .8,3 .8,.4 .8-1.1 .8-.4 .8-1.2 .8,7.4 .8-7.9 .8,2.5 .8,1.2 .8,1.6 .8-3.2 .8,1.7 .8-2.6 .8,1.9 .6-4.9 1-5.3 .8-11.6 .8-9 .6-8.5 1-10.6 .8-3.2 .4-1.1 .4,8.5 .8,6 .8,11.8 .8,6.1 .5,2.8 .3,1.7 .8,5.2 .8,4.1 .8-.6 .8,5.4 .6,2.6 1,2.5 .8,.8 .8-5.7 .8,1.5 .8-1.6 .8,8 .8-4.2 .8-2.5 .8,7.9 .8-4.6 .8,.9 .8,.7 .8,1.6 .8-6.7 .8,4 .8,2.2 .8-1.4 .8-.6 .8-1.6 .8-1.6 .8-3.4 .8,2.7 .8,5.2 .8-.4 .8-.6 .8,1.3 .8,4.1 .8-4.4 .8-.8 .7,7.1 .9-6.5 .8-1.6 .8,4.7 .8-4.5 .8,1.8 .8,1.1 .8,2.5 .8-4.5 .8,2.9 .8-4.3 .8,3.5 .8,.8 .8,.4 .8,4 .8-4.6 .8,0 .8-1 .8-.7 .8,1.7 .8-.7 .8,2.6 .8-3.7 .8,3.4 .8-.1 .8-1.1 .8,1.3 .8-.7 .8-1.9 .8-.5 .8-3 .8,1.4 .8,1.3 .8,1.7 .8,.4 .8-1.6 .8-1.3 .8,2.8 .8-.3 .8-2.8 .8,4.2 .8,.9 .8-2 .8-3.6 .8,2.8 .8,.4 .8-2.8 .8,3.9 .8-1.8 .8,1.7 .8-2.9 .8,.7 .8-.2 .8,2.6 .8-4.2 .8,2 .8,3.8 .8-3.8 .8-2.4 .8,5.2 .8-.1 .8-5.3 .8,3.4 .8-3.3 .8,2.9 .8,2.1 .8-1 .8-4.2 .8,.9 .8,5.9 .8-1.6 .8-1.8 .8,1.2 .8-3.1 .8-1.8 .8,.5 .8,4.3 .8-2.6 .8,3.7 .8,.8 .8-1 .8-2.7 .8-.2 .8-.4 .8,1.8 .8,2.3 .8-2.1 .8,4.1 .8-2.8 .8-2.1 .8-1.7 .8,1.4 .8-1.1 .8,3.8 .8-1.4 .8,4.2 .8-3 .8,.2 .8-3.5 .8,.6 .8,2.8 .8-.1 .8-2.7 .8,.9 .8,1.7 .8,1.8 .8-1.8 .8-1.6 .8,1.9 .8,1.5 .8-1.8 .8-4 .8,1.7 .8,2.5 .8,1.1 .8-.9 .8-3.2 .8-.6 .8,8.1 .8-3.3 1-1.1 .6,.7 .8,1.1 .8-1.6 .8,.2 .8,2.4 .8-5 .8,.2 .8,1.8 .8-.7 1-.7 .6,.9 .8-2.6 .8,2.1 .8-2 .8,4.4 .8-5 .8,1.3 .8,1.7 .8-3.5 .8,1.9 .8-2.6 .8,.5 .8,.5 .8,1.3 .8,.7 .8-4.6 .8,6.1 .8,.1 .8-1.3 .8-1.3 .8,2.7 .8-1 .8,6 .8-2.3 .8-2.1 .8-1.1 .8,2.1 .8-3.6 .8-.3 .8,4.1 .8-6.5 .8,3.5 .8-1.7 .8,2 .8,1.2 .8-2.4 .8,2.9 .8-1.9 .8,3.1 .8-1.7 .8,3.6 .8,.9 .8-3.4 .8-5.5 .8,3.7 .8,.6 .8-3 .8,1.8 .8,4.1 .8-4.5 .8,1.6 .8,3.7 .8-6 .8-.5 .8,2.6 .8-2.8 .8,2.5 .8,1.4 .9-.3 .7-3.1 .8-2.5 .8,.2 .8-2.7 .8-1.8 1.1,.9 .5-12.3 .8-1.5 .8-10.7 .8-3.3 .8-8.6 .5-4.7 .3-1.1 .8,.3 .6-4 1,8 .8-.7 .7,6.4 .9,8.4 .8,9.2 .8,10.5 .8,2.5 .8-.5 .8-1 1,6.9 .6-3.1 .8,.4 .8,1.5 .8-.1 .8,2.2 .4-7.8 .4-5.1 .8-8 .8,.5 .5-11.6 .3-9.6 .8-28.5 .6-27.4 1-91.7 .7-59.8 1.1-52.6 .6,27 .8,43.1 .8,50.8 .9,51 .7,55.3 .6,39.8 1,10.1 1,9 .6-6.1 .8,3.5 .8,3 .8,.2 .4-1.4 .4-12.1 .8-13.6 .5-11.4 .3-3.3 .8-1.7 .8-7.2 .6-3.9 1,9.6 .8,7.6 .7,2.8 .9,8.5 .8,10.8 .8,9 .8,7.3 .8,6.9 .8,2.9 1,6.3 .6-1.8 .8,4.1 .8-1.2 .8,1.9 .8,2.3 .8-.3 .8-1.1 .8,3.1 .8,3.4 .8-5.7 .8,4 .6-.3 1-.8 .8-.8 .8-3.1 .8,0 .8,2.6 .8-4.4 .8,.9 1-1.9 .6,.1 .8-3.5 .8-9.8 .8-4 .3-6.8 .5,6.4 .8-2.1 .8-5.1 .4-5.5 .4,3.6 .8,3.2 .5-7.5 .3,3.6 .8,12.4 .8,3.8 .7,8.1 .9-.9 .8,3.2 .8-.9 .8,4.5 .8,1.8 .8,0 .8,2.9 .8-1.6 .8-2.6 .8,3.1 .8,.4 .8-2.4 .8,1 .8,1.6 .8-.9 .8-2.2 .8,1.4 .8,0 .8-3.4 .8,2.8 .8,1.7 .8-2.1 .8-1.8 .8,8.5 .8-1.3 .8,.5 .8-2 .8-1.2 .8-6.9 .8,8.5 .8,1.3 .8-7.2 .8,2.8 .8-.9 .8,3.9 .8-6.4 .8,7.4 .8-1.9 .8-4.1 .6-.9 1,5.3 .8,1.4 .8-6.1 .8,.6 .8,.4 .8,3 .8-1.8 .8-.6 .8,0 .8-.8 .8,2.9 .8,.9 .8-2.9 .8,.8 .8-3.9 .8,5.4 .8-2.6 .8,3.2 .8-6.9 .8,8 .8-2.2 .8,.7 .8,1.3 .8-2.2 .8,2 .8,.2 .8-1.7 .8,3 .8-1.7 .8-2 .8,1 .8-.3 .8,1.8 .8,4 .8-5.5 .8,3.3 .8-6.2 .8,1 .8,.2 .8,1.9 .8-.6 .8,3.4 .8-3.2 .8,.3 .8,2.4 .8-4.4 .8,2.7 .8,1.9 .8-3.5 .8,4.7 .8-2.7 .8-1.2 .8,.6 .8,1 .8-6.8 .8,7.4 .8-3.4 .8,6.3 .8-7.4 .8,4.5 .8,2.3 .8,2.1 .8-5.2 .8-.1 .8,.3 .8-2.3 .8,.2 .8-.7 .8,2.6 .8,1.2 .8-2.8 .8,.9 .8-.6 .8-3.8 .8,5 1-2.9 .6,3.7 .8,.5 .8-.2 .8,.9 .8-1.5 .8-1.9 .8,4.7 .8-3.5 .8,3.8 .8-2 .8-6.4 .8-.1 .8,4.3 .8-2 .8-.6 .8-1.3 .8,1.2 .8,.5 .8-1.8 .8,2.3 .8-1.8 .8,2.2 .8-2.3 .8,5 .8-2.7 .8-2.6 .8,.5 .8,4.4 .8,2.2 .8-2.9 .8-4 .8,3 .8,.3 .8-1.3 .8,2.6 .8,.6 .8-.5 .8,1.5 .8-2.8 .8-1.7 .8-1.5 .8,3.7 .8-5.2 .8,8.4 .8-1.3 .8-.7 .8-4.1 .8,2.3 .8-3 .8,.5 .8,1.7 1.1-2 .5-1.5 .8-.6 .8-2.8 1.1-1.9 .5,2.9 .8-.3 .8,4.2 .8,4.7 1,3.7 .6-4.1 .8,.6 .8-2.5 .8,1.4 .8-4.4 .8,3.4 .8,4.1 .8-6.6 .8,3.1 .8-2.5 .8,2.9 .8-4.3 .8,5.8 .8-3.1 .8-3.1 .8,2.7 .8-1.9 .8,.4 .8-.1 .8,4.4 .8-2.4 .8,2.7 .8-3.4 .8,.4 .8-6.9 .8,4.9 .8,1.5 .4-1.4 .4,2.3 .8-7 .8,.2 .8-2.3 .8-3.3 .8-.3 .4-.8 .4,2.3 .8-.2 .8,.9 .8-2.3 .4-4.6 .4,3.3 .8-.2 .8,7 .8,3.9 .8-.9 .8,2.8 .4,.7 .4-3.1 .8,4.5 .8-2.9 .8,1.6 .8-3.6 .8,7.7 .8-1.4 .8-2.7 .8,.8 .8,2.7 .8-5.1 .8,3.1 .8,1.2 .8-2.3 .8,1.4 .8-1.8 .5-.4 .3,3.5 .8-6.4 .8-1.7 .8-4.8 .8-4.2 .8-2.1 .5-5.6 .3-.5 .8-.8 .8-.2 .8-2.2 .5,.9 .3-5 .8,5.5 .8,8.8 .8-2.5 .8,8 .8,2 .5,.1 .3,3.1 .8-3.3 .8,10.6 .8-3.6 .8-.8 .8-1 .8,3.4 .8,2.9 .8-1.8 .8,5.8 .8-3.5 .8,1.2 .5-1.7 .3-1.6 .8,6.2 .8-6.3 .8-1.2 .8,6.4 .8-6.6 .8,5.3 .8,1.5 .8,2.1 .8-.8 .8-3.4 .8,3.8 .8-6.8 .8-1 .8-2.2 .8,5.8 .8-.3 .8,1.6 .8-5.5 .8-2.8 .8,2.5 .8,5.5 .8-.1 .8-8.4 .8,9.9 .8-.8 .8-2.3 .8-1.7 .6-.2 1-4 .8-2.4 .8-2.5 .8,1.4 .8-3.7 .6-3.5 1,4.5 .8,2.3 .8,3.3 .8-.5 .8,4.3 .6,1.5 1-1 .8,3.1 .8-4.9 .8,4.6 .8-5.7 .8,4.9 .8,2.9 .8-1.3 .8-1.4 .8,0 .8,3.4 .6-5.4 1,2.6 .8,.3 .8-.5 .8,.6 .8,.5 .8,.7 .8-2.3 .8,3 .8-1.3 .8,1.7 .8-1 .8-2.8 .8-.5 .8,8.8 .8-5.9 .8-4.3 .8,0 .8,5.5 .8-3.4 .8,2.3 .8-3.5 .8,2.5 .8-1.2 .8-3.5 .8,2.3 .8,.4 .8,2.8 .8-6.6 .8,3.1 .8-1 .8,2.6 .8,3.4 .8-2.2 .8-6.9 .8,6.3 .8,1.1 .8-3.5 .8,0 .8,4 .8-2.4 .8,1.3 .8,.4 .8-3.4 .8,5.1 .8-2.8 .8,.5 .8-2.8 .8,3.7 .8-.2 .8,.2 .8,.9 .8-3.5 .8,1.7 .8-.6 .8,4.6 .8-2.8 .8-.9 .8-.1 .8,.9 .8-1.4 .8-.2 .8,.5 .8-4 .8,1.4 .8,2.1 .8-1.9 .8,4.3 .8,2.4 .8-5.4 .8,.6 .8-1.1 .8,1.5 .8,.7 .8,.1 .8,.6 .8-2 .8,3.6 .8-1.2 .8,1.3 .8-.9 .8-4.2 .8,1.9 .8,.6 .8,2.8 .8-4.3 .8,5.1 .8-3 .8-.2 .8,2.1 .8-3.9 .8,.2 .8,1.1 .8-.5 .8-.9 .8,1 .8-3.4 .8,8.8 .8-6.3 .8-1.4 .8,2.1 .8,.6 .8-1.7 .8-.2 .8-2.9 .8,4.3 .8,3 .8-.8 .8,0 .8-2.3 .8,2.7 .8,1.6 .8,.9 .8-3.9 .8,2.3 .8,2.4 .8-4.3 .8-1.2 .8,.8 .8-.8 .9-3.8 .7,3.1 .8-1.6 .8,.7 .8-1.4 .8-.1 .8,1.1 .8,1.1 .8-1.3 .8,4.6 .8-1.7 .8,3.3 .8-5.4 .8,2.9 .8-2.7 .8-1.9 .8-.6 .8,2.8 .8-3.4 .8,2.2 .8-3.1 .8,5 .8-5.3 .8,3.2 .8,.6 .8-2.2 .8,1.4 .8,3.8 1-7.4 .6-3.4 .8,2.3 .8-4.5 .8-5.6 .8-1.1 1-6.9 .6-2.9 .8-9.3 .8-6.9 .8-5.8 .8-1.5 .4-3.3 .4,5.4 .8,2.2 .8,8.9 .8,1.3 .8,10.8 .9,7.4 .7-7.5 .8-.9 .8-5.4 .8-5.2 .8-5.9 .8-5.5 .4,5.4 .4-2.2 .8,3.3 .8,9.3 .8,1.3 1.1,4.1 .5,5.8 .8,4.6 .8,1.4 .8,2.1 .8,2.1 .8,5.4 .8,1.3 1.1-1.5 .5,5.2 .8-2.2 .8-3.1 .8,1.4 .8,.1 .8,4.7 .8-2.7 .8-2.1 .8,3.5 .8-2 .8-.7 .8,2.2 .8-1.8 .8,1.2 .8-3.1 .8,2.4 .8,1.6 .8-2.1 .8,1 1.1,3.5 .5-5.8 .8-4.9 .8-2.1 .8,1.7 .8-2.4 .8-2.1 .8-4.6 .8,3.9 .3-3.7 .5,2.9 .8-5.3 .8-3.5 .8,3.5 .8-5.1 .5-1 .3,1.6 .8,.5 .8,3.3 .8,1.4 .8,9.5 .8-.7 .8,4.9 .4,1.8 .4,2.4 .8-2.3 .8,5.3 .8-7.7 .8,5.9 .8,3.2 .4-2.7 .4,5.9 .8-2.3 .8-4.2 .8,.4 .8,3.6 .8-1.3 .8,3.5 .8-4.3 .8-3.9 .8,6.3 .8-2.7 .8,.1 .8-.9 .8,2.9 .8-5.4 .8,3.9 .8,1.5 .8-2 .8,2.6 .8,.2 .8-1 .8-.5 .8-.9 .8,1.4 .8,0 .8,.9 .8-2.4 .8,3.5 .8-3.1 .8,1.7 .8-.6 .8-.7 .8-2 .8,.1 .8-3.4 .8,1.5 .8,.7 .8,2.6 .8-3.7 .8-.3 .8-.2 .8,8.6 .8-4.8 .8,2.1 .8,.7 .8,.8 .8-2.6 .8,2.1 .8-2.5 .8-.8 .8,.2 .8,1.1 .8,.4 .8-1.6 .8,2 .8-1.8 .8,2.6 .8-1.8 .8-3.4 .8,4 .8-1.5 .8,2 .8,.3 .8-2.3 .8,.1 .8,2.8 .8,.7 .8-6.7 .8,4.9 .8-1.3 .8-3.2 .8,2.4 .8,3.7 .8-2.2 .8,1.4 .8,.5 .8-3.3 .8,.3 .8-.5 .8-2.6 .8,6.1 .8-5.4 .8,1.8 .8,2.2 .8-.6 .8,5.1 .8-6.2 .8,1.3 .8,1.4 .8-3.6 .8,5.5 .8-1.7 .8-.7 .8-1.2 .8,2.6 .8,1 .8-4.6 .8-.6 .8,.8 .8,2.4 .8-1.3 .8-5.4 .8,3.7 .8-3.7 .8,5 .8-.4 .8-1.8 .8-5.2 .8,1.7 .8,7.7 .8,2.5 .8-3.6 .8-.1 .8-2.3 .8,1.6 .8,1.4 .8-2.2 .8,1.2 .8-3 .8,3 .8-3.7 .8,7.2 .8-5.3 .8,.2 .8,1.7 .8-1 .8,2.4 .8-4.7 .8,7.2 .8-3 .8-1.1 .8-.7 .8-.5 .8-4.8 .8,2.5 .8,5.1 .8-2.8 .8,1.2 .8-3.9 .8,1.4 .8,.3 .8-.9 .8,.3 .8,2.4 .8-6.3 .8,6.3 .8-5.1 .8,3 .8-5.1 .8,5.3 .8,1.5 .8-.1 .8,.2 .8,3.7 .8-6 .8-3.7 .8,3.9 .9-3.1 .7,3 .8-2.4 .8-1.7 .8-3.7 .8,.5 .8,.3 .8-6.6 .9,2.1 .7,3.3 .8-5.6 .8,3.8 .8,3.4 .8-1.1 .8-1.5 .8,1.5 .9,1 .7-3.5 .8-3.7 .8-3.6 .8-1.6 .8-3 1-4.5 .6-.1 .8-1.9 .8-.2 1,1.4 .6,.8 .8-2.2 .8,2.1 .8,8.5 .8,3.8 1-.4 .6,1.5 .8,1.5 .8,1.7 .8,4.8 .8-1 .8,5.5 .8,.5 1,.6 .6,2.7 .8-1.5 .8,3 .8-3.8 .8-2.3 .8,6.6 .8-4.9 .8,1.3 .8,2.5 .8-.9 .8-1.7 .8,1.1 .8,1.6 .8-1.5 .8-3 .8-.2 .8-1.1 .8-2.1 .8,.6 .8-.1 .8,3.9 .8-3.4 .8,8.3 .8-6.8 .8,2.4 .8-1.2 .8,1 .8-3.6 .8,2.6 .8-.6 .8,2.1 .8,.7 .8,.2 .8-2.3 .8,2 1.1,0 .5-1.9 .8-1.5 .8,1 .8-.4 .8-.4 .8,0 .8,1.2 1.1-.5 .5-3.4 .8-.1 .8,2 .8,.1 .8-2.6 .8,2.5 .8,.7 .8-5.1 .8,3.9 .8-6.5 .8,4.7 .8,4.3 .8-4.9 .8-1.3 .8,3.8 .8-4.2 .8,6.9 .8-3.7 .8,2.3 .8,1 .8-3.1 .8,2.3 .8-.4 .8,1.1 .8-.2 .8-1.7 .8,6.1 .8-2.4 .8-1.2 .8,2.2 .8-.5 .8-.5 .8-.3 .8-.8 .8,.2 .8-1 .8-.3 .8,3.1 .8-2.4 .8,1.8 .8-.3 .8,2.9 .8,.7 .8-3.4 .8-2.4 .8-.1 .8-2.1 .8,2 .8-1 .8,5.2 .8-2.7 .8-2.4 .8,3.1 .8,.7 .8-.9 .8,.3 .8,1.6 .8,.8 .8,1.3 .8-4.3 .8-1.9 .8,3.1 .8-.3 .8-4.4 .8,5.2 .8,.7 .8-.6 .8-.7 .8,1.5 .8-3.7 .8,2 .8,3.5 .5-5.1 .3,4.9 .8-5.1 .8,1.1 .8,2.1 .8-4.2 .8-.1 .8-3.2 .8,6.8 .8-1.3 .8-.8 .8-1.3 .8,1.2 .8,4.4 .8,1.6 .8-9 .8,1.1 .8,2.1 .8,3.1 .8-1 .8-6.8 .5,.1 .3-.3 .8,.9 .8-3.5 .8,.8 .8,.2 .8-5.4 .8,1 .8,2.4 .5-5.4 .3,1 .8,2.3 .8,2.4 .8-4.7 .8,6.4 .8-2.4 .8,4.5 .8-5.4 .8,7.8 .8-1.6 .8-1.7 .8,5.3 .6-4.4 .2,1.2 .8,.3 .8-.8 .8-1.4 .8-3.3 .8-1.4 .8-3.1 .8,2.4 .8,.2 .8-1.8 .6-.3 1,5 .8-2.7 .8-1.9 .8,2.9 .8,2 .8,.5 .8,2.1 .8,1.9 .8-6 .6-.7 1,3.8 .8-2.5 .8,5.3 .8-4.9 .8,3.7 .8-.4 .8,6.5 .8-12 .8,6.1 .6-7.4 1-7.9 .8-1 .8-4.4 .8-3.4 .8-3.6 .6-3.6 1-5.4 .8-3.4 .8-.1 .8-6.1 .5-1 .3,3.1 .8-2.7 .8,6.2 .8,5.1 .8,.6 .7,6.5 .9,7 .8,.4 .8,6.8 .8-.7 .8,3.5 .8,2.6 .8,4.6 .7,3.9 .9-1 .8,.7 .8,.5 .8-6.1 .8,1.6 .8-1 .8,1.6 .8,1.6 .8-4 .8,1.9 .8,1.9 .8-2.5 .8-1.2 .7,.5 .9,5.7 .8-5.8 .8,9.2 .8-7 .8,1.1 .8-1.7 .8,2.3 .8,6.2 .8-1.6 .8,2.8 .8-.4 .7-2.2 .9,2.2 .8,1 .8-.7 .8,.2 .8,2.3 .8,.5 .8-.2 .8,.2 .8-2.4 .8-3.2 .8,.4 .8-.8 .8,4 .8,2 .8-3 .8-1.7 .8,.9 .8,4 .8-2.4 .8,1.2 .8,2.2 .8-1.7 .8-2.3 .8-.6 .8-3.8 .8,8.4 .8-4.8 .8,4.1 .8,.7 .8-1.1 .8-.6 .8-4.4 .8,5.4 .8-5.5 .8,4.3 .8-2.8 .8-1.4 .8,2.2 .8-2.7 .8,6.8 .8-4.8 .8,2.5 .8,.3 .8-4.9 .8,.4 .8,0 .8,.4 .8,.5 .8-2 .8,3.3 .8,1.6 .8-5.7 .8,1.4 .8,2.1 .8,.8 .8-.5 .8-4.2 .8,5.6 .8-2 .8,2 .8,.3 .8-3.2 .8,4 .8-3.7 .8,3.4 .8-1.6 .8-1.3 .8,3.2 .8-2.5 .8,2.6 .8-4 .8,2.9 .8-5.6 .8,5.7 .8,3.1 .8-4.3 .8,1.4 .8-1.7 .8-.5 .8-1 .8-.7 .8-.3 .8,.7 .8,3.3 .8,1.6 .8-2.6 .8,3.1 .8-5.1 .8,4.6 .8,.6 .8-4.9 .8-.9 .8,2.3 .8-.7 .8,3.6 .8-5.6 .8-.5 .8,1.2 .8-1.7 .8-1.8 .8,3.3 .8-.2 .8-3.2 .8,7.7 .8-7.1 .8,1 .8,1.2 .8,1.8 .8-2.3 .8,2.1 .8-4.2 .8,4.9 .8,1.5 .8-1 .8-2.7 .8-.7 .8,.9 .8,0 .8-.2 .8,2.4 .8-4.1 .8,4.2 .8-.2 .8-.8 .8-2.9 .8,2.2 .8-2.4 .8,1.2 .8-1 .8,4.3 .8-5.3 .8,1.5 .8,4.2 .8-.6 .8-1.9 .8-2.3 .8,8.2 .8,.2 .8-1.8 1.1-2.8 .5-5.8 .8,4.4 .8,1.4 .8,2.6 .8-8.9 .8-.4 .8,3.4 .8,.1 .8-1.5 .8-2 .8-.3 1.1-5.3 .5,3.1 .8-.7 .8-7.2 .8,3.8 .8-2.1 .8-.5 .8-1.8 .5-1.6 .3,6.4 .8-1.8 .8,1.4 .8,1.4 .8,3.7 .8-2.5 .8,3.2 .3-.9 .5-2.7 .8,2.5 .8,5 .8-5.1 .8,3.4 .8,1.6 .8-1.6 .8,2.6 .8,.8 .8,2.8 .3-.2 .5-5.9 .8,2.9 .8,3.6 .8,0 .8-5.1 .8,7 .8-.6 .8-4.5 .8,3.4 .8-.1 .8-3.6 .8,4.7 .8-8.3 .8,2.2 .8-.7 .8,2 .8-.9 .8,3.1 .8,3 .8-4.4 .8-.7 .8,2.4 .8-3.8 .8,0 .8,1.7 .8,2.9 .8,.7 .8-3.7 .8,.9 .8,3.3 .8-4.6 .8,4.8 .8-5.2 .8,3.3 .8,1.5 .8-.9 .8-2 .8,2.5 .8-.1 .8,.7 .8-4.5 .8,2 .8,.4 .8-3.5 .8,2.1 .8-1.2 .8,1.8 .8,5.1 .8-5.3 .8,1.6 .8-3.3 .8,.4 .8-.8 .8,.3 .8-4.6 .8,1.7 .8,5 .8-.8 .8-1.7 .8,4.6 .8-2.2 .8,2.3 .8-.9 .8-1.1 .8,3.1 .8-3.4 .8,4.6 .8-6.1 .8,.5 .8,2.9 .8-2.8 .8-.6 .8,5.6 .8-6.1 .8,.1 .8,1 .8,.4 .8,1.1 .8-1 .8,1.1 .8-1.4 .8-1.9 .8,3.4 .8-1.3 .8-2.9 .8,4.7 .8-2 .8,2.5 .8,.7 .8-.8 .8,.9 .8-1.2 .8-.2 .8-2.3 .8,1.2 .8,.2 .8,2.6 .8-1.2 .8-3.6 .8,.1 .8,1.7 .8,.6 .8-5.6 .8,5.8 .8,3.7 .8-6.2 .8,1.1 .8,2.3 .8-1.9 .8,.9 .8-.3 .8-1 .8-.4 .8,3.4 .8-2.3 .8-1.6 .8,2.4 .8,1.2 .8-2.4 .8,1.8 .8-3.5 .8,.6 .8,3.6 .8-2 .8-1.4 .8,1.8 .8-3 .8,0 .8,5 .8,.8 .8-5 .8-.2 .8-.3 .8-1 .8,.4 .8,.4 .8-.9 .8,1.7 .8-1.1 .8,3 .8-6.7 .8,2.1 .8-9 .8,2.9 .8-3.4 .8,1.9 .8-.8 .8-.4 .8-2 .8-.5 .8-2.8 .8-1.3 .8,1.3 .8-2 .8,.6 .9,.1 .7-2.7 .8,6.5 .8-2.9 .8,2.5 .8,2.1 .8,2.2 .8,1.9 .9,0 .7,1.6 .8,5.4 .8-6.5 .8,9.4 .8-5.6 .8,.6 .8,5.3 .8-2.2 .8,.4 .9,.6 .7,3 .8-3.5 .8,2.1 .8-2.9 .8,.1 .8,.7 .8-3.3 .8-.4 .8,2.8 .8-3.3 .8-2.7 .8,5.8 .8-2.1 .8,.5 .8-4.4 .8,.9 .8,3.9 .8-1.8 .8,3.6 .9,1.3 .7-6 .8,.4 .8,2.6 .8-6.4 .8,6.3 .8-2.6 .8,2.1 .8,4 .8-1.5 1,1 .6,2.8 .8-2 .8,4.6 .8-6.2 .8-1.1 .8,1.1 .8-4.1 .8,7 .8,.1 .8-.4 .8-1.8 .8,.7 .8,2.4 .8-5.5 .8,5.2 .8-7.6 .8,2.7 .8-3.2 .8,6.9 .8-1 .8-3.4 .8,.4 .8,5.1 .8-4.4 .8,2.7 .8-.3 .8,3.2 .8-5.1 .8,5.6 .8-.7 .8-2.1 .8-.7 .8,2.1 .8-4.1 .8,2 .8-3.5 .8,5.2 .8-.7 .8-1.4 .8,.3 .8,.1 .8,.9 .8,1 .8,2.5 .8-1.8 .8-3 .8,.2 .8,.9 .8-4.8 .8-1 .8,1.2 .8,2.9 .8-1.6 .8,2.8 .8-.8 .8-.1 .8,3.4 .8-1 .8,2 .8-.3 .8-.2 .8-3.6 .8,2.4 .8,1.4 .8-3.6 .8,2.1 .8-1.6 .8,.4 .8,.5 .8-1.2 .8-.6 .8-2.9 .8,6 .8,1.2 .8-3.4 .8,2.8 .8,.3 .8,3 .8-6 .8-1.8 .8,5.1 .8-2.9 .8,1.1 .8-4 .8,2.4 .8-2.3 .8,4.8 .8-5.7 .8-1.1 .8,4.1 .8,.6 .8-2.6 .8,3.9 .8-3.6 .8-.3 .8,1.3 .8-2 .8,2.9 .8-3.9 .8,4.8 .8-3.4 .8,3.8 .8-2.1 .8,2.3 .8-2.3 .8,2.9 .8,1.5 .8-3.6 .8,2.4 .8-1.5 .8-1.2 .8,.7 .4-3.1 .4,5.1 .8,.6 .8-7.8 .8,3 .8-.9 .8-4.2 .8-.8 .8-2.4 .5-1.3 .3,4.8 .8-1.3 .8,.9 .8,1.5 .8,2.6 .8-.5 .8,2.8 .8,4 .5-.8 .3,2.5 .8,3.4 .8-10.4 .8,4.1 .8,1 .8-1.5 .8-2.1 .8,1.4 .8-4.3 .8,.8 .8-1.2 .8,1.4 .8-.5 .8,4.7 .8-3.9 .8-.6 .8,2.2 .8-1.6 .8-1.3 .8,1.6 .8,3.4 .8-1.5 .8-1.6 .8-.9 .5-4.5 .3,7.4 .8-4.2 .8,2 .8-1.4 .8-3.6 .8,3 .8-2.6 .8,.9 .8,6.1 .8-4 .8-3.7 .8,3.4 .8-4.7 .8,6.7 .8-8.9 .8,6.1 .8-1.5 .8-2.4 .8,1.7 .8,2.7 .6-3.5 1-2.5 .8,4.5 .8,0 .8-2.7 .8,.3 .8-.3 .8,1.8 .8,1.5 .8,.6 .8-1.8 .8,2.5 .8-2.8 .8,3.8 .8,0 .8-3.3 .8,2.8 .8,.7 .8,2 .8-2 .6,5.1 1-4.2 .8-3.2 .8,1.9 .8,1.7 .8,2.6 .8-3.9 .8,7 .8-5.2 .8-9.4 .8,6.9 .8-.8 .8-2.2 .8,4.8 .8,.2 .8-.8 .8-3.3 .8,4.4 .8-4.4 .8,2.5 .8,3.9 .8-3.5 .8,1.4 .8-2.5 .8,2 .8-1.8 .8,3.5 .8-.4 .8-.8 .8-3.3 .8,.6 .8-2.7 .8,.1 .8,1.1 .8,2 .8-2.4 .8,5.2 .8-5.7 .8,7 .8-4.1 .8,2.2 .8,.9 .8-1.7 .8-1.9 .8,3.9 .8,2.8 .8-7.3 .8,1.2 .8,2.4 .8-.4 .8-.6 .8-1.6 .8-.4 .8,3 .8-2.1 .8-1.9 .8-1.1 .8,5.9 .8-5.3 .8,1.9 .8-2.4 .8,1.2 .8,1.1 .8,2 .8-.7 .8,.3 .8,1.1 .8,.3 .8-3.4 .8,3.9 .8-.1 .8-.5 .8-1.5 .8,.1 .8,.9 .8,1.9 .8-4.5 .8-.5 .8,1.9 .8-3.6 .8,2.7 .8,.7 .8-4.7" fill="none" stroke="#FF0000" stroke-width="6" stroke-linejoin="round" stroke-linecap="round"/>
<path d="M269.4,2188.7l.9,.8 .9-1 .9-.5 .9,.7 .9-3.2 .9,1.2 .9,.9 .9,1.6 .9-.3 .9,1.1 .9,.2 .9,.6 .9-.7 .9-1.8 .9,2.1 .9-1.4 .9,3.1 .9-1.8 .9-.7 .9,.2 .9-2 .9,2.2 .9-1.8 .9,2.6 .9-3.8 .9,.4 .9,4.3 .9-.4 .9,0 .9-4.4 .9,.1 .9,.7 .9-.1 .9,2.9 .9-1 .9,.1 .9-.8 .9-.4 .9,5.1 .9-1.7 .9-2.6 .9,3.9 .9-3.2 .9,.2 .9,1.7 .9-3.7 .9,.5 .9-.4 .9,3.6 .9,.4 .9-2.4 .9,2.7 .9-4.9 .9,2.1 1.2,2.1 .6-2 .9,.8 .9,.1 .9,.6 .9-.7 .9-2.2 .9,1.9 .9,0 .9,1.5 .9-3.5 .9,1.4 .9,3.1 .9-1.2 .9,2.9 .9-4.1 .9-5 .9,6 .9-1.4 .9-1.4 .9-1.8 .9,2.3 .9,1.7 .9-.4 .9-.8 .9,1 .9-.3 .9-1.5 .9,2.3 .9,0 .9,3.2 .9-2.9 .9-2 .9,2.8 .9-.3 .9-1.9 .9-1.2 .9,4.3 .9-4.6 .9,2.3 .9,1 .9-1.8 .9,.7 .9,.8 .9-2 .9-1.6 .9,1.5 .9,1.1 .9,2.1 .9-3.3 .9,4.4 .9-3.7 .9,3.4 .9,.9 .9-1.1 .9-2.7 .9,2.6 .9-1 .9-.9 .9-1 .9-.5 .8,.4 1,2.3 .9-4.7 .9-2.2 .9-3.4 1.2-.4 .6-6 .9-8.1 .7-4.4 1.1,3.7 .9,5.6 .9,3.3 .9,2.4 .4,3.5 .5-.7 .9-8 .9,1.5 .9-2.5 .9,2.2 .9,4.4 .9,.4 .5,1.1 .4,.4 .9,4.7 .9-.6 1,5.4 .8-.8 .9-.2 .9,.2 .9-.5 .9,.5 .9,2.2 .9-.2 .9,4.1 .9-1.5 .9-2.2 .9,2.2 .9-.9 .9,.4 .9,2.6 .9,.1 .9-3.1 .9,2.9 .9-1.8 .9,2.5 .9-1.5 .9-2.7 .9-2.5 1.2,4.8 .6,0 .9,.1 .9,4.3 .9-3.2 .9,1.5 .9-3.1 .9,2.8 .9-2 .9-1.5 .9,1.8 .9,.4 .9-1.9 .9,4.2 .9-2.1 .9-1.9 .9-1.6 .9,4.7 .9,.3 .9-.4 .9-2.6 .9-.1 .6,2.3 .3-1.6 .9-.6 .9-.9 1.1-.9 .7-1.7 .9,2.2 .9,1.3 .9-.4 .9,4.3 .5-2.9 .4,2 .9-1.2 .9,3 .9-1.8 .9-1.4 .9,1 .9-1.6 .9,3 .9-1.5 .9,.1 .9,.7 .9,0 .9-1.5 .9-1.4 .9,3.7 .9-1.3 .9-.1 .9,1.1 .9-1.5 1.1,3.3 .7-6.1 .9-3.5 .9-2.8 .7-3.7 1.1-11.2 .9-8.6 1.2-12.7 .6,8 .9,7.9 .9,12.1 .8,4.2 1,3.4 .9,3.3 .9,5.7 .4,1.7 .5-1.9 .9,2.8 .9-3.7 .9,1.2 .9,1.1 .9,.2 .9-.9 .9,3.6 .9,0 .9-1.2 .9,0 .9,.5 .9,.2 .9,1.4 .9-.6 .9-.8 .9-1.1 .9-1.7 .9-.4 .9,3.4 .9-2.1 .9,1.3 .9,2.4 .9-.8 .9-.6 .9,.4 .9,.9 .9,.6 .9-2 .9-.2 .9,.8 .9,1.3 .9,3.8 .9-3 .9-.5 .9,1.3 .9,.5 .9-2.9 .9-2.2 .9,7.6 .9-4.8 .9-.1 1.1,2.4 .7-3.7 .9,.9 .9-2 .9,4 .9-3 .9,1.7 .9,1.1 .9-1.4 .9,4.3 .9-3.9 .9-2.2 .9,3.8 .9,.3 .9,.6 .9-3 .9,.4 .9,1 .9,1.2 .9-1.6 .9,2 .9-.6 .9-.4 .9-2.3 .9-1.4 .9,3.1 .9,1.7 .9-.4 .9-2.7 .9,2.5 .9-.9 .9,1.2 .9-2.3 .9,.1 .9,1.7 .9,2.4 .9-2.9 .9,.6 .9,2.1 .9-3.3 .9,0 .9-.6 .9,3.2 .9-2.3 .9-1.2 .9,1.5 .9,1 .9,.3 .9,.9 .9,.6 .9-1.4 .9-1.3 .9-2.2 .9,3.5 .9,.5 .9-.1 .9-.3 .9-1.3 .9,2.4 .9-3.9 .9,.9 .9-.7 .9,4.5 .9-.3 .9-.1 .9,1.8 .9-5 .9,2.7 .9-1 .9-.5 .9,2.8 .9-1.9 .5-.9 .4,2.9 .9-2.3 .9,.7 .9,1 .9-2 .9,.3 .9,1.3 .9,2.3 .9-5.4 .9,5.6 .9-.3 .9-.9 .9,.4 .9-2.7 .9,3 .9,1.3 .9-1.7 .9-2.8 .9,2.2 .9-1.4 .9,.7 .9,.4 .9,3.3 .9,1.4 .9-2.9 .9,2 1.2-3.2 .6,.2 .9,2.2 .9,1.4 .9-1.4 .9-5.9 .9,3.2 .9,.8 .9,.5 .9-2.2 .9,6.3 .9-7.4 .9,3.3 .9-1.4 .9,.5 .9,.9 .9-1.6 .9,1.2 .9-2.7 .9,1.3 .9,2.6 .9-2.3 .9,3 .9-1.3 .9-1.3 .9,1.9 .9-1.4 .9,3.8 .9-2.5 .9,1.8 .9-3.9 .9,2.9 .9-1.5 .9,1.2 .9-1.9 .9,3.3 .9,2 .9-4.2 .9-.6 .9,4.9 .9-5 .9,1.3 .9-.6 .9-1 .9,2.3 .9,.5 .9-3 .9,5.5 .9-1.5 .9-4.8 .9,4.2 .7,4.2 1.1-8.1 .9-.3 .9-.1 .9-8.4 1.2,3.2 .6-4.5 .9-7.8 .9-11.1 .6-1.1 1.2-2.5 .9,2.2 .9,4.3 .9,1.6 .7,3.2 1.1,7.3 .9,7.4 .5,3.4 .4,.9 .9,1.1 .9,0 .9,2.2 .9-.1 1,2.3 .8-1.1 .9,3.4 .9,.7 .9,.1 .9-3.4 .7,2.6 1.1-1.9 .9,0 .9-.1 .9-.1 .9-3.5 .9,2.2 1.1-1.6 .7-3.4 .9-6.9 .9-2.5 .9-3.8 .9-25.8 .8-17.6 1.1-83.2 .8-44.9 .6-28.8 .3,20.6 1,52.6 .8,47.1 .7,40 1.1,16.4 1.1,23.3 .7,7.1 .9,4.4 .6,5.2 .3,.4 .9-.9 .9,.4 .9,.6 .7,.2 1.1-11.2 .9-6.8 .9-4.3 .5-4.4 .4-3.9 1.2-11.2 .6-2.9 .9,3.6 .6-2.2 .3,4 .9,5.4 .9,8.8 .9,5.9 .9,6.3 .8,7.9 1,4.1 .9-1.3 .9,5 .9,3.8 .5-2.2 .4,0 .9-3.6 .9,.5 1.1-3.5 .7-8.2 .9-4.2 .9-2.9 .9-2.6 1.2-2.1 .6,5 .9,.9 .9,8.2 .6-2.2 .3,2.8 .9,2.2 .9,1 1.3,1.8 .5,3.4 .9,.3 .9,.4 .9-2.7 .9,3.7 .9-.3 .9,.4 .9-.2 .9-1 .7-.9 1.1,2.6 .9-2 .9,0 .9,1.5 .9,3.2 .9-1.7 .9,1.4 .9-1.9 .9,0 .9,1.7 .9,0 .9-.1 .9-.8 .9-1.4 .9,.3 .9,.1 .9,2 .9-2.9 .4,1.1 .5,1.2 .9,.4 .9-.1 .9-3.2 .9,2.6 .9-.6 .9,.5 .9,.5 .9,.5 .9-1.2 .9-1.4 .9,.8 .9-3 .9,1.1 .9,4.1 .9-2.2 .9-2.7 .9,1.7 .9,1.1 .9,.5 .9-2.7 .9,1.3 .9,3.3 .9,3 .9-4.7 .9-2.2 .9,1.5 .9-.2 .9,.9 .9,2.1 .9,1.5 .9-6 .9,2.5 .9,1.6 .9-.4 .9,.2 .9,.1 .9,3.4 .9-1.2 1.1-1.4 .7,3.5 .9-1.2 .9-3.2 .9,.1 .9,2.4 .9,.6 .9-2.6 .9,3.5 .9-1.4 .9,.9 .9-4.1 .9-.6 .9,3.3 .9-.3 .9,2 .9-2.9 .9,2.3 .9-4.7 .9,2.9 .9,2.6 .9-3.7 .9,.6 .9,1.5 .9,1.3 .9,1.2 .9-3.7 .9,.2 .9,5 .9,.5 .9-4.5 .9-.3 .9,1.8 .9,.6 .9-3.4 .9,4.3 .9-4.8 .9,2.3 .9-2.7 .9,4.6 .9-1.3 .9,.9 .9-2.5 .9,1.5 .9-3.4 .9,2.9 .9,3 .9-2.4 .9-2.5 .9,4.1 .9-2.8 .9,.2 .9,1.8 .9-3.6 .9,2.8 .9-.7 .9-2 .9,1.6 .9-.3 .9,.6 .9-1 .9,1.7 .9-.8 .9-.8 .9,.8 .9,1.1 .9-2.3 .9,2.7 .9-1.5 .9,.2 .9-2.4 .9,4.5 .9-4 .9,2.3 .9-.8 .9,2.2 .9-1.8 .9,1.1 .9-2.1 .9-.8 .9,2.7 .9-2.7 .9-1.6 .9-.5 .9,5.5 .9-.3 .9-1.8 .9,2.7 .9,.5 1.2-2.1 .6-1.4 .9,4.6 .9-6.1 .9,.8 .9-2 .9-3.3 .9,2.2 .9-1.2 .9,.9 1.2-2.1 .6,0 .9,4.8 .9-1.7 .9,0 .9,1.5 .9,.9 .4,.7 .5,2.6 .9-2 .9,1.2 .9-.5 .9-3.5 .9,1.4 .9-1 .9,.4 .9,3.3 .9,.8 1-1.5 .8-6.5 .9,3.4 .9-1.2 .9-.6 .9-4.7 1-3.1 .8,1.9 .9,5.4 .9,1.6 .9,1 .9-1.2 .9,2.9 .5,1.3 .4-2.4 .9,2.4 .9-1.3 .9-.4 .9-.9 .9,3.1 .9-3 .9,2.1 .9-3 .9,.1 .9,1.1 .9,2.4 .9-1.6 .9,.4 .9,1.3 .9,.7 .9-1.1 .9-.4 .9-.6 .9,3.1 .9-5.7 .9,.3 .9,3.1 .9,0 .9-1 .9,2.4 .9-3.1 .9,.3 .9,2.8 .9-3 .8,3.4 1-3.4 .9-.9 .9-2.5 .9-.8 .9-1.9 .9-5.7 .9-2.8 1,1 .8,.5 .9,1.3 .9,6.6 .9-.9 .9,5.1 1,1.7 .8,1.6 .9-3.4 .9,.3 .9,4.2 .9-3.5 .9,4.2 .9,.9 .9-3.7 .9,1.1 .9,1.1 .9-2.4 .9,1.9 .9-3.2 .9-.2 .9,4.2 .9-.7 .9-2.4 .9,0 .9,1.9 .9,1.5 .9-.4 .9,.4 .9-1.7 .9,.7 .9-.3 .9,2.6 .8-1.4 1-4.6 .9,0 .9-.4 .9-1.5 .9-1.3 .9,0 .9-1.7 .9-1.3 .7,2.1 1.1-2.1 .9,3.4 .9,.2 .9,.6 .9,1 .9,2.4 .9,2.1 .9-1.1 .7,2.8 1.1,1.1 .9-1 .9,0 .9,1.1 .9,2.4 .9-5.2 .9,1.4 .9-1.7 .9,1.1 .9-1.6 .9,3.4 .9-4.2 .9,4.9 .9-2 .9,2.4 .9-3.3 .9,.4 .9,1.3 .9,.3 .9-1 .9,2.2 .9-2.6 .9-.2 .9,.4 .9-.6 .9,3.5 .9-2.1 .9,.5 .9-2.8 .9,.3 .9,1 .9-.5 .9,1.6 .9,.2 .9,.8 .9-4.5 .9,5.8 .9-2.4 .9,.1 .9,.5 .9-.4 .9,.1 .9-.6 .9,1.5 .9-3.8 .9-2.3 .9,2.4 .9,.7 .9,.8 .6,2.2 .3-1.8 .9-1.3 .9,3.1 .9-2.4 .9-.9 .9-2.8 .9,1.5 .9-.2 .9-4.2 .5,.3 .4-.3 .9,4.7 .9-1.6 .9,1.2 .9-.2 .9,4.4 .9-.1 .6,1.1 1.2,1.5 .9-2.3 .9-.2 .9-1.8 .9,.2 .9,.5 .9,0 .9,2.9 .9-1.1 .9-1.1 .9-2.1 .9,3.4 .9-3 .9,2.8 .9-.1 .9-3.1 .9-.1 .9,2 .9,1.5 .9-3.2 .9,0 .9,.3 .9,2.3 .9,1.3 .9,.2 .9,1 .9-3.9 .9,.6 .9,2.1 .9,.4 .9-1.3 .9-2.5 .9-.7 .9-1 .9,4.6 .9-.8 .9,1 .9-.2 .9-.5 .9,.5 .9,3 .9-.2 .9-3.1 .9,.1 .9-.5 .9,.9 .9-2.2 .9,2.5 .9-1.1 .9,.4 .9-3.3 .9,.8 .9,2.2 .9,2.5 .9-5.5 .9,2 .9,.5 .9-.8 .9,1.5 .9-.9 .9,.8 .9,.1 .9-2.6 .9,2.8 .9-2.4 .9,3.9 .9-2.5 .9,1.6 .9,.9 .9-.4 .9-3.6 .9,0 .7,1.7 1.1-6.6 .9-3.2 1.2-5.2 .6-5.4 .9-5.1 .8-12.8 1,9.1 .9,8.3 .9,2.6 .4,4.4 .5-1.6 .9,5 .9,4.1 .9-1.1 .9,4 .9-2.1 .8,3.2 1-4.3 .9,.6 .9-5.1 .9-2.4 .9-6.1 .8,2.8 1-1.3 .9-1 .9-2.2 .4-.9 .5,.8 .9,5.5 .9-.5 .9,3.8 .9,1.9 .9,7.3 .8,.5 1-.3 .9-1.2 .9-.6 .9,4.1 .9-.5 .9,4.1 .9-2.8 .9-.8 .9,1.3 .9-2.7 .9-.4 .9-3.1 .9-.7 .9,2.8 .9-1.1 .9-.2 .9-4.8 .6,.6 1.2,.2 .9-1.6 .9-2.4 .9,.9 .9-.6 .9-1.6 .9,1.2 .9-1.4 .9-1.1 .6-1.5 1.2,1.2 .9-.7 .9,10.1 .9-1.3 .9,3.8 .9,2.2 .9,3.7 .5-.4 .4-1.5 .9-.9 .9-1.6 .9,1.1 .9,.9 .9-1.4 .9,3.7 .9,.6 .9,0 .9-1.9 1.1,1.3 .7,.4 .9-.6 .9,1.5 .9-3.1 .9,.1 .9,2.5 .9,.8 .9-.3 .9-1.6 .9,.8 .9,1.5 .9-.8 .9-3.7 .9,1.9 .9,1.3 .9-2.5 .9,.2 .9,.9 .9,1.5 .9-1.7 .9,2.3 .9-1.3 .9-2.9 .9,.8 .9-1.7 .9,3.9 .9-3.2 .9,6 .9-2.2 .9-2 .9,.7 .9,1.6 .9,.5 .9-4 .9,1 .9,1.1 .9,.9 .9-1.5 .9-.6 .9,1.9 .9-5.9 .9,7.3 .9-1.7 .9-.4 .9-3.4 .9,.1 .9,1.9 .9-.1 .9-1.6 .9,1.7 .9,2.1 .9-2.7 .9,.2 .9,1.3 .9-.8 .9,.3 .9,1.3 .9-2.4 .9,1.3 .9,2.2 .9-2.2 .9-.4 .9,1.5 .9,4.7 .9-8.6 .9,4 .9-3.5 .9,1.8 .9-.3 .9,2.9 .9-.4 .9,.8 .9-1.5 .9,2.7 .9-.6 .9-4.4 .9,.4 .9,.5 .9,1.5 .9,.6 .9-3.9 .9,1.9 .9,0 .9,1.8 1-3.7 .8,3.6 .9-1.9 .9-.3 .9-.8 .9,.7 .9,0 .9,4.5 .9-7.8 .9,3 .9,.3 .9,2.7 .9-3.3 .9,4.8 .9-2.8 .9,2.4 .9-.6 .9-2.1 .9-.1 .9,.2 .9-.2 .9,1.7 .9-.8 .9-1.8 .9-2.1 .9,3.4 .9,3.3 .9-4.4 .9,1 .9-1.9 .9-1.2 .9,3.6 .9-2.8 .9,3.7 .9-1.7 .9-1.9 .9,1.8 .9-.3 .9,.3 .9-3 .9,3.2 .9-2 .9,1.5 .9,1.7 .9-5.1 .9,2.8 .9-2.4 .9,1.7 .9,3.5 .9-2.6 .9-.4 .9-1.5 .9-4.3 .9-2.9 .9-2.8 1.2-4.3 .6-.1 .9-4 .9-3.8 .9-1.6 .9,1.1 .9,7.9 .9-4.3 .9,5.6 1.2,4.2 .6,.1 .9,3.5 .9-.3 .9,1.8 .9-1.2 .9,7.5 .9,.5 .4,1.1 .5-1.3 .9,2 .9-1 .9,.8 .9-2 .9,1.8 .9-3.1 .9,1.9 1.2,0 .6-3.8 .9,.4 .9,.9 .9,1.2 .9,.7 .9-1.2 .9,.1 .9,1.8 1.1-2.3 .7,.5 .9,.8 .9,.8 .9,1 .9-1.8 .9-.8 .9,1.6 .9-1.6 .9,2.7 .9-2.6 .9,1.5 .9,2.6 .9-3.3 .9,3.5 .9-2.5 .9-.8 .9,.7 .9-.9 .9,1.3 .9-1.2 .9,.5 .9-.1 .9-.9 .9-2.5 .9,3.2 .9-5.9 .9,6.6 .9-.7 .9-.7 .9,.2 .9-.8 .9,1.3 .9-3 .9-.9 .9,2.5 .9-1.1 .9,1.1 .9-2 .9,3.3 .4,1.1 .5-4.2 .9,3.6 .9,.8 .9-4.4 .9,.4 .9,3.7 .9-1.1 .9-.6 .9-.1 .9,3.1 .9-2.6 .9,.4 .9-1.9 .9,.8 .7,4.5 1.1-1.6 .9-1 .9,.2 .9,.4 .9,.9 .9-.5 .9-1.2 .9,1.6 .9-1.5 .9,1.7 .9-2.6 .9,2.4 .9-4.2 .9,1.1 .9,2.9 .9-2.9 .9-.9 .9,2.3 .9,1.5 .9-1.2 .9-1.1 .9,3.1 .9,.4 .9-4.3 .9,.9 .9-.5 .9,1.9 .9-3.5 .9,2.7 .9-1.5 .9,.8 .9-.7 .9-1.5 .9-.8 .9,1.4 .9,1 .9,1.4 .9-1.1 .9-.3 .9,3.1 .9-2 .9,2.6 .9-1.6 .9,0 .9-2.9 .9,1.4 .9,1.4 .9-.6 .9,2.4 .9-.7 .9-2.3 .9-.5 .9-2.3 .9,3.9 .9-2.6 .9,1.3 .7-1.9 1.1-.9 .9-.9 .9-1.3 .9-1.5 1-5.2 .8,4.2 .9,1.7 .9,2.6 .9,.3 .9,1.2 .9,.9 .9,1.3 .9-.1 1-.9 .8-2.6 .9,2.5 .9,1.8 .9-.7 .9-1.4 .9-.8 .9,2.2 .9-.6 .9-2.8 .9,1.1 .7,.7 1.1-1.2 .9,.4 .9-4.5 .9,1.4 .9-3.7 .9-5.1 .9,1.1 .9-.3 .6-3.6 .3,6.8 .9,.4 .9,2 .9,.6 .9,4.9 .9,1 .9-1.1 .7,2.2 1.1-4.1 .9,3.9 .9,1.1 .9-1.7 .9,.2 .9-1.3 .9,.6 .9-3 .9,2.3 .9-.3 .9,.3 .9,.8 .9-.9 .9,0 .9,3.2 .8-5 1,2.4 .9-3.8 .9-3.4 .9-2.9 .9-1.2 .9,.2 .9-5.7 .9-.4 .7-2.9 1.1-4.5 .9-1.3 .9-1.3 .9-2.1 1-.6 .8-1.6 .9,5.9 .9,1.9 .9,4.5 .9,1.7 .4,.8 .5,2.2 .9,3.2 .9-.7 .9,4.8 .9,0 .9,3.6 .9,1.6 .5,.6 .4-2.4 .9,5.8 .9-5.1 .9,2.4 .9-.6 .9,3.1 .9,.1 .9-2.1 .9,.7 .9-1.5 .9,.9 .9,2.2 .9-2.3 .9,2.4 .9-1.5 .9-2.5 .9,3.4 .9,1.5 .9-1.4 1.1-1.3 .7,2.8 .9,1.8 .9-2 .9-.9 .9,2.8 .9-2.4 .9-1 .9,1.3 .9-2.4 .9-1.1 .9,.8 .9,1.2 .9-1.7 .9,1.3 .9,1.6 .9-1.5 .9,1.6 .9-3.6 .9,1.4 .9,1.7 .9-3.8 .9,4.2 .9,1.6 .9-4.3 .9,3.2 .9,2.7 .9-1.2 .9-1.1 .9-.9 .9,4 .9-3.1 .9-1 .9-2.5 .9,6 .9-1.6 .9-2.1 .9,1.5 .9-1.2 .9-.4 .9,4.8 .9-5.9 .9,.8 .9,.9 .9-2.1 .9,.3 .9,1.2 .9-.6 .9,.7 .9,.5 .9-1.5 .9-.7 .9-1 .9-1.3 .9,1.7 .9-.9 .9,3.1 .9-.2 .9,.6 .9,.8 .9-3 .9,3.2 .9-2.5 .9,3.7 .9-3.9 .9,.9 .9,.2 .9-1.9 .9,4.1 .9,1.4 .9,1 .9-1.6 .9-1 .9,.2 .9-.9 .9-2.1 .9,1.4 .9-1.3 .9,.3 .9,1.4 .9-.7 .9-.2 .9-.4 .9,.5 .9-.5 .9,2.3 .9-1.2 .9,.5 .9,1.5 .9-2.1 .9,.2 .9,1.5 .9-.5 .9,.2 .9-2.1 .9,0 .9,2.1 .9-2.9 .9,.1 .9,1.3 .9,1.2 .9-1.7 .9,.9 .9-1.7 .9,1.3 .9,1.8 .9-3.3 .9-.6 .9,2.3 .9-3.4 .9,5.3 .9-6.9 .9,2.8 .9,3.5 .9-.9 .9-3.2 .9,2.7 .9-.9 .8-.4 1-1.4 .9,1.2 .9-4.6 .9,5 .9-7.7 .9,1.4 .9,2.7 .9-2.8 .9,1.1 .9-3.6 .5-.8 .4,2.4 .9,.2 .9,2.7 .9-2.8 .9,4.7 .9-1.7 .9-1.1 .9-.8 .9,6.5 .4-2.6 .5,2.5 .9,.5 .9-3 .9,1.9 .9-1.6 .9,3.1 .9-2.2 .9,3.7 .9-.6 .9-.5 .9,.1 .9-.4 .9-2.1 .9,.8 .9,1.2 .9-1.7 .9,.4 .9,2 .9-1.9 .9,2.3 .9-4.6 .9,2.8 .9-3.5 .9,6.8 .9-5.1 .9,3.9 .9-1.6 .9-.3 .9-1.3 .9,1.6 .9-2.9 .9,4.1 .9-1.8 .9-2.8 .9,4.3 .9-.3 .9-1.3 .9,1.1 .9-.9 .9-3.8 .9,5.1 .9-.1 .9-.7 .9-1.5 .9,1 .9,.1 .9,1.5 .9-1.2 .9-.9 .9-.3 .9-.8 .9,1.1 .9,.4 .9-1.6 .9-.2 .9,1.8 .9-.5 .9,1.2 .9-.7 .9,1.6 .9,.4 .9-3 .9,1.9 .9,1.1 .9-1.6 .9-.7 .9-1.3 .9-.7 .9,7.1 .9-5.7 .9-.2 .9,1.8 .9-3.2 .9,.6 .9,.8 .9,2.4 .9,.7 .9-3.5 .9,2.7 .9-.1 .9-.4 .9,.6 .9-.3 .9,.5 .9-3 .9,2 .9,2.3 .9-.7 .9-1.2 .9-2.3 .9,2.1 .9-2.5 .9-.1 .9,4.2 .9-2.2 .9,3.2 .9,1.4 .9-2.3 .9-4.6 .9,.9 .9,2.3 .9-1.2 .9-1.7 .9,2 .9-1.5 .9-.4 .9,3.8 .9-4.2 .9,1.6 .9,.8 .9-.3 .9,.5 .9,1.8 .9-3 .9,.4 .6,1.7 .3-3.1 .9,2.2 .9-.7 .9,.1 .9,2.7 .9-3.6 .9-.3 .9-4.7 .9,3.5 .9,.8 1.2,.8 .6,3.3 .9-2.2 .9,.1 .9-.9 .9-1.4 .9,2.8 .9-.8 .9-.5 .9,.8 .9,2.8 .9-3.9 .9-2.3 .9,4.1 .9-.8 .6-1.6 .3,2.1 .9-1.5 .9,4.2 .9-3.5 .9-2 .9-.6 .9,1 .9,0 .9-2.4 .9-3.1 1.2,1.3 .6,.7 .9,.1 .9-3.4 .9-2.6 .9-3.3 .6,.6 .3,.4 .9,3.6 .9-1.7 .9,1.4 .9,2 .9-.1 .9,3.4 .9-1.6 .9,4 .5-2.4 .4,4.4 .9-1.6 .9,1.8 .9-.3 .9,1.3 .9,.3 .9-1.2 .9,.9 .9,3.3 .9-3.5 1.2,1 .6,5 .9-3.8 .9-1.5 .9-.9 .9,.5 .9-1.5 .9,.4 .9,2.1 .9-.8 .9-3.6 .9-.7 .9,2.4 .9-2.5 .9-.2 .9,2.1 .9,.3 .9-2.2 1-.8 .8,1.4 .9,.2 .9-1.8 .9,2.8 .9,1 .9-4.1 .9,0 .9,1.2 .9,1.9 .9-.2 .9-1.9 .9,2.7 .9-3 .9,.4 .9,3.4 .9-5.8 .9,1.4 .9-.8 .9-.3 .9,3.1 .9,2.4 .9-6.6 .9,3.6 .9,2 .9-2.3 .9,2.4 .9-1.8 .9,2.7 .9-1.4 .9,.4 .9,3.8 .9-2.7 .9-3.9 .9,2.2 .9-.8 .9-.5 .9-2.4 .9,3.2 .9,.2 .9,1.9 .9,1.3 .9-2.7 .9,1.4 .9-1.2 .9,.1 .9,.9 .9,.4 .9-.7 .9-.7 .9,1.7 .9-.8 .9-1.2 .9,1.4 .5,.1 .4,.6 .9,1.5 .9-1.7 .9-1.7 .9-3.6 .9,3.4 .9,1.3 .9,1.4 .9-.3 .9,.4 .9-2.8 .9,3.2 .9,.7 .9-.6 .9-.3 .9,3.6 .9-5 .9-.2 .4,4.8 .5-1.6 .9-.2 .9,2 .9-2.3 .9,.9 .9,.1 .9,1.9 .9-5.3 .9,3.4 .9-1.5 .9-.4 .9,1.3 .9-2.5 .9,1.6 .9,.8 .9-1.9 .9,.3 .9-.6 .9-1.1 .9,0 .9,.3 .9,1.2 .9-2.5 .9,2.3 .9-.7 .9,.2 .9,2.6 .9,.3 .9-4.7 .9,2 .9-.7 .9-1.8 .9,3.3 .9-2.3 .9,.9 .9-.8 .9,.9 .9-.4 .9,.2 .9-2 .9,1.2 .9,.6 .9-.4 .9,.9 .9-4.3 .9,1.8 .9,2.4 .9-1.7 .9,.2 .9,.5 .9-.4 .9,.7 .9,.1 .8-.5 1-1.7 .9,5.8 .9-7.8 .9,3 .9-1.7 .9,2.6 .9-4.5 .9,3 .9-1.6 .9,4.1 .9-1.1 .9-5.4 .9,4 .9-.3 .9-1.2 .9,.5 .9-.6 .9,1.5 .9-5.4 .9,2.8 .9,1.6 .9-.7 .9,2.2 .9-5.1 .9,3.2 .9-2.9 .6,3 .3-.5 .9-1.5 .9,.8 .9,3.6 .9-5.6 .9,5.6 .9,.9 .9-1.3 .9-2.8 .9,2.8 .9-.8 .9,.5 .9,1.5 .9-1.4 .9,2.8 .9-1.6 .9,2.2 .9-2.7 .9,1.2 1.1-2.5 .7,.8 .9-1 .9,4.2 .9,.5 .9-1.7 .9,1.8 .9-.8 .9,.5 .9-.3 .9-.9 .9,.3 .9,3.1 .9-2 .9-1.5 .9-4.2 .9,4.3 .9,.8 .9,.6 .9,1.9 .9-5.9 .9,4.6 .9-.8 .9-1.4 .9,2 .9-.7 .9-2.6 .9-.9 .9,3.6 .9-3.1 .9-.5 .9,1.2 .9,3.6 .9-.9 .9-.9 .9-.9 .9,1.5 .9,.1 .9,.6 .9-2.1 .9,1.1 .9,1.3 .9-.1 .9,1.4 .9-2 .9,1.5 .9-4 .9,3.5 .9-3.9 .9,3.3 .9-1.9 .9,3.3 .9-5.2 .9,.3 .9,2.6 .9,.3 .9-1.3 .9-.8 .9,3 .9,0 .9,1.8 .9-2.7 .9-.9 .6,1.4" fill="none" stroke="#FFC000" stroke-width="6" stroke-linejoin="round" stroke-linecap="round"/>
<path d="M269.4,2096.3l1-1 1,.1 1,.5 1-.7 1,.2 1-.2 1,.7 1-.5 1,.5 1-.3 1,.6 1-.4 1,.1 1,.6 1,.9 1-1.1 1-.7 .7,.5 1.3-1.3 1-3.7 1-1.8 .5-.9 .5-2.4 1-6.9 1-5.5 1-6.1 .4-2.3 .6,3.8 1,5.5 1,5.1 .9,3.9 1.1,4 1,1.9 1,2 1,1.8 .7,1.3 1.3-.4 1,.1 1,.1 1,0 1,0 1-.3 1,1.2 1-.2 1,.6 1,.5 1-.9 1,.7 1-.3 1,.8 1,1.2 1-.2 1-.6 1,.4 1,.1 1-.7 1,0 1-.3 1,1.6 1-1.2 1,.3 1,.2 1-.3 1,.9 1-.6 1-1.4 1,.4 .8,1.1 1.2-.6 1,.6 1,.1 1-.1 1-.2 1,.6 1,0 1-.4 1,.7 1,.1 1,.2 1,0 1-.4 1-.5 1,1 1-.5 1-.7 1,.1 1,1 1,.1 1-1.4 1,1 1-.1 1,.1 1,.2 1,.8 1-1.1 1,.9 1-.4 1,.6 1-1.2 1,0 1,.6 1-.1 1,.8 1-.8 1,.4 1-.3 1-.8 1,1 1-.6 1,.3 1,0 1,.5 1-1.3 1,1.1 1-.2 1-.1 1-.4 1,.2 1,.7 1-.1 1,.5 1,.2 1,.1 1-.6 1-.6 1,1.2 1,.1 1-1.7 1,.2 1,1.3 1-.2 1-.6 1,.5 1-1 1,.6 1,1 1-1.5 1,1.2 1-.9 1,1.6 1-1.3 1-.4 1,.1 1,.1 1,.4 1,.7 1-1.2 1,.4 1,.5 1-.6 1,.8 1-.4 1-.1 1-.2 1,.5 1,.3 1-.8 1,.7 1-.5 1-.7 1,1.4 1-.4 1,.9 1-.7 1,.3 1-.2 1-.5 1,.6 1,.2 1-.5 1-.1 1,0 1-.5 1,.8 1,.8 1-.2 1-.1 1-.3 1,0 1.2,1 .8-.6 1-.7 1-.7 1,.4 1,1.1 1,.3 1,.8 1-.8 1-.4 1,.2 1-1.2 1,1.5 1-1.2 1,.9 1,0 1,.2 1,.2 1,.2 1,0 1-.3 1,.3 1,.1 1-.6 1,.6 1-.5 1,.4 1,.1 1-.5 1-.3 1,1.1 1-.8 1,.1 1,.7 1-.6 1,.4 1,.3 1-.4 1,.1 1,.6 1,.3 1-1.3 1,1 1,.1 1-.8 1,.1 1-.3 1,1.1 1-.5 1,.2 1-.4 1,1.2 1-1 1,.3 1,.5 1,0 1-.4 1,.1 1,.1 1-.2 1-.2 1-.3 1,0 1,.1 1.3-.5 .7,.4 1,.1 1-.7 1-.4 1,0 1-.1 1,.1 1,.3 1-.5 1,.2 1-1.1 1,.7 1-.7 1-.2 1-.3 1-.2 1,.1 1-.1 1-.1 1-.4 1,1.2 1-.2 1-.6 1-1.3 1,.6 1,.6 1-2.6 1,.3 1-1.8 1-2.7 1,.3 1-1.4 1-1.6 1-1.6 1-4.2 1-3.2 1-5.7 1.2-5.9 .8-28.6 1-36.3 .5-15.1 .5-51.3 1-89.3 .7-58.2 1.3,103.3 1.3,96.2 .7,18.8 1,24.2 1,26.3 .5,10.3 .5,2.9 1,5.9 1,4.7 1,5.6 1.3,6.7 .7,1.1 1,.1 1,.9 1,.2 1,.6 1,.4 1,.9 1-.7 1,.9 1,0 1,1.9 .5,0 .5-1 1,.7 1-.6 1,.9 1-.7 1,1.7 1,0 1,.2 1-.6 1-.4 1,.7 1,.1 1,0 1-.4 1,.2 1,.1 1,1.4 1-1.2 1-.2 .8-.8 1.2-1.4 1-3.2 1-2.8 1-2.6 .6-1.7 .4,.9 1-1.4 1,1.1 1-.8 1,3 1,3.5 1.3,5.7 .7,.4 1,.5 1,1.2 1,1.3 1-1.4 1,.9 1,.5 1,.9 1-1 1,.3 1-.2 1-1.3 1,.2 1,0 1,.2 .4-.2 .6-.7 1-2.3 1-.8 1-1.7 .7,.2 .3,0 1,1.6 1,1.9 1,2.2 .9,1.6 1.1-1.4 1,.5 1,.5 1-1 1,.8 1-.7 1,1 1-.5 1-.1 1,0 1-.2 1,.6 1,.9 1-1.4 1,.6 1-.5 1,.2 1-.3 1,.1 1-.2 1,.7 1-.8 1,.3 1,.9 1-.4 1,.3 1-.8 1,.1 1,.2 1-.1 1,.2 1-.2 1,.2 1-.1 1,.4 1-1.4 1,.8 1-.1 1-.3 1,.9 1-.8 1,.3 1-.1 1-.5 1-.3 1,.1 1,.4 1-.1 1,.5 1.3,0 .7-1.3 1-.8 1-1.9 1-.4 1.3-3 .7-1.7 1-3.5 1-3.8 .7-1 .3-8.4 1.4-31.7 .6-20.4 .7-21.4 1.2-1.6 1.1,12.3 .6,5.9 .4,9.7 1.2,24 .8,8.9 1,10.8 .8,9 1.2,8 1.3,8.7 .7,.6 1,1.4 1,0 1,1.1 1,2.1 1.2,.8 .8,.4 1-.5 1-.4 1,.5 1-.5 1-.6 1,1.2 1-1.1 1,.7 1-.4 1-1 1,.4 1-.7 1,.3 1,.5 1,.4 1-1.4 1,1.4 1-.4 1,.2 1,0 1,.6 1-.2 1-.3 1-1.1 1,.7 1,0 1,.1 1-.2 1,.7 1-.7 1-.3 1,.8 1-1 1,.8 1,.2 1,.1 1,.5 1-.8 1,.1 .5-.2 .5-.4 1-2.1 1-.7 1-.6 .7-.6 1.3-7.2 1.2-4.9 .8-.3 1-.3 1,.5 .8,.1 1.2,2.5 1,3.2 1,2.5 1-13.4 1-13.7 .6-7.4 .4-1.1 1-1.8 1.2-2.5 .8,15.2 1.1,18 .9,3.1 1,3.6 1,4.3 1.3,4.3 .7-.2 1,1.2 1-.1 1,.1 1-.5 1,.2 1,.2 1,.6 1-.3 1,.6 1,0 1,.9 1,.4 1-.2 .7-.6 1.3,.8 1-.8 1,.3 1-.1 1-.7 1,.2 1,.4 1,.6 1-.2 1-.4 1-.1 1,.8 1-1.4 1,.4 1-.7 1,.3 1-.3 1,.3 1-1.5 1,.4 1,.7 1.2-.7 .8-1.5 1-.4 1-1.4 1-.5 1-2 .9,.1 1.1,1.5 1,1.5 1,1.3 .8,2.3 1.2,.1 1-.8 1-1.1 1,1.2 1,1.2 1-2.2 1-.2 1,.9 1,.4 1-.6 1,.5 1,.6 1-1.2 1,1.8 1-.4 1,.7 1-1.2 1,.3 1-.7 1,.4 1,.1 1-1.1 1,.5 1,.9 1-.9 1,.6 1,.3 1-.6 1-.6 1,.1 1,.4 1,.3 1,.7 1-.2 1-.1 1,0 1,1.3 1-.6 1-.6 1-1.6 1,2.4 1-.5 1-.3 1-.4 1,1.2 1,.4 1-1.9 .9,1.3 1.1-2.8 1-1.5 1-3.3 1-.9 1-2.2 1.3-2.5 .7,2.7 1,0 1,2.1 1,2.7 1,.6 1,1.3 .8,.8 1.2,.1 1,1.4 1-.5 1,.8 1,.2 1-.3 1-1.2 1,.6 1,.3 1,.5 1-.3 1,.2 1-.2 1,.8 1-.3 1-.2 1-.1 1,.1 1,.7 1,.4 1-1 1,.1 1,.3 1,1.2 1-.9 1-.4 1,.5 1-.6 1,.5 1-.1 1-.1 1,.4 1,.3 1-.5 1,.6 1-.7 1,1.5 1-.7 1-1.6 1,1 1,.1 .5,1.6 .5-1.4 1,.2 1-.4 1,.4 1-1 1-1.1 1,.1 1-.8 .5-.2 .5-.1 1,.8 1,1.2 1,0 1,0 1,.4 1,.9 1,.2 .5,.2 .5-.2 1-.3 1,.8 1-.7 1,.7 1-.5 1,1 1-1.2 1-.6 1,.4 1-.2 1,.4 1-.9 1,.5 1,.1 1,1 1-1 1-.3 1,.6 1,.4 1,0 1-.3 1-.1 1-.6 1-.5 1,.4 1,1.2 1-.8 1-.7 1,.7 1-.2 1,.6 1,.2 1-.6 1-.5 1,1.3 1-.3 1-.5 1-.6 1-5.5 1-6.9 1.2-7 .8-2 1-1.7 .8-2.1 1.2,3.2 1,3.2 1,2.8 .7,1.2 .3-.5 1,3.7 1,3 1,3.1 1,2.4 .5,1.9 .5-1.1 1,.6 1-1.3 1,.1 1-1.3 1-1.2 1-.4 1-.8 .5,.3 .5,.1 1,0 1,2.3 1,1.8 1.3,1.2 .7,.6 1-.4 1-.4 1,.1 1,.5 1-.2 1-.3 1-1.2 1,1.8 1-.9 1,.2 1,.1 1,1 1-.3 1,.6 1-.3 1-.1 1-.1 1-.4 1,1.2 1-.4 1,.6 1,.5 1-1.6 1,.7 1-.3 1-.3 1,.2 1,.7 1,.5 1-1.1 1,.3 1-.1 1-.6 1,1 1-.5 1-.1 1-.3 1,.1 1,.2 1-1 1,1.7 1-1.1 1,.5 1,.1 1-.2 1,1 1-.6 1,.1 1,0 1-1.2 1,1.9 1-.2 1-1.7 1,1.6 1-.5 1,.8 1-1 1,.5 1,0 1,.9 1-.3 1,0 1,.4 1,.1 1,.1 1,.8 1-1.7 1,.1 1,.8 1-.9 1,.8 .5,.8 .5-2.2 1,.2 1-.4 1-2.5 1-2.3 1-1.1 .9-.5 1.1,1.5 1-.8 1-.1 1,.3 1-.1 1.4-.1 .6,0 1,2.9 1,.6 1,.9 1.2,1.6 .8-.3 1,1.2 1-1.3 1,0 1,.1 1,.6 1,0 1-.8 1,1.2 1-1.3 1,.9 1,.5 1-1.6 1,.6 1-.9 1,.9 1-.7 1,.1 1-.3 1-.3 1-.5 1,.9 1-.5 1-.3 1-.8 1,1.3 1,.3 1-.3 1-.5 1,.4 .7,1 .3-1.8 1-3.2 1-1.5 1-3.6 1-3.7 .5-.1 .5-6.9 1-14 1-12.8 .7-7.3 .3-8.1 1-18.3 1.3-22.9 .7,13.8 1,16.1 1.1,18.1 .9,10.3 1,9.4 1,9.9 1.3,13.1 .7,1 1,3.4 1,2.8 1,2.6 1.1,2.2 .9,.1 1,.1 1,.2 1,.7 1,0 1,0 1-.3 1,.5 1-.5 1-.7 1,2 1-1.2 1,.2 1,.8 1-1.1 1,.1 1,.4 1,0 1,1.6 1-1.5 1,1 1-.6 1-.2 1,.7 1-1.3 1,.6 1-.2 1,.5 1-.8 1-.4 1-1.4 1-.6 1-.7 1,.3 1-1.1 .4,.7 .6-.1 1,.3 1,1.5 1,1 1-.9 1,1.8 .8,1.5 1.2-.1 1-1.1 1-.9 1,0 1,.3 1,.5 1,.6 1-.7 1,1.5 1-.7 1,.5 1-.6 1,1.1 1-.6 1,0 1-.8 1,0 1,1.6 1-1.7 1,.6 1,.6 1-.8 1,.5 1,.3 1,.4 1,.4 1-1.5 1,.6 1,0 1-1.2 1-.5 1,.9 1,1.1 1-.7 1-1 1,.9 1,.6 1-.4 1,.8 1,.2 1-.4 1,0 1,.2 1-.2 1-.4 1-.2 1-.1 1,1.3 1-1.3 1,.3 1-.4 1,.4 1,.5 1-1.1 1,.7 1-.9 1,.3 1,.2 1,.9 1,.6 1-1 1,.4 1-.7 1,0 1,.7 1,.2 .6,0 .4,.1 1-.6 1,.2 1,.3 1-1 1-.1 1,.1 1,0 1-.8 1,1.4 1,0 1-.6 1-.5 .4,2 .6-2.8 1-1.3 1-2.6 1-2.2 1-2.2 1-2.3 .9-1.1 1.1,2.3 1,1.4 1,2.2 1,2.5 1,2.7 1.3,1.8 .7,.4 1-.8 1,.4 1,0 1-.9 1,1.1 1-.9 1,.1 1-.2 1,1 1-.5 1-.2 1,.5 1,.7 1,.2 1,0 1-.3 1,0 1,.5 1,0 1,1.4 1-1.3 .7,.7 1.3-.8 1-.1 1-.5 1-.6 1-1 1-.5 1-.8 1-.4 1,.5 1,.3 1-1.2 1-.9 1-1.4 1.2,0 .8,1 1,.7 1,1.4 1,.6 1,1.5 1,.4 .6,.8 .4-.7 1-.8 1,.3 1,.1 1,1.8 1-1.4 1,.2 1,.4 1,.6 1-1 1,.9 1-.2 1-.4 1-.5 1,.2 1,.1 1-.6 1,.7 1-.4 1,.6 1-.6 1,.8 1,.4 1,.1 1-.5 1,0 1,.2 1-.2 1-1 1-.7 1,1.9 1-1.5 1,1.3 1.3-.9 .7-1.6 1-1.3 1-2.1 1-.5 1-3.1 1.1-1.6 .9,1.1 1,1.7 1,2.1 1,1.5 1,2 .5,1.8 .5-.5 1-.1 1,.7 1-.4 1-.5 1-.7 1,1.3 1-.9 1,.7 1,.1 1,0 1-.3 1-.3 1,.4 1,.3 1-1 1,.4 1,.6 1-.1 1-.5 1,.3 1-.7 1-.6 1,.5 1,.3 1-.4 1-.2 .8,1.1 1.2-3 1-2 1-3.7 1-2 1-3.1 .6-1.2 .4-8.4 1-15.3 1.2-18.2 .8-7.9 1-6.6 .4-2.9 .6,8.1 1,11.7 1.3,13.8 .7,5.4 1,7.3 1,6.5 1,7.2 .5,3.3 .5,1.2 1,1.6 1,2.1 1,1.4 1.3,3.3 .7-.1 1-.6 1-.6 1,.7 1.1-1.1 .9-2.2 1-3.8 1-1.8 1.3-3 .7,1.8 1,4.3 1,3.5 1.1,3.6 .9,.6 1-.4 1,0 1-.8 1,.4 1,.3 1,.6 1,.2 1-1.1 1,0 1-.8 1,0 .9,.6 1.1-2.7 1-1.1 1-1.7 1-2.9 1-1.1 .7-1.3 1.3,2.9 1,1.8 1,1.9 1,1.8 1.2,2.4 .8-1.1 1,2.8 1-.6 1,0 1-.4 1,1.1 1-.3 1.2,1.4 .8,.1 1-1.3 1,1 1-.5 1-.7 1,.4 1,.7 1-.3 1-.3 1-.2 1,.7 1-.1 1-.4 1-.8 1,1.1 1,.1 1,.1 1-.5 1-.7 1-.2 1.1-.3 .9-1.8 1-1.3 1-2.4 1-1.2 1-1.1 1-3.3 1.1-1.2 .9,2.1 1,.7 1,1.5 1,4.2 1,1.4 1,1.8 .5,1.3 .5-.5 1,.4 1-.8 1-.1 1,.7 1-.7 1,.7 1-.1 1-.7 1,1.1 1-.1 1,.1 1-.8 1,.2 1-.4 1,.7 1,1.2 1,.5 1,.7 1-1.5 1,.4 1-.8 1,.3 1,.8 1-.7 1-.8 1.2,1.3 .8-1.4 1-.1 1-.2 1-.9 1-1.2 1-2.4 1,.7 1-1.9 .8-.5 1.2,1.6 1-.3 1,1.6 1,1.1 1,.2 1,.5 1.2,2.2 .8-.1 1-.2 1,.7 1,.3 1,0 1-1.1 1,.8 1-.4 1-.8 1,.8 1-.7 1-.5 1,.4 1,1.3 1-.5 1,1.3 1,.1 1,.1 1-1.1 1,1.1 1-1.2 1-.4 1,.7 1-1 1,.7 1-.7 1,.1 1,.4 1.1,.6 .9,.4 1-.2 1-.8 1,.4 1,.2 1-.6 1,0 1,.9 1-1.7 1,.4 1,1.6 1-.6 1-1.8 1,.7 1-.2 1-.4 1,1.5 1-1.5 1-.2 1-.1 1,1.2 1-.2 .6,.6 .4-1.6 1-1.4 1-2.2 1-1.6 1.4-1.7 .6-1.2 1-3.7 1-1.4 1.2-2.1 .8,2 1,2.5 1,2.4 1,4.3 .4,.5 .6,.3 1,.2 1-2 1,.4 1,.5 1,.1 1-.5 1-1 1,1.6 1-.4 1,.5 1,1 1,.5 1,.2 1,1.6 1,.1 1,1.3 1.1,.4 .9-.2 1,.6 1-.1 1-.5 1,1 1-1.4 1,1.7 1-.5 1-.5 1,.1 1,.3 1,.2 1-.7 1,.8 1-.8 1-.2 1-.7 1,2 1-.1 1-.3 1-.7 1,1.3 1,1.7 1-2 1-1.3 1,.7 1.3,1.2 .7-1.8 1-.5 1-1.1 1-.8 1.2-.4 .8,0 1,.4 1,1.1 1,1.2 1,1 1,.4 .6,.4 .4,.2 1-.4 1-.1 1-.9 1,1.5 1-1 1,1 1-1.4 1,.3 1,.7 1-.2 1-.2 1,.6 1,.5 1-.6 1-.4 1,.2 1,.1 1-.9 1-.7 1,.6 1,.8 1,.4 1-.7 1,.5 1-.1 1,.4 1,.8 1-1 1,.7 1-.9 1,.4 1-.4 1,.7 1-1 1,.2 1,.4 1,.8 1-1.3 1,.5 1,.9 1-1 1,.1 1,.1 1-.4 1-.1 1-.4 1,.4 1-.3 1,.5 1-.5 1,.4 1,0 1,1.6 1-1.4 1,.3 1,.3 1-.6 1,.5 1-.2 1-.1 1,.3 1,.1 1-.1 1-.1 1,0 1-1 1,1.5 1-.5 1,.1 1-1.2 1,.9 1,.5 1-.3 1,.5 1-.2 1,0 1-.3 1,.1 1-.3 1,.9 1-1 1,.1 1-.9 1,0 1-.4 1,.6 1,.5 1,.5 1-.4 1,.5 1,.4 1-.4 1,0 .6-.5 .4-1.1 1-.6 1,.6 1,.3 1,.9 1,1 1-1 1,.3 1-1.1 1.2,.5 .8-.4 1-.5 1-.5 1,0 1-.4 1-1.7 1,.7 1-.9 1-.4 .9-.7 1.1,1.3 1-.3 1,.8 1,.8 1-.1 1,1 1,1.1 1-.2 1,1.1 .5-.2 .5-.6 1,.7 1-.5 1,.8 1-.1 1-.7 1,.3 1-.6 1,.4 1,0 1-.5 1,.2 1,.5 1,.4 1-1 1,.6 1-.4 1,0 1,.3 .7-.4 1.3-1.4 1-.5 1-1 1-.5 1-1.1 1-1.4 1-1.1 .8-.9 1.2,2.3 1-.5 1,.7 1,1.6 1,.1 1,1.8 1-.6 1,1.1 1.4,.7 .6-.1 1,1.9 1-1.7 1-.6 1,.2 1,1.4 1-1.8 1,.5 1,.4 1,.7 1-1.1 1,.4 1,.2 1,.5 1-1 1,.2 1-.4 1,.9 1-.3 1,1.2 1.2-.9 .8-1.4 1-.3 1-2 1-1.6 1-1.1 1-1.1 .7-.8 .3,.5 1,.7 1,.6 1,.2 1,.5 1,.7 1,0 1,0 1,1.3 1-.7 1,1.3 1,.7 1,.5 1,1.4 1-.6 1,1.3 .7,.4 1.3-.1 1-1.3 1,.4 1-.3 1-.1 1,.4 1-.1 1-.8 1,1.2 1,0 1,.2 1,.2 1-.3 1,.2 1,.2 .8-1.1 1.2,.1 1,.2 1-2 1,.3 1,0 1,0 1-.9 1,1.3 1.4-1.2 .6-.1 1,.8 1,.8 1-.1 1,.5 1,.7 1-.2 1,1.7 1,.1 1-.7 1-.6 1,.6 1,.8 1,.2 1-.9 1,0 1,.8 1-.9 1,.1 1-.4 1,.2 1-.8 1,.7 1-.5 1-.5 1,.9 1-.4 1-.6 1.3-.1 .7,1 1,.4 1-1.8 1-.5 1,.2 1-1.4 1,.3 1.3-1.8 .7,1.2 1,1.3 1,.2 1,.9 1,.5 1-.3 1,.5 1.3,.9 .7-.7 1,.3 1,0 1-.2 1-.1 1,1.6 1-1.6 1-.7 1,.4 1,.4 1-.3 1-.4 1,.3 1-1.2 1,.5 1.4-1 .6,1.7 1-.7 1,.1 1-.1 1-.5 1-.4 1-1.2 1,.1 1-.6 1-.2 1-.2 .6,0 .4,.2 1,.2 1-.1 1,.9 1,.7 1,.5 1,.4 1,.5 1,.1 1,1.2 1-1.5 .8,1.3 1.2,.4 1-.1 1,.3 1-.6 1,.3 1,.2 1-.1 1-1 1,1.3 1-1.6 1,.5 1,.8 1-.2 1-.2 1-.6 1-.4 1,.4 1-.9 1.1,.6 .9-1 1-.7 1-1.2 1,.8 1-2.5 1,1.2 1-1 1.1-1.1 .9,.8 1,.7 1,.5 1-.8 1,1.1 1,.2 1,1 1,.3 1,.7 1,.8 1.3,1.2 .7-.6 1,.2 1,.1 1,0 1,0 1,.2 1-1 1-1.2 1,.3 1,1.3 1,.2 1-1.2 1,.7 1-.1 1-.5 1-.3 1-.9 1,.9 1-.9 1-.4 1,1 1-.6 1-.4 1,.8 .4-.8" fill="none" stroke="#00B050" stroke-width="6.3" stroke-linejoin="round" stroke-linecap="round"/>
</g>
<line x1="270" y1="1789.5" x2="2036.8" y2="1789.5" stroke="#000" stroke-width="2.6"/>
<line x1="2035.6" y1="1789.5" x2="2035.6" y2="2825.4" stroke="#000" stroke-width="2.6"/>
<g id="markers-b">
<circle cx="520.7" cy="2276.3" r="18.3" fill="#00B0F0"/>
<circle cx="653.6" cy="2482.6" r="18.3" fill="#00B0F0"/>
<circle cx="1078.5" cy="2409.5" r="18.3" fill="#00B0F0"/>
<circle cx="1337.5" cy="2438.3" r="18.3" fill="#00B0F0"/>
<circle cx="1418" cy="2542.6" r="18.3" fill="#00B0F0"/>
<circle cx="1722" cy="2542.6" r="18.3" fill="#00B0F0"/>
<circle cx="1937.9" cy="2526.6" r="18.3" fill="#00B0F0"/>
<circle cx="2006.9" cy="2526.6" r="18.3" fill="#00B0F0"/>
<circle cx="603.8" cy="2039.3" r="18.3" fill="#7F7F7F"/>
<circle cx="768.5" cy="2010.4" r="18.3" fill="#7F7F7F"/>
<circle cx="817.9" cy="2055" r="18.3" fill="#7F7F7F"/>
<circle cx="1002.1" cy="2055" r="18.3" fill="#7F7F7F"/>
<circle cx="1321.4" cy="2055" r="18.3" fill="#7F7F7F"/>
<circle cx="1431.8" cy="2055" r="18.3" fill="#7F7F7F"/>
<circle cx="1604.8" cy="2055" r="18.3" fill="#7F7F7F"/>
<circle cx="602.6" cy="2557.1" r="19.3" fill="#7F7F7F"/>
<circle cx="767.8" cy="2512.8" r="19.3" fill="#7F7F7F"/>
<circle cx="816.6" cy="2569.9" r="19.3" fill="#7F7F7F"/>
<circle cx="1001.1" cy="2569.9" r="19.3" fill="#7F7F7F"/>
<circle cx="1320.1" cy="2570.6" r="19.3" fill="#7F7F7F"/>
<circle cx="1430.5" cy="2570.6" r="19.3" fill="#7F7F7F"/>
<circle cx="1603.8" cy="2570.6" r="19.3" fill="#7F7F7F"/>
</g>
<g id="dashes-b">
<line x1="602.2" y1="1851.2" x2="602.2" y2="2815.4" stroke="#000" stroke-width="3.0" stroke-dasharray="17.6 6.4"/>
<line x1="769.4" y1="1851.2" x2="769.4" y2="2815.4" stroke="#000" stroke-width="3.0" stroke-dasharray="17.6 6.4"/>
<line x1="818.5" y1="1851.2" x2="818.5" y2="2815.4" stroke="#000" stroke-width="3.0" stroke-dasharray="17.6 6.4"/>
<line x1="1005.3" y1="1851.2" x2="1005.3" y2="2815.4" stroke="#000" stroke-width="3.0" stroke-dasharray="17.6 6.4"/>
<line x1="1322.4" y1="1851.2" x2="1322.4" y2="2815.4" stroke="#000" stroke-width="3.6" stroke-dasharray="17.6 6.4"/>
<line x1="1433.1" y1="1851.2" x2="1433.1" y2="2815.4" stroke="#000" stroke-width="3.8" stroke-dasharray="17.6 6.4"/>
<line x1="1604.2" y1="1851.2" x2="1604.2" y2="2815.4" stroke="#000" stroke-width="3.8" stroke-dasharray="17.6 6.4"/>
</g>
<text x="223.4" y="1807.2" font-family="'Liberation Sans',Arial,sans-serif" font-size="57.3" font-weight="normal" text-anchor="end" fill="#000" letter-spacing="2.5">350</text>
<text x="223.4" y="1955.4" font-family="'Liberation Sans',Arial,sans-serif" font-size="57.3" font-weight="normal" text-anchor="end" fill="#000" letter-spacing="2.5">300</text>
<text x="223.4" y="2103.6" font-family="'Liberation Sans',Arial,sans-serif" font-size="57.3" font-weight="normal" text-anchor="end" fill="#000" letter-spacing="2.5">250</text>
<text x="223.4" y="2251.8" font-family="'Liberation Sans',Arial,sans-serif" font-size="57.3" font-weight="normal" text-anchor="end" fill="#000" letter-spacing="2.5">200</text>
<text x="223.4" y="2400" font-family="'Liberation Sans',Arial,sans-serif" font-size="57.3" font-weight="normal" text-anchor="end" fill="#000" letter-spacing="2.5">150</text>
<text x="223.4" y="2548.2" font-family="'Liberation Sans',Arial,sans-serif" font-size="57.3" font-weight="normal" text-anchor="end" fill="#000" letter-spacing="2.5">100</text>
<text x="223.4" y="2696.3" font-family="'Liberation Sans',Arial,sans-serif" font-size="57.3" font-weight="normal" text-anchor="end" fill="#000" letter-spacing="2.5">50</text>
<text x="223.4" y="2844.5" font-family="'Liberation Sans',Arial,sans-serif" font-size="57.3" font-weight="normal" text-anchor="end" fill="#000" letter-spacing="2.5">0</text>
<text x="271.9" y="2915" font-family="'Liberation Sans',Arial,sans-serif" font-size="57.3" font-weight="normal" text-anchor="middle" fill="#000" letter-spacing="2.5">20</text>
<text x="566.5" y="2915" font-family="'Liberation Sans',Arial,sans-serif" font-size="57.3" font-weight="normal" text-anchor="middle" fill="#000" letter-spacing="2.5">30</text>
<text x="861" y="2915" font-family="'Liberation Sans',Arial,sans-serif" font-size="57.3" font-weight="normal" text-anchor="middle" fill="#000" letter-spacing="2.5">40</text>
<text x="1155.5" y="2915" font-family="'Liberation Sans',Arial,sans-serif" font-size="57.3" font-weight="normal" text-anchor="middle" fill="#000" letter-spacing="2.5">50</text>
<text x="1450" y="2915" font-family="'Liberation Sans',Arial,sans-serif" font-size="57.3" font-weight="normal" text-anchor="middle" fill="#000" letter-spacing="2.5">60</text>
<text x="1744.5" y="2915" font-family="'Liberation Sans',Arial,sans-serif" font-size="57.3" font-weight="normal" text-anchor="middle" fill="#000" letter-spacing="2.5">70</text>
<text x="2039" y="2915" font-family="'Liberation Sans',Arial,sans-serif" font-size="57.3" font-weight="normal" text-anchor="middle" fill="#000" letter-spacing="2.5">80</text>
<text transform="translate(78.1,2374.7) rotate(-90)" font-family="'Liberation Sans',Arial,sans-serif" font-size="61" letter-spacing="-0.6" fill="#000"><tspan font-weight="bold">Intensity</tspan> (a.u.)</text>
<text x="1036.4" y="2998.4" font-family="'Liberation Sans',Arial,sans-serif" font-size="61" letter-spacing="-0.25" fill="#000"><tspan font-weight="bold">2 Theta</tspan> (degree)</text>
<circle cx="402.8" cy="1670.3" r="15.3" fill="#7F7F7F"/>
<text transform="translate(440.2,1690.5) scale(0.968,1)" font-family="'Liberation Sans',Arial,sans-serif" font-size="55.6" font-weight="normal" text-anchor="start" fill="#000">Co3O4</text>
<circle cx="843.6" cy="1670.3" r="15.3" fill="#00B0F0"/>
<text transform="translate(881,1690.5) scale(0.968,1)" font-family="'Liberation Sans',Arial,sans-serif" font-size="55.6" font-weight="normal" text-anchor="start" fill="#000">CeO2</text>
<line x1="1253.7" y1="1670.8" x2="1317.3" y2="1670.8" stroke="#000" stroke-width="5"/>
<text transform="translate(1320.6,1690.5) scale(0.968,1)" font-family="'Liberation Sans',Arial,sans-serif" font-size="55.6" font-weight="normal" text-anchor="start" fill="#000">Co-La</text>
<line x1="1695" y1="1670.8" x2="1755.7" y2="1670.8" stroke="#00B0F0" stroke-width="5"/>
<text transform="translate(1762.5,1690.5) scale(0.968,1)" font-family="'Liberation Sans',Arial,sans-serif" font-size="55.6" font-weight="normal" text-anchor="start" fill="#000">Co-Ce</text>
<line x1="375" y1="1746" x2="435.8" y2="1746" stroke="#ED7D31" stroke-width="5"/>
<text transform="translate(440.2,1763.3) scale(0.968,1)" font-family="'Liberation Sans',Arial,sans-serif" font-size="55.6" font-weight="normal" text-anchor="start" fill="#000">Co-Sm</text>
<line x1="813" y1="1746" x2="876.5" y2="1746" stroke="#FF0000" stroke-width="5"/>
<text transform="translate(881,1763.3) scale(0.968,1)" font-family="'Liberation Sans',Arial,sans-serif" font-size="55.6" font-weight="normal" text-anchor="start" fill="#000">Co-Gd</text>
<line x1="1253.7" y1="1746" x2="1317" y2="1746" stroke="#FFC000" stroke-width="5"/>
<text transform="translate(1320.6,1763.3) scale(0.968,1)" font-family="'Liberation Sans',Arial,sans-serif" font-size="55.6" font-weight="normal" text-anchor="start" fill="#000">Co-Dy</text>
<line x1="1695" y1="1746" x2="1756" y2="1746" stroke="#00B050" stroke-width="5"/>
<text transform="translate(1762.5,1763.3) scale(0.968,1)" font-family="'Liberation Sans',Arial,sans-serif" font-size="55.6" font-weight="normal" text-anchor="start" fill="#000">Co-Yb</text>
<text x="1892.5" y="2053.4" font-family="'Liberation Sans',Arial,sans-serif" font-size="35" font-weight="bold" text-anchor="start" fill="#00B050" letter-spacing="0.5">Yb2O3</text>
<text x="1884" y="2183.7" font-family="'Liberation Sans',Arial,sans-serif" font-size="35" font-weight="bold" text-anchor="start" fill="#FFC000" letter-spacing="0.5">DyCoO3</text>
<text x="1890.5" y="2298.1" font-family="'Liberation Sans',Arial,sans-serif" font-size="35" font-weight="bold" text-anchor="start" fill="#FF0000" letter-spacing="0.5">GdCoO3</text>
<text x="1881.5" y="2452.1" font-family="'Liberation Sans',Arial,sans-serif" font-size="35" font-weight="bold" text-anchor="start" fill="#ED7D31" letter-spacing="0.5">SmCoO3</text>
<text x="1889" y="2727.6" font-family="'Liberation Sans',Arial,sans-serif" font-size="35" font-weight="bold" text-anchor="start" fill="#000" letter-spacing="0.5">LaCoO3</text>
<text font-family="'Liberation Serif','DejaVu Serif',serif" font-size="106" fill="#000"><tspan x="1023.4" y="3190.6" font-weight="normal" textLength="30" lengthAdjust="spacingAndGlyphs">(</tspan><tspan x="1055.1" y="3189.4" font-weight="bold" textLength="62.5" lengthAdjust="spacingAndGlyphs">b</tspan><tspan x="1119.1" y="3190.6" font-weight="normal" textLength="30" lengthAdjust="spacingAndGlyphs">)</tspan></text>
</g>
</svg>
</body></html>
